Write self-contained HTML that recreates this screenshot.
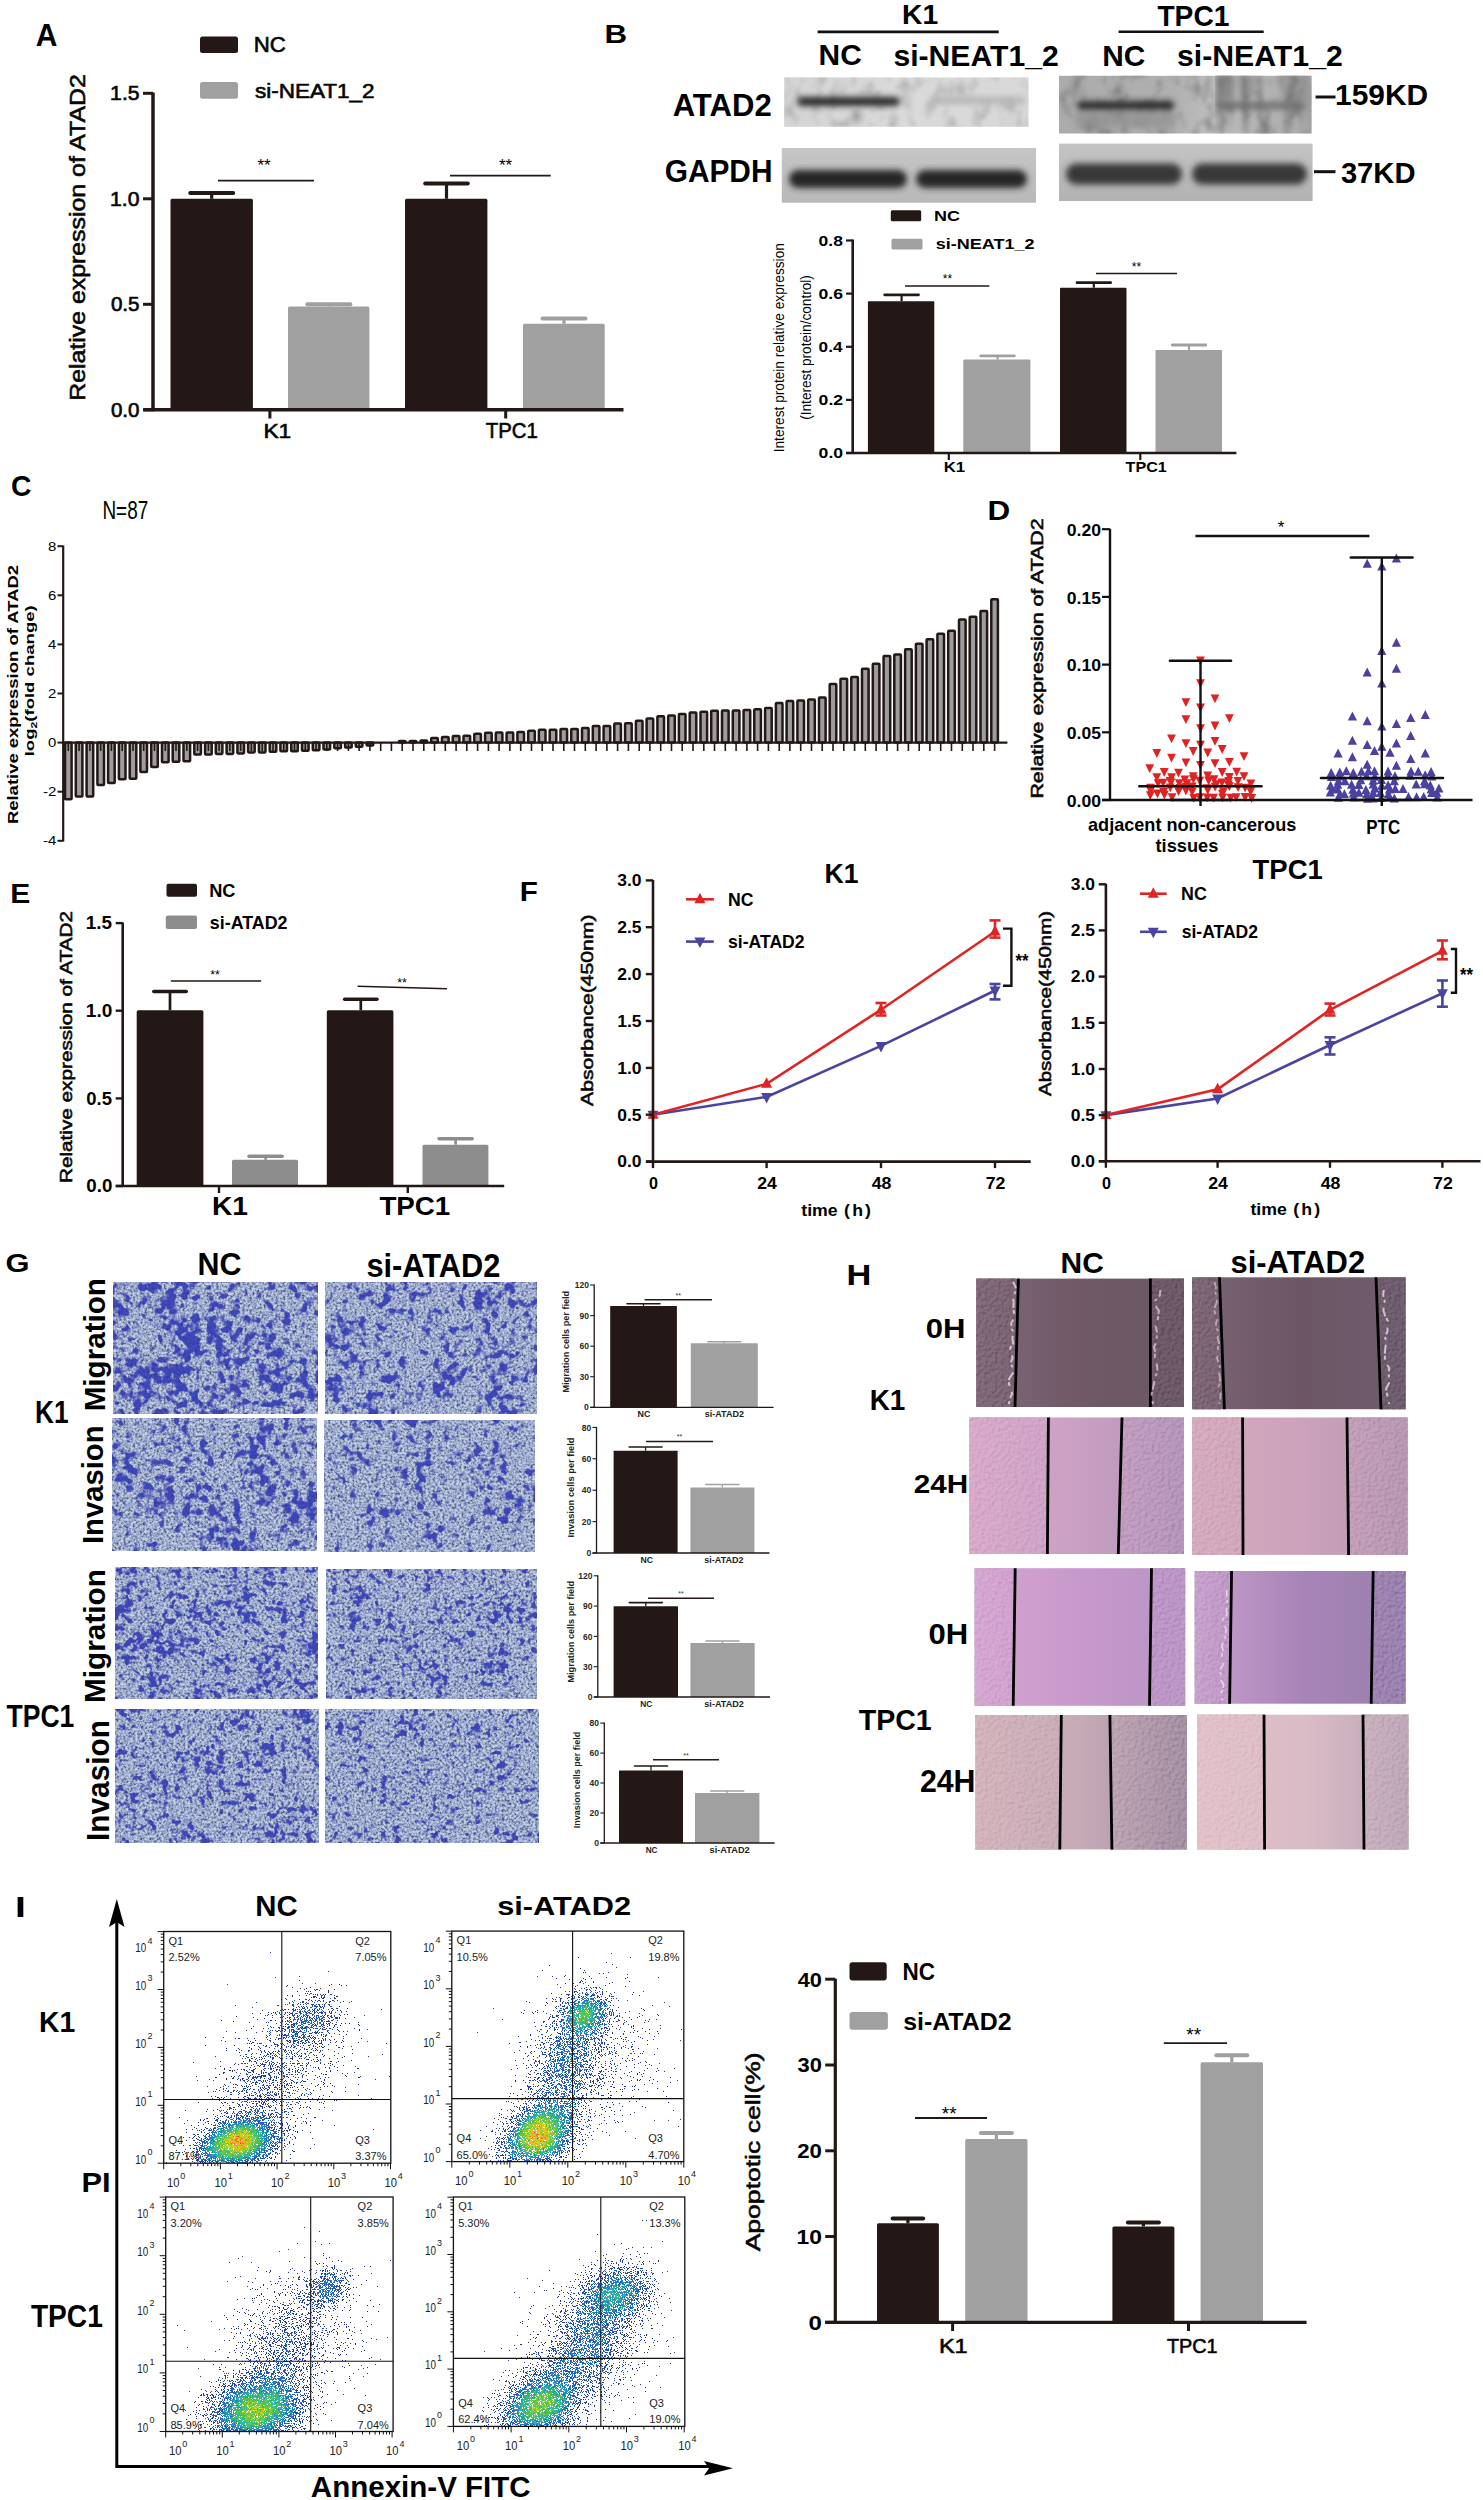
<!DOCTYPE html>
<html><head><meta charset="utf-8"><title>Figure</title>
<style>html,body{margin:0;padding:0;background:#fff;}svg{display:block;font-family:"Liberation Sans",sans-serif;}</style>
</head><body>
<svg width="1483" height="2500" viewBox="0 0 1483 2500">
<defs>
<filter id="blur2" x="-20%" y="-50%" width="140%" height="200%"><feGaussianBlur stdDeviation="2.2"/></filter>
<filter id="blur3" x="-20%" y="-60%" width="140%" height="220%"><feGaussianBlur stdDeviation="3"/></filter>
<filter id="blur6" x="-20%" y="-50%" width="140%" height="200%"><feGaussianBlur stdDeviation="6"/></filter>
<filter id="mott" x="0" y="0" width="1" height="1" color-interpolation-filters="sRGB">
 <feTurbulence type="fractalNoise" baseFrequency="0.07 0.05" numOctaves="3" seed="5" result="n"/>
 <feColorMatrix in="n" type="matrix" values="0 0 0 0 0.1  0 0 0 0 0.1  0 0 0 0 0.1  -1.6 0 0 0 0.85"/>
 <feGaussianBlur stdDeviation="1.8"/>
</filter>
<filter id="vstreak" x="0" y="0" width="1" height="1" color-interpolation-filters="sRGB">
 <feTurbulence type="fractalNoise" baseFrequency="0.06 0.008" numOctaves="2" seed="9" result="n"/>
 <feColorMatrix in="n" type="matrix" values="0 0 0 0 0.2  0 0 0 0 0.2  0 0 0 0 0.2  -2.2 0 0 0 1.2"/>
 <feGaussianBlur stdDeviation="2"/>
</filter>
<linearGradient id="gK1a" x1="0" y1="0" x2="1" y2="0"><stop offset="0" stop-color="#d4d4d4"/><stop offset="0.5" stop-color="#dadada"/><stop offset="1" stop-color="#d8d8d8"/></linearGradient>
<linearGradient id="gK1g" x1="0" y1="0" x2="0" y2="1"><stop offset="0" stop-color="#c6c6c6"/><stop offset="1" stop-color="#b8b8b8"/></linearGradient>
<linearGradient id="gT1a" x1="0" y1="0" x2="1" y2="0"><stop offset="0" stop-color="#ababab"/><stop offset="0.45" stop-color="#b0b0b0"/><stop offset="0.6" stop-color="#bdbdbd"/><stop offset="1" stop-color="#aaaaaa"/></linearGradient>
<linearGradient id="gT1g" x1="0" y1="0" x2="0" y2="1"><stop offset="0" stop-color="#c4c4c4"/><stop offset="1" stop-color="#b2b2b2"/></linearGradient>
<filter id="mg1" x="0" y="0" width="1" height="1" color-interpolation-filters="sRGB">
 <feTurbulence type="fractalNoise" baseFrequency="0.42" numOctaves="2" seed="3" result="n1"/>
 <feColorMatrix in="n1" type="matrix" values="1 0 0 0 0  1 0 0 0 0  1 0 0 0 0  0 0 0 0 1" result="n1g"/>
 <feComponentTransfer in="n1g" result="tex">
  <feFuncR type="table" tableValues="0.22 0.22 0.28 0.4 0.53 0.62 0.71 0.77 0.8 0.8 0.8"/>
  <feFuncG type="table" tableValues="0.27 0.27 0.33 0.45 0.58 0.67 0.76 0.82 0.85 0.85 0.85"/>
  <feFuncB type="table" tableValues="0.37 0.37 0.43 0.6 0.74 0.81 0.86 0.89 0.9 0.9 0.9"/>
  <feFuncA type="linear" slope="0" intercept="1"/>
 </feComponentTransfer>
 <feTurbulence type="fractalNoise" baseFrequency="0.12" numOctaves="2" seed="11" result="nh0"/>
 <feColorMatrix in="nh0" type="matrix" values="1 0 0 0 0  0 0 0 0 0  0 0 0 0 0  0 0 0 0 1" result="nh"/>
 <feTurbulence type="fractalNoise" baseFrequency="0.025" numOctaves="2" seed="61" result="nl0"/>
 <feColorMatrix in="nl0" type="matrix" values="1 0 0 0 0  0 0 0 0 0  0 0 0 0 0  0 0 0 0 1" result="nl"/>
 <feComposite in="nh" in2="nl" operator="arithmetic" k1="0" k2="0.65" k3="0.35" k4="0" result="n2"/>
 <feColorMatrix in="n2" type="matrix" values="0 0 0 0 0  0 0 0 0 0  0 0 0 0 0  10.0 0 0 0 -4.900" result="mask"/>
 <feFlood flood-color="#4a52c8" result="blue"/>
 <feComposite in="blue" in2="tex" operator="arithmetic" k1="0.45" k2="0.55" k3="0" k4="0" result="bt"/>
 <feComposite in="bt" in2="mask" operator="in" result="blobs"/>
 <feMerge><feMergeNode in="tex"/><feMergeNode in="blobs"/></feMerge>
</filter><filter id="mg2" x="0" y="0" width="1" height="1" color-interpolation-filters="sRGB">
 <feTurbulence type="fractalNoise" baseFrequency="0.42" numOctaves="2" seed="4" result="n1"/>
 <feColorMatrix in="n1" type="matrix" values="1 0 0 0 0  1 0 0 0 0  1 0 0 0 0  0 0 0 0 1" result="n1g"/>
 <feComponentTransfer in="n1g" result="tex">
  <feFuncR type="table" tableValues="0.22 0.22 0.28 0.4 0.53 0.62 0.71 0.77 0.8 0.8 0.8"/>
  <feFuncG type="table" tableValues="0.27 0.27 0.33 0.45 0.58 0.67 0.76 0.82 0.85 0.85 0.85"/>
  <feFuncB type="table" tableValues="0.37 0.37 0.43 0.6 0.74 0.81 0.86 0.89 0.9 0.9 0.9"/>
  <feFuncA type="linear" slope="0" intercept="1"/>
 </feComponentTransfer>
 <feTurbulence type="fractalNoise" baseFrequency="0.12" numOctaves="2" seed="12" result="nh0"/>
 <feColorMatrix in="nh0" type="matrix" values="1 0 0 0 0  0 0 0 0 0  0 0 0 0 0  0 0 0 0 1" result="nh"/>
 <feTurbulence type="fractalNoise" baseFrequency="0.025" numOctaves="2" seed="62" result="nl0"/>
 <feColorMatrix in="nl0" type="matrix" values="1 0 0 0 0  0 0 0 0 0  0 0 0 0 0  0 0 0 0 1" result="nl"/>
 <feComposite in="nh" in2="nl" operator="arithmetic" k1="0" k2="0.65" k3="0.35" k4="0" result="n2"/>
 <feColorMatrix in="n2" type="matrix" values="0 0 0 0 0  0 0 0 0 0  0 0 0 0 0  10.0 0 0 0 -5.250" result="mask"/>
 <feFlood flood-color="#4a52c8" result="blue"/>
 <feComposite in="blue" in2="tex" operator="arithmetic" k1="0.45" k2="0.55" k3="0" k4="0" result="bt"/>
 <feComposite in="bt" in2="mask" operator="in" result="blobs"/>
 <feMerge><feMergeNode in="tex"/><feMergeNode in="blobs"/></feMerge>
</filter><filter id="mg3" x="0" y="0" width="1" height="1" color-interpolation-filters="sRGB">
 <feTurbulence type="fractalNoise" baseFrequency="0.42" numOctaves="2" seed="5" result="n1"/>
 <feColorMatrix in="n1" type="matrix" values="1 0 0 0 0  1 0 0 0 0  1 0 0 0 0  0 0 0 0 1" result="n1g"/>
 <feComponentTransfer in="n1g" result="tex">
  <feFuncR type="table" tableValues="0.22 0.22 0.28 0.4 0.53 0.62 0.71 0.77 0.8 0.8 0.8"/>
  <feFuncG type="table" tableValues="0.27 0.27 0.33 0.45 0.58 0.67 0.76 0.82 0.85 0.85 0.85"/>
  <feFuncB type="table" tableValues="0.37 0.37 0.43 0.6 0.74 0.81 0.86 0.89 0.9 0.9 0.9"/>
  <feFuncA type="linear" slope="0" intercept="1"/>
 </feComponentTransfer>
 <feTurbulence type="fractalNoise" baseFrequency="0.12" numOctaves="2" seed="13" result="nh0"/>
 <feColorMatrix in="nh0" type="matrix" values="1 0 0 0 0  0 0 0 0 0  0 0 0 0 0  0 0 0 0 1" result="nh"/>
 <feTurbulence type="fractalNoise" baseFrequency="0.025" numOctaves="2" seed="63" result="nl0"/>
 <feColorMatrix in="nl0" type="matrix" values="1 0 0 0 0  0 0 0 0 0  0 0 0 0 0  0 0 0 0 1" result="nl"/>
 <feComposite in="nh" in2="nl" operator="arithmetic" k1="0" k2="0.65" k3="0.35" k4="0" result="n2"/>
 <feColorMatrix in="n2" type="matrix" values="0 0 0 0 0  0 0 0 0 0  0 0 0 0 0  10.0 0 0 0 -5.200" result="mask"/>
 <feFlood flood-color="#4a52c8" result="blue"/>
 <feComposite in="blue" in2="tex" operator="arithmetic" k1="0.45" k2="0.55" k3="0" k4="0" result="bt"/>
 <feComposite in="bt" in2="mask" operator="in" result="blobs"/>
 <feMerge><feMergeNode in="tex"/><feMergeNode in="blobs"/></feMerge>
</filter><filter id="mg4" x="0" y="0" width="1" height="1" color-interpolation-filters="sRGB">
 <feTurbulence type="fractalNoise" baseFrequency="0.42" numOctaves="2" seed="6" result="n1"/>
 <feColorMatrix in="n1" type="matrix" values="1 0 0 0 0  1 0 0 0 0  1 0 0 0 0  0 0 0 0 1" result="n1g"/>
 <feComponentTransfer in="n1g" result="tex">
  <feFuncR type="table" tableValues="0.22 0.22 0.28 0.4 0.53 0.62 0.71 0.77 0.8 0.8 0.8"/>
  <feFuncG type="table" tableValues="0.27 0.27 0.33 0.45 0.58 0.67 0.76 0.82 0.85 0.85 0.85"/>
  <feFuncB type="table" tableValues="0.37 0.37 0.43 0.6 0.74 0.81 0.86 0.89 0.9 0.9 0.9"/>
  <feFuncA type="linear" slope="0" intercept="1"/>
 </feComponentTransfer>
 <feTurbulence type="fractalNoise" baseFrequency="0.12" numOctaves="2" seed="14" result="nh0"/>
 <feColorMatrix in="nh0" type="matrix" values="1 0 0 0 0  0 0 0 0 0  0 0 0 0 0  0 0 0 0 1" result="nh"/>
 <feTurbulence type="fractalNoise" baseFrequency="0.025" numOctaves="2" seed="64" result="nl0"/>
 <feColorMatrix in="nl0" type="matrix" values="1 0 0 0 0  0 0 0 0 0  0 0 0 0 0  0 0 0 0 1" result="nl"/>
 <feComposite in="nh" in2="nl" operator="arithmetic" k1="0" k2="0.65" k3="0.35" k4="0" result="n2"/>
 <feColorMatrix in="n2" type="matrix" values="0 0 0 0 0  0 0 0 0 0  0 0 0 0 0  10.0 0 0 0 -5.500" result="mask"/>
 <feFlood flood-color="#4a52c8" result="blue"/>
 <feComposite in="blue" in2="tex" operator="arithmetic" k1="0.45" k2="0.55" k3="0" k4="0" result="bt"/>
 <feComposite in="bt" in2="mask" operator="in" result="blobs"/>
 <feMerge><feMergeNode in="tex"/><feMergeNode in="blobs"/></feMerge>
</filter><filter id="mg5" x="0" y="0" width="1" height="1" color-interpolation-filters="sRGB">
 <feTurbulence type="fractalNoise" baseFrequency="0.42" numOctaves="2" seed="7" result="n1"/>
 <feColorMatrix in="n1" type="matrix" values="1 0 0 0 0  1 0 0 0 0  1 0 0 0 0  0 0 0 0 1" result="n1g"/>
 <feComponentTransfer in="n1g" result="tex">
  <feFuncR type="table" tableValues="0.22 0.22 0.28 0.4 0.53 0.62 0.71 0.77 0.8 0.8 0.8"/>
  <feFuncG type="table" tableValues="0.27 0.27 0.33 0.45 0.58 0.67 0.76 0.82 0.85 0.85 0.85"/>
  <feFuncB type="table" tableValues="0.37 0.37 0.43 0.6 0.74 0.81 0.86 0.89 0.9 0.9 0.9"/>
  <feFuncA type="linear" slope="0" intercept="1"/>
 </feComponentTransfer>
 <feTurbulence type="fractalNoise" baseFrequency="0.16" numOctaves="2" seed="15" result="nh0"/>
 <feColorMatrix in="nh0" type="matrix" values="1 0 0 0 0  0 0 0 0 0  0 0 0 0 0  0 0 0 0 1" result="nh"/>
 <feTurbulence type="fractalNoise" baseFrequency="0.035" numOctaves="2" seed="65" result="nl0"/>
 <feColorMatrix in="nl0" type="matrix" values="1 0 0 0 0  0 0 0 0 0  0 0 0 0 0  0 0 0 0 1" result="nl"/>
 <feComposite in="nh" in2="nl" operator="arithmetic" k1="0" k2="0.65" k3="0.35" k4="0" result="n2"/>
 <feColorMatrix in="n2" type="matrix" values="0 0 0 0 0  0 0 0 0 0  0 0 0 0 0  10.0 0 0 0 -5.150" result="mask"/>
 <feFlood flood-color="#4a52c8" result="blue"/>
 <feComposite in="blue" in2="tex" operator="arithmetic" k1="0.45" k2="0.55" k3="0" k4="0" result="bt"/>
 <feComposite in="bt" in2="mask" operator="in" result="blobs"/>
 <feMerge><feMergeNode in="tex"/><feMergeNode in="blobs"/></feMerge>
</filter><filter id="mg6" x="0" y="0" width="1" height="1" color-interpolation-filters="sRGB">
 <feTurbulence type="fractalNoise" baseFrequency="0.42" numOctaves="2" seed="8" result="n1"/>
 <feColorMatrix in="n1" type="matrix" values="1 0 0 0 0  1 0 0 0 0  1 0 0 0 0  0 0 0 0 1" result="n1g"/>
 <feComponentTransfer in="n1g" result="tex">
  <feFuncR type="table" tableValues="0.22 0.22 0.28 0.4 0.53 0.62 0.71 0.77 0.8 0.8 0.8"/>
  <feFuncG type="table" tableValues="0.27 0.27 0.33 0.45 0.58 0.67 0.76 0.82 0.85 0.85 0.85"/>
  <feFuncB type="table" tableValues="0.37 0.37 0.43 0.6 0.74 0.81 0.86 0.89 0.9 0.9 0.9"/>
  <feFuncA type="linear" slope="0" intercept="1"/>
 </feComponentTransfer>
 <feTurbulence type="fractalNoise" baseFrequency="0.16" numOctaves="2" seed="16" result="nh0"/>
 <feColorMatrix in="nh0" type="matrix" values="1 0 0 0 0  0 0 0 0 0  0 0 0 0 0  0 0 0 0 1" result="nh"/>
 <feTurbulence type="fractalNoise" baseFrequency="0.035" numOctaves="2" seed="66" result="nl0"/>
 <feColorMatrix in="nl0" type="matrix" values="1 0 0 0 0  0 0 0 0 0  0 0 0 0 0  0 0 0 0 1" result="nl"/>
 <feComposite in="nh" in2="nl" operator="arithmetic" k1="0" k2="0.65" k3="0.35" k4="0" result="n2"/>
 <feColorMatrix in="n2" type="matrix" values="0 0 0 0 0  0 0 0 0 0  0 0 0 0 0  10.0 0 0 0 -5.400" result="mask"/>
 <feFlood flood-color="#4a52c8" result="blue"/>
 <feComposite in="blue" in2="tex" operator="arithmetic" k1="0.45" k2="0.55" k3="0" k4="0" result="bt"/>
 <feComposite in="bt" in2="mask" operator="in" result="blobs"/>
 <feMerge><feMergeNode in="tex"/><feMergeNode in="blobs"/></feMerge>
</filter><filter id="mg7" x="0" y="0" width="1" height="1" color-interpolation-filters="sRGB">
 <feTurbulence type="fractalNoise" baseFrequency="0.42" numOctaves="2" seed="9" result="n1"/>
 <feColorMatrix in="n1" type="matrix" values="1 0 0 0 0  1 0 0 0 0  1 0 0 0 0  0 0 0 0 1" result="n1g"/>
 <feComponentTransfer in="n1g" result="tex">
  <feFuncR type="table" tableValues="0.22 0.22 0.28 0.4 0.53 0.62 0.71 0.77 0.8 0.8 0.8"/>
  <feFuncG type="table" tableValues="0.27 0.27 0.33 0.45 0.58 0.67 0.76 0.82 0.85 0.85 0.85"/>
  <feFuncB type="table" tableValues="0.37 0.37 0.43 0.6 0.74 0.81 0.86 0.89 0.9 0.9 0.9"/>
  <feFuncA type="linear" slope="0" intercept="1"/>
 </feComponentTransfer>
 <feTurbulence type="fractalNoise" baseFrequency="0.16" numOctaves="2" seed="17" result="nh0"/>
 <feColorMatrix in="nh0" type="matrix" values="1 0 0 0 0  0 0 0 0 0  0 0 0 0 0  0 0 0 0 1" result="nh"/>
 <feTurbulence type="fractalNoise" baseFrequency="0.035" numOctaves="2" seed="67" result="nl0"/>
 <feColorMatrix in="nl0" type="matrix" values="1 0 0 0 0  0 0 0 0 0  0 0 0 0 0  0 0 0 0 1" result="nl"/>
 <feComposite in="nh" in2="nl" operator="arithmetic" k1="0" k2="0.65" k3="0.35" k4="0" result="n2"/>
 <feColorMatrix in="n2" type="matrix" values="0 0 0 0 0  0 0 0 0 0  0 0 0 0 0  10.0 0 0 0 -5.350" result="mask"/>
 <feFlood flood-color="#4a52c8" result="blue"/>
 <feComposite in="blue" in2="tex" operator="arithmetic" k1="0.45" k2="0.55" k3="0" k4="0" result="bt"/>
 <feComposite in="bt" in2="mask" operator="in" result="blobs"/>
 <feMerge><feMergeNode in="tex"/><feMergeNode in="blobs"/></feMerge>
</filter><filter id="mg8" x="0" y="0" width="1" height="1" color-interpolation-filters="sRGB">
 <feTurbulence type="fractalNoise" baseFrequency="0.42" numOctaves="2" seed="10" result="n1"/>
 <feColorMatrix in="n1" type="matrix" values="1 0 0 0 0  1 0 0 0 0  1 0 0 0 0  0 0 0 0 1" result="n1g"/>
 <feComponentTransfer in="n1g" result="tex">
  <feFuncR type="table" tableValues="0.22 0.22 0.28 0.4 0.53 0.62 0.71 0.77 0.8 0.8 0.8"/>
  <feFuncG type="table" tableValues="0.27 0.27 0.33 0.45 0.58 0.67 0.76 0.82 0.85 0.85 0.85"/>
  <feFuncB type="table" tableValues="0.37 0.37 0.43 0.6 0.74 0.81 0.86 0.89 0.9 0.9 0.9"/>
  <feFuncA type="linear" slope="0" intercept="1"/>
 </feComponentTransfer>
 <feTurbulence type="fractalNoise" baseFrequency="0.16" numOctaves="2" seed="18" result="nh0"/>
 <feColorMatrix in="nh0" type="matrix" values="1 0 0 0 0  0 0 0 0 0  0 0 0 0 0  0 0 0 0 1" result="nh"/>
 <feTurbulence type="fractalNoise" baseFrequency="0.035" numOctaves="2" seed="68" result="nl0"/>
 <feColorMatrix in="nl0" type="matrix" values="1 0 0 0 0  0 0 0 0 0  0 0 0 0 0  0 0 0 0 1" result="nl"/>
 <feComposite in="nh" in2="nl" operator="arithmetic" k1="0" k2="0.65" k3="0.35" k4="0" result="n2"/>
 <feColorMatrix in="n2" type="matrix" values="0 0 0 0 0  0 0 0 0 0  0 0 0 0 0  10.0 0 0 0 -5.550" result="mask"/>
 <feFlood flood-color="#4a52c8" result="blue"/>
 <feComposite in="blue" in2="tex" operator="arithmetic" k1="0.45" k2="0.55" k3="0" k4="0" result="bt"/>
 <feComposite in="bt" in2="mask" operator="in" result="blobs"/>
 <feMerge><feMergeNode in="tex"/><feMergeNode in="blobs"/></feMerge>
</filter><filter id="htex" x="0" y="0" width="1" height="1" color-interpolation-filters="sRGB">
 <feTurbulence type="fractalNoise" baseFrequency="0.3" numOctaves="2" seed="21" result="n"/>
 <feDiffuseLighting in="n" surfaceScale="2" lighting-color="#fff" diffuseConstant="1" result="lt"><feDistantLight azimuth="225" elevation="60"/></feDiffuseLighting>
 <feColorMatrix in="lt" type="matrix" values="1 0 0 0 -0.3  1 0 0 0 -0.3  1 0 0 0 -0.3  0 0 0 0 1" result="lg"/>
 <feBlend in="lg" in2="SourceGraphic" mode="overlay" result="b"/>
 <feComposite in="b" in2="SourceGraphic" operator="arithmetic" k1="0" k2="0.22" k3="0.78" k4="0"/>
</filter><linearGradient id="h1g" gradientUnits="userSpaceOnUse" x1="976.3" y1="0" x2="1184" y2="0"><stop offset="0" stop-color="#7e6878"/><stop offset="0.5" stop-color="#705866"/><stop offset="1" stop-color="#6c5866"/></linearGradient><linearGradient id="h2g" gradientUnits="userSpaceOnUse" x1="1192" y1="0" x2="1405.6" y2="0"><stop offset="0" stop-color="#7c6676"/><stop offset="0.5" stop-color="#6c5664"/><stop offset="1" stop-color="#6e5c6e"/></linearGradient><linearGradient id="h3g" gradientUnits="userSpaceOnUse" x1="969.5" y1="0" x2="1183.8" y2="0"><stop offset="0" stop-color="#d8a8c8"/><stop offset="0.5" stop-color="#caa0c4"/><stop offset="1" stop-color="#b294b8"/></linearGradient><linearGradient id="h4g" gradientUnits="userSpaceOnUse" x1="1192" y1="0" x2="1407.6" y2="0"><stop offset="0" stop-color="#d4aabc"/><stop offset="0.5" stop-color="#cca2bc"/><stop offset="1" stop-color="#b696b0"/></linearGradient><linearGradient id="h5g" gradientUnits="userSpaceOnUse" x1="974.7" y1="0" x2="1185.1" y2="0"><stop offset="0" stop-color="#d4a6d0"/><stop offset="0.5" stop-color="#c898cc"/><stop offset="1" stop-color="#b894c4"/></linearGradient><linearGradient id="h6g" gradientUnits="userSpaceOnUse" x1="1194.8" y1="0" x2="1405.6" y2="0"><stop offset="0" stop-color="#c8a0cc"/><stop offset="0.5" stop-color="#a884b8"/><stop offset="1" stop-color="#9880ac"/></linearGradient><linearGradient id="h7g" gradientUnits="userSpaceOnUse" x1="975.5" y1="0" x2="1186.7" y2="0"><stop offset="0" stop-color="#d2b2ba"/><stop offset="0.5" stop-color="#c6aab6"/><stop offset="1" stop-color="#a28ea2"/></linearGradient><linearGradient id="h8g" gradientUnits="userSpaceOnUse" x1="1197.2" y1="0" x2="1408.4" y2="0"><stop offset="0" stop-color="#e2c0c8"/><stop offset="0.5" stop-color="#dabcc6"/><stop offset="1" stop-color="#bca6b6"/></linearGradient></defs>
<rect width="1483" height="2500" fill="#fff"/>
<text x="35.7" y="46.1" font-size="31.1" font-weight="bold" textLength="21.7" lengthAdjust="spacingAndGlyphs">A</text>
<rect x="200" y="36.4" width="38" height="16.6" fill="#231815" rx="2.5"/>
<text x="253.8" y="52.3" font-size="21.2" textLength="32.1" lengthAdjust="spacingAndGlyphs" stroke="#111" stroke-width="0.65">NC</text>
<rect x="200" y="82" width="38" height="16.7" fill="#a0a0a0" rx="2.5"/>
<text x="254.9" y="98.2" font-size="20.2" textLength="119.7" lengthAdjust="spacingAndGlyphs" stroke="#111" stroke-width="0.65">si-NEAT1_2</text>
<rect x="170.5" y="198.8" width="82.4" height="211" fill="#231815" rx="1.5"/>
<rect x="288" y="306.4" width="81.4" height="103.4" fill="#a0a0a0" rx="1.5"/>
<rect x="405" y="198.8" width="82.4" height="211" fill="#231815" rx="1.5"/>
<rect x="523" y="323.8" width="81.7" height="86" fill="#a0a0a0" rx="1.5"/>
<line x1="211.7" y1="193" x2="211.7" y2="198.8" stroke="#231815" stroke-width="3.2"/>
<line x1="190.2" y1="193" x2="233.2" y2="193" stroke="#231815" stroke-width="4" stroke-linecap="round"/>
<line x1="328.9" y1="304.2" x2="328.9" y2="306.4" stroke="#a0a0a0" stroke-width="3.2"/>
<line x1="307.4" y1="304.2" x2="350.4" y2="304.2" stroke="#a0a0a0" stroke-width="4" stroke-linecap="round"/>
<line x1="446.5" y1="183.4" x2="446.5" y2="198.8" stroke="#231815" stroke-width="3.2"/>
<line x1="425.2" y1="183.4" x2="467.8" y2="183.4" stroke="#231815" stroke-width="4" stroke-linecap="round"/>
<line x1="564" y1="318.6" x2="564" y2="323.8" stroke="#a0a0a0" stroke-width="3.2"/>
<line x1="542.5" y1="318.6" x2="585.5" y2="318.6" stroke="#a0a0a0" stroke-width="4" stroke-linecap="round"/>
<line x1="153" y1="92.5" x2="153" y2="411.3" stroke="#231815" stroke-width="3.5"/>
<line x1="143.5" y1="409.8" x2="623.5" y2="409.8" stroke="#231815" stroke-width="3.5"/>
<line x1="143" y1="93.3" x2="153" y2="93.3" stroke="#231815" stroke-width="3"/>
<text x="110.1" y="100.3" font-size="19.3" textLength="29.5" lengthAdjust="spacingAndGlyphs" stroke="#111" stroke-width="0.65">1.5</text>
<line x1="143" y1="198.8" x2="153" y2="198.8" stroke="#231815" stroke-width="3"/>
<text x="110.1" y="205.8" font-size="19.3" textLength="29.4" lengthAdjust="spacingAndGlyphs" stroke="#111" stroke-width="0.65">1.0</text>
<line x1="143" y1="304.3" x2="153" y2="304.3" stroke="#231815" stroke-width="3"/>
<text x="110.9" y="311.3" font-size="19.3" textLength="28.7" lengthAdjust="spacingAndGlyphs" stroke="#111" stroke-width="0.65">0.5</text>
<line x1="143" y1="409.8" x2="153" y2="409.8" stroke="#231815" stroke-width="3"/>
<text x="110.9" y="416.8" font-size="19.3" textLength="28.6" lengthAdjust="spacingAndGlyphs" stroke="#111" stroke-width="0.65">0.0</text>
<line x1="269.9" y1="409.8" x2="269.9" y2="418.5" stroke="#231815" stroke-width="3"/>
<line x1="505.7" y1="409.8" x2="505.7" y2="418.5" stroke="#231815" stroke-width="3"/>
<text x="263.4" y="438.4" font-size="20.9" textLength="27.9" lengthAdjust="spacingAndGlyphs" stroke="#111" stroke-width="0.65">K1</text>
<text x="485.8" y="438.2" font-size="22.4" textLength="52.1" lengthAdjust="spacingAndGlyphs" stroke="#111" stroke-width="0.65">TPC1</text>
<line x1="218" y1="180.7" x2="314" y2="180.7" stroke="#231815" stroke-width="1.8"/>
<text x="264" y="170.7" font-size="17" text-anchor="middle">**</text>
<line x1="450" y1="175.7" x2="550.7" y2="175.7" stroke="#231815" stroke-width="1.8"/>
<text x="505.6" y="171.2" font-size="17" text-anchor="middle">**</text>
<text x="84.7" y="400.8" font-size="21.2" textLength="326.6" lengthAdjust="spacingAndGlyphs" transform="rotate(-90 84.7 400.8)" stroke="#111" stroke-width="0.6">Relative expression of ATAD2</text>
<text x="604.6" y="42.5" font-size="26.5" font-weight="bold" textLength="22.6" lengthAdjust="spacingAndGlyphs">B</text>
<text x="902.1" y="23.7" font-size="27.8" font-weight="bold" textLength="36.1" lengthAdjust="spacingAndGlyphs">K1</text>
<line x1="817.6" y1="31.9" x2="998.7" y2="31.9" stroke="#111" stroke-width="2.6"/>
<text x="1157.4" y="26" font-size="29.8" font-weight="bold" textLength="72" lengthAdjust="spacingAndGlyphs">TPC1</text>
<line x1="1118.6" y1="31.8" x2="1263.7" y2="31.8" stroke="#111" stroke-width="2.6"/>
<text x="818.6" y="65.2" font-size="28.6" font-weight="bold" textLength="43.2" lengthAdjust="spacingAndGlyphs">NC</text>
<text x="893.4" y="65.5" font-size="29.1" font-weight="bold" textLength="165.3" lengthAdjust="spacingAndGlyphs">si-NEAT1_2</text>
<text x="1102.2" y="65.7" font-size="29.4" font-weight="bold" textLength="43.1" lengthAdjust="spacingAndGlyphs">NC</text>
<text x="1177" y="65.7" font-size="29.4" font-weight="bold" textLength="165.8" lengthAdjust="spacingAndGlyphs">si-NEAT1_2</text>
<text x="672.7" y="116.2" font-size="31.3" font-weight="bold" textLength="99" lengthAdjust="spacingAndGlyphs">ATAD2</text>
<text x="664.7" y="182" font-size="30.8" font-weight="bold" textLength="107.8" lengthAdjust="spacingAndGlyphs">GAPDH</text>
<line x1="1315.6" y1="97" x2="1335.5" y2="97" stroke="#111" stroke-width="3"/>
<text x="1335.1" y="105.4" font-size="28.9" font-weight="bold" textLength="93.1" lengthAdjust="spacingAndGlyphs">159KD</text>
<line x1="1314" y1="171.7" x2="1335.5" y2="171.7" stroke="#111" stroke-width="3"/>
<text x="1340.9" y="183.3" font-size="28.9" font-weight="bold" textLength="74.6" lengthAdjust="spacingAndGlyphs">37KD</text>
<rect x="784.2" y="77.4" width="244.3" height="49.4" fill="url(#gK1a)"/>
<rect x="784.2" y="77.4" width="244.3" height="49.4" fill="#fff" filter="url(#mott)" opacity="0.3"/>
<g filter="url(#blur3)"><rect x="797" y="97" width="103" height="9" rx="4.5" fill="#262626"/><rect x="852" y="110" width="9" height="12" fill="#888" opacity="0.7"/><rect x="930" y="97" width="95" height="7" rx="3" fill="#b4b4b4"/></g>
<rect x="781.8" y="148" width="254.2" height="54.7" fill="url(#gK1g)"/>
<g filter="url(#blur3)"><rect x="789" y="170" width="118" height="18" rx="9" fill="#262626"/><rect x="916" y="170" width="111" height="18" rx="9" fill="#262626"/></g>
<rect x="1059" y="75.8" width="252.6" height="57.7" fill="url(#gT1a)"/>
<rect x="1059" y="75.8" width="252.6" height="57.7" fill="#fff" filter="url(#mott)" opacity="0.45"/>
<rect x="1215" y="75.8" width="96.6" height="57.7" fill="#fff" filter="url(#vstreak)" opacity="0.55"/>
<g filter="url(#blur3)"><rect x="1077" y="101" width="97" height="9" rx="4" fill="#2c2c2c"/><rect x="1075" y="112" width="100" height="16" fill="#8a8a8a" opacity="0.6"/><rect x="1216" y="102" width="88" height="7" rx="3" fill="#6e6e6e"/></g>
<rect x="1059" y="143.6" width="253.6" height="57.4" fill="url(#gT1g)"/>
<g filter="url(#blur3)"><rect x="1066" y="163.5" width="116" height="21" rx="10.5" fill="#393939"/><rect x="1192" y="163.5" width="115" height="21" rx="10.5" fill="#393939"/></g>
<rect x="890.8" y="210.2" width="30.4" height="11.1" fill="#231815" rx="1.5"/>
<text x="934.1" y="221.1" font-size="15.4" font-weight="bold" textLength="26" lengthAdjust="spacingAndGlyphs">NC</text>
<rect x="891.5" y="238.8" width="31" height="10.8" fill="#a0a0a0" rx="1.5"/>
<text x="935.7" y="249.4" font-size="15.1" font-weight="bold" textLength="98.8" lengthAdjust="spacingAndGlyphs">si-NEAT1_2</text>
<rect x="867.9" y="301.2" width="66.4" height="151.8" fill="#231815" rx="1"/>
<rect x="963.3" y="359.5" width="67.1" height="93.5" fill="#a0a0a0" rx="1"/>
<rect x="1060" y="287.7" width="66.5" height="165.3" fill="#231815" rx="1"/>
<rect x="1155.5" y="350" width="66.5" height="103" fill="#a0a0a0" rx="1"/>
<line x1="901.6" y1="294.8" x2="901.6" y2="301.2" stroke="#231815" stroke-width="2.2"/>
<line x1="884.7" y1="294.8" x2="918.5" y2="294.8" stroke="#231815" stroke-width="2.8" stroke-linecap="round"/>
<line x1="997.6" y1="355.8" x2="997.6" y2="359.5" stroke="#a0a0a0" stroke-width="2.2"/>
<line x1="980.8" y1="355.8" x2="1014.4" y2="355.8" stroke="#a0a0a0" stroke-width="2.8" stroke-linecap="round"/>
<line x1="1093.8" y1="282.7" x2="1093.8" y2="287.7" stroke="#231815" stroke-width="2.2"/>
<line x1="1077" y1="282.7" x2="1110.6" y2="282.7" stroke="#231815" stroke-width="2.8" stroke-linecap="round"/>
<line x1="1189" y1="345" x2="1189" y2="350" stroke="#a0a0a0" stroke-width="2.2"/>
<line x1="1172.3" y1="345" x2="1205.7" y2="345" stroke="#a0a0a0" stroke-width="2.8" stroke-linecap="round"/>
<line x1="852.7" y1="239.5" x2="852.7" y2="454" stroke="#231815" stroke-width="2.6"/>
<line x1="846" y1="453" x2="1236.4" y2="453" stroke="#231815" stroke-width="2.6"/>
<line x1="846" y1="240.5" x2="852.7" y2="240.5" stroke="#231815" stroke-width="2.2"/>
<text x="818.6" y="245.5" font-size="14.5" font-weight="bold" textLength="24.3" lengthAdjust="spacingAndGlyphs">0.8</text>
<line x1="846" y1="293.6" x2="852.7" y2="293.6" stroke="#231815" stroke-width="2.2"/>
<text x="818.6" y="298.6" font-size="14.5" font-weight="bold" textLength="24.4" lengthAdjust="spacingAndGlyphs">0.6</text>
<line x1="846" y1="346.8" x2="852.7" y2="346.8" stroke="#231815" stroke-width="2.2"/>
<text x="818.6" y="351.8" font-size="14.5" font-weight="bold" textLength="23.9" lengthAdjust="spacingAndGlyphs">0.4</text>
<line x1="846" y1="399.9" x2="852.7" y2="399.9" stroke="#231815" stroke-width="2.2"/>
<text x="818.6" y="404.9" font-size="14.5" font-weight="bold" textLength="24.5" lengthAdjust="spacingAndGlyphs">0.2</text>
<line x1="846" y1="453" x2="852.7" y2="453" stroke="#231815" stroke-width="2.2"/>
<text x="818.6" y="458" font-size="14.5" font-weight="bold" textLength="24.5" lengthAdjust="spacingAndGlyphs">0.0</text>
<line x1="948.8" y1="453" x2="948.8" y2="460" stroke="#231815" stroke-width="2.2"/>
<line x1="1140.3" y1="453" x2="1140.3" y2="460" stroke="#231815" stroke-width="2.2"/>
<text x="943.7" y="472" font-size="15.3" font-weight="bold" textLength="21.5" lengthAdjust="spacingAndGlyphs">K1</text>
<text x="1125.6" y="472" font-size="15.3" font-weight="bold" textLength="41.1" lengthAdjust="spacingAndGlyphs">TPC1</text>
<line x1="905" y1="286" x2="989.3" y2="286" stroke="#231815" stroke-width="1.5"/>
<text x="947.5" y="283.4" font-size="12" text-anchor="middle">**</text>
<line x1="1096" y1="273.6" x2="1177" y2="273.6" stroke="#231815" stroke-width="1.5"/>
<text x="1136.5" y="271.4" font-size="12" text-anchor="middle">**</text>
<text x="783.9" y="452.3" font-size="15" textLength="209.2" lengthAdjust="spacingAndGlyphs" transform="rotate(-90 783.9 452.3)">Interest protein relative expression</text>
<text x="810.9" y="419.8" font-size="15" textLength="144.7" lengthAdjust="spacingAndGlyphs" transform="rotate(-90 810.9 419.8)">(Interest protein/control)</text>
<text x="11.1" y="496.3" font-size="29.1" font-weight="bold" textLength="20.5" lengthAdjust="spacingAndGlyphs">C</text>
<text x="102.4" y="519" font-size="25.3" textLength="45.8" lengthAdjust="spacingAndGlyphs">N=87</text>
<rect x="65" y="742.6" width="6.6" height="56.7" fill="#9d9d9d" stroke="#231815" stroke-width="2.5" rx="0.8"/>
<rect x="75.8" y="742.6" width="6.6" height="54" fill="#9d9d9d" stroke="#231815" stroke-width="2.5" rx="0.8"/>
<rect x="86.6" y="742.6" width="6.6" height="54" fill="#9d9d9d" stroke="#231815" stroke-width="2.5" rx="0.8"/>
<rect x="97.4" y="742.6" width="6.6" height="42.5" fill="#9d9d9d" stroke="#231815" stroke-width="2.5" rx="0.8"/>
<rect x="108.1" y="742.6" width="6.6" height="40.5" fill="#9d9d9d" stroke="#231815" stroke-width="2.5" rx="0.8"/>
<rect x="118.9" y="742.6" width="6.6" height="36.6" fill="#9d9d9d" stroke="#231815" stroke-width="2.5" rx="0.8"/>
<rect x="129.7" y="742.6" width="6.6" height="36.1" fill="#9d9d9d" stroke="#231815" stroke-width="2.5" rx="0.8"/>
<rect x="140.4" y="742.6" width="6.6" height="29.5" fill="#9d9d9d" stroke="#231815" stroke-width="2.5" rx="0.8"/>
<rect x="151.2" y="742.6" width="6.6" height="24.5" fill="#9d9d9d" stroke="#231815" stroke-width="2.5" rx="0.8"/>
<rect x="162" y="742.6" width="6.6" height="19.6" fill="#9d9d9d" stroke="#231815" stroke-width="2.5" rx="0.8"/>
<rect x="172.7" y="742.6" width="6.6" height="19.1" fill="#9d9d9d" stroke="#231815" stroke-width="2.5" rx="0.8"/>
<rect x="183.5" y="742.6" width="6.6" height="18.7" fill="#9d9d9d" stroke="#231815" stroke-width="2.5" rx="0.8"/>
<rect x="194.3" y="742.6" width="6.6" height="12" fill="#9d9d9d" stroke="#231815" stroke-width="2.5" rx="0.8"/>
<rect x="205.1" y="742.6" width="6.6" height="12" fill="#9d9d9d" stroke="#231815" stroke-width="2.5" rx="0.8"/>
<rect x="215.8" y="742.6" width="6.6" height="11.3" fill="#9d9d9d" stroke="#231815" stroke-width="2.5" rx="0.8"/>
<rect x="226.6" y="742.6" width="6.6" height="11.3" fill="#9d9d9d" stroke="#231815" stroke-width="2.5" rx="0.8"/>
<rect x="237.4" y="742.6" width="6.6" height="10.8" fill="#9d9d9d" stroke="#231815" stroke-width="2.5" rx="0.8"/>
<rect x="248.1" y="742.6" width="6.6" height="9.8" fill="#9d9d9d" stroke="#231815" stroke-width="2.5" rx="0.8"/>
<rect x="258.9" y="742.6" width="6.6" height="9.8" fill="#9d9d9d" stroke="#231815" stroke-width="2.5" rx="0.8"/>
<rect x="269.7" y="742.6" width="6.6" height="9.1" fill="#9d9d9d" stroke="#231815" stroke-width="2.5" rx="0.8"/>
<rect x="280.4" y="742.6" width="6.6" height="8.6" fill="#9d9d9d" stroke="#231815" stroke-width="2.5" rx="0.8"/>
<rect x="291.2" y="742.6" width="6.6" height="8.6" fill="#9d9d9d" stroke="#231815" stroke-width="2.5" rx="0.8"/>
<rect x="302" y="742.6" width="6.6" height="8.1" fill="#9d9d9d" stroke="#231815" stroke-width="2.5" rx="0.8"/>
<rect x="312.8" y="742.6" width="6.6" height="7.6" fill="#9d9d9d" stroke="#231815" stroke-width="2.5" rx="0.8"/>
<rect x="323.5" y="742.6" width="6.6" height="6.9" fill="#9d9d9d" stroke="#231815" stroke-width="2.5" rx="0.8"/>
<rect x="334.3" y="742.6" width="6.6" height="5.6" fill="#9d9d9d" stroke="#231815" stroke-width="2.5" rx="0.8"/>
<rect x="345.1" y="742.6" width="6.6" height="4.9" fill="#9d9d9d" stroke="#231815" stroke-width="2.5" rx="0.8"/>
<rect x="355.8" y="742.6" width="6.6" height="4.2" fill="#9d9d9d" stroke="#231815" stroke-width="2.5" rx="0.8"/>
<rect x="366.6" y="742.6" width="6.6" height="2.9" fill="#9d9d9d" stroke="#231815" stroke-width="2.5" rx="0.8"/>
<rect x="398.9" y="741.1" width="6.6" height="1.5" fill="#9d9d9d" stroke="#231815" stroke-width="2.5" rx="0.8"/>
<rect x="409.7" y="740.9" width="6.6" height="1.7" fill="#9d9d9d" stroke="#231815" stroke-width="2.5" rx="0.8"/>
<rect x="420.5" y="740.4" width="6.6" height="2.2" fill="#9d9d9d" stroke="#231815" stroke-width="2.5" rx="0.8"/>
<rect x="431.2" y="737.9" width="6.6" height="4.7" fill="#9d9d9d" stroke="#231815" stroke-width="2.5" rx="0.8"/>
<rect x="442" y="737" width="6.6" height="5.6" fill="#9d9d9d" stroke="#231815" stroke-width="2.5" rx="0.8"/>
<rect x="452.8" y="736" width="6.6" height="6.6" fill="#9d9d9d" stroke="#231815" stroke-width="2.5" rx="0.8"/>
<rect x="463.5" y="735.7" width="6.6" height="6.9" fill="#9d9d9d" stroke="#231815" stroke-width="2.5" rx="0.8"/>
<rect x="474.3" y="733.8" width="6.6" height="8.8" fill="#9d9d9d" stroke="#231815" stroke-width="2.5" rx="0.8"/>
<rect x="485.1" y="732.8" width="6.6" height="9.8" fill="#9d9d9d" stroke="#231815" stroke-width="2.5" rx="0.8"/>
<rect x="495.8" y="732.5" width="6.6" height="10.1" fill="#9d9d9d" stroke="#231815" stroke-width="2.5" rx="0.8"/>
<rect x="506.6" y="732.5" width="6.6" height="10.1" fill="#9d9d9d" stroke="#231815" stroke-width="2.5" rx="0.8"/>
<rect x="517.4" y="732" width="6.6" height="10.6" fill="#9d9d9d" stroke="#231815" stroke-width="2.5" rx="0.8"/>
<rect x="528.2" y="730.8" width="6.6" height="11.8" fill="#9d9d9d" stroke="#231815" stroke-width="2.5" rx="0.8"/>
<rect x="538.9" y="729.8" width="6.6" height="12.8" fill="#9d9d9d" stroke="#231815" stroke-width="2.5" rx="0.8"/>
<rect x="549.7" y="729.8" width="6.6" height="12.8" fill="#9d9d9d" stroke="#231815" stroke-width="2.5" rx="0.8"/>
<rect x="560.5" y="728.9" width="6.6" height="13.7" fill="#9d9d9d" stroke="#231815" stroke-width="2.5" rx="0.8"/>
<rect x="571.2" y="728.9" width="6.6" height="13.7" fill="#9d9d9d" stroke="#231815" stroke-width="2.5" rx="0.8"/>
<rect x="582" y="728.1" width="6.6" height="14.5" fill="#9d9d9d" stroke="#231815" stroke-width="2.5" rx="0.8"/>
<rect x="592.8" y="725.9" width="6.6" height="16.7" fill="#9d9d9d" stroke="#231815" stroke-width="2.5" rx="0.8"/>
<rect x="603.6" y="725.9" width="6.6" height="16.7" fill="#9d9d9d" stroke="#231815" stroke-width="2.5" rx="0.8"/>
<rect x="614.3" y="723.5" width="6.6" height="19.1" fill="#9d9d9d" stroke="#231815" stroke-width="2.5" rx="0.8"/>
<rect x="625.1" y="723.2" width="6.6" height="19.4" fill="#9d9d9d" stroke="#231815" stroke-width="2.5" rx="0.8"/>
<rect x="635.9" y="720.8" width="6.6" height="21.8" fill="#9d9d9d" stroke="#231815" stroke-width="2.5" rx="0.8"/>
<rect x="646.6" y="718.5" width="6.6" height="24.1" fill="#9d9d9d" stroke="#231815" stroke-width="2.5" rx="0.8"/>
<rect x="657.4" y="716.3" width="6.6" height="26.3" fill="#9d9d9d" stroke="#231815" stroke-width="2.5" rx="0.8"/>
<rect x="668.2" y="715.6" width="6.6" height="27" fill="#9d9d9d" stroke="#231815" stroke-width="2.5" rx="0.8"/>
<rect x="678.9" y="713.9" width="6.6" height="28.7" fill="#9d9d9d" stroke="#231815" stroke-width="2.5" rx="0.8"/>
<rect x="689.7" y="712.4" width="6.6" height="30.2" fill="#9d9d9d" stroke="#231815" stroke-width="2.5" rx="0.8"/>
<rect x="700.5" y="711.7" width="6.6" height="30.9" fill="#9d9d9d" stroke="#231815" stroke-width="2.5" rx="0.8"/>
<rect x="711.2" y="710.7" width="6.6" height="31.9" fill="#9d9d9d" stroke="#231815" stroke-width="2.5" rx="0.8"/>
<rect x="722" y="710.4" width="6.6" height="32.2" fill="#9d9d9d" stroke="#231815" stroke-width="2.5" rx="0.8"/>
<rect x="732.8" y="710.4" width="6.6" height="32.2" fill="#9d9d9d" stroke="#231815" stroke-width="2.5" rx="0.8"/>
<rect x="743.6" y="709.9" width="6.6" height="32.7" fill="#9d9d9d" stroke="#231815" stroke-width="2.5" rx="0.8"/>
<rect x="754.3" y="709.2" width="6.6" height="33.4" fill="#9d9d9d" stroke="#231815" stroke-width="2.5" rx="0.8"/>
<rect x="765.1" y="708" width="6.6" height="34.6" fill="#9d9d9d" stroke="#231815" stroke-width="2.5" rx="0.8"/>
<rect x="775.9" y="703.1" width="6.6" height="39.5" fill="#9d9d9d" stroke="#231815" stroke-width="2.5" rx="0.8"/>
<rect x="786.6" y="701.1" width="6.6" height="41.5" fill="#9d9d9d" stroke="#231815" stroke-width="2.5" rx="0.8"/>
<rect x="797.4" y="700.6" width="6.6" height="42" fill="#9d9d9d" stroke="#231815" stroke-width="2.5" rx="0.8"/>
<rect x="808.2" y="699.4" width="6.6" height="43.2" fill="#9d9d9d" stroke="#231815" stroke-width="2.5" rx="0.8"/>
<rect x="819" y="697.4" width="6.6" height="45.2" fill="#9d9d9d" stroke="#231815" stroke-width="2.5" rx="0.8"/>
<rect x="829.7" y="683.9" width="6.6" height="58.7" fill="#9d9d9d" stroke="#231815" stroke-width="2.5" rx="0.8"/>
<rect x="840.5" y="678.8" width="6.6" height="63.8" fill="#9d9d9d" stroke="#231815" stroke-width="2.5" rx="0.8"/>
<rect x="851.3" y="677.1" width="6.6" height="65.5" fill="#9d9d9d" stroke="#231815" stroke-width="2.5" rx="0.8"/>
<rect x="862" y="668.7" width="6.6" height="73.9" fill="#9d9d9d" stroke="#231815" stroke-width="2.5" rx="0.8"/>
<rect x="872.8" y="663.8" width="6.6" height="78.8" fill="#9d9d9d" stroke="#231815" stroke-width="2.5" rx="0.8"/>
<rect x="883.6" y="655.9" width="6.6" height="86.7" fill="#9d9d9d" stroke="#231815" stroke-width="2.5" rx="0.8"/>
<rect x="894.3" y="654.5" width="6.6" height="88.1" fill="#9d9d9d" stroke="#231815" stroke-width="2.5" rx="0.8"/>
<rect x="905.1" y="649.3" width="6.6" height="93.3" fill="#9d9d9d" stroke="#231815" stroke-width="2.5" rx="0.8"/>
<rect x="915.9" y="643.7" width="6.6" height="98.9" fill="#9d9d9d" stroke="#231815" stroke-width="2.5" rx="0.8"/>
<rect x="926.6" y="639.2" width="6.6" height="103.4" fill="#9d9d9d" stroke="#231815" stroke-width="2.5" rx="0.8"/>
<rect x="937.4" y="633.8" width="6.6" height="108.8" fill="#9d9d9d" stroke="#231815" stroke-width="2.5" rx="0.8"/>
<rect x="948.2" y="630.7" width="6.6" height="111.9" fill="#9d9d9d" stroke="#231815" stroke-width="2.5" rx="0.8"/>
<rect x="959" y="619.6" width="6.6" height="123" fill="#9d9d9d" stroke="#231815" stroke-width="2.5" rx="0.8"/>
<rect x="969.7" y="616.7" width="6.6" height="125.9" fill="#9d9d9d" stroke="#231815" stroke-width="2.5" rx="0.8"/>
<rect x="980.5" y="611" width="6.6" height="131.6" fill="#9d9d9d" stroke="#231815" stroke-width="2.5" rx="0.8"/>
<rect x="991.3" y="599.2" width="6.6" height="143.4" fill="#9d9d9d" stroke="#231815" stroke-width="2.5" rx="0.8"/>
<path d="M68.3 742.6v8.5M79.1 742.6v8.5M89.9 742.6v8.5M100.7 742.6v8.5M111.4 742.6v8.5M122.2 742.6v8.5M133 742.6v8.5M143.7 742.6v8.5M154.5 742.6v8.5M165.3 742.6v8.5M176 742.6v8.5M186.8 742.6v8.5M197.6 742.6v8.5M208.4 742.6v8.5M219.1 742.6v8.5M229.9 742.6v8.5M240.7 742.6v8.5M251.4 742.6v8.5M262.2 742.6v8.5M273 742.6v8.5M283.8 742.6v8.5M294.5 742.6v8.5M305.3 742.6v8.5M316.1 742.6v8.5M326.8 742.6v8.5M337.6 742.6v8.5M348.4 742.6v8.5M359.1 742.6v8.5M369.9 742.6v8.5M380.7 742.6v8.5M391.4 742.6v8.5M402.2 742.6v8.5M413 742.6v8.5M423.8 742.6v8.5M434.5 742.6v8.5M445.3 742.6v8.5M456.1 742.6v8.5M466.8 742.6v8.5M477.6 742.6v8.5M488.4 742.6v8.5M499.1 742.6v8.5M509.9 742.6v8.5M520.7 742.6v8.5M531.5 742.6v8.5M542.2 742.6v8.5M553 742.6v8.5M563.8 742.6v8.5M574.5 742.6v8.5M585.3 742.6v8.5M596.1 742.6v8.5M606.9 742.6v8.5M617.6 742.6v8.5M628.4 742.6v8.5M639.2 742.6v8.5M649.9 742.6v8.5M660.7 742.6v8.5M671.5 742.6v8.5M682.2 742.6v8.5M693 742.6v8.5M703.8 742.6v8.5M714.5 742.6v8.5M725.3 742.6v8.5M736.1 742.6v8.5M746.9 742.6v8.5M757.6 742.6v8.5M768.4 742.6v8.5M779.2 742.6v8.5M789.9 742.6v8.5M800.7 742.6v8.5M811.5 742.6v8.5M822.2 742.6v8.5M833 742.6v8.5M843.8 742.6v8.5M854.6 742.6v8.5M865.3 742.6v8.5M876.1 742.6v8.5M886.9 742.6v8.5M897.6 742.6v8.5M908.4 742.6v8.5M919.2 742.6v8.5M929.9 742.6v8.5M940.7 742.6v8.5M951.5 742.6v8.5M962.3 742.6v8.5M973 742.6v8.5M983.8 742.6v8.5M994.6 742.6v8.5" stroke="#231815" stroke-width="1.6"/>
<line x1="63.2" y1="545.5" x2="63.2" y2="841.5" stroke="#231815" stroke-width="2.2"/>
<line x1="62" y1="742.6" x2="1007.4" y2="742.6" stroke="#231815" stroke-width="2.4"/>
<line x1="57.5" y1="546.2" x2="63.2" y2="546.2" stroke="#231815" stroke-width="2"/>
<text x="56.3" y="550.7" font-size="12.5" text-anchor="end" textLength="8.3" lengthAdjust="spacingAndGlyphs">8</text>
<line x1="57.5" y1="595.3" x2="63.2" y2="595.3" stroke="#231815" stroke-width="2"/>
<text x="56.3" y="599.8" font-size="12.5" text-anchor="end" textLength="8.3" lengthAdjust="spacingAndGlyphs">6</text>
<line x1="57.5" y1="644.4" x2="63.2" y2="644.4" stroke="#231815" stroke-width="2"/>
<text x="56.3" y="648.9" font-size="12.5" text-anchor="end" textLength="8.3" lengthAdjust="spacingAndGlyphs">4</text>
<line x1="57.5" y1="693.5" x2="63.2" y2="693.5" stroke="#231815" stroke-width="2"/>
<text x="56.3" y="698" font-size="12.5" text-anchor="end" textLength="8.3" lengthAdjust="spacingAndGlyphs">2</text>
<line x1="57.5" y1="742.6" x2="63.2" y2="742.6" stroke="#231815" stroke-width="2"/>
<text x="56.3" y="747.1" font-size="12.5" text-anchor="end" textLength="8.3" lengthAdjust="spacingAndGlyphs">0</text>
<line x1="57.5" y1="791.7" x2="63.2" y2="791.7" stroke="#231815" stroke-width="2"/>
<text x="56.3" y="796.2" font-size="12.5" text-anchor="end" textLength="13.4" lengthAdjust="spacingAndGlyphs">-2</text>
<line x1="57.5" y1="840.8" x2="63.2" y2="840.8" stroke="#231815" stroke-width="2"/>
<text x="56.3" y="845.3" font-size="12.5" text-anchor="end" textLength="13.4" lengthAdjust="spacingAndGlyphs">-4</text>
<text x="17.9" y="824.1" font-size="14.5" font-weight="bold" textLength="259.2" lengthAdjust="spacingAndGlyphs" transform="rotate(-90 17.9 824.1)">Relative expression of ATAD2</text>
<text x="34.5" y="680.8" font-size="13" font-weight="bold" text-anchor="middle" transform="rotate(-90 34.5 680.8)" textLength="151" lengthAdjust="spacingAndGlyphs">log<tspan font-size="8.5" dy="3">2</tspan><tspan dy="-3">(fold change)</tspan></text>
<text x="987.4" y="520" font-size="28.5" font-weight="bold" textLength="22.7" lengthAdjust="spacingAndGlyphs">D</text>
<path d="M1196.1 656.6h8.8l-4.4 8.8zM1196.1 679.3h8.8l-4.4 8.8zM1210.6 694.5h8.8l-4.4 8.8zM1181.5 698.3h8.8l-4.4 8.8zM1196.1 703.6h8.8l-4.4 8.8zM1181.5 715.2h8.8l-4.4 8.8zM1225 714.2h8.8l-4.4 8.8zM1210.6 721.6h8.8l-4.4 8.8zM1196.1 724.3h8.8l-4.4 8.8zM1167.1 734.5h8.8l-4.4 8.8zM1181.5 739.2h8.8l-4.4 8.8zM1210.6 737h8.8l-4.4 8.8zM1196.1 740.7h8.8l-4.4 8.8zM1188.8 747.1h8.8l-4.4 8.8zM1217.8 745.1h8.8l-4.4 8.8zM1152.4 749.1h8.8l-4.4 8.8zM1203.3 748.6h8.8l-4.4 8.8zM1167.1 753.7h8.8l-4.4 8.8zM1239.6 752.2h8.8l-4.4 8.8zM1181.5 758.4h8.8l-4.4 8.8zM1210.6 759.2h8.8l-4.4 8.8zM1225 758h8.8l-4.4 8.8zM1196.1 761h8.8l-4.4 8.8zM1145.3 764.3h8.8l-4.4 8.8zM1159.8 768.1h8.8l-4.4 8.8zM1174.1 768.8h8.8l-4.4 8.8zM1217.8 768.1h8.8l-4.4 8.8zM1232.3 767.8h8.8l-4.4 8.8zM1188.8 772.2h8.8l-4.4 8.8zM1203.3 771.4h8.8l-4.4 8.8zM1152.4 773.2h8.8l-4.4 8.8zM1167.1 773.2h8.8l-4.4 8.8zM1225 772.9h8.8l-4.4 8.8zM1239.6 772.2h8.8l-4.4 8.8zM1165.7 776.9h8.8l-4.4 8.8zM1180.4 775.5h8.8l-4.4 8.8zM1189 775h8.8l-4.4 8.8zM1195.3 776.8h8.8l-4.4 8.8zM1204.2 776.6h8.8l-4.4 8.8zM1209.6 775.3h8.8l-4.4 8.8zM1224.3 777h8.8l-4.4 8.8zM1233.5 776.9h8.8l-4.4 8.8zM1153.7 779.3h8.8l-4.4 8.8zM1158.8 778.7h8.8l-4.4 8.8zM1166.5 778.6h8.8l-4.4 8.8zM1174.9 779.2h8.8l-4.4 8.8zM1182.6 779.2h8.8l-4.4 8.8zM1211.7 780.2h8.8l-4.4 8.8zM1217.5 778.6h8.8l-4.4 8.8zM1223.8 780.5h8.8l-4.4 8.8zM1246.5 779.6h8.8l-4.4 8.8zM1146.1 783.7h8.8l-4.4 8.8zM1165.9 783.4h8.8l-4.4 8.8zM1175.6 784h8.8l-4.4 8.8zM1181.7 782.8h8.8l-4.4 8.8zM1187.9 782.5h8.8l-4.4 8.8zM1202.4 784.2h8.8l-4.4 8.8zM1210.7 782.7h8.8l-4.4 8.8zM1225 782.3h8.8l-4.4 8.8zM1233.7 783.2h8.8l-4.4 8.8zM1240.7 783.7h8.8l-4.4 8.8zM1146.2 786.7h8.8l-4.4 8.8zM1159.2 787.8h8.8l-4.4 8.8zM1174.2 787.3h8.8l-4.4 8.8zM1181.5 786.6h8.8l-4.4 8.8zM1187.8 787.8h8.8l-4.4 8.8zM1203.4 786h8.8l-4.4 8.8zM1219 787.4h8.8l-4.4 8.8zM1246.3 787.3h8.8l-4.4 8.8zM1145.9 791.3h8.8l-4.4 8.8zM1153 789.4h8.8l-4.4 8.8zM1160 790.7h8.8l-4.4 8.8zM1218 789.7h8.8l-4.4 8.8zM1167.7 793.3h8.8l-4.4 8.8zM1189.3 793.9h8.8l-4.4 8.8zM1195.3 793.3h8.8l-4.4 8.8zM1202.8 793.4h8.8l-4.4 8.8zM1209.2 793.8h8.8l-4.4 8.8zM1218.2 793.5h8.8l-4.4 8.8zM1226.4 793.8h8.8l-4.4 8.8zM1231.8 793.2h8.8l-4.4 8.8zM1240.7 793.1h8.8l-4.4 8.8zM1247.3 794.1h8.8l-4.4 8.8z" fill="#e02222"/>
<path d="M1391.8 562.5h9.2l-4.6 -9zM1362.6 567.8h9.2l-4.6 -9zM1377.2 570.4h9.2l-4.6 -9zM1391.8 646.8h9.2l-4.6 -9zM1377.2 655h9.2l-4.6 -9zM1362.6 676.5h9.2l-4.6 -9zM1391.8 672.7h9.2l-4.6 -9zM1377.2 687.6h9.2l-4.6 -9zM1420.7 718.9h9.2l-4.6 -9zM1347.8 720.5h9.2l-4.6 -9zM1406.1 722h9.2l-4.6 -9zM1362.6 725.2h9.2l-4.6 -9zM1391.8 727.9h9.2l-4.6 -9zM1377.2 730.5h9.2l-4.6 -9zM1406.1 740h9.2l-4.6 -9zM1347.8 744.8h9.2l-4.6 -9zM1391.8 747.5h9.2l-4.6 -9zM1362.6 749.1h9.2l-4.6 -9zM1377.2 750.7h9.2l-4.6 -9zM1369.9 754.9h9.2l-4.6 -9zM1385.4 756.8h9.2l-4.6 -9zM1333.5 757.5h9.2l-4.6 -9zM1420.7 757.5h9.2l-4.6 -9zM1347.8 761.3h9.2l-4.6 -9zM1406.1 762.9h9.2l-4.6 -9zM1362.6 768.7h9.2l-4.6 -9zM1391.8 769.7h9.2l-4.6 -9zM1326.6 776.9h9.2l-4.6 -9zM1335.2 776.6h9.2l-4.6 -9zM1341.7 775.3h9.2l-4.6 -9zM1348.7 776.9h9.2l-4.6 -9zM1356.9 775.7h9.2l-4.6 -9zM1363.8 775.2h9.2l-4.6 -9zM1369.9 775.3h9.2l-4.6 -9zM1383.5 775.5h9.2l-4.6 -9zM1406.4 775.5h9.2l-4.6 -9zM1413.7 775.8h9.2l-4.6 -9zM1426.5 776h9.2l-4.6 -9zM1326.9 780.9h9.2l-4.6 -9zM1335.2 780.4h9.2l-4.6 -9zM1349.2 779.8h9.2l-4.6 -9zM1362 780.2h9.2l-4.6 -9zM1370.1 780.8h9.2l-4.6 -9zM1383.3 780h9.2l-4.6 -9zM1390.4 780.2h9.2l-4.6 -9zM1405.5 779.8h9.2l-4.6 -9zM1420.6 779.3h9.2l-4.6 -9zM1427.3 780.5h9.2l-4.6 -9zM1333.9 785.3h9.2l-4.6 -9zM1340.4 785.3h9.2l-4.6 -9zM1356.1 784.2h9.2l-4.6 -9zM1368.6 784.7h9.2l-4.6 -9zM1376.8 783.9h9.2l-4.6 -9zM1389.7 785.2h9.2l-4.6 -9zM1420 785.3h9.2l-4.6 -9zM1326 789.7h9.2l-4.6 -9zM1333.1 788.7h9.2l-4.6 -9zM1347 788.7h9.2l-4.6 -9zM1354.2 789.1h9.2l-4.6 -9zM1368.6 788.5h9.2l-4.6 -9zM1377.1 789.8h9.2l-4.6 -9zM1383.5 789.3h9.2l-4.6 -9zM1411.6 788.4h9.2l-4.6 -9zM1420.2 788.2h9.2l-4.6 -9zM1425.7 789.4h9.2l-4.6 -9zM1327.6 793.5h9.2l-4.6 -9zM1333 793.4h9.2l-4.6 -9zM1348.3 793.8h9.2l-4.6 -9zM1361.3 794.1h9.2l-4.6 -9zM1370.2 792.4h9.2l-4.6 -9zM1384.9 793.4h9.2l-4.6 -9zM1390.6 792.9h9.2l-4.6 -9zM1398.4 793h9.2l-4.6 -9zM1426.6 793.3h9.2l-4.6 -9zM1434.3 792.4h9.2l-4.6 -9zM1325.7 796.6h9.2l-4.6 -9zM1335.4 798h9.2l-4.6 -9zM1339.8 798.3h9.2l-4.6 -9zM1348.8 797.4h9.2l-4.6 -9zM1354.3 796.8h9.2l-4.6 -9zM1362.2 798.3h9.2l-4.6 -9zM1368.7 797.1h9.2l-4.6 -9zM1375.8 797h9.2l-4.6 -9zM1383.8 798.3h9.2l-4.6 -9zM1427.2 796.9h9.2l-4.6 -9zM1432.2 796.7h9.2l-4.6 -9zM1333.8 801.7h9.2l-4.6 -9zM1349.1 801.3h9.2l-4.6 -9zM1363 802.8h9.2l-4.6 -9zM1368.2 802.4h9.2l-4.6 -9zM1376.5 801.9h9.2l-4.6 -9zM1385.4 801.5h9.2l-4.6 -9zM1389.8 802.6h9.2l-4.6 -9zM1403.9 800.9h9.2l-4.6 -9zM1412 801.3h9.2l-4.6 -9zM1419.1 800.9h9.2l-4.6 -9zM1432.6 801.6h9.2l-4.6 -9z" fill="#4a41a0"/>
<line x1="1200.5" y1="660.8" x2="1200.5" y2="806" stroke="#111" stroke-width="2.4"/>
<line x1="1170" y1="660.8" x2="1231" y2="660.8" stroke="#111" stroke-width="2.6" stroke-linecap="round"/>
<line x1="1139.4" y1="786.3" x2="1261.5" y2="786.3" stroke="#111" stroke-width="2.6" stroke-linecap="round"/>
<line x1="1170" y1="800" x2="1231" y2="800" stroke="#111" stroke-width="2.6"/>
<line x1="1381.8" y1="557.5" x2="1381.8" y2="806" stroke="#111" stroke-width="2.4"/>
<line x1="1350.8" y1="557.5" x2="1412.5" y2="557.5" stroke="#111" stroke-width="2.6" stroke-linecap="round"/>
<line x1="1321" y1="778" x2="1443" y2="778" stroke="#111" stroke-width="2.6" stroke-linecap="round"/>
<line x1="1350.8" y1="800" x2="1412.5" y2="800" stroke="#111" stroke-width="2.6"/>
<line x1="1110" y1="528.8" x2="1110" y2="801" stroke="#111" stroke-width="2.4"/>
<line x1="1102" y1="800" x2="1472.5" y2="800" stroke="#111" stroke-width="2.4"/>
<line x1="1102" y1="529.2" x2="1110" y2="529.2" stroke="#111" stroke-width="2.2"/>
<text x="1066.8" y="535.8" font-size="17.2" font-weight="bold" textLength="34.3" lengthAdjust="spacingAndGlyphs">0.20</text>
<line x1="1102" y1="596.9" x2="1110" y2="596.9" stroke="#111" stroke-width="2.2"/>
<text x="1066.8" y="603.5" font-size="17.2" font-weight="bold" textLength="34.1" lengthAdjust="spacingAndGlyphs">0.15</text>
<line x1="1102" y1="664.6" x2="1110" y2="664.6" stroke="#111" stroke-width="2.2"/>
<text x="1066.8" y="671.2" font-size="17.2" font-weight="bold" textLength="34.3" lengthAdjust="spacingAndGlyphs">0.10</text>
<line x1="1102" y1="732.3" x2="1110" y2="732.3" stroke="#111" stroke-width="2.2"/>
<text x="1066.8" y="738.9" font-size="17.2" font-weight="bold" textLength="34.1" lengthAdjust="spacingAndGlyphs">0.05</text>
<line x1="1102" y1="800" x2="1110" y2="800" stroke="#111" stroke-width="2.2"/>
<text x="1066.8" y="806.6" font-size="17.2" font-weight="bold" textLength="34.3" lengthAdjust="spacingAndGlyphs">0.00</text>
<line x1="1195.4" y1="536" x2="1369.4" y2="536" stroke="#111" stroke-width="2.4"/>
<text x="1281" y="532.7" font-size="17" text-anchor="middle">*</text>
<text x="1088" y="831" font-size="18.6" font-weight="bold" textLength="208.3" lengthAdjust="spacingAndGlyphs">adjacent non-cancerous</text>
<text x="1155.5" y="851.5" font-size="18.6" font-weight="bold" textLength="62.8" lengthAdjust="spacingAndGlyphs">tissues</text>
<text x="1366.3" y="834.3" font-size="19.3" font-weight="bold" textLength="33.8" lengthAdjust="spacingAndGlyphs">PTC</text>
<text x="1043.3" y="798.6" font-size="16" textLength="280.2" lengthAdjust="spacingAndGlyphs" transform="rotate(-90 1043.3 798.6)" stroke="#111" stroke-width="0.6">Relative expression of ATAD2</text>
<text x="10.3" y="902.8" font-size="27.6" font-weight="bold" textLength="20" lengthAdjust="spacingAndGlyphs">E</text>
<rect x="166.5" y="883.8" width="30.5" height="13" fill="#231815" rx="2"/>
<text x="209.2" y="896.8" font-size="17.9" font-weight="bold" textLength="26.3" lengthAdjust="spacingAndGlyphs">NC</text>
<rect x="165.8" y="915.4" width="31.2" height="13.6" fill="#8d8d8d" rx="2"/>
<text x="209.8" y="928.8" font-size="18.3" font-weight="bold" textLength="77.7" lengthAdjust="spacingAndGlyphs">si-ATAD2</text>
<rect x="136.7" y="1010.3" width="66.7" height="175.7" fill="#231815" rx="1.5"/>
<rect x="232" y="1159.8" width="66" height="26.2" fill="#8d8d8d" rx="1.5"/>
<rect x="326.8" y="1010.3" width="66.6" height="175.7" fill="#231815" rx="1.5"/>
<rect x="422.5" y="1144.7" width="65.9" height="41.3" fill="#8d8d8d" rx="1.5"/>
<line x1="170" y1="991.5" x2="170" y2="1010.3" stroke="#231815" stroke-width="2.7"/>
<line x1="153.7" y1="991.5" x2="186.3" y2="991.5" stroke="#231815" stroke-width="3.4" stroke-linecap="round"/>
<line x1="265.6" y1="1156.3" x2="265.6" y2="1159.8" stroke="#8d8d8d" stroke-width="2.7"/>
<line x1="249" y1="1156.3" x2="282.2" y2="1156.3" stroke="#8d8d8d" stroke-width="3.4" stroke-linecap="round"/>
<line x1="360.8" y1="999.2" x2="360.8" y2="1010.3" stroke="#231815" stroke-width="2.7"/>
<line x1="344.6" y1="999.2" x2="377" y2="999.2" stroke="#231815" stroke-width="3.4" stroke-linecap="round"/>
<line x1="455.6" y1="1138.8" x2="455.6" y2="1144.7" stroke="#8d8d8d" stroke-width="2.7"/>
<line x1="439" y1="1138.8" x2="472.2" y2="1138.8" stroke="#8d8d8d" stroke-width="3.4" stroke-linecap="round"/>
<line x1="122.7" y1="922.5" x2="122.7" y2="1187" stroke="#231815" stroke-width="2.6"/>
<line x1="115.7" y1="1186" x2="504.2" y2="1186" stroke="#231815" stroke-width="2.6"/>
<line x1="115.7" y1="923.1" x2="122.7" y2="923.1" stroke="#231815" stroke-width="2.4"/>
<text x="85.8" y="929.4" font-size="18" font-weight="bold" textLength="26.2" lengthAdjust="spacingAndGlyphs">1.5</text>
<line x1="115.7" y1="1010.7" x2="122.7" y2="1010.7" stroke="#231815" stroke-width="2.4"/>
<text x="85.8" y="1017" font-size="18" font-weight="bold" textLength="26.5" lengthAdjust="spacingAndGlyphs">1.0</text>
<line x1="115.7" y1="1098.4" x2="122.7" y2="1098.4" stroke="#231815" stroke-width="2.4"/>
<text x="86.3" y="1104.7" font-size="18" font-weight="bold" textLength="25.7" lengthAdjust="spacingAndGlyphs">0.5</text>
<line x1="115.7" y1="1186" x2="122.7" y2="1186" stroke="#231815" stroke-width="2.4"/>
<text x="86.3" y="1192.3" font-size="18" font-weight="bold" textLength="26" lengthAdjust="spacingAndGlyphs">0.0</text>
<line x1="219" y1="1186" x2="219" y2="1193" stroke="#231815" stroke-width="2.4"/>
<line x1="407.8" y1="1186" x2="407.8" y2="1193" stroke="#231815" stroke-width="2.4"/>
<text x="212" y="1214.8" font-size="26.5" font-weight="bold" textLength="36" lengthAdjust="spacingAndGlyphs">K1</text>
<text x="379.4" y="1214.8" font-size="26.5" font-weight="bold" textLength="70.9" lengthAdjust="spacingAndGlyphs">TPC1</text>
<line x1="170.8" y1="981" x2="261.2" y2="981" stroke="#231815" stroke-width="1.6"/>
<text x="215" y="978.8" font-size="12.5" text-anchor="middle">**</text>
<line x1="357.6" y1="986.2" x2="447" y2="988.7" stroke="#231815" stroke-width="1.6"/>
<text x="402" y="986.8" font-size="12.5" text-anchor="middle">**</text>
<text x="71.5" y="1183" font-size="17.4" textLength="272.1" lengthAdjust="spacingAndGlyphs" transform="rotate(-90 71.5 1183)" stroke="#111" stroke-width="0.6">Relative expression of ATAD2</text>
<text x="519.8" y="900.7" font-size="27.9" font-weight="bold" textLength="18.1" lengthAdjust="spacingAndGlyphs">F</text>
<polyline points="653,1114.7 766.6,1096.9 881,1045.9 995,990.5" fill="none" stroke="#4a44a0" stroke-width="2.6"/>
<polyline points="653,1114.7 766.6,1083.8 881,1009.7 995,931.5" fill="none" stroke="#e02424" stroke-width="2.6"/>
<line x1="881" y1="1003" x2="881" y2="1015.5" stroke="#e02424" stroke-width="2.6"/>
<line x1="875.5" y1="1003" x2="886.5" y2="1003" stroke="#e02424" stroke-width="2.6"/>
<line x1="875.5" y1="1015.5" x2="886.5" y2="1015.5" stroke="#e02424" stroke-width="2.6"/>
<line x1="995" y1="920.4" x2="995" y2="937.6" stroke="#e02424" stroke-width="2.6"/>
<line x1="989.5" y1="920.4" x2="1000.5" y2="920.4" stroke="#e02424" stroke-width="2.6"/>
<line x1="989.5" y1="937.6" x2="1000.5" y2="937.6" stroke="#e02424" stroke-width="2.6"/>
<line x1="995" y1="984" x2="995" y2="999.4" stroke="#4a44a0" stroke-width="2.6"/>
<line x1="989.5" y1="984" x2="1000.5" y2="984" stroke="#4a44a0" stroke-width="2.6"/>
<line x1="989.5" y1="999.4" x2="1000.5" y2="999.4" stroke="#4a44a0" stroke-width="2.6"/>
<path d="M653 1121.2L658.5 1110.8H647.5zM766.6 1103.4L772.1 1092.9H761.1zM881 1052.4L886.5 1042H875.5zM995 997L1000.5 986.6H989.5z" fill="#4a44a0"/>
<path d="M653 1108.3L658.5 1118.7H647.5zM766.6 1077.3L772.1 1087.8H761.1zM881 1003.3L886.5 1013.7H875.5zM995 925L1000.5 935.4H989.5z" fill="#e02424"/>
<line x1="653" y1="879.9" x2="653" y2="1162.6" stroke="#231815" stroke-width="2.6"/>
<line x1="646" y1="1161.6" x2="1030.7" y2="1161.6" stroke="#231815" stroke-width="2.6"/>
<line x1="645.8" y1="1161.6" x2="653" y2="1161.6" stroke="#231815" stroke-width="2.4"/>
<text x="641.5" y="1167.4" font-size="16.5" font-weight="bold" text-anchor="end" textLength="24.3" lengthAdjust="spacingAndGlyphs">0.0</text>
<line x1="645.8" y1="1114.7" x2="653" y2="1114.7" stroke="#231815" stroke-width="2.4"/>
<text x="641.5" y="1120.5" font-size="16.5" font-weight="bold" text-anchor="end" textLength="24.3" lengthAdjust="spacingAndGlyphs">0.5</text>
<line x1="645.8" y1="1067.9" x2="653" y2="1067.9" stroke="#231815" stroke-width="2.4"/>
<text x="641.5" y="1073.7" font-size="16.5" font-weight="bold" text-anchor="end" textLength="24.3" lengthAdjust="spacingAndGlyphs">1.0</text>
<line x1="645.8" y1="1021" x2="653" y2="1021" stroke="#231815" stroke-width="2.4"/>
<text x="641.5" y="1026.8" font-size="16.5" font-weight="bold" text-anchor="end" textLength="24.3" lengthAdjust="spacingAndGlyphs">1.5</text>
<line x1="645.8" y1="974.1" x2="653" y2="974.1" stroke="#231815" stroke-width="2.4"/>
<text x="641.5" y="979.9" font-size="16.5" font-weight="bold" text-anchor="end" textLength="24.3" lengthAdjust="spacingAndGlyphs">2.0</text>
<line x1="645.8" y1="927.2" x2="653" y2="927.2" stroke="#231815" stroke-width="2.4"/>
<text x="641.5" y="933" font-size="16.5" font-weight="bold" text-anchor="end" textLength="24.3" lengthAdjust="spacingAndGlyphs">2.5</text>
<line x1="645.8" y1="880.4" x2="653" y2="880.4" stroke="#231815" stroke-width="2.4"/>
<text x="641.5" y="886.2" font-size="16.5" font-weight="bold" text-anchor="end" textLength="24.3" lengthAdjust="spacingAndGlyphs">3.0</text>
<line x1="653" y1="1161.6" x2="653" y2="1168.1" stroke="#231815" stroke-width="2.4"/>
<text x="653.5" y="1189.1" font-size="17" font-weight="bold" text-anchor="middle" textLength="9" lengthAdjust="spacingAndGlyphs">0</text>
<line x1="766.6" y1="1161.6" x2="766.6" y2="1168.1" stroke="#231815" stroke-width="2.4"/>
<text x="767.1" y="1189.1" font-size="17" font-weight="bold" text-anchor="middle" textLength="19.7" lengthAdjust="spacingAndGlyphs">24</text>
<line x1="881" y1="1161.6" x2="881" y2="1168.1" stroke="#231815" stroke-width="2.4"/>
<text x="881.5" y="1189.1" font-size="17" font-weight="bold" text-anchor="middle" textLength="19.7" lengthAdjust="spacingAndGlyphs">48</text>
<line x1="995" y1="1161.6" x2="995" y2="1168.1" stroke="#231815" stroke-width="2.4"/>
<text x="995.5" y="1189.1" font-size="17" font-weight="bold" text-anchor="middle" textLength="19.7" lengthAdjust="spacingAndGlyphs">72</text>
<path d="M1003 928.6H1011.4V985.8H1003" fill="none" stroke="#111" stroke-width="2.4"/>
<text x="1021.9" y="966.8" font-size="17.5" font-weight="bold" text-anchor="middle" textLength="13" lengthAdjust="spacingAndGlyphs">**</text>
<line x1="686" y1="899.3" x2="713.8" y2="899.3" stroke="#e02424" stroke-width="2.6"/>
<path d="M699.9 892.8L705.4 903.3H694.4z" fill="#e02424"/>
<text x="727.9" y="906.2" font-size="18.9" font-weight="bold" textLength="25.5" lengthAdjust="spacingAndGlyphs">NC</text>
<line x1="686" y1="941.6" x2="713.8" y2="941.6" stroke="#4a44a0" stroke-width="2.6"/>
<path d="M699.9 948.1L705.4 937.6H694.4z" fill="#4a44a0"/>
<text x="728" y="948.3" font-size="18.6" font-weight="bold" textLength="76.6" lengthAdjust="spacingAndGlyphs">si-ATAD2</text>
<text x="841.5" y="882.9" font-size="27.5" font-weight="bold" text-anchor="middle" textLength="34" lengthAdjust="spacingAndGlyphs">K1</text>
<text x="801.3" y="1216" font-size="16.5" font-weight="bold" textLength="69.7" lengthAdjust="spacingAndGlyphs">time<tspan dx="6">(</tspan><tspan dx="2">h</tspan><tspan dx="2">)</tspan></text>
<text x="592.8" y="1105.9" font-size="16.4" textLength="191.4" lengthAdjust="spacingAndGlyphs" transform="rotate(-90 592.8 1105.9)" stroke="#111" stroke-width="0.6">Absorbance(450nm)</text>
<polyline points="1105.9,1115.1 1217.6,1098.5 1330,1045 1442.4,993.2" fill="none" stroke="#4a44a0" stroke-width="2.6"/>
<polyline points="1105.9,1115.1 1217.6,1089.3 1330,1009.9 1442.4,950.8" fill="none" stroke="#e02424" stroke-width="2.6"/>
<line x1="1330" y1="1003.6" x2="1330" y2="1015.5" stroke="#e02424" stroke-width="2.6"/>
<line x1="1324.5" y1="1003.6" x2="1335.5" y2="1003.6" stroke="#e02424" stroke-width="2.6"/>
<line x1="1324.5" y1="1015.5" x2="1335.5" y2="1015.5" stroke="#e02424" stroke-width="2.6"/>
<line x1="1442.4" y1="940.5" x2="1442.4" y2="959.3" stroke="#e02424" stroke-width="2.6"/>
<line x1="1436.9" y1="940.5" x2="1447.9" y2="940.5" stroke="#e02424" stroke-width="2.6"/>
<line x1="1436.9" y1="959.3" x2="1447.9" y2="959.3" stroke="#e02424" stroke-width="2.6"/>
<line x1="1330" y1="1037.3" x2="1330" y2="1054.5" stroke="#4a44a0" stroke-width="2.6"/>
<line x1="1324.5" y1="1037.3" x2="1335.5" y2="1037.3" stroke="#4a44a0" stroke-width="2.6"/>
<line x1="1324.5" y1="1054.5" x2="1335.5" y2="1054.5" stroke="#4a44a0" stroke-width="2.6"/>
<line x1="1442.4" y1="980.5" x2="1442.4" y2="1006.7" stroke="#4a44a0" stroke-width="2.6"/>
<line x1="1436.9" y1="980.5" x2="1447.9" y2="980.5" stroke="#4a44a0" stroke-width="2.6"/>
<line x1="1436.9" y1="1006.7" x2="1447.9" y2="1006.7" stroke="#4a44a0" stroke-width="2.6"/>
<path d="M1105.9 1121.6L1111.4 1111.2H1100.4zM1217.6 1105L1223.1 1094.5H1212.1zM1330 1051.4L1335.5 1041H1324.5zM1442.4 999.7L1447.9 989.3H1436.9z" fill="#4a44a0"/>
<path d="M1105.9 1108.7L1111.4 1119.1H1100.4zM1217.6 1082.8L1223.1 1093.2H1212.1zM1330 1003.4L1335.5 1013.8H1324.5zM1442.4 944.3L1447.9 954.7H1436.9z" fill="#e02424"/>
<line x1="1105.9" y1="883.8" x2="1105.9" y2="1162.3" stroke="#231815" stroke-width="2.6"/>
<line x1="1098.9" y1="1161.3" x2="1480.5" y2="1161.3" stroke="#231815" stroke-width="2.6"/>
<line x1="1098.7" y1="1161.3" x2="1105.9" y2="1161.3" stroke="#231815" stroke-width="2.4"/>
<text x="1095" y="1167.1" font-size="16.5" font-weight="bold" text-anchor="end" textLength="24.3" lengthAdjust="spacingAndGlyphs">0.0</text>
<line x1="1098.7" y1="1115.1" x2="1105.9" y2="1115.1" stroke="#231815" stroke-width="2.4"/>
<text x="1095" y="1120.9" font-size="16.5" font-weight="bold" text-anchor="end" textLength="24.3" lengthAdjust="spacingAndGlyphs">0.5</text>
<line x1="1098.7" y1="1069" x2="1105.9" y2="1069" stroke="#231815" stroke-width="2.4"/>
<text x="1095" y="1074.8" font-size="16.5" font-weight="bold" text-anchor="end" textLength="24.3" lengthAdjust="spacingAndGlyphs">1.0</text>
<line x1="1098.7" y1="1022.8" x2="1105.9" y2="1022.8" stroke="#231815" stroke-width="2.4"/>
<text x="1095" y="1028.6" font-size="16.5" font-weight="bold" text-anchor="end" textLength="24.3" lengthAdjust="spacingAndGlyphs">1.5</text>
<line x1="1098.7" y1="976.6" x2="1105.9" y2="976.6" stroke="#231815" stroke-width="2.4"/>
<text x="1095" y="982.4" font-size="16.5" font-weight="bold" text-anchor="end" textLength="24.3" lengthAdjust="spacingAndGlyphs">2.0</text>
<line x1="1098.7" y1="930.4" x2="1105.9" y2="930.4" stroke="#231815" stroke-width="2.4"/>
<text x="1095" y="936.2" font-size="16.5" font-weight="bold" text-anchor="end" textLength="24.3" lengthAdjust="spacingAndGlyphs">2.5</text>
<line x1="1098.7" y1="884.3" x2="1105.9" y2="884.3" stroke="#231815" stroke-width="2.4"/>
<text x="1095" y="890.1" font-size="16.5" font-weight="bold" text-anchor="end" textLength="24.3" lengthAdjust="spacingAndGlyphs">3.0</text>
<line x1="1105.9" y1="1161.3" x2="1105.9" y2="1167.8" stroke="#231815" stroke-width="2.4"/>
<text x="1106.4" y="1188.8" font-size="17" font-weight="bold" text-anchor="middle" textLength="9" lengthAdjust="spacingAndGlyphs">0</text>
<line x1="1217.6" y1="1161.3" x2="1217.6" y2="1167.8" stroke="#231815" stroke-width="2.4"/>
<text x="1218.1" y="1188.8" font-size="17" font-weight="bold" text-anchor="middle" textLength="19.7" lengthAdjust="spacingAndGlyphs">24</text>
<line x1="1330" y1="1161.3" x2="1330" y2="1167.8" stroke="#231815" stroke-width="2.4"/>
<text x="1330.5" y="1188.8" font-size="17" font-weight="bold" text-anchor="middle" textLength="19.7" lengthAdjust="spacingAndGlyphs">48</text>
<line x1="1442.4" y1="1161.3" x2="1442.4" y2="1167.8" stroke="#231815" stroke-width="2.4"/>
<text x="1442.9" y="1188.8" font-size="17" font-weight="bold" text-anchor="middle" textLength="19.7" lengthAdjust="spacingAndGlyphs">72</text>
<path d="M1450.8 949H1456V992.7H1450.8" fill="none" stroke="#111" stroke-width="2.4"/>
<text x="1466.5" y="980.5" font-size="17.5" font-weight="bold" text-anchor="middle" textLength="13" lengthAdjust="spacingAndGlyphs">**</text>
<line x1="1140" y1="893.7" x2="1166.7" y2="893.7" stroke="#e02424" stroke-width="2.6"/>
<path d="M1153.3 887.2L1158.8 897.7H1147.8z" fill="#e02424"/>
<text x="1181.1" y="899.5" font-size="18.2" font-weight="bold" textLength="25.8" lengthAdjust="spacingAndGlyphs">NC</text>
<line x1="1140" y1="931.8" x2="1166.7" y2="931.8" stroke="#4a44a0" stroke-width="2.6"/>
<path d="M1153.3 938.3L1158.8 927.8H1147.8z" fill="#4a44a0"/>
<text x="1181.7" y="938.3" font-size="18.2" font-weight="bold" textLength="76.3" lengthAdjust="spacingAndGlyphs">si-ATAD2</text>
<text x="1287.7" y="878.7" font-size="27.5" font-weight="bold" text-anchor="middle" textLength="70.2" lengthAdjust="spacingAndGlyphs">TPC1</text>
<text x="1250.4" y="1215" font-size="16.5" font-weight="bold" textLength="69.7" lengthAdjust="spacingAndGlyphs">time<tspan dx="6">(</tspan><tspan dx="2">h</tspan><tspan dx="2">)</tspan></text>
<text x="1051.2" y="1095.9" font-size="17" textLength="184.9" lengthAdjust="spacingAndGlyphs" transform="rotate(-90 1051.2 1095.9)" stroke="#111" stroke-width="0.6">Absorbance(450nm)</text>
<text x="5.5" y="1271.5" font-size="26.3" font-weight="bold" textLength="24" lengthAdjust="spacingAndGlyphs">G</text>
<text x="197.4" y="1275.3" font-size="31.5" font-weight="bold" textLength="44" lengthAdjust="spacingAndGlyphs">NC</text>
<text x="366.4" y="1277.2" font-size="32.3" font-weight="bold" textLength="134" lengthAdjust="spacingAndGlyphs">si-ATAD2</text>
<text x="35.1" y="1423.4" font-size="30.7" font-weight="bold" textLength="33.5" lengthAdjust="spacingAndGlyphs">K1</text>
<text x="6.5" y="1726.7" font-size="30.7" font-weight="bold" textLength="67.8" lengthAdjust="spacingAndGlyphs">TPC1</text>
<text x="105" y="1411.3" font-size="30.4" font-weight="bold" textLength="133.2" lengthAdjust="spacingAndGlyphs" transform="rotate(-90 105 1411.3)">Migration</text>
<text x="103.3" y="1544.1" font-size="30.4" font-weight="bold" textLength="118.7" lengthAdjust="spacingAndGlyphs" transform="rotate(-90 103.3 1544.1)">Invasion</text>
<text x="105.2" y="1703" font-size="30.4" font-weight="bold" textLength="134" lengthAdjust="spacingAndGlyphs" transform="rotate(-90 105.2 1703)">Migration</text>
<text x="108.5" y="1841" font-size="30.5" font-weight="bold" textLength="121" lengthAdjust="spacingAndGlyphs" transform="rotate(-90 108.5 1841)">Invasion</text>
<rect x="113.3" y="1282" width="203.9" height="131.2" fill="#fff" filter="url(#mg1)"/>
<rect x="325.5" y="1282" width="210.8" height="131.2" fill="#fff" filter="url(#mg2)"/>
<rect x="112.3" y="1418.5" width="204.2" height="132.5" fill="#fff" filter="url(#mg3)"/>
<rect x="324" y="1420" width="210.4" height="132" fill="#fff" filter="url(#mg4)"/>
<rect x="115.2" y="1567" width="202.8" height="131.4" fill="#fff" filter="url(#mg5)"/>
<rect x="326.7" y="1569" width="209.6" height="129.4" fill="#fff" filter="url(#mg6)"/>
<rect x="115.2" y="1709.7" width="203.8" height="133" fill="#fff" filter="url(#mg7)"/>
<rect x="325.5" y="1709.7" width="212.6" height="133" fill="#fff" filter="url(#mg8)"/>
<rect x="610.2" y="1306.1" width="66.7" height="101.2" fill="#231815" rx="0.5"/>
<rect x="690.8" y="1343.2" width="67" height="64.1" fill="#a0a0a0" rx="0.5"/>
<line x1="643.5" y1="1303.7" x2="643.5" y2="1306.1" stroke="#231815" stroke-width="1.3"/>
<line x1="627" y1="1303.7" x2="660" y2="1303.7" stroke="#231815" stroke-width="1.6" stroke-linecap="round"/>
<line x1="724.3" y1="1341.8" x2="724.3" y2="1343.2" stroke="#a0a0a0" stroke-width="1.3"/>
<line x1="707.8" y1="1341.8" x2="740.8" y2="1341.8" stroke="#a0a0a0" stroke-width="1.6" stroke-linecap="round"/>
<line x1="594.2" y1="1284.5" x2="594.2" y2="1407.8" stroke="#231815" stroke-width="1.3"/>
<line x1="590.2" y1="1407.3" x2="773.6" y2="1407.3" stroke="#231815" stroke-width="1.3"/>
<line x1="590.2" y1="1407.3" x2="594.2" y2="1407.3" stroke="#231815" stroke-width="1.1"/>
<text x="588.9" y="1410.4" font-size="8.6" font-weight="bold" text-anchor="end" textLength="4.8" lengthAdjust="spacingAndGlyphs" fill="#2a2a2a">0</text>
<line x1="590.2" y1="1376.7" x2="594.2" y2="1376.7" stroke="#231815" stroke-width="1.1"/>
<text x="588.9" y="1379.8" font-size="8.6" font-weight="bold" text-anchor="end" textLength="9.5" lengthAdjust="spacingAndGlyphs" fill="#2a2a2a">30</text>
<line x1="590.2" y1="1346.2" x2="594.2" y2="1346.2" stroke="#231815" stroke-width="1.1"/>
<text x="588.9" y="1349.2" font-size="8.6" font-weight="bold" text-anchor="end" textLength="9.5" lengthAdjust="spacingAndGlyphs" fill="#2a2a2a">60</text>
<line x1="590.2" y1="1315.6" x2="594.2" y2="1315.6" stroke="#231815" stroke-width="1.1"/>
<text x="588.9" y="1318.7" font-size="8.6" font-weight="bold" text-anchor="end" textLength="9.5" lengthAdjust="spacingAndGlyphs" fill="#2a2a2a">90</text>
<line x1="590.2" y1="1285" x2="594.2" y2="1285" stroke="#231815" stroke-width="1.1"/>
<text x="588.9" y="1288.1" font-size="8.6" font-weight="bold" text-anchor="end" textLength="14.2" lengthAdjust="spacingAndGlyphs" fill="#2a2a2a">120</text>
<text x="637.6" y="1417.4" font-size="8.6" font-weight="bold" textLength="12.9" lengthAdjust="spacingAndGlyphs" fill="#222">NC</text>
<text x="704.8" y="1417.4" font-size="8.6" font-weight="bold" textLength="39.1" lengthAdjust="spacingAndGlyphs" fill="#222">si-ATAD2</text>
<line x1="644.6" y1="1299.8" x2="712" y2="1299.8" stroke="#231815" stroke-width="1.5"/>
<text x="678.3" y="1297.6" font-size="7" text-anchor="middle" fill="#333">**</text>
<text x="568.6" y="1341.7" font-size="8.2" font-weight="bold" text-anchor="middle" textLength="101.6" lengthAdjust="spacingAndGlyphs" transform="rotate(-90 568.6 1341.7)" fill="#222">Migration cells per field</text>
<rect x="613.6" y="1450.7" width="64" height="102.3" fill="#231815" rx="0.5"/>
<rect x="690.4" y="1487.4" width="64" height="65.6" fill="#a0a0a0" rx="0.5"/>
<line x1="645.6" y1="1447" x2="645.6" y2="1450.7" stroke="#231815" stroke-width="1.3"/>
<line x1="629.1" y1="1447" x2="662.1" y2="1447" stroke="#231815" stroke-width="1.6" stroke-linecap="round"/>
<line x1="722.4" y1="1484.5" x2="722.4" y2="1487.4" stroke="#a0a0a0" stroke-width="1.3"/>
<line x1="705.9" y1="1484.5" x2="738.9" y2="1484.5" stroke="#a0a0a0" stroke-width="1.6" stroke-linecap="round"/>
<line x1="596.5" y1="1426.9" x2="596.5" y2="1553.5" stroke="#231815" stroke-width="1.3"/>
<line x1="592.5" y1="1553" x2="769.5" y2="1553" stroke="#231815" stroke-width="1.3"/>
<line x1="592.5" y1="1553" x2="596.5" y2="1553" stroke="#231815" stroke-width="1.1"/>
<text x="591.2" y="1556.1" font-size="8.6" font-weight="bold" text-anchor="end" textLength="4.8" lengthAdjust="spacingAndGlyphs" fill="#2a2a2a">0</text>
<line x1="592.5" y1="1521.6" x2="596.5" y2="1521.6" stroke="#231815" stroke-width="1.1"/>
<text x="591.2" y="1524.7" font-size="8.6" font-weight="bold" text-anchor="end" textLength="9.5" lengthAdjust="spacingAndGlyphs" fill="#2a2a2a">20</text>
<line x1="592.5" y1="1490.2" x2="596.5" y2="1490.2" stroke="#231815" stroke-width="1.1"/>
<text x="591.2" y="1493.3" font-size="8.6" font-weight="bold" text-anchor="end" textLength="9.5" lengthAdjust="spacingAndGlyphs" fill="#2a2a2a">40</text>
<line x1="592.5" y1="1458.8" x2="596.5" y2="1458.8" stroke="#231815" stroke-width="1.1"/>
<text x="591.2" y="1461.9" font-size="8.6" font-weight="bold" text-anchor="end" textLength="9.5" lengthAdjust="spacingAndGlyphs" fill="#2a2a2a">60</text>
<line x1="592.5" y1="1427.4" x2="596.5" y2="1427.4" stroke="#231815" stroke-width="1.1"/>
<text x="591.2" y="1430.5" font-size="8.6" font-weight="bold" text-anchor="end" textLength="9.5" lengthAdjust="spacingAndGlyphs" fill="#2a2a2a">80</text>
<text x="640.5" y="1563.3" font-size="8.6" font-weight="bold" textLength="12.5" lengthAdjust="spacingAndGlyphs" fill="#222">NC</text>
<text x="704.3" y="1563.3" font-size="8.6" font-weight="bold" textLength="39.3" lengthAdjust="spacingAndGlyphs" fill="#222">si-ATAD2</text>
<line x1="646" y1="1441.4" x2="713" y2="1441.4" stroke="#231815" stroke-width="1.5"/>
<text x="679.5" y="1439.2" font-size="7" text-anchor="middle" fill="#333">**</text>
<text x="574" y="1487.5" font-size="8.2" font-weight="bold" text-anchor="middle" textLength="100" lengthAdjust="spacingAndGlyphs" transform="rotate(-90 574 1487.5)" fill="#222">Invasion cells per field</text>
<rect x="613.6" y="1606.2" width="64.4" height="90.8" fill="#231815" rx="0.5"/>
<rect x="690.4" y="1643" width="64.3" height="54" fill="#a0a0a0" rx="0.5"/>
<line x1="645.8" y1="1602.6" x2="645.8" y2="1606.2" stroke="#231815" stroke-width="1.3"/>
<line x1="629.3" y1="1602.6" x2="662.3" y2="1602.6" stroke="#231815" stroke-width="1.6" stroke-linecap="round"/>
<line x1="722.5" y1="1641" x2="722.5" y2="1643" stroke="#a0a0a0" stroke-width="1.3"/>
<line x1="706" y1="1641" x2="739" y2="1641" stroke="#a0a0a0" stroke-width="1.6" stroke-linecap="round"/>
<line x1="597.8" y1="1575.3" x2="597.8" y2="1697.5" stroke="#231815" stroke-width="1.3"/>
<line x1="593.8" y1="1697" x2="770" y2="1697" stroke="#231815" stroke-width="1.3"/>
<line x1="593.8" y1="1697" x2="597.8" y2="1697" stroke="#231815" stroke-width="1.1"/>
<text x="592.5" y="1700.1" font-size="8.6" font-weight="bold" text-anchor="end" textLength="4.8" lengthAdjust="spacingAndGlyphs" fill="#2a2a2a">0</text>
<line x1="593.8" y1="1666.7" x2="597.8" y2="1666.7" stroke="#231815" stroke-width="1.1"/>
<text x="592.5" y="1669.8" font-size="8.6" font-weight="bold" text-anchor="end" textLength="9.5" lengthAdjust="spacingAndGlyphs" fill="#2a2a2a">30</text>
<line x1="593.8" y1="1636.4" x2="597.8" y2="1636.4" stroke="#231815" stroke-width="1.1"/>
<text x="592.5" y="1639.5" font-size="8.6" font-weight="bold" text-anchor="end" textLength="9.5" lengthAdjust="spacingAndGlyphs" fill="#2a2a2a">60</text>
<line x1="593.8" y1="1606.1" x2="597.8" y2="1606.1" stroke="#231815" stroke-width="1.1"/>
<text x="592.5" y="1609.2" font-size="8.6" font-weight="bold" text-anchor="end" textLength="9.5" lengthAdjust="spacingAndGlyphs" fill="#2a2a2a">90</text>
<line x1="593.8" y1="1575.8" x2="597.8" y2="1575.8" stroke="#231815" stroke-width="1.1"/>
<text x="592.5" y="1578.9" font-size="8.6" font-weight="bold" text-anchor="end" textLength="14.2" lengthAdjust="spacingAndGlyphs" fill="#2a2a2a">120</text>
<text x="640.3" y="1706.6" font-size="8.6" font-weight="bold" textLength="12.1" lengthAdjust="spacingAndGlyphs" fill="#222">NC</text>
<text x="704.3" y="1706.6" font-size="8.6" font-weight="bold" textLength="39.6" lengthAdjust="spacingAndGlyphs" fill="#222">si-ATAD2</text>
<line x1="648" y1="1598.3" x2="714" y2="1598.3" stroke="#231815" stroke-width="1.5"/>
<text x="681" y="1596.1" font-size="7" text-anchor="middle" fill="#333">**</text>
<text x="574" y="1631.7" font-size="8.2" font-weight="bold" text-anchor="middle" textLength="101.6" lengthAdjust="spacingAndGlyphs" transform="rotate(-90 574 1631.7)" fill="#222">Migration cells per field</text>
<rect x="619" y="1770.5" width="64" height="72.5" fill="#231815" rx="0.5"/>
<rect x="695" y="1793" width="64.4" height="50" fill="#a0a0a0" rx="0.5"/>
<line x1="651" y1="1766" x2="651" y2="1770.5" stroke="#231815" stroke-width="1.3"/>
<line x1="634.5" y1="1766" x2="667.5" y2="1766" stroke="#231815" stroke-width="1.6" stroke-linecap="round"/>
<line x1="727.2" y1="1791" x2="727.2" y2="1793" stroke="#a0a0a0" stroke-width="1.3"/>
<line x1="710.7" y1="1791" x2="743.7" y2="1791" stroke="#a0a0a0" stroke-width="1.6" stroke-linecap="round"/>
<line x1="604.3" y1="1722.6" x2="604.3" y2="1843.5" stroke="#231815" stroke-width="1.3"/>
<line x1="600.3" y1="1843" x2="774.6" y2="1843" stroke="#231815" stroke-width="1.3"/>
<line x1="600.3" y1="1843" x2="604.3" y2="1843" stroke="#231815" stroke-width="1.1"/>
<text x="599" y="1846.1" font-size="8.6" font-weight="bold" text-anchor="end" textLength="4.8" lengthAdjust="spacingAndGlyphs" fill="#2a2a2a">0</text>
<line x1="600.3" y1="1813" x2="604.3" y2="1813" stroke="#231815" stroke-width="1.1"/>
<text x="599" y="1816.1" font-size="8.6" font-weight="bold" text-anchor="end" textLength="9.5" lengthAdjust="spacingAndGlyphs" fill="#2a2a2a">20</text>
<line x1="600.3" y1="1783" x2="604.3" y2="1783" stroke="#231815" stroke-width="1.1"/>
<text x="599" y="1786.1" font-size="8.6" font-weight="bold" text-anchor="end" textLength="9.5" lengthAdjust="spacingAndGlyphs" fill="#2a2a2a">40</text>
<line x1="600.3" y1="1753.1" x2="604.3" y2="1753.1" stroke="#231815" stroke-width="1.1"/>
<text x="599" y="1756.2" font-size="8.6" font-weight="bold" text-anchor="end" textLength="9.5" lengthAdjust="spacingAndGlyphs" fill="#2a2a2a">60</text>
<line x1="600.3" y1="1723.1" x2="604.3" y2="1723.1" stroke="#231815" stroke-width="1.1"/>
<text x="599" y="1726.2" font-size="8.6" font-weight="bold" text-anchor="end" textLength="9.5" lengthAdjust="spacingAndGlyphs" fill="#2a2a2a">80</text>
<text x="645.7" y="1852.6" font-size="8.6" font-weight="bold" textLength="11.8" lengthAdjust="spacingAndGlyphs" fill="#222">NC</text>
<text x="709.6" y="1852.6" font-size="8.6" font-weight="bold" textLength="40.1" lengthAdjust="spacingAndGlyphs" fill="#222">si-ATAD2</text>
<line x1="653" y1="1759.7" x2="719" y2="1759.7" stroke="#231815" stroke-width="1.5"/>
<text x="686" y="1757.5" font-size="7" text-anchor="middle" fill="#333">**</text>
<text x="580.2" y="1780" font-size="8.2" font-weight="bold" text-anchor="middle" textLength="96.3" lengthAdjust="spacingAndGlyphs" transform="rotate(-90 580.2 1780)" fill="#222">Invasion cells per field</text>
<text x="846.6" y="1285.4" font-size="28.8" font-weight="bold" textLength="24.8" lengthAdjust="spacingAndGlyphs">H</text>
<text x="1060.5" y="1272.5" font-size="29.4" font-weight="bold" textLength="43.3" lengthAdjust="spacingAndGlyphs">NC</text>
<text x="1230.5" y="1272.5" font-size="31.8" font-weight="bold" textLength="134.6" lengthAdjust="spacingAndGlyphs">si-ATAD2</text>
<text x="925.8" y="1338.4" font-size="28.2" font-weight="bold" textLength="39.7" lengthAdjust="spacingAndGlyphs">0H</text>
<text x="869.7" y="1410" font-size="29.4" font-weight="bold" textLength="35.7" lengthAdjust="spacingAndGlyphs">K1</text>
<text x="913.8" y="1493" font-size="26.5" font-weight="bold" textLength="54.4" lengthAdjust="spacingAndGlyphs">24H</text>
<text x="928.6" y="1643.9" font-size="30.1" font-weight="bold" textLength="39.7" lengthAdjust="spacingAndGlyphs">0H</text>
<text x="858.7" y="1730" font-size="30.1" font-weight="bold" textLength="73.1" lengthAdjust="spacingAndGlyphs">TPC1</text>
<text x="919.9" y="1792" font-size="30.5" font-weight="bold" textLength="55.6" lengthAdjust="spacingAndGlyphs">24H</text>
<rect x="976.3" y="1278.6" width="207.7" height="128.4" fill="url(#h1g)"/>
<rect x="976.3" y="1278.6" width="39.7" height="128.4" fill="url(#h1g)" filter="url(#htex)"/>
<rect x="1149.4" y="1278.6" width="34.6" height="128.4" fill="url(#h1g)" filter="url(#htex)"/>
<line x1="1018.4" y1="1278.6" x2="1015" y2="1407" stroke="#000" stroke-width="2.8"/>
<line x1="1150.4" y1="1278.6" x2="1150.4" y2="1407" stroke="#000" stroke-width="2.8"/>
<rect x="1192" y="1277.3" width="213.6" height="131.9" fill="url(#h2g)"/>
<rect x="1192" y="1277.3" width="28.5" height="131.9" fill="url(#h2g)" filter="url(#htex)"/>
<rect x="1380" y="1277.3" width="25.6" height="131.9" fill="url(#h2g)" filter="url(#htex)"/>
<line x1="1219.5" y1="1277.3" x2="1224.4" y2="1409.2" stroke="#000" stroke-width="2.8"/>
<line x1="1376" y1="1277.3" x2="1381" y2="1409.2" stroke="#000" stroke-width="2.8"/>
<polyline points="1013,1282 1015.7,1287.1 1015.2,1292.2 1013,1297.2 1013.7,1302.3 1013.4,1307.4 1014,1312.5 1014.3,1317.6 1011.4,1322.7 1010.9,1327.8 1014,1332.8 1012.2,1337.9 1013.3,1343 1010.1,1348.1 1011.7,1353.2 1012.6,1358.2 1010.4,1363.3 1013.1,1368.4 1012.7,1373.5 1009.1,1378.6 1008.9,1383.7 1010.7,1388.8 1012.1,1393.8 1009.7,1398.9 1008.9,1404" fill="none" stroke="#f4eef4" stroke-width="2" opacity="0.7" stroke-dasharray="7 3 3 5 9 2 4 6"/>
<polyline points="1160.3,1290 1160,1295.2 1155.4,1300.4 1155.3,1305.5 1158.9,1310.7 1158.2,1315.9 1157.6,1321.1 1155.6,1326.3 1156.9,1331.5 1156.7,1336.6 1156.4,1341.8 1154,1347 1155.2,1352.2 1154.8,1357.4 1156.3,1362.5 1157.4,1367.7 1157,1372.9 1154.7,1378.1 1154,1383.3 1153,1388.5 1151.6,1393.6 1151.3,1398.8 1153.3,1404" fill="none" stroke="#f4eef4" stroke-width="2" opacity="0.6" stroke-dasharray="7 3 3 5 9 2 4 6"/>
<polyline points="1214.5,1282 1215.9,1287.1 1215.4,1292.2 1216.5,1297.2 1216.8,1302.3 1214.7,1307.4 1214.7,1312.5 1218.2,1317.6 1216,1322.7 1216.1,1327.8 1219.4,1332.8 1217.4,1337.9 1219.1,1343 1217.8,1348.1 1218.7,1353.2 1216.9,1358.2 1219,1363.3 1220.2,1368.4 1219,1373.5 1220,1378.6 1219.9,1383.7 1217.7,1388.8 1220.7,1393.8 1220.2,1398.9 1219.2,1404" fill="none" stroke="#f4eef4" stroke-width="1.8" opacity="0.5" stroke-dasharray="7 3 3 5 9 2 4 6"/>
<polyline points="1383.7,1290 1383.2,1295.2 1384.8,1300.4 1383.7,1305.5 1383.4,1310.7 1385.2,1315.9 1387.9,1321.1 1387.5,1326.3 1387.4,1331.5 1384.8,1336.6 1386.5,1341.8 1385.4,1347 1385,1352.2 1384.8,1357.4 1385.5,1362.5 1389.2,1367.7 1388.8,1372.9 1388.9,1378.1 1389,1383.3 1386.1,1388.5 1386.8,1393.6 1388.5,1398.8 1389.2,1404" fill="none" stroke="#f4eef4" stroke-width="2" opacity="0.7" stroke-dasharray="7 3 3 5 9 2 4 6"/>
<rect x="969.5" y="1417.5" width="214.3" height="136.5" fill="url(#h3g)"/>
<rect x="969.5" y="1417.5" width="78.9" height="136.5" fill="url(#h3g)" filter="url(#htex)"/>
<rect x="1121" y="1417.5" width="62.8" height="136.5" fill="url(#h3g)" filter="url(#htex)"/>
<line x1="1048.4" y1="1417.5" x2="1047.4" y2="1554" stroke="#000" stroke-width="2.8"/>
<line x1="1122" y1="1417.5" x2="1118.3" y2="1554" stroke="#000" stroke-width="2.8"/>
<rect x="1192" y="1417.5" width="215.6" height="137.4" fill="url(#h4g)"/>
<rect x="1192" y="1417.5" width="51.6" height="137.4" fill="url(#h4g)" filter="url(#htex)"/>
<rect x="1347.6" y="1417.5" width="60" height="137.4" fill="url(#h4g)" filter="url(#htex)"/>
<line x1="1242.6" y1="1417.5" x2="1243" y2="1554.9" stroke="#000" stroke-width="2.8"/>
<line x1="1347" y1="1417.5" x2="1348.6" y2="1554.9" stroke="#000" stroke-width="2.8"/>
<rect x="974.7" y="1568.2" width="210.4" height="137.6" fill="url(#h5g)"/>
<rect x="974.7" y="1568.2" width="39.5" height="137.6" fill="url(#h5g)" filter="url(#htex)"/>
<rect x="1150.5" y="1568.2" width="34.6" height="137.6" fill="url(#h5g)" filter="url(#htex)"/>
<line x1="1015.2" y1="1568.2" x2="1013.2" y2="1705.8" stroke="#000" stroke-width="2.8"/>
<line x1="1151.5" y1="1568.2" x2="1149.5" y2="1705.8" stroke="#000" stroke-width="2.8"/>
<rect x="1194.8" y="1571" width="210.8" height="132.7" fill="url(#h6g)"/>
<rect x="1194.8" y="1571" width="35.8" height="132.7" fill="url(#h6g)" filter="url(#htex)"/>
<rect x="1372.2" y="1571" width="33.4" height="132.7" fill="url(#h6g)" filter="url(#htex)"/>
<line x1="1231.6" y1="1571" x2="1229.6" y2="1703.7" stroke="#000" stroke-width="2.8"/>
<line x1="1373.2" y1="1571" x2="1371.2" y2="1703.7" stroke="#000" stroke-width="2.8"/>
<polyline points="1226.6,1590 1227,1595 1227,1600 1227.5,1605 1226.3,1610 1227,1615 1222.3,1620 1224.2,1625 1226.4,1630 1224.7,1635 1225.7,1640 1221.6,1645 1223.1,1650 1221.8,1655 1223,1660 1223,1665 1219.9,1670 1220.7,1675 1220.8,1680 1223.8,1685 1222.8,1690 1219.5,1695 1222.5,1700" fill="none" stroke="#f4eef4" stroke-width="1.6" opacity="0.7" stroke-dasharray="7 3 3 5 9 2 4 6"/>
<rect x="975.5" y="1715" width="211.2" height="134.4" fill="url(#h7g)"/>
<rect x="975.5" y="1715" width="85.3" height="134.4" fill="url(#h7g)" filter="url(#htex)"/>
<rect x="1110.9" y="1715" width="75.8" height="134.4" fill="url(#h7g)" filter="url(#htex)"/>
<line x1="1061.3" y1="1715" x2="1059.8" y2="1849.4" stroke="#000" stroke-width="2.8"/>
<line x1="1109.9" y1="1715" x2="1111.9" y2="1849.4" stroke="#000" stroke-width="2.8"/>
<rect x="1197.2" y="1714.7" width="211.2" height="134.7" fill="url(#h8g)"/>
<rect x="1197.2" y="1714.7" width="67.8" height="134.7" fill="url(#h8g)" filter="url(#htex)"/>
<rect x="1363" y="1714.7" width="45.4" height="134.7" fill="url(#h8g)" filter="url(#htex)"/>
<line x1="1264" y1="1714.7" x2="1264.6" y2="1849.4" stroke="#000" stroke-width="2.8"/>
<line x1="1363" y1="1714.7" x2="1364" y2="1849.4" stroke="#000" stroke-width="2.8"/>
<text x="15" y="1916.8" font-size="29.7" font-weight="bold" textLength="10.8" lengthAdjust="spacingAndGlyphs">I</text>
<text x="255.2" y="1916.3" font-size="30.1" font-weight="bold" textLength="42.4" lengthAdjust="spacingAndGlyphs">NC</text>
<text x="497.2" y="1915" font-size="25.7" font-weight="bold" textLength="133.8" lengthAdjust="spacingAndGlyphs">si-ATAD2</text>
<text x="39.1" y="2032.4" font-size="30.1" font-weight="bold" textLength="36.2" lengthAdjust="spacingAndGlyphs">K1</text>
<text x="81.4" y="2191.5" font-size="26.9" font-weight="bold" textLength="29.1" lengthAdjust="spacingAndGlyphs">PI</text>
<text x="30.9" y="2327.3" font-size="31" font-weight="bold" textLength="71.9" lengthAdjust="spacingAndGlyphs">TPC1</text>
<text x="310.8" y="2497.2" font-size="28.8" font-weight="bold" textLength="219.9" lengthAdjust="spacingAndGlyphs">Annexin-V FITC</text>
<path d="M116.8 1920V2466.5H712" fill="none" stroke="#000" stroke-width="3"/>
<path d="M116.8 1899L124.5 1927L116.8 1922L109 1927z" fill="#000"/>
<path d="M733 2468.2L704 2475.5L709 2468.2L704 2461z" fill="#000"/>
<path d="M270 1952.5h1m57 19h1m-30 5h1m-25 1h1m23 3h1m2 3h1m12 0h1m-89 1h1m103 0h1m7 0h1m-53 1h1m41 0h1m11 0h1m4 0h1m-61 1h1m5 1h1m17 0h1m-11 1h1m5 0h1m13 0h1m-17 1h1m29 0h1m-7 1h1m-32 1h1m30 0h1m-1 1h1m-42 3h1m4 0h1m6 0h1m34 0h1m-43 1h1m43 0h1m0 0h1m-53 2h1m-5 1h1m4 0h1m50 1h1m5 1h1m7 0h1m-96 1h1m83 0h1m8 0h1m-65 2h1m-51 1h1m41 0h1m0 0h1m2 1h1m57 0h1m-88 1h1m94 1h1m-36 1h1m68 0h1m-120 1h1m83 1h1m-79 1h1m4 0h1m26 0h1m-49 1h1m7 0h1m10 0h1m-4 1h1m75 0h1m2 0h1m-83 1h1m1 0h1m4 0h1m24 0h1m66 0h1m-129 1h1m66 0h1m-51 1h1m18 0h1m81 0h1m-91 1h1m80 0h1m-89 1h1m-37 1h1m48 0h1m0 0h1m3 0h1m-43 1h1m57 0h1m-43 1h1m16 0h1m1 0h1m89 0h1m-55 1h1m36 0h1m3 0h1m3 0h1m-59 1h1m0 0h1m22 0h1m42 0h1m-92 1h1m25 0h1m46 0h1m18 0h1m-107 1h1m-3 2h1m11 0h1m90 0h1m4 1h1m7 0h1m-122 1h1m44 0h1m46 0h1m20 0h1m-134 1h1m35 0h1m76 0h1m3 0h1m3 0h1m-113 1h1m20 0h1m77 1h1m4 1h1m6 0h1m-81 1h1m76 1h1m-139 1h1m17 0h1m42 0h1m-32 1h1m2 0h1m0 0h1m7 0h1m6 0h1m88 0h1m17 0h1m-28 1h1m-114 1h1m26 0h1m6 0h1m38 0h1m2 0h1m32 0h1m11 0h1m-118 1h1m24 0h1m42 0h1m42 0h1m6 0h1m23 0h1m-116 1h1m0 0h1m76 0h1m4 0h1m5 0h1m16 0h1m-112 1h1m1 0h1m136 0h1m-59 1h1m-124 1h1m28 0h1m101 0h1m6 1h1m7 0h1m-103 1h1m88 0h1m0 0h1m-114 1h1m11 0h1m103 0h1m-104 1h1m88 0h1m23 0h1m-127 1h1m9 0h1m4 0h1m92 1h1m-96 1h1m98 1h1m13 0h1m-31 1h1m59 0h1m-143 1h1m83 0h1m9 0h1m-120 1h1m107 0h1m20 0h1m23 0h1m-27 1h1m-14 1h1m7 0h1m13 2h1m-132 1h1m109 0h1m0 0h1m6 0h1m-146 1h1m142 0h1m-102 1h1m5 0h1m78 0h1m7 0h1m1 0h1m-97 1h1m3 0h1m85 0h1m7 0h1m-3 1h1m12 0h1m-124 1h1m113 0h1m20 0h1m-126 1h1m82 0h1m1 0h1m2 0h1m6 0h1m3 0h1m7 0h1m-123 1h1m8 0h1m93 0h1m10 0h1m27 0h1m0 0h1m-135 1h1m12 0h1m81 0h1m-91 1h1m0 0h1m1 0h1m1 0h1m95 0h1m6 0h1m-106 1h1m79 0h1m13 0h1m3 0h1m-108 1h1m0 0h1m11 0h1m117 0h1m-132 1h1m84 0h1m12 0h1m20 0h1m4 0h1m-129 1h1m103 0h1m1 0h1m0 0h1m-12 1h1m29 0h1m-150 1h1m34 0h1m87 0h1m26 0h1m13 0h1m28 0h1m-175 1h1m0 0h1m16 0h1m83 0h1m7 0h1m2 0h1m29 0h1m0 0h1m-134 1h1m5 0h1m0 0h1m86 0h1m-112 1h1m16 0h1m80 0h1m6 0h1m9 0h1m50 0h1m-179 1h1m15 0h1m110 0h1m-4 1h1m-92 1h1m92 0h1m-13 1h1m12 0h1m5 0h1m-107 1h1m93 0h1m4 0h1m34 0h1m-134 1h1m91 0h1m14 0h1m-126 1h1m15 0h1m91 0h1m8 0h1m2 0h1m6 0h1m-115 1h1m99 0h1m24 0h1m-39 1h1m-92 1h1m92 0h1m10 0h1m-102 1h1m93 0h1m-101 1h1m1 0h1m115 0h1m13 0h1m-138 1h1m123 0h1m-22 1h1m11 2h1m34 0h1m-148 1h1m3 0h1m103 0h1m9 0h1m-113 1h1m0 0h1m2 0h1m-10 1h1m6 0h1m88 0h1m3 0h1m5 0h1m3 0h1m48 0h1m-60 1h1m14 0h1m-109 1h1m97 0h1m16 0h1m1 0h1m-38 1h1m10 0h1m13 0h1m-127 1h1m106 0h1m13 0h1m1 0h1m-24 1h1m24 0h1m-24 2h1m6 1h1m-8 1h1m2 0h1m2 0h1m2 0h1m14 0h1m-26 1h1m10 0h1m-104 1h1m9 0h1m101 0h1m-135 1h1m27 0h1m118 0h1m-127 1h1m101 2h1m-96 1h1m89 0h1m-11 1h1m0 0h1m-49 1h1m-68 1h1m121 0h1m12 0h1m0 0h1m-110 1h1m0 0h1m89 0h1m8 0h1m-107 1h1m3 0h1m85 0h1m-104 1h1m12 0h1m2 0h1m118 0h1m-28 1h1m7 0h1m1 0h1m4 0h1m-113 1h1m107 0h1m-123 1h1m116 0h1m4 0h1m-116 2h1m6 0h1m96 0h1m14 0h1m23 0h1m-40 1h1m-102 1h1m1 1h1m-11 1h1m5 0h1m180 0h1m-72 1h1m-27 1h1m18 0h1m1 0h1m-112 1h1m110 0h1m12 0h1m-128 5h1m5 0h1m84 0h1m20 0h1m-1 1h1m16 0h1m-127 2h1m-8 3h1m113 1h1m20 0h1m-132 1h1m126 3h1m-126 1h1m15 0h1m82 0h1m-109 1h1m115 0h1m-109 1h1m108 0h1m0 0h1m-124 1h1m10 0h1m0 2h1m106 0h1m-105 1h1m-1 1h1m-10 1h1m10 1h1m17 0h1m83 0h1m-119 1h1m78 1h1m34 0h1m-121 2h1m85 0h1m19 0h1" stroke="#232d96" stroke-width="1" fill="none"/>
<path d="M314 1989.5h1m1 0h1m0 0h1m-3 1h1m3 0h1m-14 1h1m1 0h1m1 0h1m-6 2h1m1 0h1m2 0h1m0 0h1m-3 1h1m3 0h1m1 0h1m1 0h1m2 0h1m2 0h1m1 0h1m4 0h1m0 0h1m-26 1h1m10 0h1m3 0h1m0 0h1m1 0h1m-12 1h1m0 0h1m0 0h1m5 0h1m2 0h1m-14 1h1m1 0h1m0 0h1m1 0h1m4 0h1m1 0h1m0 0h1m9 0h1m-16 1h1m2 0h1m0 0h1m6 0h1m3 0h1m0 0h1m-37 1h1m5 0h1m0 0h1m2 0h1m-16 1h1m13 0h1m2 0h1m3 0h1m2 0h1m0 0h1m3 0h1m8 0h1m0 0h1m-42 1h1m9 0h1m0 0h1m8 0h1m4 0h1m2 0h1m2 0h1m5 0h1m0 0h1m3 0h1m-46 1h1m3 0h1m6 0h1m1 0h1m0 0h1m2 0h1m7 0h1m11 0h1m2 0h1m-41 1h1m8 0h1m6 0h1m1 0h1m0 0h1m16 0h1m-39 1h1m4 0h1m0 0h1m3 0h1m2 0h1m2 0h1m2 0h1m4 0h1m0 0h1m0 0h1m2 0h1m1 0h1m0 0h1m2 0h1m1 0h1m3 0h1m0 0h1m-38 1h1m0 0h1m18 0h1m6 0h1m4 0h1m4 0h1m-37 1h1m4 0h1m2 0h1m1 0h1m2 0h1m13 0h1m1 0h1m1 0h1m5 0h1m0 0h1m-36 1h1m2 0h1m2 0h1m1 0h1m2 0h1m8 0h1m4 0h1m1 0h1m-31 1h1m8 0h1m0 0h1m0 0h1m18 0h1m7 0h1m0 0h1m3 0h1m0 0h1m-56 1h1m1 0h1m0 0h1m2 0h1m3 0h1m0 0h1m1 0h1m1 0h1m1 0h1m1 0h1m7 0h1m7 0h1m1 0h1m8 0h1m4 0h1m-54 1h1m2 0h1m9 0h1m0 0h1m0 0h1m13 0h1m3 0h1m0 0h1m2 0h1m14 0h1m4 0h1m2 0h1m-64 1h1m15 0h1m8 0h1m4 0h1m4 0h1m10 0h1m5 0h1m1 0h1m9 0h1m-67 1h1m3 0h1m5 0h1m1 0h1m1 0h1m2 0h1m12 0h1m3 0h1m4 0h1m9 0h1m0 0h1m3 0h1m1 0h1m3 0h1m5 0h1m-67 1h1m3 0h1m5 0h1m4 0h1m0 0h1m0 0h1m7 0h1m9 0h1m3 0h1m6 0h1m3 0h1m4 0h1m0 0h1m-56 1h1m3 0h1m3 0h1m4 0h1m2 0h1m19 0h1m12 0h1m13 0h1m-53 1h1m4 0h1m13 0h1m9 0h1m7 0h1m2 0h1m0 0h1m2 0h1m2 0h1m5 0h1m-60 1h1m1 0h1m43 0h1m2 0h1m0 0h1m2 0h1m-55 1h1m1 0h1m4 0h1m1 0h1m0 0h1m19 0h1m5 0h1m1 0h1m9 0h1m2 0h1m0 0h1m2 0h1m0 0h1m0 0h1m1 0h1m-55 1h1m3 0h1m8 0h1m1 0h1m13 0h1m14 0h1m5 0h1m0 0h1m0 0h1m1 0h1m-50 1h1m11 0h1m3 0h1m9 0h1m2 0h1m13 0h1m-52 1h1m4 0h1m1 0h1m11 0h1m3 0h1m1 0h1m13 0h1m6 0h1m2 0h1m0 0h1m4 0h1m-56 1h1m2 0h1m1 0h1m0 0h1m8 0h1m28 0h1m0 0h1m0 0h1m0 0h1m-50 1h1m10 0h1m9 0h1m28 0h1m5 0h1m-61 1h1m4 0h1m4 0h1m6 0h1m26 0h1m2 0h1m2 0h1m1 0h1m0 0h1m2 0h1m-48 1h1m1 0h1m6 0h1m14 0h1m12 0h1m4 0h1m1 0h1m5 0h1m0 0h1m-57 1h1m19 0h1m14 0h1m13 0h1m4 0h1m-65 1h1m12 0h1m1 0h1m2 0h1m0 0h1m2 0h1m29 0h1m4 0h1m6 0h1m-64 1h1m1 0h1m4 0h1m0 0h1m8 0h1m16 0h1m2 0h1m2 0h1m12 0h1m8 0h1m3 0h1m-70 1h1m10 0h1m2 0h1m0 0h1m17 0h1m2 0h1m8 0h1m3 0h1m2 0h1m5 0h1m2 0h1m0 0h1m-47 1h1m0 0h1m7 0h1m16 0h1m11 0h1m0 0h1m0 0h1m0 0h1m6 0h1m4 0h1m-68 1h1m1 0h1m2 0h1m2 0h1m0 0h1m2 0h1m2 0h1m3 0h1m4 0h1m5 0h1m26 0h1m0 0h1m-62 1h1m1 0h1m6 0h1m0 0h1m2 0h1m3 0h1m4 0h1m3 0h1m2 0h1m3 0h1m14 0h1m1 0h1m9 0h1m-58 1h1m21 0h1m0 0h1m8 0h1m9 0h1m1 0h1m0 0h1m0 0h1m0 0h1m1 0h1m1 0h1m0 0h1m5 0h1m-60 1h1m27 0h1m11 0h1m0 0h1m0 0h1m3 0h1m0 0h1m1 0h1m10 0h1m-60 1h1m8 0h1m2 0h1m1 0h1m0 0h1m9 0h1m7 0h1m1 0h1m15 0h1m1 0h1m2 0h1m-58 1h1m7 0h1m1 0h1m1 0h1m1 0h1m0 0h1m0 0h1m0 0h1m0 0h1m4 0h1m11 0h1m4 0h1m1 0h1m5 0h1m3 0h1m3 0h1m0 0h1m-60 1h1m13 0h1m4 0h1m4 0h1m11 0h1m4 0h1m0 0h1m3 0h1m9 0h1m1 0h1m5 0h1m-56 1h1m6 0h1m0 0h1m1 0h1m15 0h1m0 0h1m6 0h1m1 0h1m1 0h1m0 0h1m-46 1h1m7 0h1m0 0h1m0 0h1m2 0h1m1 0h1m10 0h1m4 0h1m1 0h1m4 0h1m2 0h1m1 0h1m1 0h1m2 0h1m3 0h1m2 0h1m-59 1h1m7 0h1m2 0h1m14 0h1m4 0h1m8 0h1m1 0h1m4 0h1m8 0h1m1 0h1m3 0h1m-61 1h1m0 0h1m15 0h1m0 0h1m1 0h1m5 0h1m9 0h1m0 0h1m0 0h1m5 0h1m5 0h1m1 0h1m1 0h1m1 0h1m-56 1h1m16 0h1m0 0h1m1 0h1m4 0h1m2 0h1m1 0h1m4 0h1m2 0h1m3 0h1m1 0h1m3 0h1m2 0h1m-49 1h1m15 0h1m0 0h1m6 0h1m4 0h1m0 0h1m2 0h1m1 0h1m0 0h1m4 0h1m6 0h1m-71 1h1m5 0h1m1 0h1m0 0h1m0 0h1m12 0h1m5 0h1m1 0h1m4 0h1m5 0h1m6 0h1m1 0h1m1 0h1m0 0h1m6 0h1m2 0h1m0 0h1m2 0h1m0 0h1m0 0h1m-48 1h1m0 0h1m0 0h1m0 0h1m3 0h1m1 0h1m8 0h1m3 0h1m13 0h1m6 0h1m4 0h1m-69 1h1m8 0h1m2 0h1m4 0h1m5 0h1m0 0h1m5 0h1m6 0h1m1 0h1m3 0h1m0 0h1m4 0h1m4 0h1m0 0h1m3 0h1m-56 1h1m6 0h1m0 0h1m8 0h1m1 0h1m3 0h1m4 0h1m1 0h1m2 0h1m2 0h1m0 0h1m4 0h1m12 0h1m1 0h1m3 0h1m1 0h1m2 0h1m-66 1h1m9 0h1m11 0h1m4 0h1m3 0h1m2 0h1m0 0h1m7 0h1m6 0h1m7 0h1m4 0h1m0 0h1m-73 1h1m8 0h1m13 0h1m5 0h1m15 0h1m7 0h1m7 0h1m2 0h1m-65 1h1m6 0h1m24 0h1m1 0h1m14 0h1m3 0h1m1 0h1m0 0h1m3 0h1m4 0h1m-69 1h1m0 0h1m10 0h1m3 0h1m13 0h1m5 0h1m0 0h1m2 0h1m1 0h1m2 0h1m5 0h1m13 0h1m1 0h1m1 0h1m2 0h1m1 0h1m-75 1h1m12 0h1m2 0h1m3 0h1m4 0h1m1 0h1m2 0h1m0 0h1m4 0h1m1 0h1m4 0h1m6 0h1m8 0h1m12 0h1m-60 1h1m3 0h1m3 0h1m2 0h1m4 0h1m7 0h1m3 0h1m1 0h1m5 0h1m12 0h1m0 0h1m7 0h1m-68 1h1m3 0h1m10 0h1m2 0h1m0 0h1m1 0h1m4 0h1m8 0h1m3 0h1m2 0h1m1 0h1m4 0h1m2 0h1m0 0h1m3 0h1m-65 1h1m0 0h1m4 0h1m8 0h1m6 0h1m0 0h1m1 0h1m4 0h1m3 0h1m6 0h1m1 0h1m3 0h1m4 0h1m7 0h1m7 0h1m-50 1h1m1 0h1m5 0h1m1 0h1m1 0h1m5 0h1m11 0h1m4 0h1m1 0h1m6 0h1m5 0h1m1 0h1m-74 1h1m2 0h1m4 0h1m11 0h1m1 0h1m2 0h1m1 0h1m4 0h1m1 0h1m8 0h1m2 0h1m2 0h1m2 0h1m2 0h1m1 0h1m0 0h1m4 0h1m-60 1h1m0 0h1m5 0h1m4 0h1m1 0h1m8 0h1m1 0h1m0 0h1m5 0h1m12 0h1m12 0h1m3 0h1m6 0h1m0 0h1m-76 1h1m2 0h1m5 0h1m0 0h1m3 0h1m5 0h1m1 0h1m7 0h1m0 0h1m6 0h1m0 0h1m0 0h1m3 0h1m3 0h1m0 0h1m0 0h1m6 0h1m1 0h1m2 0h1m-56 1h1m5 0h1m3 0h1m1 0h1m10 0h1m8 0h1m10 0h1m13 0h1m0 0h1m0 0h1m4 0h1m3 0h1m2 0h1m-72 1h1m0 0h1m6 0h1m7 0h1m2 0h1m12 0h1m15 0h1m13 0h1m6 0h1m1 0h1m-78 1h1m5 0h1m1 0h1m2 0h1m0 0h1m7 0h1m3 0h1m3 0h1m18 0h1m7 0h1m15 0h1m1 0h1m0 0h1m-62 1h1m8 0h1m0 0h1m2 0h1m2 0h1m0 0h1m3 0h1m6 0h1m23 0h1m11 0h1m-79 1h1m1 0h1m0 0h1m1 0h1m8 0h1m3 0h1m1 0h1m6 0h1m1 0h1m2 0h1m4 0h1m2 0h1m0 0h1m2 0h1m3 0h1m1 0h1m0 0h1m0 0h1m2 0h1m0 0h1m0 0h1m2 0h1m3 0h1m1 0h1m-56 1h1m7 0h1m0 0h1m0 0h1m0 0h1m0 0h1m3 0h1m1 0h1m1 0h1m2 0h1m5 0h1m14 0h1m9 0h1m-57 1h1m5 0h1m0 0h1m1 0h1m3 0h1m3 0h1m1 0h1m1 0h1m2 0h1m4 0h1m4 0h1m0 0h1m4 0h1m8 0h1m0 0h1m0 0h1m3 0h1m3 0h1m-65 1h1m0 0h1m6 0h1m4 0h1m3 0h1m0 0h1m5 0h1m1 0h1m4 0h1m0 0h1m3 0h1m1 0h1m9 0h1m11 0h1m-57 1h1m19 0h1m4 0h1m1 0h1m1 0h1m3 0h1m2 0h1m11 0h1m3 0h1m-48 1h1m8 0h1m0 0h1m2 0h1m1 0h1m0 0h1m1 0h1m6 0h1m3 0h1m4 0h1m5 0h1m7 0h1m2 0h1m-66 1h1m1 0h1m0 0h1m4 0h1m3 0h1m0 0h1m8 0h1m6 0h1m0 0h1m4 0h1m0 0h1m1 0h1m8 0h1m0 0h1m2 0h1m5 0h1m4 0h1m-60 1h1m1 0h1m4 0h1m0 0h1m0 0h1m7 0h1m2 0h1m8 0h1m2 0h1m2 0h1m1 0h1m4 0h1m2 0h1m5 0h1m1 0h1m2 0h1m1 0h1m-56 1h1m4 0h1m0 0h1m7 0h1m10 0h1m1 0h1m5 0h1m1 0h1m9 0h1m2 0h1m1 0h1m7 0h1m0 0h1m-59 1h1m0 0h1m0 0h1m2 0h1m7 0h1m1 0h1m1 0h1m0 0h1m3 0h1m0 0h1m6 0h1m2 0h1m1 0h1m4 0h1m0 0h1m5 0h1m2 0h1m0 0h1m-60 1h1m5 0h1m9 0h1m4 0h1m1 0h1m4 0h1m0 0h1m4 0h1m3 0h1m2 0h1m1 0h1m17 0h1m-56 1h1m0 0h1m4 0h1m5 0h1m0 0h1m8 0h1m0 0h1m9 0h1m1 0h1m4 0h1m0 0h1m1 0h1m1 0h1m0 0h1m2 0h1m1 0h1m5 0h1m-65 1h1m10 0h1m10 0h1m0 0h1m0 0h1m0 0h1m0 0h1m3 0h1m0 0h1m12 0h1m0 0h1m17 0h1m3 0h1m-73 1h1m3 0h1m8 0h1m1 0h1m3 0h1m1 0h1m1 0h1m0 0h1m0 0h1m0 0h1m0 0h1m1 0h1m0 0h1m0 0h1m4 0h1m3 0h1m1 0h1m6 0h1m0 0h1m1 0h1m0 0h1m5 0h1m8 0h1m-55 1h1m3 0h1m0 0h1m0 0h1m0 0h1m0 0h1m0 0h1m2 0h1m0 0h1m8 0h1m0 0h1m2 0h1m1 0h1m1 0h1m5 0h1m3 0h1m6 0h1m2 0h1m3 0h1m-65 1h1m3 0h1m0 0h1m4 0h1m3 0h1m0 0h1m2 0h1m3 0h1m3 0h1m3 0h1m1 0h1m5 0h1m6 0h1m-47 1h1m2 0h1m1 0h1m3 0h1m0 0h1m3 0h1m2 0h1m14 0h1m0 0h1m2 0h1m6 0h1m0 0h1m0 0h1m7 0h1m6 0h1m-58 1h1m2 0h1m0 0h1m3 0h1m5 0h1m3 0h1m0 0h1m0 0h1m2 0h1m1 0h1m1 0h1m4 0h1m0 0h1m1 0h1m0 0h1m8 0h1m5 0h1m0 0h1m9 0h1m-59 1h1m2 0h1m2 0h1m5 0h1m4 0h1m1 0h1m1 0h1m3 0h1m10 0h1m3 0h1m1 0h1m6 0h1m7 0h1m1 0h1m0 0h1m0 0h1m-61 1h1m6 0h1m0 0h1m1 0h1m0 0h1m0 0h1m4 0h1m3 0h1m5 0h1m0 0h1m3 0h1m5 0h1m7 0h1m2 0h1m1 0h1m0 0h1m2 0h1m-55 1h1m4 0h1m3 0h1m3 0h1m9 0h1m1 0h1m8 0h1m3 0h1m2 0h1m1 0h1m1 0h1m4 0h1m-64 1h1m1 0h1m0 0h1m12 0h1m5 0h1m0 0h1m6 0h1m9 0h1m3 0h1m8 0h1m0 0h1m-51 1h1m3 0h1m4 0h1m5 0h1m9 0h1m0 0h1m2 0h1m0 0h1m1 0h1m0 0h1m2 0h1m3 0h1m1 0h1m2 0h1m1 0h1m1 0h1m1 0h1m1 0h1m0 0h1m9 0h1m0 0h1m-75 1h1m13 0h1m1 0h1m1 0h1m1 0h1m1 0h1m7 0h1m5 0h1m3 0h1m6 0h1m5 0h1m2 0h1m9 0h1m-62 1h1m1 0h1m11 0h1m12 0h1m1 0h1m1 0h1m3 0h1m0 0h1m4 0h1m0 0h1m0 0h1m2 0h1m4 0h1m0 0h1m4 0h1m1 0h1m4 0h1m5 0h1m-81 1h1m2 0h1m16 0h1m0 0h1m0 0h1m4 0h1m9 0h1m2 0h1m1 0h1m0 0h1m2 0h1m7 0h1m3 0h1m5 0h1m-65 1h1m19 0h1m3 0h1m1 0h1m3 0h1m0 0h1m3 0h1m2 0h1m2 0h1m2 0h1m0 0h1m5 0h1m2 0h1m1 0h1m0 0h1m0 0h1m4 0h1m1 0h1m9 0h1m6 0h1m-81 1h1m2 0h1m4 0h1m0 0h1m2 0h1m4 0h1m1 0h1m1 0h1m11 0h1m1 0h1m1 0h1m4 0h1m25 0h1m1 0h1m10 0h1m-84 1h1m3 0h1m0 0h1m4 0h1m2 0h1m2 0h1m1 0h1m0 0h1m3 0h1m5 0h1m6 0h1m10 0h1m1 0h1m5 0h1m4 0h1m1 0h1m11 0h1m-68 1h1m0 0h1m6 0h1m7 0h1m0 0h1m6 0h1m0 0h1m3 0h1m7 0h1m0 0h1m1 0h1m1 0h1m2 0h1m11 0h1m0 0h1m0 0h1m20 0h1m-72 1h1m4 0h1m6 0h1m4 0h1m5 0h1m4 0h1m1 0h1m4 0h1m1 0h1m1 0h1m3 0h1m6 0h1m2 0h1m1 0h1m7 0h1m3 0h1m-77 1h1m0 0h1m6 0h1m10 0h1m5 0h1m4 0h1m2 0h1m1 0h1m0 0h1m3 0h1m3 0h1m0 0h1m0 0h1m1 0h1m22 0h1m2 0h1m3 0h1m1 0h1m-64 1h1m1 0h1m1 0h1m0 0h1m0 0h1m3 0h1m1 0h1m0 0h1m3 0h1m2 0h1m0 0h1m0 0h1m1 0h1m0 0h1m2 0h1m0 0h1m5 0h1m1 0h1m0 0h1m4 0h1m10 0h1m2 0h1m-79 1h1m17 0h1m0 0h1m11 0h1m1 0h1m0 0h1m0 0h1m3 0h1m7 0h1m5 0h1m8 0h1m10 0h1m7 0h1m-84 1h1m13 0h1m4 0h1m3 0h1m0 0h1m6 0h1m4 0h1m3 0h1m2 0h1m0 0h1m1 0h1m8 0h1m6 0h1m2 0h1m7 0h1m-75 1h1m6 0h1m13 0h1m3 0h1m0 0h1m0 0h1m3 0h1m0 0h1m0 0h1m2 0h1m1 0h1m4 0h1m1 0h1m0 0h1m1 0h1m0 0h1m1 0h1m7 0h1m12 0h1m2 0h1m1 0h1m-75 1h1m2 0h1m0 0h1m2 0h1m4 0h1m1 0h1m3 0h1m12 0h1m8 0h1m6 0h1m2 0h1m5 0h1m1 0h1m2 0h1m-49 1h1m7 0h1m13 0h1m3 0h1m1 0h1m0 0h1m4 0h1m0 0h1m1 0h1m-35 1h1m1 0h1m0 0h1m0 0h1m4 0h1m1 0h1m1 0h1m0 0h1m1 0h1m0 0h1m2 0h1m1 0h1m1 0h1m5 0h1m2 0h1m4 0h1m2 0h1m8 0h1m-72 1h1m2 0h1m0 0h1m6 0h1m0 0h1m7 0h1m5 0h1m1 0h1m9 0h1m1 0h1m1 0h1m0 0h1m8 0h1m2 0h1m4 0h1m4 0h1m1 0h1m7 0h1m0 0h1m-76 1h1m4 0h1m9 0h1m14 0h1m0 0h1m2 0h1m0 0h1m3 0h1m1 0h1m1 0h1m2 0h1m10 0h1m-42 1h1m0 0h1m2 0h1m3 0h1m9 0h1m5 0h1m0 0h1m1 0h1m1 0h1m8 0h1m10 0h1m2 0h1m0 0h1m3 0h1m-73 1h1m5 0h1m9 0h1m2 0h1m4 0h1m8 0h1m2 0h1m0 0h1m7 0h1m1 0h1m2 0h1m6 0h1m0 0h1m0 0h1m3 0h1m-49 1h1m1 0h1m9 0h1m2 0h1m1 0h1m1 0h1m2 0h1m0 0h1m0 0h1m3 0h1m1 0h1m0 0h1m1 0h1m16 0h1m-69 1h1m8 0h1m0 0h1m2 0h1m0 0h1m10 0h1m2 0h1m2 0h1m0 0h1m9 0h1m1 0h1m4 0h1m0 0h1m4 0h1m16 0h1m-64 1h1m0 0h1m0 0h1m13 0h1m7 0h1m2 0h1m2 0h1m2 0h1m12 0h1m11 0h1m1 0h1m0 0h1m-64 1h1m1 0h1m3 0h1m1 0h1m5 0h1m8 0h1m0 0h1m24 0h1m4 0h1m2 0h1m6 0h1m-73 1h1m1 0h1m1 0h1m19 0h1m0 0h1m18 0h1m1 0h1m3 0h1m1 0h1m0 0h1m1 0h1m7 0h1m-63 1h1m5 0h1m6 0h1m5 0h1m0 0h1m0 0h1m3 0h1m0 0h1m8 0h1m7 0h1m20 0h1m0 0h1m0 0h1m4 0h1m0 0h1m-69 1h1m0 0h1m1 0h1m5 0h1m4 0h1m2 0h1m7 0h1m4 0h1m1 0h1m18 0h1m0 0h1m0 0h1m4 0h1m1 0h1m3 0h1m-68 1h1m4 0h1m0 0h1m4 0h1m1 0h1m2 0h1m1 0h1m22 0h1m5 0h1m2 0h1m0 0h1m5 0h1m-43 1h1m25 0h1m5 0h1m1 0h1m0 0h1m1 0h1m2 0h1m2 0h1m0 0h1m5 0h1m1 0h1m-72 1h1m6 0h1m6 0h1m12 0h1m2 0h1m10 0h1m9 0h1m1 0h1m5 0h1m-62 1h1m4 0h1m1 0h1m3 0h1m1 0h1m2 0h1m2 0h1m1 0h1m4 0h1m21 0h1m7 0h1m1 0h1m1 0h1m1 0h1m2 0h1m-64 1h1m9 0h1m10 0h1m3 0h1m15 0h1m4 0h1m6 0h1m1 0h1m1 0h1m2 0h1m1 0h1m0 0h1m2 0h1m2 0h1m0 0h1m-74 1h1m3 0h1m20 0h1m27 0h1m13 0h1m-66 1h1m0 0h1m8 0h1m9 0h1m19 0h1m5 0h1m0 0h1m9 0h1m7 0h1m-67 1h1m0 0h1m0 0h1m2 0h1m53 0h1m5 0h1m-74 1h1m0 0h1m8 0h1m53 0h1m-67 1h1m8 0h1m4 0h1m54 0h1m1 0h1m1 0h1m2 0h1m4 0h1m-79 1h1m9 0h1m5 0h1m54 0h1m0 0h1m1 0h1m4 0h1m-85 1h1m7 0h1m7 0h1m42 0h1m17 0h1m1 0h1m4 0h1m-66 1h1m44 0h1m14 0h1m6 0h1m-13 1h1m10 0h1m-84 1h1m62 0h1m1 0h1m3 0h1m5 0h1m0 0h1m6 0h1m4 0h1m-88 1h1m0 0h1m5 0h1m65 0h1m0 0h1m1 0h1m2 0h1m2 0h1m-88 1h1m2 0h1m8 0h1m62 0h1m12 0h1m0 0h1m-94 1h1m1 0h1m3 0h1m5 0h1m0 0h1m61 0h1m5 0h1m0 0h1m1 0h1m2 0h1m1 0h1m0 0h1m1 0h1m3 0h1m-93 1h1m80 0h1m0 0h1m3 0h1m-87 1h1m2 0h1m6 0h1m69 0h1m-75 1h1m0 0h1m67 0h1m6 0h1m0 0h1m3 0h1m-96 1h1m0 0h1m2 0h1m0 0h1m7 0h1m64 0h1m12 0h1m7 0h1m-98 1h1m77 0h1m7 0h1m2 0h1m3 0h1m-95 1h1m3 0h1m74 0h1m13 0h1m6 0h1m-102 1h1m5 0h1m80 0h1m9 0h1m-99 1h1m3 0h1m8 0h1m74 0h1m1 0h1m3 0h1m-90 1h1m0 0h1m4 0h1m70 0h1m3 0h1m5 0h1m7 0h1m-100 1h1m0 0h1m4 0h1m81 0h1m0 0h1m1 0h1m-8 1h1m1 0h1m9 0h1m-95 1h1m3 0h1m79 0h1m0 0h1m8 0h1m-94 1h1m87 0h1m4 0h1m-97 1h1m5 0h1m87 0h1m-99 1h1m0 0h1m3 0h1m0 0h1m6 0h1m70 0h1m1 0h1m8 0h1m-87 1h1m74 0h1m0 0h1m2 0h1m1 0h1m5 0h1m-87 1h1m0 0h1m69 0h1m7 0h1m4 0h1m-94 1h1m2 0h1m0 0h1m8 0h1m68 0h1m3 0h1m0 0h1m-9 1h1m1 0h1m3 0h1m1 0h1m-79 1h1m72 0h1m7 0h1m-89 1h1m0 0h1m79 0h1m-86 1h1m5 0h1m2 0h1m77 0h1m0 0h1m-2 1h1m1 0h1m1 0h1m-85 1h1m76 0h1m4 0h1m-85 1h1m-5 1h1m5 0h1m6 0h1m53 0h1m6 0h1m2 0h1m8 0h1m-80 1h1m3 0h1m5 0h1m58 0h1m3 0h1m1 0h1m3 0h1m-85 1h1m3 0h1m66 0h1m0 0h1m3 0h1m2 0h1m0 0h1m-80 1h1m4 0h1m0 0h1m5 0h1m4 0h1m64 0h1m-79 1h1m0 0h1m0 0h1m5 0h1m0 0h1m3 0h1m35 0h1m1 0h1m18 0h1m-75 1h1m4 0h1m1 0h1m0 0h1m0 0h1m0 0h1m2 0h1m3 0h1m55 0h1m-72 1h1m5 0h1m1 0h1m1 0h1m0 0h1m3 0h1m3 0h1m30 0h1m4 0h1m7 0h1m2 0h1m6 0h1" stroke="#2341a8" stroke-width="1" fill="none"/>
<path d="M314 2005.5h1m0 0h1m-4 1h1m1 0h1m0 0h1m0 0h1m0 0h1m1 0h1m-10 1h1m0 0h1m8 0h1m-14 1h1m7 0h1m-11 1h1m8 0h1m6 0h1m-22 1h1m7 0h1m9 0h1m3 0h1m-26 1h1m1 0h1m0 0h1m4 0h1m4 0h1m3 0h1m1 0h1m4 0h1m-23 1h1m6 0h1m1 0h1m6 0h1m1 0h1m1 0h1m0 0h1m0 0h1m0 0h1m-28 1h1m0 0h1m0 0h1m3 0h1m4 0h1m11 0h1m3 0h1m-29 1h1m11 0h1m-14 1h1m0 0h1m8 0h1m0 0h1m2 0h1m4 0h1m4 0h1m0 0h1m3 0h1m-30 1h1m7 0h1m5 0h1m1 0h1m4 0h1m1 0h1m1 0h1m1 0h1m0 0h1m1 0h1m-30 1h1m2 0h1m2 0h1m1 0h1m4 0h1m1 0h1m12 0h1m0 0h1m0 0h1m-31 1h1m9 0h1m4 0h1m1 0h1m0 0h1m3 0h1m0 0h1m1 0h1m1 0h1m-29 1h1m1 0h1m1 0h1m0 0h1m1 0h1m11 0h1m2 0h1m4 0h1m2 0h1m0 0h1m-32 1h1m15 0h1m6 0h1m5 0h1m-33 1h1m11 0h1m0 0h1m0 0h1m1 0h1m1 0h1m2 0h1m3 0h1m1 0h1m4 0h1m1 0h1m-36 1h1m6 0h1m2 0h1m7 0h1m0 0h1m2 0h1m-18 1h1m1 0h1m6 0h1m1 0h1m5 0h1m2 0h1m2 0h1m-30 1h1m7 0h1m4 0h1m0 0h1m18 0h1m1 0h1m-33 1h1m2 0h1m3 0h1m0 0h1m3 0h1m7 0h1m0 0h1m3 0h1m4 0h1m1 0h1m0 0h1m-34 1h1m2 0h1m2 0h1m4 0h1m3 0h1m4 0h1m1 0h1m2 0h1m2 0h1m0 0h1m-34 1h1m1 0h1m2 0h1m0 0h1m3 0h1m3 0h1m0 0h1m1 0h1m1 0h1m16 0h1m-37 1h1m0 0h1m9 0h1m0 0h1m2 0h1m0 0h1m1 0h1m0 0h1m8 0h1m0 0h1m5 0h1m-34 1h1m1 0h1m0 0h1m4 0h1m0 0h1m3 0h1m16 0h1m-14 1h1m3 0h1m7 0h1m-22 1h1m1 0h1m1 0h1m6 0h1m-20 1h1m4 0h1m3 0h1m-11 1h1m6 0h1m-8 1h1m7 0h1m0 0h1m4 0h1m-15 1h1m4 0h1m1 0h1m1 0h1m3 0h1m-13 1h1m3 0h1m1 0h1m0 0h1m0 0h1m1 0h1m4 0h1m2 0h1m-20 1h1m9 0h1m0 0h1m0 0h1m3 0h1m0 0h1m-14 1h1m0 0h1m0 0h1m11 0h1m-8 1h1m4 0h1m-15 1h1m2 0h1m2 0h1m4 0h1m0 0h1m-9 1h1m6 0h1m-9 1h1m4 0h1m-5 1h1m3 0h1m-44 66h1m1 0h1m1 0h1m-9 1h1m2 0h1m0 0h1m1 0h1m0 0h1m-10 1h1m0 0h1m1 0h1m4 0h1m0 0h1m-14 1h1m1 0h1m12 0h1m0 0h1m0 0h1m1 0h1m-25 1h1m1 0h1m3 0h1m1 0h1m6 0h1m1 0h1m7 0h1m-29 1h1m10 0h1m1 0h1m3 0h1m0 0h1m-22 1h1m1 0h1m3 0h1m0 0h1m4 0h1m9 0h1m5 0h1m0 0h1m1 0h1m-24 1h1m4 0h1m11 0h1m0 0h1m3 0h1m4 0h1m-42 1h1m1 0h1m0 0h1m4 0h1m3 0h1m2 0h1m7 0h1m1 0h1m1 0h1m1 0h1m8 0h1m2 0h1m-41 1h1m8 0h1m3 0h1m4 0h1m0 0h1m4 0h1m6 0h1m0 0h1m2 0h1m0 0h1m0 0h1m2 0h1m-27 1h1m3 0h1m9 0h1m6 0h1m-22 1h1m4 0h1m1 0h1m4 0h1m0 0h1m3 0h1m11 0h1m-50 1h1m1 0h1m2 0h1m20 0h1m8 0h1m0 0h1m-40 1h1m2 0h1m7 0h1m2 0h1m0 0h1m7 0h1m14 0h1m1 0h1m1 0h1m0 0h1m2 0h1m4 0h1m1 0h1m-53 1h1m3 0h1m1 0h1m32 0h1m0 0h1m1 0h1m4 0h1m0 0h1m4 0h1m-60 1h1m10 0h1m41 0h1m2 0h1m1 0h1m1 0h1m-63 1h1m0 0h1m2 0h1m46 0h1m7 0h1m1 0h1m-57 1h1m0 0h1m0 0h1m2 0h1m42 0h1m2 0h1m5 0h1m-62 1h1m56 0h1m0 0h1m-59 1h1m0 0h1m5 0h1m0 0h1m48 0h1m2 0h1m-66 1h1m1 0h1m50 0h1m2 0h1m1 0h1m0 0h1m4 0h1m0 0h1m-67 1h1m61 0h1m2 0h1m-55 1h1m54 1h1m0 0h1m2 0h1m-67 1h1m57 0h1m4 0h1m-10 1h1m11 0h1m-76 1h1m1 0h1m3 0h1m62 0h1m-68 1h1m2 0h1m65 0h1m2 0h1m0 0h1m-73 1h1m-6 1h1m5 0h1m63 0h1m4 0h1m0 0h1m1 0h1m-79 1h1m5 0h1m58 0h1m3 0h1m6 0h1m1 0h1m-80 1h1m0 0h1m69 0h1m7 0h1m-78 1h1m1 0h1m68 0h1m-77 1h1m4 0h1m1 0h1m65 0h1m0 0h1m3 0h1m2 0h1m-79 1h1m1 0h1m1 0h1m67 0h1m1 0h1m2 0h1m-76 1h1m72 0h1m0 0h1m-81 1h1m0 0h1m2 0h1m0 0h1m67 0h1m1 0h1m0 0h1m4 0h1m-9 1h1m2 0h1m-77 1h1m7 0h1m59 0h1m-69 1h1m2 0h1m0 0h1m4 0h1m68 0h1m0 0h1m-80 1h1m0 0h1m1 0h1m3 0h1m-7 1h1m5 0h1m62 0h1m0 0h1m-72 1h1m0 0h1m0 0h1m1 0h1m4 0h1m53 0h1m4 0h1m1 0h1m5 0h1m-77 1h1m8 0h1m53 0h1m1 0h1m2 0h1m5 0h1m-73 1h1m4 0h1m64 0h1m0 0h1m0 0h1m-75 1h1m0 0h1m0 0h1m3 0h1m6 0h1m53 0h1m4 0h1m0 0h1m-74 1h1m1 0h1m5 0h1m62 0h1m-68 1h1m61 0h1m4 0h1m-71 1h1m1 0h1m55 0h1m4 0h1m2 0h1m-66 1h1m53 0h1m1 0h1m0 0h1m1 0h1m2 0h1m0 0h1m2 0h1m-64 1h1m3 0h1m40 0h1m6 0h1m4 0h1m-58 1h1m0 0h1m3 0h1m3 0h1m4 0h1m32 0h1m5 0h1m0 0h1m2 0h1m2 0h1m-59 1h1m3 0h1m3 0h1m0 0h1m2 0h1m0 0h1m0 0h1m18 0h1m8 0h1m1 0h1m2 0h1m5 0h1m0 0h1m-48 1h1m5 0h1m0 0h1m15 0h1m7 0h1m0 0h1m0 0h1m1 0h1m1 0h1m2 0h1" stroke="#2355ba" stroke-width="1" fill="none"/>
<path d="M319 2008.5h1m-16 2h1m-1 1h1m-2 1h1m3 1h1m1 0h1m1 0h1m-12 1h1m2 0h1m1 0h1m7 0h1m-15 1h1m8 0h1m-12 1h1m0 0h1m6 0h1m0 1h1m6 0h1m-8 1h1m15 0h1m-29 1h1m9 0h1m5 0h1m10 0h1m-25 1h1m2 0h1m5 0h1m3 0h1m0 0h1m1 0h1m1 0h1m3 0h1m-19 1h1m3 0h1m8 0h1m6 0h1m-20 1h1m2 0h1m3 0h1m3 0h1m3 0h1m1 0h1m0 0h1m2 0h1m-29 1h1m1 0h1m3 0h1m-9 1h1m14 0h1m3 0h1m0 0h1m3 0h1m-4 1h1m-24 2h1m8 0h1m6 0h1m2 0h1m1 0h1m-4 1h1m-11 1h1m6 0h1m-14 1h1m10 0h1m-14 1h1m2 0h1m0 0h1m10 0h1m-11 1h1m6 0h1m0 0h1m0 0h1m-10 1h1m6 0h1m-13 1h1m11 1h1m-12 1h1m-1 1h1m-45 75h1m1 0h1m6 0h1m-7 1h1m7 0h1m-15 1h1m-9 1h1m0 0h1m18 0h1m6 0h1m-22 1h1m5 0h1m5 0h1m-11 1h1m10 0h1m3 0h1m0 0h1m0 0h1m-27 1h1m0 0h1m7 0h1m0 0h1m2 0h1m1 0h1m2 0h1m0 0h1m1 0h1m10 0h1m-39 1h1m0 0h1m0 0h1m5 0h1m0 0h1m0 0h1m5 0h1m2 0h1m1 0h1m1 0h1m-29 1h1m0 0h1m1 0h1m6 0h1m9 0h1m0 0h1m2 0h1m3 0h1m0 0h1m2 0h1m0 0h1m0 0h1m2 0h1m0 0h1m4 0h1m1 0h1m-49 1h1m8 0h1m2 0h1m0 0h1m0 0h1m1 0h1m0 0h1m3 0h1m0 0h1m2 0h1m4 0h1m2 0h1m-34 1h1m1 0h1m0 0h1m2 0h1m4 0h1m2 0h1m3 0h1m3 0h1m1 0h1m2 0h1m9 0h1m1 0h1m2 0h1m0 0h1m3 0h1m-50 1h1m2 0h1m5 0h1m11 0h1m6 0h1m2 0h1m2 0h1m2 0h1m0 0h1m0 0h1m6 0h1m-45 1h1m1 0h1m3 0h1m0 0h1m18 0h1m7 0h1m0 0h1m6 0h1m0 0h1m0 0h1m-52 1h1m7 0h1m1 0h1m2 0h1m0 0h1m0 0h1m0 0h1m21 0h1m2 0h1m0 0h1m8 0h1m1 0h1m2 0h1m-50 1h1m6 0h1m26 0h1m6 0h1m1 0h1m2 0h1m-54 1h1m1 0h1m8 0h1m5 0h1m25 0h1m3 0h1m1 0h1m1 0h1m2 0h1m-60 1h1m49 0h1m0 0h1m0 0h1m4 0h1m1 0h1m-53 1h1m51 0h1m-59 1h1m2 0h1m1 0h1m45 0h1m4 0h1m3 0h1m-60 1h1m0 0h1m1 0h1m2 0h1m2 0h1m40 0h1m0 0h1m3 0h1m0 0h1m4 0h1m0 0h1m0 0h1m-67 1h1m2 0h1m0 0h1m0 0h1m0 0h1m50 0h1m3 0h1m-8 1h1m2 0h1m5 0h1m0 0h1m0 0h1m-66 1h1m3 0h1m0 0h1m58 0h1m-63 1h1m2 0h1m51 0h1m-63 1h1m60 0h1m2 0h1m0 0h1m2 0h1m2 0h1m0 0h1m-72 1h1m7 0h1m52 0h1m4 0h1m1 0h1m4 0h1m-69 1h1m0 0h1m50 0h1m11 0h1m-69 1h1m1 0h1m0 0h1m2 0h1m56 0h1m-66 1h1m0 0h1m2 0h1m2 0h1m54 0h1m1 0h1m-68 1h1m1 0h1m2 0h1m0 0h1m5 0h1m58 0h1m-70 1h1m1 0h1m0 0h1m57 0h1m0 0h1m7 0h1m2 0h1m-72 1h1m1 0h1m54 0h1m5 0h1m1 0h1m4 0h1m-69 1h1m55 0h1m2 0h1m2 0h1m-66 1h1m1 0h1m-6 1h1m0 0h1m1 0h1m63 0h1m-68 1h1m5 0h1m1 0h1m61 0h1m-70 1h1m6 0h1m60 0h1m-65 1h1m54 0h1m0 0h1m1 0h1m3 0h1m-67 1h1m1 0h1m53 0h1m0 0h1m1 0h1m1 0h1m0 0h1m5 0h1m-63 1h1m-7 1h1m3 0h1m49 0h1m6 0h1m1 0h1m-62 1h1m0 0h1m0 0h1m50 0h1m1 0h1m5 0h1m-67 1h1m1 0h1m5 0h1m0 0h1m1 0h1m40 0h1m7 0h1m4 0h1m1 0h1m-67 1h1m5 0h1m0 0h1m0 0h1m41 0h1m3 0h1m3 0h1m0 0h1m2 0h1m0 0h1m1 0h1m0 0h1m-60 1h1m0 0h1m5 0h1m0 0h1m37 0h1m0 0h1m0 0h1m1 0h1m1 0h1m-53 1h1m2 0h1m0 0h1m0 0h1m3 0h1m28 0h1m3 0h1m4 0h1m1 0h1m-57 1h1m2 0h1m5 0h1m1 0h1m1 0h1m1 0h1m16 0h1m14 0h1m1 0h1m3 0h1m4 0h1m-57 1h1m0 0h1m3 0h1m0 0h1m2 0h1m10 0h1m9 0h1m1 0h1m3 0h1m8 0h1m3 0h1m2 0h1m2 0h1m-50 1h1m3 0h1m0 0h1m5 0h1m1 0h1m0 0h1m0 0h1m3 0h1m0 0h1m0 0h1m0 0h1m0 0h1m6 0h1m1 0h1m0 0h1m0 0h1m1 0h1m7 0h1m6 0h1m-42 1h1m2 0h1m4 0h1m1 0h1m1 0h1m0 0h1m0 0h1m2 0h1m1 0h1m8 0h1m5 0h1m-27 1h1m1 0h1m0 0h1m1 0h1m0 0h1m1 0h1m2 0h1m0 0h1m0 0h1m6 0h1" stroke="#236dc4" stroke-width="1" fill="none"/>
<path d="M314 2008.5h1m-1 7h1m-19 2h1m22 0h1m-16 3h1m-2 2h1m6 1h1m8 0h1m-19 3h1m3 0h1m1 0h1m-12 2h1m-3 6h1m-43 83h1m-20 1h1m24 0h1m-7 1h1m-20 1h1m6 0h1m0 0h1m2 0h1m0 1h1m2 0h1m1 0h1m3 0h1m2 0h1m-20 1h1m3 0h1m2 0h1m1 0h1m2 0h1m0 0h1m1 0h1m-19 1h1m0 0h1m2 0h1m0 0h1m11 0h1m0 0h1m2 0h1m5 0h1m-33 1h1m2 0h1m0 0h1m0 0h1m0 0h1m1 0h1m2 0h1m3 0h1m0 0h1m0 0h1m1 0h1m4 0h1m0 0h1m4 0h1m0 0h1m1 0h1m-32 1h1m0 0h1m2 0h1m0 0h1m0 0h1m4 0h1m15 0h1m1 0h1m-36 1h1m1 0h1m7 0h1m3 0h1m9 0h1m2 0h1m5 0h1m1 0h1m2 0h1m-42 1h1m0 0h1m4 0h1m7 0h1m21 0h1m0 0h1m6 0h1m-50 1h1m0 0h1m3 0h1m2 0h1m2 0h1m29 0h1m4 0h1m1 0h1m-49 1h1m1 0h1m2 0h1m0 0h1m31 0h1m0 0h1m1 0h1m0 0h1m2 0h1m0 0h1m-52 1h1m7 0h1m0 0h1m0 0h1m1 0h1m33 0h1m1 0h1m1 0h1m2 0h1m1 0h1m-42 1h1m0 0h1m37 0h1m-51 1h1m3 0h1m0 0h1m0 0h1m1 0h1m38 0h1m1 0h1m1 0h1m-54 1h1m1 0h1m1 0h1m39 0h1m3 0h1m2 0h1m-54 1h1m7 0h1m41 0h1m1 0h1m3 0h1m1 0h1m-61 1h1m4 0h1m1 0h1m43 0h1m2 0h1m0 0h1m1 0h1m3 0h1m-63 1h1m1 0h1m0 0h1m1 0h1m0 0h1m0 0h1m45 0h1m0 0h1m0 0h1m1 0h1m4 0h1m-63 1h1m0 0h1m0 0h1m0 0h1m1 0h1m49 0h1m2 0h1m0 0h1m1 0h1m-67 1h1m7 0h1m48 0h1m2 0h1m0 0h1m0 0h1m1 0h1m1 0h1m-7 1h1m0 0h1m2 0h1m-57 1h1m0 0h1m3 0h1m45 0h1m1 0h1m1 0h1m1 0h1m-60 1h1m3 0h1m45 0h1m3 0h1m0 0h1m1 0h1m0 0h1m1 0h1m-64 1h1m1 0h1m0 0h1m0 0h1m0 0h1m48 0h1m1 0h1m2 0h1m1 0h1m-61 1h1m1 0h1m0 0h1m1 0h1m50 0h1m1 0h1m-55 1h1m49 0h1m1 0h1m6 0h1m-58 1h1m43 0h1m1 0h1m1 0h1m1 0h1m0 0h1m1 0h1m-65 1h1m4 0h1m0 0h1m53 0h1m0 0h1m1 0h1m-61 1h1m3 0h1m1 0h1m-12 1h1m2 0h1m2 0h1m0 0h1m48 0h1m0 0h1m0 0h1m0 0h1m0 0h1m1 0h1m0 0h1m0 0h1m1 0h1m-63 1h1m2 0h1m48 0h1m1 0h1m10 0h1m-66 1h1m1 0h1m3 0h1m44 0h1m8 0h1m-59 1h1m4 0h1m41 0h1m12 0h1m-56 1h1m1 0h1m1 0h1m37 0h1m0 0h1m4 0h1m1 0h1m-62 1h1m5 0h1m1 0h1m43 0h1m0 0h1m1 0h1m1 0h1m-54 1h1m5 0h1m2 0h1m0 0h1m31 0h1m1 0h1m6 0h1m0 0h1m0 0h1m1 0h1m-56 1h1m3 0h1m0 0h1m0 0h1m1 0h1m1 0h1m39 0h1m0 0h1m-47 1h1m0 0h1m0 0h1m0 0h1m2 0h1m5 0h1m23 0h1m3 0h1m1 0h1m-40 1h1m1 0h1m3 0h1m0 0h1m0 0h1m16 0h1m4 0h1m0 0h1m1 0h1m1 0h1m-41 1h1m1 0h1m3 0h1m2 0h1m3 0h1m1 0h1m0 0h1m0 0h1m1 0h1m1 0h1m0 0h1m0 0h1m1 0h1m5 0h1m3 0h1m1 0h1m2 0h1m1 0h1m-36 1h1m1 0h1m1 0h1m7 0h1m0 0h1m1 0h1m5 0h1m2 0h1m1 0h1m8 0h1m1 0h1m-39 1h1m2 0h1m0 0h1m1 0h1m12 0h1m0 0h1m1 0h1m2 0h1m-17 1h1m0 0h1m0 0h1m7 0h1m5 0h1m2 0h1m-23 1h1m6 0h1m12 0h1" stroke="#2591b6" stroke-width="1" fill="none"/>
<path d="M240 2121.5h1m0 0h1m-3 1h1m-6 1h1m3 0h1m3 0h1m0 0h1m3 0h1m-16 1h1m4 0h1m2 0h1m9 0h1m1 0h1m-11 1h1m1 0h1m0 0h1m0 0h1m0 0h1m2 0h1m0 0h1m0 0h1m9 0h1m-32 1h1m0 0h1m6 0h1m2 0h1m1 0h1m3 0h1m0 0h1m2 0h1m1 0h1m7 0h1m-38 1h1m2 0h1m1 0h1m12 0h1m6 0h1m1 0h1m1 0h1m0 0h1m1 0h1m3 0h1m-42 1h1m4 0h1m4 0h1m1 0h1m5 0h1m6 0h1m1 0h1m6 0h1m2 0h1m5 0h1m-37 1h1m2 0h1m0 0h1m0 0h1m11 0h1m8 0h1m-34 1h1m5 0h1m0 0h1m0 0h1m0 0h1m0 0h1m4 0h1m11 0h1m7 0h1m1 0h1m0 0h1m1 0h1m-44 1h1m2 0h1m1 0h1m0 0h1m1 0h1m4 0h1m19 0h1m2 0h1m0 0h1m2 0h1m0 0h1m-41 1h1m4 0h1m1 0h1m3 0h1m5 0h1m20 0h1m3 0h1m0 0h1m0 0h1m1 0h1m-46 1h1m1 0h1m1 0h1m0 0h1m0 0h1m29 0h1m-39 1h1m0 0h1m2 0h1m0 0h1m31 0h1m5 0h1m0 0h1m7 0h1m-57 1h1m6 0h1m0 0h1m3 0h1m29 0h1m0 0h1m2 0h1m0 0h1m-44 1h1m0 0h1m35 0h1m4 0h1m-45 1h1m42 0h1m2 0h1m-53 1h1m3 0h1m0 0h1m4 0h1m0 0h1m0 0h1m36 0h1m0 0h1m0 0h1m2 0h1m3 0h1m-58 1h1m0 0h1m1 0h1m1 0h1m0 0h1m40 0h1m4 0h1m-53 1h1m3 0h1m4 0h1m40 0h1m0 0h1m2 0h1m-43 1h1m35 0h1m2 0h1m0 0h1m-50 1h1m41 0h1m1 0h1m-46 1h1m3 0h1m0 0h1m0 0h1m8 0h1m26 0h1m3 0h1m0 0h1m0 0h1m0 0h1m1 0h1m-54 1h1m3 0h1m44 0h1m0 0h1m0 0h1m3 0h1m-61 1h1m4 0h1m8 0h1m39 0h1m1 0h1m-55 1h1m2 0h1m1 0h1m5 0h1m0 0h1m38 0h1m0 0h1m1 0h1m0 0h1m-52 1h1m1 0h1m2 0h1m1 0h1m36 0h1m3 0h1m1 0h1m3 0h1m-60 1h1m3 0h1m0 0h1m0 0h1m1 0h1m41 0h1m5 0h1m-56 1h1m1 0h1m0 0h1m0 0h1m0 0h1m1 0h1m0 0h1m4 0h1m32 0h1m0 0h1m0 0h1m7 0h1m-56 1h1m0 0h1m0 0h1m2 0h1m0 0h1m2 0h1m2 0h1m29 0h1m0 0h1m5 0h1m4 0h1m-50 1h1m0 0h1m2 0h1m0 0h1m1 0h1m31 0h1m0 0h1m1 0h1m0 0h1m3 0h1m0 0h1m-53 1h1m3 0h1m1 0h1m2 0h1m9 0h1m19 0h1m2 0h1m5 0h1m-40 1h1m28 0h1m4 0h1m-41 1h1m0 0h1m2 0h1m1 0h1m0 0h1m1 0h1m22 0h1m7 0h1m1 0h1m-43 1h1m1 0h1m1 0h1m1 0h1m0 0h1m0 0h1m11 0h1m0 0h1m9 0h1m1 0h1m3 0h1m-41 1h1m13 0h1m2 0h1m1 0h1m7 0h1m0 0h1m2 0h1m0 0h1m0 0h1m1 0h1m2 0h1m0 0h1m9 0h1m-45 1h1m3 0h1m3 0h1m0 0h1m3 0h1m2 0h1m1 0h1m4 0h1m9 0h1m-29 1h1m2 0h1m3 0h1m7 0h1m0 0h1m4 0h1m0 0h1m0 0h1m1 0h1m-25 1h1m0 0h1m1 0h1m0 0h1m1 0h1m4 0h1m5 0h1m2 0h1m4 0h1m2 0h1m-25 1h1m7 0h1m2 0h1m-14 1h1" stroke="#29b4a6" stroke-width="1" fill="none"/>
<path d="M249 2123.5h1m-11 1h1m2 0h1m0 0h1m-5 1h1m0 0h1m7 0h1m5 0h1m-22 1h1m1 0h1m1 0h1m3 0h1m1 0h1m1 0h1m0 0h1m0 0h1m3 0h1m-21 1h1m1 0h1m2 0h1m2 0h1m0 0h1m0 0h1m0 0h1m1 0h1m1 0h1m0 0h1m0 0h1m0 0h1m3 0h1m-27 1h1m6 0h1m1 0h1m3 0h1m1 0h1m0 0h1m4 0h1m0 0h1m1 0h1m0 0h1m0 0h1m-33 1h1m6 0h1m0 0h1m5 0h1m0 0h1m1 0h1m3 0h1m2 0h1m3 0h1m0 0h1m1 0h1m2 0h1m-32 1h1m6 0h1m1 0h1m0 0h1m1 0h1m0 0h1m10 0h1m0 0h1m1 0h1m0 0h1m0 0h1m0 0h1m1 0h1m-33 1h1m7 0h1m2 0h1m0 0h1m0 0h1m13 0h1m4 0h1m-31 1h1m3 0h1m0 0h1m10 0h1m0 0h1m6 0h1m0 0h1m0 0h1m0 0h1m3 0h1m0 0h1m0 0h1m-32 1h1m5 0h1m0 0h1m1 0h1m0 0h1m10 0h1m1 0h1m4 0h1m3 0h1m-42 1h1m4 0h1m2 0h1m28 0h1m1 0h1m-41 1h1m4 0h1m2 0h1m1 0h1m1 0h1m23 0h1m2 0h1m0 0h1m3 0h1m-44 1h1m0 0h1m0 0h1m0 0h1m1 0h1m3 0h1m27 0h1m0 0h1m0 0h1m1 0h1m-45 1h1m7 0h1m0 0h1m22 0h1m8 0h1m2 0h1m2 0h1m-48 1h1m1 0h1m7 0h1m4 0h1m24 0h1m0 0h1m-41 1h1m2 0h1m1 0h1m0 0h1m32 0h1m2 0h1m1 0h1m-44 1h1m3 0h1m2 0h1m26 0h1m2 0h1m1 0h1m0 0h1m0 0h1m2 0h1m-52 1h1m0 0h1m2 0h1m0 0h1m0 0h1m0 0h1m0 0h1m4 0h1m30 0h1m1 0h1m1 0h1m6 0h1m-53 1h1m0 0h1m0 0h1m0 0h1m2 0h1m31 0h1m3 0h1m2 0h1m0 0h1m-47 1h1m5 0h1m28 0h1m6 0h1m-44 1h1m1 0h1m1 0h1m1 0h1m3 0h1m7 0h1m20 0h1m1 0h1m0 0h1m-43 1h1m1 0h1m0 0h1m1 0h1m2 0h1m0 0h1m29 0h1m1 0h1m0 0h1m0 0h1m0 0h1m-45 1h1m1 0h1m0 0h1m36 0h1m0 0h1m0 0h1m0 0h1m0 0h1m-44 1h1m0 0h1m1 0h1m1 0h1m1 0h1m0 0h1m26 0h1m3 0h1m0 0h1m1 0h1m0 0h1m0 0h1m-46 1h1m1 0h1m0 0h1m1 0h1m31 0h1m3 0h1m-42 1h1m2 0h1m0 0h1m0 0h1m5 0h1m22 0h1m1 0h1m2 0h1m3 0h1m1 0h1m-47 1h1m6 0h1m1 0h1m2 0h1m0 0h1m0 0h1m3 0h1m1 0h1m6 0h1m5 0h1m0 0h1m2 0h1m3 0h1m0 0h1m0 0h1m-41 1h1m3 0h1m1 0h1m0 0h1m3 0h1m0 0h1m0 0h1m0 0h1m15 0h1m4 0h1m-40 1h1m7 0h1m0 0h1m1 0h1m2 0h1m1 0h1m1 0h1m4 0h1m0 0h1m0 0h1m1 0h1m4 0h1m0 0h1m2 0h1m1 0h1m0 0h1m-36 1h1m4 0h1m2 0h1m0 0h1m0 0h1m1 0h1m1 0h1m0 0h1m3 0h1m4 0h1m3 0h1m0 0h1m3 0h1m0 0h1m0 0h1m0 0h1m-35 1h1m2 0h1m1 0h1m1 0h1m0 0h1m0 0h1m0 0h1m5 0h1m1 0h1m1 0h1m3 0h1m0 0h1m2 0h1m0 0h1m1 0h1m-32 1h1m4 0h1m3 0h1m0 0h1m3 0h1m5 0h1m0 0h1m0 0h1m0 0h1m0 0h1m2 0h1m1 0h1m0 0h1m0 0h1m-32 1h1m0 0h1m0 0h1m0 0h1m4 0h1m3 0h1m0 0h1m1 0h1m1 0h1m0 0h1m2 0h1m0 0h1m5 0h1m-21 1h1m2 0h1m0 0h1m3 0h1m0 0h1m0 0h1m0 0h1m2 0h1m0 0h1m0 0h1m0 0h1m-15 1h1m7 0h1m1 0h1m-6 1h1" stroke="#47c064" stroke-width="1" fill="none"/>
<path d="M241 2125.5h1m-4 1h1m-1 1h1m-8 1h1m3 0h1m1 0h1m6 0h1m1 0h1m-14 1h1m5 0h1m0 0h1m0 0h1m1 0h1m2 0h1m0 0h1m0 0h1m2 0h1m2 0h1m-17 1h1m2 0h1m0 0h1m0 0h1m1 0h1m4 0h1m-22 1h1m1 0h1m1 0h1m5 0h1m0 0h1m0 0h1m0 0h1m2 0h1m2 0h1m3 0h1m2 0h1m-24 1h1m3 0h1m1 0h1m8 0h1m1 0h1m4 0h1m0 0h1m-30 1h1m0 0h1m1 0h1m1 0h1m0 0h1m0 0h1m2 0h1m2 0h1m1 0h1m4 0h1m1 0h1m1 0h1m2 0h1m0 0h1m-32 1h1m4 0h1m2 0h1m4 0h1m11 0h1m1 0h1m0 0h1m0 0h1m2 0h1m3 0h1m-38 1h1m6 0h1m14 0h1m8 0h1m-31 1h1m1 0h1m0 0h1m19 0h1m2 0h1m0 0h1m0 0h1m0 0h1m2 0h1m5 0h1m-45 1h1m0 0h1m0 0h1m2 0h1m3 0h1m0 0h1m1 0h1m0 0h1m2 0h1m6 0h1m8 0h1m1 0h1m1 0h1m1 0h1m0 0h1m-40 1h1m4 0h1m0 0h1m0 0h1m4 0h1m17 0h1m1 0h1m2 0h1m0 0h1m0 0h1m-30 1h1m22 0h1m2 0h1m0 0h1m1 0h1m0 0h1m2 0h1m-39 1h1m0 0h1m5 0h1m3 0h1m15 0h1m0 0h1m0 0h1m1 0h1m1 0h1m2 0h1m-34 1h1m4 0h1m15 0h1m9 0h1m1 0h1m-39 1h1m2 0h1m0 0h1m0 0h1m0 0h1m26 0h1m1 0h1m4 0h1m-44 1h1m3 0h1m1 0h1m1 0h1m1 0h1m0 0h1m1 0h1m22 0h1m0 0h1m2 0h1m1 0h1m-42 1h1m1 0h1m1 0h1m0 0h1m0 0h1m1 0h1m3 0h1m0 0h1m13 0h1m4 0h1m1 0h1m0 0h1m6 0h1m-34 1h1m4 0h1m8 0h1m2 0h1m7 0h1m2 0h1m-34 1h1m0 0h1m1 0h1m0 0h1m18 0h1m4 0h1m1 0h1m0 0h1m0 0h1m-28 1h1m1 0h1m14 0h1m1 0h1m5 0h1m0 0h1m0 0h1m-36 1h1m1 0h1m0 0h1m1 0h1m1 0h1m0 0h1m0 0h1m0 0h1m1 0h1m0 0h1m4 0h1m5 0h1m1 0h1m0 0h1m0 0h1m1 0h1m3 0h1m0 0h1m2 0h1m-33 1h1m10 0h1m1 0h1m6 0h1m0 0h1m5 0h1m0 0h1m-37 1h1m0 0h1m6 0h1m3 0h1m0 0h1m2 0h1m10 0h1m5 0h1m-26 1h1m0 0h1m0 0h1m5 0h1m1 0h1m1 0h1m1 0h1m0 0h1m3 0h1m0 0h1m0 0h1m1 0h1m1 0h1m0 0h1m-33 1h1m3 0h1m1 0h1m0 0h1m1 0h1m5 0h1m4 0h1m1 0h1m0 0h1m4 0h1m0 0h1m-30 1h1m1 0h1m1 0h1m0 0h1m5 0h1m2 0h1m0 0h1m0 0h1m2 0h1m3 0h1m0 0h1m0 0h1m2 0h1m-23 1h1m4 0h1m1 0h1m0 0h1m0 0h1m5 0h1m0 0h1m0 0h1m-20 1h1m1 0h1m1 0h1m2 0h1m0 0h1m0 0h1m3 0h1m0 0h1m0 0h1m-16 1h1m2 0h1m6 0h1m1 0h1" stroke="#79cc37" stroke-width="1" fill="none"/>
<path d="M239 2128.5h1m1 0h1m-5 1h1m1 1h1m0 0h1m3 0h1m-11 1h1m3 0h1m4 0h1m0 0h1m1 0h1m0 0h1m-21 1h1m5 0h1m3 0h1m6 0h1m0 0h1m0 0h1m1 0h1m-9 1h1m1 0h1m0 0h1m1 0h1m6 0h1m-23 1h1m1 0h1m0 0h1m1 0h1m2 0h1m1 0h1m0 0h1m0 0h1m0 0h1m0 0h1m2 0h1m1 0h1m3 0h1m-30 1h1m2 0h1m3 0h1m1 0h1m0 0h1m0 0h1m0 0h1m3 0h1m4 0h1m0 0h1m0 0h1m0 0h1m0 0h1m0 0h1m0 0h1m-23 1h1m0 0h1m0 0h1m0 0h1m1 0h1m5 0h1m1 0h1m1 0h1m0 0h1m1 0h1m5 0h1m-31 1h1m7 0h1m4 0h1m0 0h1m0 0h1m3 0h1m2 0h1m0 0h1m0 0h1m2 0h1m3 0h1m-30 1h1m1 0h1m4 0h1m0 0h1m0 0h1m4 0h1m4 0h1m0 0h1m0 0h1m1 0h1m1 0h1m0 0h1m-34 1h1m5 0h1m1 0h1m1 0h1m0 0h1m0 0h1m3 0h1m2 0h1m0 0h1m3 0h1m1 0h1m2 0h1m2 0h1m2 0h1m-31 1h1m0 0h1m3 0h1m0 0h1m0 0h1m2 0h1m5 0h1m4 0h1m5 0h1m-31 1h1m0 0h1m3 0h1m0 0h1m2 0h1m1 0h1m0 0h1m1 0h1m4 0h1m1 0h1m3 0h1m1 0h1m4 0h1m0 0h1m-35 1h1m5 0h1m0 0h1m0 0h1m0 0h1m0 0h1m13 0h1m2 0h1m3 0h1m3 0h1m-33 1h1m6 0h1m9 0h1m10 0h1m2 0h1m-29 1h1m0 0h1m3 0h1m1 0h1m6 0h1m2 0h1m3 0h1m2 0h1m-30 1h1m3 0h1m1 0h1m0 0h1m0 0h1m0 0h1m1 0h1m0 0h1m1 0h1m8 0h1m0 0h1m0 0h1m0 0h1m0 0h1m0 0h1m2 0h1m-30 1h1m2 0h1m0 0h1m0 0h1m0 0h1m0 0h1m0 0h1m1 0h1m0 0h1m1 0h1m2 0h1m0 0h1m1 0h1m7 0h1m-30 1h1m5 0h1m1 0h1m0 0h1m0 0h1m2 0h1m1 0h1m0 0h1m1 0h1m0 0h1m3 0h1m2 0h1m0 0h1m0 0h1m-26 1h1m7 0h1m0 0h1m1 0h1m1 0h1m1 0h1m0 0h1m6 0h1m1 0h1m0 0h1m-29 1h1m3 0h1m0 0h1m0 0h1m1 0h1m0 0h1m0 0h1m3 0h1m2 0h1m7 0h1m1 0h1m-16 1h1m1 0h1m1 0h1m0 0h1m1 0h1m0 0h1m2 0h1m2 0h1m-18 1h1m1 0h1m3 0h1m2 0h1m0 0h1m-11 1h1m2 0h1m7 0h1m-7 1h1m1 0h1m-4 1h1m8 0h1" stroke="#c8d82b" stroke-width="1" fill="none"/>
<path d="M239 2132.5h1m0 0h1m0 0h1m2 1h1m2 0h1m-14 1h1m2 0h1m1 0h1m6 0h1m-15 1h1m4 0h1m0 0h1m0 0h1m1 0h1m0 0h1m-8 1h1m3 0h1m1 0h1m1 0h1m4 0h1m-21 1h1m3 0h1m2 0h1m5 0h1m1 0h1m8 0h1m-25 1h1m1 0h1m4 0h1m2 0h1m1 0h1m2 0h1m-23 1h1m5 0h1m3 0h1m1 0h1m5 0h1m1 0h1m1 0h1m5 0h1m-24 1h1m5 0h1m3 0h1m0 0h1m0 0h1m2 0h1m0 0h1m0 0h1m-17 1h1m2 0h1m2 0h1m1 0h1m4 0h1m1 0h1m0 0h1m2 0h1m1 0h1m0 0h1m0 0h1m0 0h1m-22 1h1m0 0h1m1 0h1m0 0h1m0 0h1m0 0h1m0 0h1m0 0h1m0 0h1m1 0h1m2 0h1m2 0h1m0 0h1m0 0h1m-26 1h1m7 0h1m0 0h1m1 0h1m0 0h1m0 0h1m0 0h1m2 0h1m2 0h1m0 0h1m0 0h1m0 0h1m0 0h1m-14 1h1m1 0h1m0 0h1m1 0h1m0 0h1m2 0h1m0 0h1m1 0h1m-15 1h1m1 0h1m1 0h1m0 0h1m1 0h1m8 0h1m-19 1h1m2 0h1m1 0h1m0 0h1m2 0h1m1 0h1m1 0h1m0 0h1m0 0h1m-23 1h1m6 0h1m0 0h1m1 0h1m5 0h1m0 0h1m3 0h1m-9 1h1m2 0h1m1 0h1m-11 1h1m4 0h1m1 0h1m0 0h1m0 0h1m0 0h1m2 0h1m-24 1h1m6 0h1m4 0h1m1 0h1m6 0h1m-10 1h1m-6 3h1" stroke="#e6b222" stroke-width="1" fill="none"/>
<path d="M245 2134.5h1m-13 2h1m2 0h1m0 0h1m1 1h1m4 0h1m-9 1h1m0 0h1m3 0h1m0 0h1m-11 1h1m2 0h1m0 0h1m3 0h1m4 0h1m0 0h1m-13 1h1m0 0h1m4 0h1m4 0h1m0 0h1m-11 1h1m0 0h1m0 0h1m-7 1h1m7 0h1m1 0h1m2 0h1m-16 1h1m0 0h1m2 0h1m7 0h1m0 0h1m-10 1h1m1 1h1m4 0h1m-5 2h1" stroke="#eb731e" stroke-width="1" fill="none"/>
<path d="M238 2136.5h1m1 7h1" stroke="#dc281e" stroke-width="1" fill="none"/>
<rect x="163.7" y="1931.5" width="227.1" height="231.7" fill="none" stroke="#111" stroke-width="1.3"/>
<line x1="281.8" y1="1931.5" x2="281.8" y2="2163.2" stroke="#111" stroke-width="1.1"/>
<line x1="163.7" y1="2099.5" x2="390.8" y2="2099.5" stroke="#111" stroke-width="1.1"/>
<path d="M157.7 2163.2H163.7M163.7 2163.2V2169.2M160.7 2145.8H163.7M180.8 2163.2V2166.2M160.7 2135.6H163.7M190.8 2163.2V2166.2M160.7 2128.3H163.7M197.8 2163.2V2166.2M160.7 2122.7H163.7M203.3 2163.2V2166.2M160.7 2118.1H163.7M207.8 2163.2V2166.2M160.7 2114.3H163.7M211.6 2163.2V2166.2M160.7 2110.9H163.7M214.9 2163.2V2166.2M160.7 2107.9H163.7M217.8 2163.2V2166.2M157.7 2105.3H163.7M220.4 2163.2V2169.2M160.7 2087.9H163.7M237.5 2163.2V2166.2M160.7 2077.7H163.7M247.5 2163.2V2166.2M160.7 2070.4H163.7M254.5 2163.2V2166.2M160.7 2064.8H163.7M260 2163.2V2166.2M160.7 2060.2H163.7M264.5 2163.2V2166.2M160.7 2056.4H163.7M268.3 2163.2V2166.2M160.7 2053H163.7M271.6 2163.2V2166.2M160.7 2050H163.7M274.5 2163.2V2166.2M157.7 2047.4H163.7M277.1 2163.2V2169.2M160.7 2030H163.7M294.2 2163.2V2166.2M160.7 2019.8H163.7M304.2 2163.2V2166.2M160.7 2012.5H163.7M311.2 2163.2V2166.2M160.7 2006.9H163.7M316.7 2163.2V2166.2M160.7 2002.3H163.7M321.2 2163.2V2166.2M160.7 1998.5H163.7M325 2163.2V2166.2M160.7 1995.1H163.7M328.3 2163.2V2166.2M160.7 1992.1H163.7M331.2 2163.2V2166.2M157.7 1989.5H163.7M333.8 2163.2V2169.2M160.7 1972.1H163.7M350.9 2163.2V2166.2M160.7 1961.9H163.7M360.9 2163.2V2166.2M160.7 1954.6H163.7M367.9 2163.2V2166.2M160.7 1949H163.7M373.4 2163.2V2166.2M160.7 1944.4H163.7M377.9 2163.2V2166.2M160.7 1940.6H163.7M381.7 2163.2V2166.2M160.7 1937.2H163.7M385 2163.2V2166.2M160.7 1934.2H163.7M387.9 2163.2V2166.2M157.7 1931.6H163.7M390.5 2163.2V2169.2" stroke="#111" stroke-width="1"/>
<text x="135.2" y="2163.5" font-size="12" textLength="11" lengthAdjust="spacingAndGlyphs" fill="#222">10</text>
<text x="147.4" y="2155" font-size="9" fill="#222">0</text>
<text x="167" y="2187" font-size="12" textLength="12.5" lengthAdjust="spacingAndGlyphs" fill="#222">10</text>
<text x="180.3" y="2178.7" font-size="9" fill="#222">0</text>
<text x="135.2" y="2105.6" font-size="12" textLength="11" lengthAdjust="spacingAndGlyphs" fill="#222">10</text>
<text x="147.4" y="2097.1" font-size="9" fill="#222">1</text>
<text x="214.4" y="2187" font-size="12" textLength="12.5" lengthAdjust="spacingAndGlyphs" fill="#222">10</text>
<text x="227.7" y="2178.7" font-size="9" fill="#222">1</text>
<text x="135.2" y="2047.7" font-size="12" textLength="11" lengthAdjust="spacingAndGlyphs" fill="#222">10</text>
<text x="147.4" y="2039.2" font-size="9" fill="#222">2</text>
<text x="271.1" y="2187" font-size="12" textLength="12.5" lengthAdjust="spacingAndGlyphs" fill="#222">10</text>
<text x="284.4" y="2178.7" font-size="9" fill="#222">2</text>
<text x="135.2" y="1989.8" font-size="12" textLength="11" lengthAdjust="spacingAndGlyphs" fill="#222">10</text>
<text x="147.4" y="1981.3" font-size="9" fill="#222">3</text>
<text x="327.8" y="2187" font-size="12" textLength="12.5" lengthAdjust="spacingAndGlyphs" fill="#222">10</text>
<text x="341.1" y="2178.7" font-size="9" fill="#222">3</text>
<text x="135.2" y="1952" font-size="12" textLength="11" lengthAdjust="spacingAndGlyphs" fill="#222">10</text>
<text x="147.4" y="1943.5" font-size="9" fill="#222">4</text>
<text x="384.5" y="2187" font-size="12" textLength="12.5" lengthAdjust="spacingAndGlyphs" fill="#222">10</text>
<text x="397.8" y="2178.7" font-size="9" fill="#222">4</text>
<text x="168.5" y="1944.7" font-size="11" fill="#222">Q1</text>
<text x="168.5" y="1961.3" font-size="11" fill="#222">2.52%</text>
<text x="355.3" y="1944.7" font-size="11" fill="#222">Q2</text>
<text x="355.3" y="1961.3" font-size="11" fill="#222">7.05%</text>
<text x="168.5" y="2143.7" font-size="11" fill="#222">Q4</text>
<text x="168.5" y="2160.2" font-size="11" fill="#222">87.1%</text>
<text x="355.3" y="2143.7" font-size="11" fill="#222">Q3</text>
<text x="355.3" y="2160.2" font-size="11" fill="#222">3.37%</text>
<path d="M611 1953.5h1m-34 4h1m51 0h1m-25 5h1m5 2h1m-64 1h1m66 2h1m-37 1h1m-39 2h1m41 0h1m-2 2h1m1 0h1m22 0h1m-10 1h1m3 0h1m-32 1h1m54 0h1m-63 1h1m-29 1h1m14 0h1m11 0h1m24 0h1m16 1h1m20 0h1m30 0h1m-103 1h1m26 0h1m7 0h1m33 0h1m-57 1h1m15 0h1m7 2h1m35 0h1m-37 1h1m18 0h1m-48 1h1m7 0h1m35 0h1m-53 1h1m14 0h1m32 1h1m19 1h1m-66 1h1m82 4h1m-30 1h1m18 0h1m-83 1h1m33 1h1m46 0h1m6 1h1m-94 3h1m5 0h1m63 0h1m1 2h1m8 0h1m-102 1h1m2 1h1m16 0h1m20 0h1m96 0h1m-118 1h1m-3 2h1m106 0h1m-91 1h1m106 0h1m-52 1h1m-126 1h1m147 0h1m1 1h1m-120 1h1m12 0h1m106 0h1m-110 1h1m7 0h1m85 0h1m-109 1h1m10 0h1m4 0h1m87 0h1m-103 1h1m9 0h1m12 0h1m92 0h1m17 1h1m-16 1h1m15 0h1m-20 1h1m-11 1h1m7 0h1m-136 2h1m58 0h1m69 0h1m17 0h1m6 0h1m-12 1h1m-103 1h1m17 0h1m86 0h1m-115 1h1m109 0h1m-104 3h1m91 0h1m26 0h1m-126 1h1m97 0h1m-1 2h1m8 0h1m17 0h1m-42 1h1m29 0h1m31 0h1m-145 1h1m96 0h1m-96 1h1m84 0h1m12 0h1m7 0h1m11 0h1m-181 1h1m152 0h1m2 0h1m-11 1h1m25 0h1m8 0h1m-129 1h1m29 0h1m-31 1h1m-13 1h1m119 0h1m15 0h1m-15 1h1m1 1h1m-112 1h1m121 0h1m-119 1h1m111 0h1m32 0h1m-155 1h1m107 0h1m-116 1h1m0 0h1m-12 1h1m85 0h1m51 1h1m-118 1h1m-11 1h1m6 0h1m-1 1h1m110 1h1m18 0h1m-139 2h1m11 1h1m111 0h1m-130 1h1m15 0h1m23 0h1m-30 1h1m114 0h1m1 0h1m11 1h1m-127 1h1m99 0h1m-102 1h1m110 0h1m-56 1h1m-61 1h1m98 0h1m4 0h1m4 0h1m1 1h1m-120 1h1m12 0h1m20 0h1m75 0h1m3 0h1m2 0h1m-7 1h1m18 0h1m-6 1h1m5 0h1m-124 1h1m27 0h1m68 0h1m17 0h1m20 0h1m-106 1h1m79 0h1m14 0h1m-134 1h1m9 0h1m118 0h1m5 0h1m-72 1h1m45 0h1m7 1h1m-118 1h1m8 0h1m120 0h1m9 0h1m16 0h1m-164 1h1m108 0h1m23 1h1m13 0h1m-28 1h1m24 0h1m7 0h1m-36 1h1m9 0h1m-16 1h1m12 0h1m5 0h1m-7 1h1m3 0h1m-127 1h1m111 0h1m2 1h1m11 0h1m-23 1h1m12 0h1m16 0h1m19 0h1m-50 1h1m15 1h1m2 0h1m12 0h1m-139 1h1m7 0h1m107 0h1m5 0h1m1 0h1m9 0h1m27 0h1m-163 1h1m113 0h1m27 0h1m12 1h1m-19 1h1m-31 1h1m21 0h1m-10 1h1m-125 1h1m112 0h1m0 0h1m6 0h1m1 0h1m32 0h1m-54 1h1m9 1h1m32 0h1m-138 1h1m0 0h1m57 0h1m27 0h1m12 0h1m1 0h1m11 0h1m3 0h1m-7 1h1m-23 1h1m5 0h1m5 0h1m24 0h1m15 0h1m-154 2h1m2 0h1m94 0h1m-92 2h1m84 0h1m0 0h1m6 0h1m0 0h1m9 0h1m-113 1h1m66 0h1m56 0h1m32 0h1m-59 1h1m1 0h1m20 0h1m-130 1h1m10 0h1m114 0h1m4 0h1m-33 1h1m37 0h1m-96 1h1m-39 1h1m1 0h1m120 0h1m6 0h1m-126 1h1m95 0h1m4 0h1m55 0h1m-50 1h1m-20 1h1m12 0h1m-39 2h1m30 0h1m15 0h1m19 0h1m-42 1h1m7 0h1m0 0h1m34 0h1m-123 1h1m-23 1h1m21 0h1m87 1h1m8 0h1m52 0h1m-79 1h1m9 0h1m8 0h1m19 1h1m-136 1h1m1 1h1m99 0h1m12 0h1m15 0h1m-132 1h1m99 0h1m22 0h1m-14 1h1m-6 1h1m-111 1h1m3 1h1m181 0h1m-77 1h1m9 0h1m39 0h1m13 0h1m-52 1h1m4 0h1m-130 1h1m121 0h1m2 0h1m-18 1h1m4 0h1m-8 1h1m-114 2h1m191 0h1m-82 2h1m-118 2h1m11 0h1m-2 1h1m0 0h1m100 0h1m8 0h1m22 0h1m-20 1h1m-16 3h1m17 0h1m-124 1h1m-7 2h1m21 0h1m132 0h1m-44 1h1m65 0h1m-174 1h1m16 2h1m83 3h1m-99 3h1m94 0h1m-2 3h1m-94 3h1m15 0h1m73 0h1m-6 2h1m5 1h1m-4 1h1m-4 1h1m-85 1h1m19 0h1" stroke="#232d96" stroke-width="1" fill="none"/>
<path d="M581 1980.5h1m-2 1h1m1 0h1m-4 1h1m0 0h1m4 0h1m-3 1h1m-7 2h1m10 0h1m-14 1h1m10 1h1m3 0h1m2 0h1m1 0h1m0 0h1m2 0h1m-26 1h1m6 0h1m2 0h1m6 0h1m4 0h1m3 0h1m-26 1h1m10 0h1m0 0h1m1 0h1m12 0h1m-24 1h1m6 0h1m3 0h1m4 0h1m-31 1h1m3 0h1m4 0h1m0 0h1m0 0h1m14 0h1m7 0h1m2 0h1m3 0h1m-33 1h1m2 0h1m17 0h1m1 0h1m4 0h1m-18 1h1m16 0h1m7 0h1m-50 1h1m4 0h1m0 0h1m0 0h1m0 0h1m5 0h1m16 0h1m1 0h1m5 0h1m1 0h1m8 0h1m-44 1h1m4 0h1m23 0h1m11 0h1m-39 1h1m9 0h1m9 0h1m6 0h1m2 0h1m7 0h1m1 0h1m0 0h1m0 0h1m-58 1h1m2 0h1m8 0h1m0 0h1m8 0h1m18 0h1m1 0h1m5 0h1m-46 1h1m0 0h1m5 0h1m39 0h1m3 0h1m1 0h1m-61 1h1m1 0h1m4 0h1m44 0h1m0 0h1m-47 1h1m50 0h1m-60 1h1m2 0h1m0 0h1m3 0h1m2 0h1m40 0h1m3 0h1m0 0h1m-48 1h1m5 0h1m36 0h1m4 0h1m-49 1h1m42 0h1m-46 1h1m-1 1h1m3 0h1m45 0h1m2 0h1m-58 1h1m1 0h1m4 0h1m-9 1h1m0 1h1m44 0h1m5 1h1m4 0h1m-60 1h1m5 0h1m52 0h1m3 0h1m-60 1h1m51 0h1m2 0h1m-55 1h1m4 0h1m45 0h1m3 0h1m-5 1h1m3 0h1m5 0h1m-70 1h1m10 0h1m51 0h1m-62 1h1m3 0h1m0 0h1m0 0h1m54 0h1m3 0h1m1 0h1m-70 1h1m1 0h1m3 0h1m0 0h1m58 0h1m0 0h1m1 0h1m-71 1h1m2 0h1m0 0h1m0 0h1m3 0h1m56 0h1m6 0h1m-74 1h1m55 0h1m8 0h1m-67 1h1m8 0h1m60 0h1m-65 1h1m63 0h1m0 0h1m4 0h1m-81 1h1m8 0h1m0 0h1m1 0h1m2 0h1m0 0h1m46 0h1m1 0h1m3 0h1m2 0h1m0 0h1m8 0h1m-84 1h1m8 0h1m56 0h1m14 0h1m-73 1h1m1 0h1m1 0h1m45 0h1m20 0h1m-78 1h1m3 0h1m5 0h1m3 0h1m48 0h1m1 0h1m11 0h1m4 0h1m-77 1h1m3 0h1m61 0h1m-74 1h1m0 0h1m2 0h1m2 0h1m15 0h1m39 0h1m3 0h1m18 0h1m-82 1h1m3 0h1m1 0h1m5 0h1m41 0h1m0 0h1m14 0h1m10 0h1m-83 1h1m4 0h1m49 0h1m1 0h1m0 0h1m1 0h1m6 0h1m-77 1h1m0 0h1m12 0h1m0 0h1m1 0h1m43 0h1m7 0h1m-63 1h1m6 0h1m7 0h1m1 0h1m1 0h1m19 0h1m12 0h1m5 0h1m1 0h1m0 0h1m-62 1h1m13 0h1m-16 1h1m10 0h1m35 0h1m4 0h1m1 0h1m4 0h1m1 0h1m4 0h1m-54 1h1m0 0h1m51 0h1m-72 1h1m0 0h1m8 0h1m12 0h1m40 0h1m0 0h1m16 0h1m-74 1h1m27 0h1m28 0h1m-70 1h1m6 0h1m2 0h1m51 0h1m1 0h1m17 0h1m-79 1h1m12 0h1m0 0h1m0 0h1m33 0h1m4 0h1m5 0h1m7 0h1m0 0h1m13 0h1m0 0h1m-85 1h1m4 0h1m1 0h1m0 0h1m0 0h1m6 0h1m1 0h1m32 0h1m1 0h1m19 0h1m1 0h1m3 0h1m-58 1h1m23 0h1m1 0h1m14 0h1m7 0h1m9 0h1m1 0h1m-87 1h1m5 0h1m3 0h1m35 0h1m2 0h1m10 0h1m6 0h1m21 0h1m-73 1h1m1 0h1m13 0h1m13 0h1m7 0h1m28 0h1m2 0h1m-86 1h1m0 0h1m3 0h1m1 0h1m40 0h1m5 0h1m2 0h1m3 0h1m1 0h1m6 0h1m19 0h1m-89 1h1m0 0h1m31 0h1m25 0h1m1 0h1m12 0h1m-81 1h1m2 0h1m2 0h1m6 0h1m1 0h1m25 0h1m25 0h1m2 0h1m0 0h1m10 0h1m12 0h1m-98 1h1m4 0h1m16 0h1m20 0h1m35 0h1m10 0h1m-82 1h1m61 0h1m16 0h1m7 0h1m0 0h1m-97 1h1m4 0h1m2 0h1m4 0h1m36 0h1m14 0h1m1 0h1m0 0h1m1 0h1m2 0h1m1 0h1m2 0h1m6 0h1m3 0h1m5 0h1m-94 1h1m1 0h1m2 0h1m7 0h1m36 0h1m18 0h1m6 0h1m6 0h1m6 0h1m-84 1h1m0 0h1m24 0h1m22 0h1m1 0h1m1 0h1m2 0h1m1 0h1m3 0h1m24 0h1m0 0h1m-62 1h1m23 0h1m4 0h1m12 0h1m-81 1h1m6 0h1m35 0h1m16 0h1m3 0h1m0 0h1m1 0h1m7 0h1m1 0h1m4 0h1m16 0h1m-92 1h1m1 0h1m0 0h1m4 0h1m37 0h1m9 0h1m0 0h1m9 0h1m2 0h1m2 0h1m-85 1h1m10 0h1m7 0h1m22 0h1m2 0h1m9 0h1m10 0h1m7 0h1m3 0h1m0 0h1m4 0h1m0 0h1m13 0h1m0 0h1m2 0h1m-93 1h1m0 0h1m0 0h1m0 0h1m15 0h1m24 0h1m1 0h1m3 0h1m6 0h1m1 0h1m2 0h1m3 0h1m3 0h1m-74 1h1m6 0h1m2 0h1m0 0h1m3 0h1m29 0h1m0 0h1m9 0h1m4 0h1m1 0h1m2 0h1m12 0h1m-86 1h1m5 0h1m6 0h1m5 0h1m42 0h1m5 0h1m13 0h1m-79 1h1m7 0h1m45 0h1m1 0h1m4 0h1m-46 1h1m39 0h1m1 0h1m3 0h1m11 0h1m-79 1h1m16 0h1m2 0h1m41 0h1m-61 1h1m3 0h1m6 0h1m30 0h1m34 0h1m-78 1h1m0 0h1m1 0h1m0 0h1m5 0h1m6 0h1m14 0h1m16 0h1m0 0h1m1 0h1m4 0h1m3 0h1m2 0h1m5 0h1m4 0h1m-77 1h1m4 0h1m5 0h1m41 0h1m7 0h1m2 0h1m-65 1h1m4 0h1m1 0h1m0 0h1m11 0h1m36 0h1m13 0h1m4 0h1m3 0h1m-85 1h1m6 0h1m5 0h1m51 0h1m5 0h1m9 0h1m2 0h1m-84 1h1m3 0h1m1 0h1m34 0h1m7 0h1m1 0h1m10 0h1m1 0h1m9 0h1m11 0h1m-82 1h1m7 0h1m2 0h1m3 0h1m39 0h1m9 0h1m7 0h1m5 0h1m-88 1h1m3 0h1m10 0h1m25 0h1m16 0h1m5 0h1m0 0h1m4 0h1m3 0h1m0 0h1m7 0h1m-73 1h1m2 0h1m7 0h1m41 0h1m18 0h1m4 0h1m-76 1h1m45 0h1m5 0h1m11 0h1m0 0h1m8 0h1m-85 1h1m3 0h1m0 0h1m7 0h1m0 0h1m2 0h1m37 0h1m14 0h1m9 0h1m-82 1h1m55 0h1m5 0h1m6 0h1m0 0h1m0 0h1m1 0h1m4 0h1m4 0h1m1 0h1m0 0h1m-83 1h1m12 0h1m4 0h1m12 0h1m9 0h1m8 0h1m15 0h1m-73 1h1m8 0h1m0 0h1m1 0h1m50 0h1m6 0h1m0 0h1m5 0h1m-77 1h1m0 0h1m5 0h1m3 0h1m3 0h1m2 0h1m17 0h1m23 0h1m0 0h1m0 0h1m9 0h1m0 0h1m8 0h1m3 0h1m-67 1h1m29 0h1m10 0h1m1 0h1m1 0h1m0 0h1m2 0h1m4 0h1m1 0h1m-80 1h1m66 0h1m5 0h1m9 0h1m-82 1h1m1 0h1m3 0h1m0 0h1m2 0h1m0 0h1m3 0h1m18 0h1m19 0h1m3 0h1m0 0h1m1 0h1m0 0h1m8 0h1m3 0h1m2 0h1m5 0h1m-76 1h1m0 0h1m3 0h1m3 0h1m8 0h1m25 0h1m5 0h1m9 0h1m1 0h1m0 0h1m1 0h1m0 0h1m9 0h1m-80 1h1m2 0h1m26 0h1m31 0h1m0 0h1m2 0h1m0 0h1m-73 1h1m0 0h1m1 0h1m0 0h1m1 0h1m3 0h1m7 0h1m4 0h1m4 0h1m32 0h1m2 0h1m3 0h1m0 0h1m-62 1h1m2 0h1m8 0h1m26 0h1m1 0h1m3 0h1m7 0h1m1 0h1m0 0h1m3 0h1m4 0h1m5 0h1m1 0h1m2 0h1m-89 1h1m3 0h1m8 0h1m8 0h1m14 0h1m1 0h1m9 0h1m10 0h1m4 0h1m2 0h1m5 0h1m4 0h1m8 0h1m-56 1h1m4 0h1m12 0h1m1 0h1m14 0h1m1 0h1m8 0h1m-72 1h1m23 0h1m26 0h1m2 0h1m8 0h1m3 0h1m11 0h1m-86 1h1m10 0h1m4 0h1m20 0h1m8 0h1m15 0h1m1 0h1m0 0h1m1 0h1m3 0h1m0 0h1m3 0h1m-77 1h1m0 0h1m0 0h1m0 0h1m2 0h1m1 0h1m1 0h1m35 0h1m15 0h1m0 0h1m0 0h1m6 0h1m2 0h1m8 0h1m0 0h1m-84 1h1m0 0h1m16 0h1m4 0h1m3 0h1m25 0h1m3 0h1m9 0h1m1 0h1m15 0h1m-86 1h1m1 0h1m0 0h1m8 0h1m30 0h1m5 0h1m2 0h1m2 0h1m0 0h1m1 0h1m14 0h1m-74 1h1m1 0h1m1 0h1m6 0h1m47 0h1m3 0h1m2 0h1m-59 1h1m1 0h1m7 0h1m4 0h1m26 0h1m12 0h1m3 0h1m-71 1h1m5 0h1m5 0h1m4 0h1m27 0h1m19 0h1m2 0h1m-66 1h1m2 0h1m4 0h1m11 0h1m41 0h1m0 0h1m6 0h1m-65 1h1m0 0h1m17 0h1m27 0h1m4 0h1m9 0h1m1 0h1m-77 1h1m7 0h1m2 0h1m0 0h1m23 0h1m9 0h1m17 0h1m4 0h1m6 0h1m-67 1h1m7 0h1m28 0h1m2 0h1m0 0h1m8 0h1m0 0h1m2 0h1m14 0h1m-74 1h1m4 0h1m48 0h1m-58 1h1m4 0h1m6 0h1m1 0h1m18 0h1m4 0h1m6 0h1m10 0h1m0 0h1m0 0h1m2 0h1m6 0h1m-70 1h1m14 0h1m37 0h1m5 0h1m-67 1h1m3 0h1m0 0h1m4 0h1m5 0h1m8 0h1m38 0h1m-53 1h1m2 0h1m36 0h1m4 0h1m1 0h1m4 0h1m2 0h1m4 0h1m-72 1h1m6 0h1m2 0h1m35 0h1m0 0h1m18 0h1m5 0h1m0 0h1m-62 1h1m50 0h1m3 0h1m-73 1h1m9 0h1m1 0h1m0 0h1m17 0h1m30 0h1m1 0h1m8 0h1m-61 1h1m-7 1h1m28 0h1m15 0h1m17 0h1m4 0h1m-75 1h1m1 0h1m64 0h1m3 0h1m-69 1h1m1 0h1m2 0h1m79 0h1m-84 1h1m6 0h1m56 0h1m1 0h1m18 0h1m-95 1h1m8 0h1m4 0h1m64 0h1m1 0h1m10 0h1m-96 1h1m3 0h1m1 0h1m20 0h1m31 0h1m6 0h1m15 0h1m-78 1h1m1 0h1m9 0h1m53 0h1m3 0h1m3 0h1m-6 1h1m7 0h1m-79 1h1m67 0h1m10 0h1m3 0h1m-76 1h1m59 0h1m0 0h1m0 0h1m4 0h1m-74 1h1m2 0h1m78 0h1m-89 1h1m3 0h1m10 0h1m58 0h1m0 0h1m5 0h1m1 0h1m3 0h1m-94 1h1m1 0h1m7 0h1m0 0h1m62 0h1m3 0h1m10 0h1m-86 1h1m0 0h1m62 0h1m0 0h1m-62 1h1m0 0h1m0 0h1m5 0h1m54 0h1m5 0h1m2 0h1m2 0h1m3 0h1m-79 1h1m4 0h1m2 0h1m69 0h1m0 0h1m1 0h1m-92 1h1m5 0h1m67 0h1m4 0h1m0 0h1m6 0h1m-86 1h1m9 0h1m72 0h1m-83 1h1m2 0h1m0 0h1m5 0h1m-17 1h1m5 0h1m85 0h1m-82 1h1m74 0h1m6 0h1m-89 1h1m4 0h1m3 0h1m0 0h1m60 0h1m12 0h1m1 0h1m-80 1h1m1 0h1m60 0h1m5 0h1m0 0h1m7 0h1m-92 1h1m2 0h1m3 0h1m4 0h1m70 0h1m1 0h1m8 0h1m-88 1h1m1 0h1m1 0h1m73 0h1m0 0h1m0 0h1m-86 1h1m5 0h1m-3 1h1m1 0h1m72 0h1m1 0h1m-85 1h1m84 0h1m8 0h1m-90 1h1m78 0h1m-85 1h1m4 0h1m80 0h1m3 0h1m-10 1h1m10 0h1m-6 1h1m-86 1h1m1 0h1m88 0h1m-93 1h1m1 0h1m5 0h1m60 0h1m-67 1h1m79 0h1m2 0h1m2 0h1m-89 1h1m68 0h1m5 0h1m4 0h1m1 0h1m2 0h1m0 0h1m-87 1h1m1 0h1m1 0h1m65 0h1m4 0h1m1 0h1m4 0h1m-87 1h1m2 0h1m1 0h1m5 0h1m64 0h1m-74 1h1m0 0h1m69 0h1m9 0h1m5 0h1m1 0h1m-14 1h1m5 0h1m0 0h1m2 0h1m-88 1h1m2 0h1m0 0h1m-9 1h1m80 0h1m-78 1h1m5 0h1m65 0h1m1 0h1m1 0h1m-75 1h1m0 0h1m4 0h1m1 0h1m2 0h1m59 0h1m4 0h1m-83 1h1m2 0h1m4 0h1m74 0h1m1 0h1m-79 1h1m0 0h1m68 0h1m0 0h1m3 0h1m-7 1h1m1 0h1m-74 1h1m0 0h1m6 0h1m62 0h1m-11 1h1m1 0h1m-64 1h1m5 0h1m65 0h1m-74 1h1m1 0h1m0 0h1m1 0h1m0 0h1m0 0h1m0 0h1m62 0h1m-75 1h1m5 0h1m64 0h1m-68 1h1m2 0h1m3 0h1m1 0h1m4 0h1m49 0h1m0 0h1m3 0h1m0 0h1m-71 1h1m6 0h1m1 0h1m2 0h1m37 0h1m9 0h1m-50 1h1m5 0h1m1 0h1m0 0h1m1 0h1m23 0h1m0 0h1m5 0h1m0 0h1m8 0h1m3 0h1m-66 1h1m1 0h1m2 0h1m3 0h1m0 0h1m8 0h1m32 0h1m7 0h1m4 0h1" stroke="#2341a8" stroke-width="1" fill="none"/>
<path d="M582 1992.5h1m3 0h1m3 0h1m-12 1h1m2 0h1m13 0h1m-19 1h1m8 0h1m0 0h1m-10 1h1m11 0h1m0 0h1m0 0h1m0 0h1m-21 1h1m15 0h1m6 0h1m-26 1h1m1 0h1m4 0h1m14 0h1m-24 1h1m1 0h1m0 0h1m16 0h1m1 0h1m-23 1h1m28 0h1m0 0h1m-34 1h1m17 0h1m19 0h1m-33 1h1m20 0h1m1 0h1m1 0h1m1 0h1m-37 1h1m4 0h1m0 0h1m1 0h1m22 0h1m3 0h1m0 0h1m-34 1h1m5 0h1m0 0h1m24 0h1m0 0h1m1 0h1m-4 1h1m-1 1h1m1 0h1m2 0h1m-42 1h1m26 0h1m14 0h1m-41 1h1m42 0h1m-50 1h1m0 0h1m4 0h1m0 0h1m39 0h1m-45 1h1m0 0h1m39 0h1m5 0h1m-51 1h1m0 0h1m2 0h1m35 0h1m2 0h1m-45 1h1m4 0h1m45 0h1m-51 1h1m1 0h1m48 0h1m-49 1h1m35 0h1m11 0h1m-50 1h1m0 0h1m32 0h1m5 0h1m0 0h1m0 0h1m4 0h1m1 0h1m-11 1h1m2 0h1m1 0h1m3 0h1m0 0h1m-50 1h1m1 0h1m39 0h1m-3 1h1m3 0h1m3 1h1m-49 1h1m0 0h1m3 0h1m41 0h1m-49 1h1m1 0h1m36 0h1m8 0h1m-10 1h1m2 0h1m-41 1h1m0 0h1m3 0h1m31 0h1m-35 1h1m37 0h1m3 0h1m-12 1h1m2 0h1m3 0h1m0 0h1m-49 1h1m3 0h1m37 0h1m4 0h1m-44 1h1m-4 1h1m7 0h1m39 0h1m-45 1h1m32 0h1m6 0h1m-41 1h1m2 0h1m4 1h1m25 0h1m-5 1h1m4 0h1m6 0h1m-43 1h1m40 0h1m-46 1h1m3 0h1m10 0h1m18 0h1m1 0h1m1 0h1m3 0h1m0 0h1m1 0h1m-42 1h1m4 0h1m18 0h1m4 0h1m6 1h1m2 0h1m0 0h1m-47 1h1m1 0h1m1 0h1m4 0h1m35 0h1m-43 1h1m0 0h1m2 0h1m9 0h1m20 0h1m-39 1h1m6 0h1m1 0h1m4 0h1m1 0h1m10 0h1m3 0h1m3 0h1m2 0h1m2 0h1m0 0h1m-46 1h1m7 0h1m4 0h1m1 0h1m1 0h1m5 0h1m3 0h1m2 0h1m2 0h1m5 0h1m1 0h1m3 0h1m0 0h1m1 0h1m-46 1h1m0 0h1m0 0h1m10 0h1m31 0h1m-47 1h1m3 0h1m6 0h1m0 0h1m3 0h1m3 0h1m1 0h1m0 0h1m5 0h1m2 0h1m13 0h1m-51 1h1m2 0h1m8 0h1m2 0h1m12 0h1m4 0h1m16 0h1m-43 1h1m4 0h1m5 0h1m3 0h1m9 0h1m1 0h1m11 0h1m0 0h1m1 0h1m-51 1h1m5 0h1m2 0h1m7 0h1m0 0h1m4 0h1m0 0h1m1 0h1m7 0h1m1 0h1m5 0h1m0 0h1m5 0h1m-51 1h1m2 0h1m5 0h1m22 0h1m11 0h1m0 0h1m3 0h1m0 0h1m-42 1h1m10 0h1m8 0h1m0 0h1m0 0h1m0 0h1m5 0h1m11 0h1m0 0h1m-52 1h1m4 0h1m15 0h1m6 0h1m5 0h1m7 0h1m2 0h1m2 0h1m-49 1h1m5 0h1m7 0h1m11 0h1m8 0h1m0 0h1m8 0h1m2 0h1m-49 1h1m2 0h1m0 0h1m6 0h1m0 0h1m9 0h1m11 0h1m1 0h1m5 0h1m-43 1h1m13 0h1m8 0h1m3 0h1m1 0h1m3 0h1m6 0h1m-43 1h1m8 0h1m3 0h1m9 0h1m8 0h1m4 0h1m2 0h1m2 0h1m-40 1h1m4 0h1m1 0h1m7 0h1m18 0h1m4 0h1m-43 1h1m6 0h1m0 0h1m3 0h1m9 0h1m2 0h1m2 0h1m5 0h1m0 0h1m6 0h1m-44 1h1m5 0h1m3 0h1m0 0h1m2 0h1m7 0h1m6 0h1m3 0h1m-31 1h1m4 0h1m0 0h1m5 0h1m0 0h1m17 0h1m5 0h1m2 0h1m-41 1h1m10 0h1m13 0h1m2 0h1m0 0h1m6 0h1m-31 1h1m5 0h1m0 0h1m12 0h1m-28 1h1m9 0h1m7 0h1m5 0h1m1 0h1m1 0h1m5 0h1m5 0h1m-36 1h1m1 0h1m12 0h1m0 0h1m2 0h1m7 0h1m6 0h1m-35 1h1m3 0h1m1 0h1m0 0h1m0 0h1m0 0h1m18 0h1m2 0h1m2 0h1m0 0h1m-43 1h1m5 0h1m0 0h1m1 0h1m12 0h1m0 0h1m0 0h1m1 0h1m2 0h1m8 0h1m-37 1h1m2 0h1m8 0h1m1 0h1m10 0h1m4 0h1m-34 1h1m9 0h1m0 0h1m2 0h1m5 0h1m3 0h1m2 0h1m2 0h1m7 0h1m-36 1h1m9 0h1m0 0h1m2 0h1m11 0h1m6 0h1m0 0h1m2 0h1m2 0h1m-45 1h1m1 0h1m2 0h1m4 0h1m5 0h1m5 0h1m6 0h1m14 0h1m-43 1h1m4 0h1m7 0h1m2 0h1m3 0h1m12 0h1m0 0h1m6 0h1m-43 1h1m1 0h1m6 0h1m4 0h1m3 0h1m7 0h1m1 0h1m2 0h1m4 0h1m4 0h1m0 0h1m-46 1h1m0 0h1m1 0h1m4 0h1m3 0h1m5 0h1m12 0h1m14 0h1m-37 1h1m10 0h1m0 0h1m1 0h1m15 0h1m1 0h1m2 0h1m-43 1h1m2 0h1m3 0h1m3 0h1m0 0h1m2 0h1m0 0h1m4 0h1m7 0h1m2 0h1m0 0h1m0 0h1m2 0h1m5 0h1m-48 1h1m2 0h1m2 0h1m2 0h1m2 0h1m9 0h1m2 0h1m5 0h1m4 0h1m0 0h1m7 0h1m-45 1h1m0 0h1m0 0h1m7 0h1m19 0h1m-32 1h1m3 0h1m0 0h1m1 0h1m7 0h1m2 0h1m4 0h1m10 0h1m1 0h1m5 0h1m1 0h1m1 0h1m-41 1h1m1 0h1m3 0h1m3 0h1m0 0h1m1 0h1m4 0h1m5 0h1m5 0h1m2 0h1m0 0h1m1 0h1m0 0h1m-46 1h1m1 0h1m4 0h1m6 0h1m0 0h1m5 0h1m2 0h1m0 0h1m4 0h1m1 0h1m2 0h1m0 0h1m3 0h1m1 0h1m2 0h1m-42 1h1m10 0h1m2 0h1m4 0h1m0 0h1m0 0h1m8 0h1m10 0h1m-37 1h1m0 0h1m4 0h1m6 0h1m1 0h1m0 0h1m-18 1h1m1 0h1m9 0h1m0 0h1m-17 1h1m2 0h1m2 0h1m9 0h1m3 0h1m0 0h1m6 0h1m9 0h1m-42 1h1m0 0h1m16 0h1m4 0h1m4 0h1m7 0h1m1 0h1m-41 1h1m2 0h1m1 0h1m15 0h1m1 0h1m15 0h1m-36 1h1m8 0h1m10 0h1m1 0h1m0 0h1m3 0h1m10 0h1m-36 1h1m1 0h1m0 0h1m7 0h1m4 0h1m9 0h1m0 0h1m3 0h1m1 0h1m2 0h1m-41 1h1m7 0h1m6 0h1m6 0h1m3 0h1m6 0h1m4 0h1m-41 1h1m5 0h1m2 0h1m9 0h1m6 0h1m0 0h1m7 0h1m2 0h1m-38 1h1m4 0h1m0 0h1m5 0h1m5 0h1m2 0h1m1 0h1m5 0h1m2 0h1m1 0h1m1 0h1m3 0h1m-18 1h1m2 0h1m5 0h1m1 0h1m4 0h1m-41 1h1m4 0h1m2 0h1m2 0h1m7 0h1m2 0h1m0 0h1m0 0h1m5 0h1m3 0h1m-36 1h1m2 0h1m12 0h1m7 0h1m0 0h1m2 0h1m-30 1h1m18 0h1m10 0h1m3 0h1m2 0h1m-39 1h1m3 0h1m11 0h1m5 0h1m1 0h1m5 0h1m2 0h1m4 0h1m-36 1h1m2 0h1m0 0h1m0 0h1m1 0h1m0 0h1m1 0h1m2 0h1m0 0h1m0 0h1m1 0h1m5 0h1m3 0h1m0 0h1m0 0h1m2 0h1m-38 1h1m0 0h1m2 0h1m4 0h1m4 0h1m4 0h1m5 0h1m1 0h1m1 0h1m7 0h1m-33 1h1m2 0h1m0 0h1m3 0h1m4 0h1m5 0h1m2 0h1m7 0h1m1 0h1m3 0h1m-42 1h1m5 0h1m0 0h1m0 0h1m7 0h1m2 0h1m7 0h1m3 0h1m-32 1h1m10 0h1m14 0h1m-16 1h1m5 0h1m0 0h1m6 0h1m9 0h1m1 0h1m2 0h1m0 0h1m0 0h1m-44 1h1m5 0h1m4 0h1m2 0h1m4 0h1m1 0h1m6 0h1m6 0h1m-22 1h1m6 0h1m3 0h1m9 0h1m1 0h1m0 0h1m4 0h1m0 0h1m-35 1h1m2 0h1m0 0h1m10 0h1m-27 1h1m5 0h1m5 0h1m12 0h1m0 0h1m0 0h1m3 0h1m1 0h1m2 0h1m6 0h1m-23 1h1m13 0h1m2 0h1m4 0h1m-48 1h1m7 0h1m1 0h1m18 0h1m2 0h1m4 0h1m2 0h1m7 0h1m-46 1h1m3 0h1m2 0h1m14 0h1m13 0h1m4 0h1m2 0h1m-51 1h1m4 0h1m4 0h1m3 0h1m20 0h1m5 0h1m0 0h1m1 0h1m-49 1h1m1 0h1m22 0h1m5 0h1m2 0h1m1 0h1m5 0h1m4 0h1m6 0h1m-56 1h1m0 0h1m3 0h1m3 0h1m29 0h1m7 0h1m2 0h1m-39 1h1m36 0h1m1 0h1m-49 1h1m0 0h1m1 0h1m37 0h1m2 0h1m1 0h1m2 0h1m0 0h1m0 0h1m-58 1h1m1 0h1m5 0h1m46 0h1m1 0h1m-51 1h1m3 0h1m44 0h1m-56 1h1m2 0h1m46 0h1m-55 1h1m4 0h1m7 0h1m1 0h1m37 0h1m3 0h1m1 0h1m-57 1h1m1 0h1m48 0h1m4 0h1m-59 1h1m49 0h1m2 0h1m4 0h1m-64 1h1m4 0h1m2 0h1m49 0h1m5 0h1m-62 1h1m53 0h1m0 0h1m-60 1h1m1 0h1m0 0h1m0 0h1m6 0h1m47 0h1m5 0h1m-59 1h1m40 0h1m8 0h1m-59 2h1m4 0h1m3 0h1m56 0h1m-67 1h1m62 0h1m2 0h1m-68 1h1m57 0h1m5 0h1m-4 1h1m0 0h1m2 0h1m0 0h1m0 0h1m-10 1h1m0 1h1m1 0h1m4 0h1m0 0h1m-9 1h1m-55 1h1m57 1h1m2 0h1m-72 1h1m4 0h1m-6 1h1m5 0h1m58 0h1m5 0h1m-10 1h1m-59 1h1m61 0h1m0 0h1m1 0h1m-68 1h1m0 0h1m6 0h1m51 0h1m0 0h1m6 0h1m-72 1h1m0 0h1m3 0h1m62 0h1m-3 1h1m-68 1h1m3 0h1m2 0h1m64 0h1m-75 1h1m72 0h1m0 0h1m-73 1h1m54 0h1m12 0h1m1 0h1m-11 1h1m-61 1h1m2 0h1m1 0h1m55 0h1m1 0h1m1 0h1m4 0h1m-73 1h1m60 0h1m4 0h1m2 0h1m1 0h1m-72 1h1m2 0h1m60 0h1m-65 1h1m0 0h1m58 0h1m5 0h1m0 0h1m-65 1h1m0 0h1m55 0h1m-62 1h1m3 0h1m57 0h1m1 0h1m-65 1h1m4 0h1m3 0h1m50 0h1m-3 1h1m0 0h1m3 0h1m0 0h1m-1 1h1m-59 1h1m53 0h1m-60 1h1m0 0h1m0 0h1m1 0h1m1 0h1m4 0h1m2 0h1m47 0h1m-56 1h1m0 0h1m46 0h1m4 0h1m0 0h1m2 0h1m-57 1h1m51 0h1m-57 2h1m3 0h1m2 0h1m2 0h1m40 0h1m2 0h1m-50 1h1m7 0h1m28 0h1m7 0h1m4 0h1m0 0h1m-51 1h1m35 0h1m3 0h1m7 0h1m-50 1h1m1 0h1m2 0h1m0 0h1m4 0h1m26 0h1m-30 1h1m4 0h1m12 0h1m8 0h1m6 0h1m-45 1h1m1 0h1m14 0h1m2 0h1m9 0h1m0 0h1m1 0h1m0 0h1m3 0h1m0 0h1m2 0h1m-28 1h1m20 0h1" stroke="#2355ba" stroke-width="1" fill="none"/>
<path d="M587 1993.5h1m5 0h1m-8 1h1m6 0h1m-8 1h1m0 0h1m-10 1h1m4 0h1m-2 1h1m0 0h1m2 0h1m-3 1h1m0 0h1m1 0h1m4 0h1m-16 1h1m1 0h1m2 0h1m0 0h1m4 0h1m1 0h1m1 0h1m0 0h1m-19 1h1m0 0h1m4 0h1m2 0h1m0 0h1m1 0h1m5 0h1m0 0h1m2 0h1m0 0h1m0 0h1m3 0h1m-29 1h1m11 0h1m5 0h1m4 0h1m-25 1h1m3 0h1m0 0h1m3 0h1m0 0h1m17 0h1m1 0h1m-40 1h1m11 0h1m7 0h1m5 0h1m2 0h1m4 0h1m4 0h1m-37 1h1m2 0h1m0 0h1m1 0h1m0 0h1m19 0h1m0 0h1m4 0h1m1 0h1m0 0h1m1 0h1m-38 1h1m2 0h1m4 0h1m19 0h1m1 0h1m4 0h1m2 0h1m-41 1h1m2 0h1m6 0h1m22 0h1m3 0h1m0 0h1m-39 1h1m3 0h1m4 0h1m16 0h1m6 0h1m-38 1h1m1 0h1m5 0h1m1 0h1m23 0h1m2 0h1m4 0h1m2 0h1m-10 1h1m0 0h1m0 0h1m-33 1h1m1 0h1m17 0h1m8 0h1m6 0h1m-38 1h1m0 0h1m33 0h1m-36 1h1m30 0h1m3 0h1m-37 1h1m28 0h1m0 0h1m4 0h1m2 0h1m0 0h1m0 1h1m-42 1h1m36 0h1m-9 1h1m1 0h1m0 0h1m1 0h1m1 0h1m4 0h1m-44 1h1m30 0h1m4 0h1m-33 1h1m28 0h1m3 0h1m1 0h1m-5 1h1m2 0h1m0 0h1m-42 1h1m3 0h1m0 0h1m2 0h1m28 0h1m3 0h1m0 0h1m-39 1h1m1 0h1m25 0h1m3 0h1m3 0h1m-43 1h1m13 0h1m19 0h1m3 0h1m-36 1h1m0 0h1m27 0h1m2 0h1m0 0h1m1 0h1m-35 1h1m2 0h1m2 0h1m18 0h1m9 0h1m1 0h1m0 0h1m3 0h1m-44 1h1m2 0h1m1 0h1m19 0h1m9 0h1m-39 1h1m5 0h1m4 0h1m19 0h1m2 0h1m-31 1h1m2 0h1m5 0h1m14 0h1m-26 1h1m4 0h1m0 0h1m0 0h1m19 0h1m3 0h1m6 0h1m-29 1h1m0 0h1m4 0h1m8 0h1m2 0h1m5 0h1m0 0h1m-30 1h1m2 0h1m2 0h1m5 0h1m3 0h1m1 0h1m5 0h1m0 0h1m-31 1h1m3 0h1m2 0h1m0 0h1m0 0h1m0 0h1m1 0h1m0 0h1m4 0h1m5 0h1m5 0h1m-28 1h1m0 0h1m1 0h1m13 0h1m7 0h1m1 0h1m-31 1h1m1 0h1m10 0h1m2 0h1m3 0h1m6 0h1m3 0h1m-30 1h1m2 0h1m2 0h1m3 0h1m0 0h1m2 0h1m4 0h1m1 0h1m2 0h1m4 0h1m0 0h1m-33 1h1m9 0h1m5 0h1m2 0h1m6 0h1m-22 1h1m0 0h1m6 0h1m1 0h1m3 0h1m2 0h1m1 0h1m-20 1h1m1 0h1m0 0h1m5 0h1m2 0h1m0 0h1m0 0h1m-23 1h1m6 0h1m0 0h1m1 0h1m2 0h1m3 0h1m1 0h1m0 0h1m2 0h1m0 0h1m-27 1h1m0 0h1m6 0h1m3 0h1m6 0h1m6 0h1m1 0h1m3 0h1m-33 1h1m2 0h1m9 0h1m7 0h1m13 0h1m-33 1h1m1 0h1m5 0h1m3 0h1m4 0h1m3 0h1m-24 1h1m6 0h1m1 0h1m0 0h1m1 0h1m0 0h1m3 0h1m8 0h1m0 0h1m-35 1h1m1 0h1m1 0h1m4 0h1m4 0h1m5 0h1m3 0h1m2 0h1m1 0h1m-25 1h1m0 0h1m4 0h1m0 0h1m4 0h1m2 0h1m5 0h1m2 0h1m6 0h1m7 0h1m-40 1h1m2 0h1m0 0h1m1 0h1m11 0h1m0 0h1m9 0h1m-32 1h1m1 0h1m1 0h1m2 0h1m1 0h1m0 0h1m1 0h1m0 0h1m4 0h1m2 0h1m-21 1h1m0 0h1m4 0h1m1 0h1m3 0h1m0 0h1m4 0h1m3 0h1m3 0h1m-30 1h1m3 0h1m0 0h1m3 0h1m6 0h1m0 0h1m1 0h1m0 0h1m0 0h1m8 0h1m-25 1h1m5 0h1m6 0h1m0 0h1m6 0h1m0 0h1m-29 1h1m13 0h1m2 0h1m6 0h1m5 0h1m-33 1h1m9 0h1m1 0h1m0 0h1m0 0h1m0 0h1m1 0h1m8 0h1m5 0h1m-25 1h1m0 0h1m0 0h1m0 0h1m15 0h1m1 0h1m-20 1h1m1 0h1m0 0h1m3 0h1m0 0h1m4 0h1m4 0h1m4 0h1m-37 1h1m7 0h1m8 0h1m2 0h1m1 0h1m0 0h1m0 0h1m0 0h1m4 0h1m4 0h1m-14 1h1m0 0h1m7 0h1m0 0h1m4 0h1m-38 1h1m9 0h1m4 0h1m0 0h1m1 0h1m2 0h1m3 0h1m0 0h1m8 0h1m-35 1h1m4 0h1m2 0h1m3 0h1m4 0h1m0 0h1m2 0h1m4 0h1m1 0h1m-21 1h1m4 0h1m2 0h1m4 0h1m0 0h1m2 0h1m1 0h1m2 0h1m4 0h1m-34 1h1m8 0h1m0 0h1m0 0h1m0 0h1m2 0h1m9 0h1m-28 1h1m6 0h1m0 0h1m1 0h1m10 0h1m0 0h1m8 0h1m-29 1h1m11 0h1m2 0h1m14 0h1m-19 1h1m1 0h1m1 0h1m8 0h1m0 0h1m-24 1h1m2 0h1m0 0h1m3 0h1m5 0h1m1 0h1m3 0h1m3 0h1m-33 1h1m7 0h1m6 0h1m2 0h1m2 0h1m5 0h1m2 0h1m0 0h1m0 0h1m5 0h1m-33 1h1m4 0h1m0 0h1m2 0h1m3 0h1m1 0h1m1 0h1m1 0h1m2 0h1m12 0h1m-36 1h1m1 0h1m3 0h1m2 0h1m5 0h1m4 0h1m0 0h1m7 0h1m-29 1h1m6 0h1m0 0h1m2 0h1m3 0h1m0 0h1m4 0h1m4 0h1m-28 1h1m5 0h1m2 0h1m13 0h1m1 0h1m-30 1h1m6 0h1m1 0h1m1 0h1m0 0h1m0 0h1m5 0h1m5 0h1m1 0h1m1 0h1m2 0h1m2 0h1m-30 1h1m0 0h1m6 0h1m4 0h1m0 0h1m6 0h1m-30 1h1m5 0h1m1 0h1m0 0h1m0 0h1m3 0h1m3 0h1m2 0h1m7 0h1m-25 1h1m14 0h1m0 0h1m9 0h1m-24 1h1m11 0h1m4 0h1m1 0h1m-18 1h1m12 0h1m2 0h1m3 0h1m-35 1h1m6 0h1m0 0h1m5 0h1m0 0h1m1 0h1m1 0h1m4 0h1m1 0h1m3 0h1m-25 1h1m1 0h1m0 0h1m3 0h1m2 0h1m6 0h1m2 0h1m2 0h1m7 0h1m-34 1h1m0 0h1m8 0h1m1 0h1m6 0h1m1 0h1m4 0h1m5 0h1m-31 1h1m19 0h1m0 0h1m1 0h1m-31 1h1m3 0h1m0 0h1m10 0h1m9 0h1m0 0h1m-29 1h1m3 0h1m4 0h1m15 0h1m0 0h1m4 0h1m1 0h1m0 0h1m-32 1h1m13 0h1m1 0h1m6 0h1m2 0h1m2 0h1m2 0h1m-27 1h1m1 0h1m16 0h1m8 0h1m-33 1h1m32 0h1m-28 1h1m6 0h1m0 0h1m7 0h1m5 0h1m2 0h1m1 0h1m-29 1h1m3 0h1m3 0h1m2 0h1m1 0h1m5 0h1m-28 1h1m9 0h1m1 0h1m8 0h1m-13 1h1m2 0h1m3 0h1m4 0h1m13 0h1m-32 1h1m3 0h1m2 0h1m1 0h1m4 0h1m4 1h1m-21 1h1m0 0h1m6 0h1m0 0h1m0 0h1m8 0h1m5 0h1m-24 1h1m6 0h1m7 0h1m9 0h1m1 0h1m-33 2h1m3 0h1m12 0h1m-10 1h1m0 0h1m3 0h1m5 0h1m-18 1h1m3 0h1m6 0h1m8 0h1m-29 1h1m3 0h1m1 0h1m0 0h1m14 0h1m0 0h1m2 0h1m0 0h1m1 0h1m5 0h1m-33 1h1m0 0h1m0 0h1m3 0h1m19 0h1m5 0h1m-29 1h1m3 0h1m3 0h1m2 0h1m11 0h1m1 0h1m1 0h1m2 0h1m-39 1h1m6 0h1m1 0h1m21 0h1m0 0h1m8 0h1m-43 1h1m1 0h1m15 0h1m0 0h1m1 0h1m-9 1h1m0 0h1m2 0h1m1 0h1m-17 1h1m3 0h1m1 0h1m2 0h1m0 0h1m7 0h1m-9 1h1m1 0h1m0 0h1m4 0h1m6 0h1m0 0h1m0 0h1m0 0h1m1 0h1m-24 1h1m8 0h1m10 0h1m0 0h1m-34 1h1m1 0h1m0 0h1m1 0h1m0 0h1m14 0h1m4 0h1m1 0h1m-29 1h1m2 0h1m0 0h1m0 0h1m5 0h1m0 0h1m4 0h1m9 0h1m5 0h1m4 0h1m1 0h1m-49 1h1m2 0h1m4 0h1m0 0h1m7 0h1m0 0h1m0 0h1m1 0h1m2 0h1m7 0h1m2 0h1m2 0h1m4 0h1m2 0h1m-40 1h1m4 0h1m6 0h1m1 0h1m5 0h1m4 0h1m2 0h1m3 0h1m-36 1h1m7 0h1m7 0h1m2 0h1m7 0h1m4 0h1m-37 1h1m0 0h1m2 0h1m1 0h1m28 0h1m5 0h1m0 0h1m2 0h1m-47 1h1m4 0h1m33 0h1m-37 1h1m6 0h1m1 0h1m25 0h1m4 0h1m0 0h1m0 0h1m-47 1h1m2 0h1m0 0h1m34 0h1m5 0h1m1 0h1m-49 1h1m38 0h1m2 0h1m1 0h1m0 0h1m4 0h1m-54 1h1m1 0h1m39 0h1m1 0h1m5 0h1m-55 1h1m0 0h1m7 0h1m0 0h1m31 0h1m7 0h1m2 0h1m-48 1h1m32 0h1m8 0h1m0 0h1m1 0h1m5 0h1m-53 1h1m45 0h1m0 0h1m-5 1h1m5 0h1m0 0h1m-55 1h1m1 0h1m2 0h1m43 0h1m0 0h1m0 0h1m1 0h1m-58 1h1m7 0h1m3 0h1m45 0h1m0 0h1m-56 1h1m0 0h1m45 0h1m2 0h1m0 0h1m0 0h1m-54 1h1m1 0h1m44 0h1m5 0h1m-55 1h1m1 0h1m0 0h1m0 0h1m1 0h1m-6 1h1m50 0h1m2 0h1m-1 1h1m4 0h1m-62 1h1m1 0h1m0 0h1m44 0h1m0 0h1m6 0h1m0 0h1m-59 1h1m0 0h1m48 0h1m3 0h1m2 0h1m-58 1h1m0 0h1m3 0h1m-7 1h1m55 0h1m1 0h1m-63 1h1m1 0h1m1 0h1m0 0h1m52 0h1m1 0h1m2 0h1m-8 1h1m-59 1h1m4 0h1m5 0h1m47 0h1m1 0h1m2 0h1m-61 1h1m1 0h1m0 0h1m58 0h1m-60 1h1m1 0h1m49 0h1m0 0h1m0 0h1m0 0h1m0 0h1m-63 1h1m2 0h1m51 0h1m0 0h1m0 0h1m8 0h1m-69 1h1m2 0h1m50 0h1m0 0h1m1 0h1m6 0h1m-62 1h1m0 0h1m0 0h1m6 0h1m48 0h1m-59 1h1m0 0h1m1 0h1m44 0h1m13 0h1m-63 1h1m0 0h1m51 0h1m0 0h1m1 0h1m2 0h1m0 0h1m-7 1h1m0 0h1m-57 1h1m1 0h1m2 0h1m-7 1h1m55 0h1m-49 1h1m47 0h1m1 0h1m-55 1h1m1 1h1m6 0h1m43 0h1m-58 1h1m6 0h1m2 0h1m-11 1h1m4 0h1m0 0h1m3 0h1m3 0h1m39 0h1m-2 2h1m2 0h1m2 0h1m-60 1h1m7 0h1m40 0h1m3 0h1m1 0h1m-51 1h1m0 0h1m9 0h1m31 0h1m0 0h1m1 0h1m1 0h1m-41 1h1m32 0h1m1 0h1m-41 1h1m0 0h1m1 0h1m0 0h1m28 0h1m8 0h1m0 0h1m1 0h1m-52 1h1m10 0h1m26 0h1m4 0h1m1 0h1m-40 1h1m6 0h1m3 0h1m5 0h1m6 0h1m5 0h1m1 0h1m-35 1h1m3 0h1m2 0h1m1 0h1m10 0h1m3 0h1m0 0h1m0 0h1m4 0h1m5 0h1m-41 1h1m3 0h1m0 0h1m11 0h1m2 0h1m0 0h1m9 0h1m4 0h1m1 0h1m-36 1h1m10 0h1m6 0h1m3 0h1m1 0h1m2 0h1m0 0h1m3 0h1m2 0h1m-24 1h1m0 0h1m1 0h1m0 0h1m2 0h1m2 0h1m1 0h1m0 0h1m7 0h1" stroke="#236dc4" stroke-width="1" fill="none"/>
<path d="M585 1996.5h1m-5 2h1m0 0h1m5 0h1m1 0h1m4 0h1m-10 1h1m4 0h1m-4 1h1m-11 1h1m0 0h1m4 0h1m4 0h1m0 0h1m-9 1h1m4 0h1m0 0h1m0 0h1m5 0h1m2 0h1m-33 1h1m9 0h1m1 0h1m4 0h1m0 0h1m1 0h1m0 0h1m0 0h1m1 0h1m2 0h1m1 0h1m1 0h1m-20 1h1m3 0h1m4 0h1m3 0h1m1 0h1m-21 1h1m2 0h1m1 0h1m0 0h1m0 0h1m2 0h1m0 0h1m0 0h1m1 0h1m0 0h1m1 0h1m1 0h1m1 0h1m-23 1h1m0 0h1m0 0h1m5 0h1m3 0h1m7 0h1m1 0h1m0 0h1m0 0h1m4 0h1m-32 1h1m1 0h1m0 0h1m6 0h1m1 0h1m6 0h1m5 0h1m1 0h1m1 0h1m-28 1h1m1 0h1m4 0h1m8 0h1m0 0h1m1 0h1m3 0h1m6 0h1m-33 1h1m5 0h1m3 0h1m2 0h1m11 0h1m0 0h1m0 0h1m-28 1h1m28 0h1m-35 1h1m4 0h1m1 0h1m1 0h1m2 0h1m17 0h1m6 0h1m-36 1h1m6 0h1m0 0h1m17 0h1m4 0h1m3 0h1m2 0h1m-41 1h1m3 0h1m0 0h1m0 0h1m28 0h1m-29 1h1m0 0h1m18 0h1m0 0h1m1 0h1m3 0h1m0 0h1m-34 1h1m0 0h1m0 0h1m26 0h1m-32 1h1m2 0h1m0 0h1m0 0h1m21 0h1m12 0h1m-39 1h1m26 0h1m1 0h1m0 0h1m0 0h1m0 0h1m1 0h1m-35 1h1m1 0h1m0 0h1m0 0h1m0 0h1m2 0h1m0 0h1m15 0h1m5 0h1m0 0h1m-31 1h1m0 0h1m0 0h1m0 0h1m0 0h1m20 0h1m3 0h1m-31 1h1m6 0h1m15 0h1m1 0h1m-3 1h1m0 0h1m3 0h1m-28 1h1m15 0h1m11 0h1m1 0h1m-33 1h1m1 0h1m0 0h1m5 0h1m9 0h1m6 0h1m3 0h1m1 0h1m-27 1h1m1 0h1m11 0h1m0 0h1m2 0h1m1 0h1m-24 1h1m1 0h1m20 0h1m1 0h1m-29 1h1m1 0h1m2 0h1m13 0h1m2 0h1m0 0h1m5 0h1m1 0h1m1 0h1m-38 1h1m5 0h1m4 0h1m2 0h1m2 0h1m1 0h1m1 0h1m0 0h1m3 0h1m0 0h1m0 0h1m3 0h1m3 0h1m-36 1h1m8 0h1m5 0h1m0 0h1m3 0h1m6 0h1m5 0h1m-28 1h1m9 0h1m3 0h1m7 0h1m2 0h1m-25 1h1m1 0h1m3 0h1m2 0h1m9 0h1m-12 1h1m0 0h1m3 0h1m0 0h1m-11 1h1m0 0h1m1 0h1m2 0h1m4 0h1m0 0h1m-16 1h1m2 0h1m5 0h1m3 0h1m0 0h1m-19 1h1m19 0h1m-20 1h1m2 0h1m0 0h1m2 0h1m0 0h1m3 0h1m0 0h1m3 0h1m5 0h1m-20 1h1m19 0h1m-14 1h1m9 0h1m-25 1h1m6 0h1m3 0h1m-2 2h1m1 0h1m-22 1h1m10 0h1m-12 1h1m24 0h1m-23 1h1m24 0h1m-19 1h1m3 0h1m-16 1h1m10 0h1m16 0h1m-23 2h1m19 0h1m-23 1h1m3 1h1m2 0h1m-5 1h1m4 1h1m3 0h1m1 0h1m-17 1h1m13 0h1m4 0h1m-12 1h1m16 1h1m-19 1h1m8 0h1m-7 1h1m-8 1h1m18 0h1m-19 1h1m-5 1h1m1 0h1m14 0h1m7 0h1m-30 1h1m12 0h1m0 0h1m-18 1h1m7 0h1m6 0h1m6 0h1m1 0h1m-18 1h1m22 0h1m-20 1h1m10 0h1m7 1h1m-21 1h1m19 0h1m-5 1h1m7 1h1m-10 2h1m3 0h1m-30 1h1m15 0h1m7 1h1m-14 1h1m1 0h1m12 0h1m-25 1h1m10 1h1m7 0h1m-16 1h1m14 2h1m-17 3h1m-3 1h1m3 3h1m20 0h1m-10 2h1m5 0h1m-15 1h1m-14 2h1m8 0h1m4 4h1m-2 3h1m-20 2h1m2 0h1m1 1h1m4 0h1m-14 1h1m7 0h1m4 0h1m-9 1h1m11 0h1m-20 1h1m14 0h1m0 0h1m4 0h1m4 0h1m9 0h1m-27 1h1m-10 1h1m5 0h1m5 0h1m5 0h1m16 0h1m-30 1h1m4 0h1m0 0h1m5 0h1m0 0h1m2 0h1m-22 1h1m1 0h1m7 0h1m3 0h1m1 0h1m5 0h1m0 0h1m1 0h1m2 0h1m1 0h1m-35 1h1m3 0h1m0 0h1m0 0h1m8 0h1m2 0h1m1 0h1m2 0h1m0 0h1m-34 1h1m8 0h1m3 0h1m0 0h1m4 0h1m2 0h1m1 0h1m2 0h1m0 0h1m6 0h1m-21 1h1m2 0h1m4 0h1m1 0h1m3 0h1m1 0h1m1 0h1m0 0h1m1 0h1m-35 1h1m7 0h1m2 0h1m2 0h1m1 0h1m1 0h1m1 0h1m4 0h1m2 0h1m0 0h1m1 0h1m3 0h1m-39 1h1m5 0h1m0 0h1m8 0h1m0 0h1m8 0h1m1 0h1m0 0h1m5 0h1m0 0h1m4 0h1m-32 1h1m1 0h1m1 0h1m0 0h1m7 0h1m3 0h1m0 0h1m2 0h1m1 0h1m0 0h1m0 0h1m5 0h1m-50 1h1m17 0h1m13 0h1m1 0h1m0 0h1m5 0h1m0 0h1m0 0h1m0 0h1m-36 1h1m0 0h1m4 0h1m0 0h1m0 0h1m6 0h1m2 0h1m8 0h1m2 0h1m1 0h1m0 0h1m3 0h1m-40 1h1m2 0h1m4 0h1m3 0h1m12 0h1m1 0h1m4 0h1m5 0h1m-37 1h1m2 0h1m1 0h1m1 0h1m16 0h1m11 0h1m0 0h1m0 0h1m4 0h1m-44 1h1m0 0h1m3 0h1m20 0h1m12 0h1m2 0h1m-51 1h1m8 0h1m1 0h1m0 0h1m18 0h1m6 0h1m3 0h1m2 0h1m0 0h1m6 0h1m-51 1h1m1 0h1m33 0h1m4 0h1m-44 1h1m4 0h1m0 0h1m36 0h1m0 0h1m-46 1h1m44 0h1m1 0h1m2 0h1m-48 1h1m0 0h1m38 0h1m0 0h1m2 0h1m4 0h1m-53 1h1m0 0h1m3 0h1m37 0h1m4 0h1m2 0h1m-51 1h1m40 0h1m0 0h1m0 0h1m-46 1h1m0 0h1m42 0h1m1 0h1m0 0h1m-6 1h1m3 0h1m0 0h1m8 0h1m-56 1h1m40 0h1m5 0h1m-49 1h1m43 0h1m1 0h1m0 0h1m0 0h1m-44 1h1m37 0h1m2 0h1m3 0h1m-56 1h1m1 0h1m0 0h1m1 0h1m0 0h1m45 0h1m0 0h1m0 0h1m1 0h1m-61 1h1m5 0h1m4 0h1m44 0h1m-52 1h1m47 0h1m2 0h1m2 0h1m-56 1h1m1 0h1m3 0h1m41 0h1m1 0h1m2 0h1m-6 1h1m1 0h1m7 0h1m-56 1h1m46 0h1m-53 1h1m1 0h1m1 0h1m43 0h1m0 0h1m4 0h1m5 0h1m-60 1h1m4 0h1m39 0h1m6 0h1m-9 1h1m2 0h1m-54 1h1m8 0h1m46 0h1m4 0h1m-58 1h1m0 0h1m1 0h1m3 0h1m41 0h1m-56 1h1m7 0h1m3 0h1m40 0h1m0 0h1m0 0h1m0 0h1m-53 1h1m1 0h1m0 0h1m2 0h1m1 0h1m39 0h1m1 0h1m1 0h1m2 0h1m-54 1h1m1 0h1m5 0h1m38 0h1m0 0h1m-50 1h1m2 0h1m0 0h1m42 0h1m6 0h1m-56 1h1m0 0h1m3 0h1m1 0h1m3 0h1m36 0h1m0 0h1m1 0h1m2 0h1m-55 1h1m2 0h1m3 0h1m41 0h1m0 0h1m0 0h1m-43 1h1m1 0h1m35 0h1m0 0h1m0 0h1m0 0h1m0 0h1m-53 1h1m1 0h1m3 0h1m29 0h1m13 0h1m-52 1h1m10 0h1m25 0h1m3 0h1m1 0h1m1 0h1m2 0h1m0 0h1m1 0h1m0 0h1m1 0h1m-49 1h1m4 0h1m3 0h1m0 0h1m27 0h1m1 0h1m5 0h1m-46 1h1m3 0h1m5 0h1m21 0h1m0 0h1m6 0h1m0 0h1m2 0h1m0 0h1m-45 1h1m0 0h1m0 0h1m18 0h1m1 0h1m1 0h1m2 0h1m5 0h1m1 0h1m1 0h1m0 0h1m-38 1h1m1 0h1m2 0h1m0 0h1m0 0h1m5 0h1m10 0h1m4 0h1m0 0h1m-37 1h1m0 0h1m0 0h1m7 0h1m2 0h1m2 0h1m0 0h1m6 0h1m5 0h1m2 0h1m5 0h1m0 0h1m1 0h1m0 0h1m-37 1h1m3 0h1m0 0h1m0 0h1m0 0h1m0 0h1m8 0h1m0 0h1m0 0h1m7 0h1m4 0h1m5 0h1m-44 1h1m2 0h1m4 0h1m2 0h1m2 0h1m1 0h1m0 0h1m5 0h1m5 0h1m6 0h1m-18 1h1m1 0h1m0 0h1m0 0h1m5 0h1m-7 1h1m1 0h1m0 0h1m0 0h1m9 0h1m-28 1h1m3 0h1m0 0h1m0 0h1m2 0h1m0 0h1m5 0h1" stroke="#2591b6" stroke-width="1" fill="none"/>
<path d="M583 2001.5h1m1 0h1m0 0h1m4 0h1m-6 1h1m4 0h1m-11 1h1m10 0h1m-8 1h1m0 0h1m3 0h1m1 0h1m5 0h1m-24 1h1m5 0h1m0 0h1m8 0h1m3 0h1m-18 1h1m0 0h1m2 0h1m0 0h1m3 0h1m0 0h1m4 0h1m5 0h1m-26 1h1m0 0h1m1 0h1m9 0h1m2 0h1m0 0h1m4 0h1m-27 1h1m5 0h1m1 0h1m1 0h1m1 0h1m7 0h1m1 0h1m0 0h1m2 0h1m-23 1h1m0 0h1m2 0h1m0 0h1m2 0h1m2 0h1m3 0h1m1 0h1m1 0h1m4 0h1m-27 1h1m0 0h1m0 0h1m0 0h1m1 0h1m1 0h1m1 0h1m0 0h1m8 0h1m0 0h1m1 0h1m0 0h1m-25 1h1m7 0h1m5 0h1m1 0h1m10 0h1m0 0h1m-30 1h1m0 0h1m1 0h1m18 0h1m4 0h1m-20 1h1m8 0h1m5 0h1m1 0h1m-22 1h1m3 0h1m8 0h1m2 0h1m10 0h1m-29 1h1m1 0h1m1 0h1m0 0h1m3 0h1m9 0h1m-22 1h1m0 0h1m1 0h1m1 0h1m0 0h1m0 0h1m17 0h1m4 0h1m-34 1h1m1 0h1m1 0h1m0 0h1m1 0h1m5 0h1m0 0h1m2 0h1m3 0h1m1 0h1m-9 1h1m2 0h1m3 0h1m0 0h1m1 0h1m-20 1h1m4 0h1m4 0h1m7 0h1m0 0h1m-15 1h1m10 0h1m1 0h1m2 0h1m-27 1h1m0 0h1m1 0h1m0 0h1m0 0h1m5 0h1m1 0h1m3 0h1m-16 1h1m3 0h1m0 0h1m0 0h1m3 0h1m0 0h1m0 0h1m7 0h1m-21 1h1m0 0h1m1 0h1m3 0h1m3 0h1m0 0h1m1 0h1m1 0h1m1 0h1m0 0h1m0 0h1m-13 1h1m0 0h1m0 0h1m0 0h1m2 0h1m0 0h1m5 0h1m2 0h1m-25 1h1m1 0h1m0 0h1m2 0h1m5 0h1m3 0h1m1 0h1m2 0h1m-17 1h1m0 0h1m1 0h1m2 0h1m2 0h1m1 0h1m0 0h1m-14 1h1m7 0h1m12 0h1m-25 1h1m2 0h1m0 0h1m1 0h1m2 0h1m0 0h1m4 0h1m-11 1h1m0 0h1m2 0h1m1 0h1m3 0h1m1 0h1m-14 1h1m5 0h1m12 0h1m-18 1h1m7 0h1m-7 1h1m9 0h1m-15 1h1m-2 5h1m-13 11h1m5 3h1m-1 5h1m1 16h1m-11 3h1m5 26h1m-23 1h1m4 0h1m3 2h1m-3 1h1m-5 3h1m2 0h1m1 0h1m0 0h1m-20 1h1m0 0h1m2 0h1m1 0h1m6 0h1m3 0h1m3 0h1m-23 1h1m0 0h1m1 0h1m0 0h1m0 0h1m1 0h1m2 0h1m0 0h1m0 0h1m1 0h1m4 0h1m2 0h1m-23 1h1m4 0h1m2 0h1m1 0h1m3 0h1m1 0h1m-22 1h1m4 0h1m4 0h1m2 0h1m1 0h1m1 0h1m0 0h1m0 0h1m0 0h1m1 0h1m4 0h1m-21 1h1m3 0h1m7 0h1m1 0h1m0 0h1m0 0h1m3 0h1m4 0h1m-33 1h1m5 0h1m0 0h1m2 0h1m2 0h1m1 0h1m1 0h1m0 0h1m0 0h1m4 0h1m0 0h1m1 0h1m1 0h1m0 0h1m-29 1h1m1 0h1m1 0h1m5 0h1m3 0h1m7 0h1m0 0h1m0 0h1m0 0h1m2 0h1m0 0h1m1 0h1m-33 1h1m3 0h1m4 0h1m2 0h1m0 0h1m6 0h1m0 0h1m2 0h1m1 0h1m0 0h1m0 0h1m0 0h1m1 0h1m-38 1h1m0 0h1m1 0h1m6 0h1m17 0h1m2 0h1m2 0h1m0 0h1m-35 1h1m0 0h1m2 0h1m2 0h1m28 0h1m-39 1h1m3 0h1m0 0h1m4 0h1m15 0h1m2 0h1m4 0h1m3 0h1m0 0h1m-37 1h1m1 0h1m3 0h1m21 0h1m2 0h1m1 0h1m0 0h1m0 0h1m-38 1h1m5 0h1m25 0h1m0 0h1m2 0h1m0 0h1m-39 1h1m1 0h1m34 0h1m5 0h1m-45 1h1m31 0h1m0 0h1m2 0h1m-39 1h1m1 0h1m30 0h1m4 0h1m2 0h1m-40 1h1m0 0h1m34 0h1m2 0h1m0 0h1m0 0h1m-46 1h1m2 0h1m0 0h1m34 0h1m-37 1h1m35 0h1m0 0h1m0 0h1m-43 1h1m2 0h1m0 0h1m38 0h1m-5 1h1m1 0h1m4 0h1m-50 1h1m1 0h1m0 0h1m3 0h1m39 0h1m0 0h1m1 0h1m2 0h1m-53 1h1m4 0h1m0 0h1m41 0h1m-46 1h1m2 0h1m36 0h1m-43 1h1m0 0h1m1 0h1m39 0h1m0 0h1m1 0h1m1 0h1m-48 1h1m0 0h1m42 0h1m-48 1h1m2 0h1m0 0h1m35 0h1m1 0h1m1 0h1m2 0h1m-47 1h1m2 0h1m36 0h1m2 0h1m-41 1h1m0 0h1m0 0h1m40 0h1m-52 1h1m5 0h1m1 0h1m38 0h1m3 0h1m-50 1h1m3 0h1m41 0h1m-44 1h1m1 0h1m2 0h1m0 0h1m34 0h1m-40 1h1m1 0h1m34 0h1m-42 1h1m0 0h1m1 0h1m2 0h1m36 0h1m-46 1h1m4 0h1m32 0h1m5 0h1m1 0h1m1 0h1m0 0h1m-49 1h1m4 0h1m3 0h1m0 0h1m31 0h1m0 0h1m2 0h1m1 0h1m-51 1h1m7 0h1m1 0h1m0 0h1m1 0h1m27 0h1m0 0h1m1 0h1m-44 1h1m0 0h1m2 0h1m8 0h1m1 0h1m5 0h1m17 0h1m1 0h1m1 0h1m-40 1h1m3 0h1m1 0h1m13 0h1m13 0h1m0 0h1m2 0h1m0 0h1m-40 1h1m0 0h1m2 0h1m1 0h1m2 0h1m2 0h1m10 0h1m2 0h1m6 0h1m1 0h1m1 0h1m-40 1h1m10 0h1m4 0h1m13 0h1m1 0h1m0 0h1m0 0h1m7 0h1m5 0h1m-43 1h1m0 0h1m9 0h1m12 0h1m3 0h1m2 0h1m-38 1h1m4 0h1m2 0h1m3 0h1m0 0h1m0 0h1m3 0h1m11 0h1m0 0h1m2 0h1m-36 1h1m0 0h1m0 0h1m5 0h1m5 0h1m0 0h1m0 0h1m2 0h1m1 0h1m0 0h1m6 0h1m0 0h1m1 0h1m-15 1h1m10 0h1m0 0h1m-16 1h1m2 0h1m2 0h1m3 0h1m0 0h1m0 0h1m2 0h1m-13 1h1m1 0h1m1 0h1m-13 1h1m3 0h1m3 0h1m10 2h1" stroke="#29b4a6" stroke-width="1" fill="none"/>
<path d="M582 2003.5h1m5 1h1m-8 2h1m3 0h1m0 0h1m-9 1h1m0 0h1m3 0h1m0 0h1m0 0h1m0 0h1m7 0h1m-14 1h1m1 0h1m1 0h1m0 0h1m-10 1h1m8 0h1m0 0h1m0 0h1m1 0h1m-11 1h1m3 0h1m2 0h1m2 0h1m2 0h1m-16 1h1m1 0h1m0 0h1m0 0h1m0 0h1m0 0h1m4 0h1m0 0h1m0 0h1m2 0h1m-23 1h1m6 0h1m2 0h1m0 0h1m0 0h1m3 0h1m0 0h1m0 0h1m0 0h1m-19 1h1m2 0h1m2 0h1m1 0h1m1 0h1m0 0h1m0 0h1m0 0h1m2 0h1m1 0h1m0 0h1m1 0h1m-19 1h1m0 0h1m2 0h1m1 0h1m1 0h1m4 0h1m1 0h1m2 0h1m-21 1h1m1 0h1m4 0h1m4 0h1m1 0h1m1 0h1m0 0h1m1 0h1m-14 1h1m2 0h1m1 0h1m0 0h1m1 0h1m1 0h1m-17 1h1m3 0h1m4 0h1m4 0h1m3 0h1m-20 1h1m5 0h1m1 0h1m0 0h1m4 0h1m1 0h1m4 0h1m-20 1h1m0 0h1m1 0h1m1 0h1m0 0h1m1 0h1m1 0h1m0 0h1m0 0h1m0 0h1m0 0h1m0 0h1m0 0h1m-23 1h1m1 0h1m0 0h1m1 0h1m1 0h1m0 0h1m3 0h1m0 0h1m2 0h1m0 0h1m0 0h1m0 0h1m0 0h1m4 0h1m-24 1h1m3 0h1m7 0h1m0 0h1m0 0h1m1 0h1m1 0h1m0 0h1m-13 1h1m0 0h1m0 0h1m3 0h1m2 0h1m2 0h1m2 0h1m-21 1h1m1 0h1m4 0h1m0 0h1m2 0h1m3 0h1m-17 1h1m1 0h1m1 0h1m-2 1h1m3 0h1m2 0h1m3 0h1m-4 1h1m0 0h1m7 0h1m-22 1h1m7 0h1m1 0h1m-45 82h1m12 1h1m0 0h1m6 1h1m-16 1h1m3 0h1m-5 1h1m-7 1h1m5 0h1m0 0h1m2 0h1m1 0h1m3 0h1m-20 1h1m3 0h1m6 0h1m5 0h1m9 0h1m-34 1h1m0 0h1m6 0h1m1 0h1m0 0h1m2 0h1m0 0h1m0 0h1m4 0h1m2 0h1m4 0h1m-29 1h1m1 0h1m1 0h1m1 0h1m5 0h1m3 0h1m2 0h1m11 0h1m-26 1h1m5 0h1m2 0h1m4 0h1m1 0h1m2 0h1m1 0h1m-30 1h1m0 0h1m1 0h1m7 0h1m7 0h1m0 0h1m5 0h1m2 0h1m-27 1h1m4 0h1m1 0h1m4 0h1m0 0h1m9 0h1m0 0h1m0 0h1m0 0h1m1 0h1m-35 1h1m4 0h1m0 0h1m2 0h1m2 0h1m6 0h1m3 0h1m2 0h1m1 0h1m2 0h1m0 0h1m1 0h1m-27 1h1m0 0h1m1 0h1m12 0h1m0 0h1m1 0h1m2 0h1m0 0h1m-26 1h1m0 0h1m3 0h1m17 0h1m0 0h1m1 0h1m0 0h1m0 0h1m-36 1h1m0 0h1m1 0h1m25 0h1m3 0h1m-34 1h1m1 0h1m1 0h1m6 0h1m14 0h1m1 0h1m3 0h1m1 0h1m-34 1h1m14 0h1m9 0h1m2 0h1m4 0h1m1 0h1m-35 1h1m23 0h1m0 0h1m3 0h1m1 0h1m-37 1h1m2 0h1m0 0h1m2 0h1m0 0h1m5 0h1m17 0h1m2 0h1m4 0h1m-39 1h1m2 0h1m0 0h1m20 0h1m10 0h1m0 0h1m-43 1h1m3 0h1m25 0h1m2 0h1m9 0h1m-39 1h1m1 0h1m29 0h1m0 0h1m0 0h1m0 0h1m0 0h1m1 0h1m-43 1h1m0 0h1m2 0h1m31 0h1m0 0h1m0 0h1m2 0h1m0 0h1m0 0h1m-46 1h1m5 0h1m0 0h1m30 0h1m1 0h1m3 0h1m-43 1h1m2 0h1m1 0h1m29 0h1m3 0h1m0 0h1m-39 1h1m0 0h1m1 0h1m2 0h1m25 0h1m3 0h1m0 0h1m2 0h1m-42 1h1m2 0h1m27 0h1m6 0h1m-39 1h1m4 0h1m27 0h1m-39 1h1m6 0h1m2 0h1m25 0h1m1 0h1m0 0h1m0 0h1m0 0h1m1 0h1m-41 1h1m4 0h1m2 0h1m24 0h1m3 0h1m-36 1h1m4 0h1m3 0h1m20 0h1m3 0h1m-36 1h1m0 0h1m34 0h1m-37 1h1m3 0h1m25 0h1m2 0h1m-32 1h1m0 0h1m3 0h1m20 0h1m2 0h1m2 0h1m0 0h1m1 0h1m-41 1h1m2 0h1m0 0h1m0 0h1m3 0h1m25 0h1m1 0h1m0 0h1m-40 1h1m3 0h1m1 0h1m3 0h1m21 0h1m5 0h1m-37 1h1m7 0h1m4 0h1m2 0h1m4 0h1m9 0h1m0 0h1m1 0h1m2 0h1m1 0h1m0 0h1m-36 1h1m0 0h1m6 0h1m8 0h1m3 0h1m0 0h1m0 0h1m0 0h1m2 0h1m2 0h1m1 0h1m-29 1h1m0 0h1m3 0h1m5 0h1m2 0h1m6 0h1m1 0h1m2 0h1m0 0h1m-33 1h1m1 0h1m0 0h1m1 0h1m5 0h1m0 0h1m2 0h1m1 0h1m2 0h1m1 0h1m-23 1h1m4 0h1m4 0h1m4 0h1m1 0h1m2 0h1m8 0h1m1 0h1m-28 1h1m0 0h1m3 0h1m1 0h1m1 0h1m3 0h1m0 0h1m0 0h1m0 0h1m0 0h1m2 0h1m4 0h1m-22 1h1m5 0h1m1 0h1m3 0h1m0 0h1m4 0h1m-23 1h1m5 0h1m6 0h1m0 0h1m0 0h1m-9 1h1m3 0h1m0 0h1m-11 1h1m1 0h1m12 0h1" stroke="#47c064" stroke-width="1" fill="none"/>
<path d="M584 2009.5h1m-2 1h1m4 1h1m3 0h1m-13 1h1m0 0h1m4 0h1m-7 1h1m1 0h1m7 0h1m-10 1h1m1 0h1m1 0h1m0 0h1m1 0h1m-6 1h1m0 0h1m0 0h1m1 0h1m-15 1h1m7 0h1m0 0h1m4 0h1m1 0h1m1 0h1m-8 1h1m1 0h1m-9 1h1m1 0h1m3 0h1m0 0h1m-4 1h1m-10 1h1m6 0h1m3 0h1m-8 1h1m0 0h1m0 0h1m1 0h1m-9 1h1m12 0h1m-8 1h1m-41 91h1m1 0h1m-2 1h1m0 0h1m1 0h1m5 0h1m-10 1h1m9 0h1m-14 1h1m2 0h1m3 0h1m1 0h1m5 0h1m-20 1h1m2 0h1m0 0h1m0 0h1m1 0h1m1 0h1m2 0h1m0 0h1m0 0h1m0 0h1m-15 1h1m0 0h1m0 0h1m2 0h1m0 0h1m1 0h1m1 0h1m0 0h1m2 0h1m1 0h1m0 0h1m2 0h1m2 0h1m-29 1h1m1 0h1m0 0h1m1 0h1m3 0h1m1 0h1m3 0h1m1 0h1m1 0h1m2 0h1m-18 1h1m5 0h1m0 0h1m2 0h1m0 0h1m0 0h1m1 0h1m0 0h1m3 0h1m-27 1h1m0 0h1m0 0h1m4 0h1m1 0h1m3 0h1m1 0h1m1 0h1m0 0h1m0 0h1m3 0h1m1 0h1m0 0h1m-28 1h1m1 0h1m0 0h1m2 0h1m0 0h1m2 0h1m0 0h1m0 0h1m0 0h1m2 0h1m2 0h1m1 0h1m0 0h1m0 0h1m1 0h1m3 0h1m-29 1h1m0 0h1m2 0h1m1 0h1m0 0h1m6 0h1m4 0h1m4 0h1m1 0h1m3 0h1m-34 1h1m1 0h1m1 0h1m1 0h1m0 0h1m0 0h1m4 0h1m1 0h1m1 0h1m4 0h1m5 0h1m3 0h1m3 0h1m-36 1h1m0 0h1m1 0h1m0 0h1m0 0h1m0 0h1m0 0h1m0 0h1m1 0h1m9 0h1m0 0h1m3 0h1m2 0h1m2 0h1m-33 1h1m6 0h1m8 0h1m7 0h1m3 0h1m0 0h1m1 0h1m-31 1h1m0 0h1m2 0h1m0 0h1m9 0h1m6 0h1m0 0h1m1 0h1m2 0h1m0 0h1m1 0h1m-30 1h1m21 0h1m0 0h1m0 0h1m0 0h1m0 0h1m1 0h1m0 0h1m0 0h1m-38 1h1m1 0h1m0 0h1m0 0h1m1 0h1m0 0h1m14 0h1m8 0h1m1 0h1m0 0h1m0 0h1m1 0h1m-33 1h1m4 0h1m11 0h1m6 0h1m2 0h1m6 0h1m-36 1h1m3 0h1m11 0h1m0 0h1m5 0h1m4 0h1m0 0h1m3 0h1m-38 1h1m3 0h1m0 0h1m1 0h1m0 0h1m21 0h1m0 0h1m1 0h1m3 0h1m-38 1h1m1 0h1m1 0h1m2 0h1m0 0h1m12 0h1m0 0h1m5 0h1m1 0h1m0 0h1m0 0h1m2 0h1m0 0h1m-35 1h1m1 0h1m0 0h1m19 0h1m0 0h1m0 0h1m1 0h1m1 0h1m3 0h1m3 0h1m-36 1h1m0 0h1m21 0h1m3 0h1m3 0h1m-36 1h1m1 0h1m0 0h1m3 0h1m16 0h1m4 0h1m0 0h1m-28 1h1m2 0h1m-6 1h1m5 0h1m0 0h1m0 0h1m21 0h1m-30 1h1m0 0h1m1 0h1m15 0h1m8 0h1m0 0h1m0 0h1m-31 1h1m0 0h1m4 0h1m16 0h1m2 0h1m0 0h1m0 0h1m0 0h1m0 0h1m0 0h1m-30 1h1m21 0h1m2 0h1m0 0h1m1 0h1m0 0h1m-31 1h1m3 0h1m7 0h1m5 0h1m5 0h1m0 0h1m1 0h1m-29 1h1m0 0h1m1 0h1m0 0h1m0 0h1m3 0h1m5 0h1m3 0h1m0 0h1m2 0h1m0 0h1m-24 1h1m1 0h1m0 0h1m0 0h1m0 0h1m10 0h1m0 0h1m0 0h1m0 0h1m1 0h1m0 0h1m4 0h1m0 0h1m-27 1h1m1 0h1m7 0h1m0 0h1m8 0h1m0 0h1m2 0h1m-30 1h1m2 0h1m1 0h1m1 0h1m0 0h1m2 0h1m2 0h1m0 0h1m3 0h1m0 0h1m5 0h1m-29 1h1m8 0h1m0 0h1m4 0h1m3 0h1m3 0h1m0 0h1m1 0h1m-9 1h1m2 0h1m5 0h1m-20 1h1m0 0h1m3 0h1m6 0h1m9 0h1m-28 1h1m4 0h1m9 0h1m5 0h1m-11 1h1m5 0h1m-14 1h1m10 0h1m-4 1h1" stroke="#79cc37" stroke-width="1" fill="none"/>
<path d="M589 2006.5h1m-4 4h1m-2 2h1m1 5h1m-50 100h1m0 1h1m3 0h1m-7 1h1m5 0h1m5 0h1m-14 1h1m4 0h1m5 0h1m-11 1h1m0 0h1m0 0h1m11 0h1m-15 1h1m1 0h1m1 0h1m1 0h1m3 0h1m-14 1h1m5 0h1m0 0h1m4 0h1m-22 1h1m3 0h1m0 0h1m1 0h1m2 0h1m0 0h1m0 0h1m0 0h1m0 0h1m2 0h1m0 0h1m1 0h1m1 0h1m0 0h1m0 0h1m-21 1h1m10 0h1m1 0h1m0 0h1m1 0h1m2 0h1m1 0h1m-17 1h1m2 0h1m2 0h1m1 0h1m1 0h1m2 0h1m0 0h1m2 0h1m3 0h1m-29 1h1m0 0h1m7 0h1m0 0h1m0 0h1m0 0h1m2 0h1m3 0h1m0 0h1m3 0h1m-21 1h1m0 0h1m3 0h1m2 0h1m1 0h1m2 0h1m4 0h1m1 0h1m-28 1h1m3 0h1m1 0h1m2 0h1m1 0h1m2 0h1m0 0h1m2 0h1m0 0h1m0 0h1m0 0h1m2 0h1m5 0h1m-30 1h1m2 0h1m2 0h1m2 0h1m6 0h1m1 0h1m2 0h1m1 0h1m0 0h1m-27 1h1m8 0h1m4 0h1m0 0h1m0 0h1m0 0h1m3 0h1m0 0h1m0 0h1m3 0h1m-25 1h1m0 0h1m4 0h1m0 0h1m5 0h1m4 0h1m0 0h1m2 0h1m0 0h1m1 0h1m-26 1h1m2 0h1m8 0h1m0 0h1m6 0h1m0 0h1m0 0h1m0 0h1m-25 1h1m0 0h1m7 0h1m4 0h1m4 0h1m4 0h1m4 0h1m-28 1h1m0 0h1m1 0h1m0 0h1m6 0h1m0 0h1m0 0h1m0 0h1m2 0h1m3 0h1m5 0h1m-32 1h1m2 0h1m1 0h1m2 0h1m0 0h1m6 0h1m0 0h1m0 0h1m-16 1h1m1 0h1m0 0h1m0 0h1m8 0h1m11 0h1m-27 1h1m2 0h1m0 0h1m6 0h1m6 0h1m2 0h1m1 0h1m0 0h1m1 0h1m-28 1h1m5 0h1m1 0h1m0 0h1m0 0h1m0 0h1m4 0h1m0 0h1m1 0h1m0 0h1m2 0h1m0 0h1m0 0h1m2 0h1m0 0h1m-34 1h1m9 0h1m2 0h1m1 0h1m0 0h1m11 0h1m-25 1h1m5 0h1m0 0h1m0 0h1m2 0h1m1 0h1m0 0h1m8 0h1m-25 1h1m1 0h1m0 0h1m2 0h1m5 0h1m0 0h1m1 0h1m0 0h1m0 0h1m0 0h1m0 0h1m0 0h1m0 0h1m-21 1h1m1 0h1m4 0h1m1 0h1m0 0h1m2 0h1m0 0h1m0 0h1m2 0h1m0 0h1m1 0h1m-17 1h1m2 0h1m2 0h1m0 0h1m1 0h1m0 0h1m4 0h1m3 0h1m-20 1h1m0 0h1m0 0h1m0 0h1m0 0h1m0 0h1m2 0h1m0 0h1m4 0h1m3 0h1m-22 1h1m1 0h1m1 0h1m2 0h1m0 0h1m4 0h1m0 0h1m1 0h1m0 0h1m-14 1h1m2 0h1m2 0h1m0 0h1m-7 1h1m0 0h1m5 0h1m-10 1h1m0 0h1m2 0h1m0 0h1m1 1h1m-9 1h1m5 0h1" stroke="#c8d82b" stroke-width="1" fill="none"/>
<path d="M538 2122.5h1m11 1h1m-11 1h1m3 0h1m-10 1h1m11 0h1m-12 1h1m1 0h1m2 0h1m1 0h1m-15 1h1m0 0h1m2 0h1m0 0h1m0 0h1m5 0h1m3 0h1m-13 1h1m4 0h1m3 0h1m0 0h1m1 0h1m0 0h1m-16 1h1m0 0h1m1 0h1m1 0h1m0 0h1m2 0h1m0 0h1m4 0h1m-18 1h1m0 0h1m1 0h1m2 0h1m1 0h1m0 0h1m0 0h1m0 0h1m3 0h1m0 0h1m-19 1h1m1 0h1m1 0h1m1 0h1m0 0h1m0 0h1m0 0h1m4 0h1m1 0h1m3 0h1m-19 1h1m0 0h1m0 0h1m3 0h1m1 0h1m0 0h1m3 0h1m3 0h1m3 0h1m-21 1h1m0 0h1m1 0h1m0 0h1m0 0h1m0 0h1m0 0h1m2 0h1m0 0h1m0 0h1m0 0h1m0 0h1m0 0h1m6 0h1m-24 1h1m0 0h1m0 0h1m0 0h1m0 0h1m1 0h1m4 0h1m4 0h1m0 0h1m0 0h1m-19 1h1m2 0h1m0 0h1m0 0h1m0 0h1m1 0h1m5 0h1m-17 1h1m5 0h1m1 0h1m0 0h1m5 0h1m0 0h1m0 0h1m0 0h1m0 0h1m1 0h1m0 0h1m-17 1h1m1 0h1m0 0h1m0 0h1m2 0h1m1 0h1m0 0h1m2 0h1m0 0h1m0 0h1m-22 1h1m2 0h1m1 0h1m0 0h1m0 0h1m0 0h1m2 0h1m1 0h1m3 0h1m0 0h1m1 0h1m-12 1h1m0 0h1m0 0h1m0 0h1m2 0h1m3 0h1m-21 1h1m4 0h1m2 0h1m2 0h1m0 0h1m0 0h1m0 0h1m1 0h1m0 0h1m2 0h1m0 0h1m-22 1h1m0 0h1m1 0h1m4 0h1m1 0h1m2 0h1m1 0h1m0 0h1m3 0h1m-20 1h1m2 0h1m0 0h1m0 0h1m0 0h1m0 0h1m2 0h1m7 0h1m1 0h1m-19 1h1m0 0h1m1 0h1m3 0h1m3 0h1m3 0h1m-17 1h1m4 0h1m0 0h1m8 0h1m-9 1h1m-5 1h1m6 0h1m5 0h1" stroke="#e6b222" stroke-width="1" fill="none"/>
<path d="M537 2128.5h1m-12 3h1m5 2h1m3 1h1m0 0h1m0 0h1m4 0h1m-8 1h1m5 0h1m-14 1h1m0 0h1m3 0h1m2 0h1m-6 1h1m5 0h1m2 0h1m3 0h1m-15 1h1m9 0h1m0 0h1m2 1h1m-17 1h1m3 1h1m6 0h1m2 0h1m0 0h1" stroke="#eb731e" stroke-width="1" fill="none"/>
<path d="M534 2132.5h1m2 6h1" stroke="#dc281e" stroke-width="1" fill="none"/>
<rect x="451.8" y="1931.1" width="232" height="230.5" fill="none" stroke="#111" stroke-width="1.3"/>
<line x1="572.6" y1="1931.1" x2="572.6" y2="2161.6" stroke="#111" stroke-width="1.1"/>
<line x1="451.8" y1="2098.6" x2="683.8" y2="2098.6" stroke="#111" stroke-width="1.1"/>
<path d="M445.8 2161.6H451.8M451.8 2161.6V2167.6M448.8 2144.3H451.8M469.3 2161.6V2164.6M448.8 2134.1H451.8M479.5 2161.6V2164.6M448.8 2126.9H451.8M486.7 2161.6V2164.6M448.8 2121.3H451.8M492.3 2161.6V2164.6M448.8 2116.8H451.8M496.9 2161.6V2164.6M448.8 2112.9H451.8M500.8 2161.6V2164.6M448.8 2109.6H451.8M504.2 2161.6V2164.6M448.8 2106.6H451.8M507.1 2161.6V2164.6M445.8 2104H451.8M509.8 2161.6V2167.6M448.8 2086.7H451.8M527.3 2161.6V2164.6M448.8 2076.5H451.8M537.5 2161.6V2164.6M448.8 2069.3H451.8M544.7 2161.6V2164.6M448.8 2063.7H451.8M550.3 2161.6V2164.6M448.8 2059.2H451.8M554.9 2161.6V2164.6M448.8 2055.3H451.8M558.8 2161.6V2164.6M448.8 2052H451.8M562.2 2161.6V2164.6M448.8 2049H451.8M565.1 2161.6V2164.6M445.8 2046.4H451.8M567.8 2161.6V2167.6M448.8 2029.1H451.8M585.3 2161.6V2164.6M448.8 2018.9H451.8M595.5 2161.6V2164.6M448.8 2011.7H451.8M602.7 2161.6V2164.6M448.8 2006.1H451.8M608.3 2161.6V2164.6M448.8 2001.6H451.8M612.9 2161.6V2164.6M448.8 1997.7H451.8M616.8 2161.6V2164.6M448.8 1994.4H451.8M620.2 2161.6V2164.6M448.8 1991.4H451.8M623.1 2161.6V2164.6M445.8 1988.8H451.8M625.8 2161.6V2167.6M448.8 1971.5H451.8M643.3 2161.6V2164.6M448.8 1961.3H451.8M653.5 2161.6V2164.6M448.8 1954.1H451.8M660.7 2161.6V2164.6M448.8 1948.5H451.8M666.3 2161.6V2164.6M448.8 1944H451.8M670.9 2161.6V2164.6M448.8 1940.1H451.8M674.8 2161.6V2164.6M448.8 1936.8H451.8M678.2 2161.6V2164.6M448.8 1933.8H451.8M681.1 2161.6V2164.6M445.8 1931.2H451.8M683.8 2161.6V2167.6" stroke="#111" stroke-width="1"/>
<text x="423.3" y="2161.9" font-size="12" textLength="11" lengthAdjust="spacingAndGlyphs" fill="#222">10</text>
<text x="435.5" y="2153.4" font-size="9" fill="#222">0</text>
<text x="455.1" y="2185.4" font-size="12" textLength="12.5" lengthAdjust="spacingAndGlyphs" fill="#222">10</text>
<text x="468.4" y="2177.1" font-size="9" fill="#222">0</text>
<text x="423.3" y="2104.3" font-size="12" textLength="11" lengthAdjust="spacingAndGlyphs" fill="#222">10</text>
<text x="435.5" y="2095.8" font-size="9" fill="#222">1</text>
<text x="503.8" y="2185.4" font-size="12" textLength="12.5" lengthAdjust="spacingAndGlyphs" fill="#222">10</text>
<text x="517.1" y="2177.1" font-size="9" fill="#222">1</text>
<text x="423.3" y="2046.7" font-size="12" textLength="11" lengthAdjust="spacingAndGlyphs" fill="#222">10</text>
<text x="435.5" y="2038.2" font-size="9" fill="#222">2</text>
<text x="561.8" y="2185.4" font-size="12" textLength="12.5" lengthAdjust="spacingAndGlyphs" fill="#222">10</text>
<text x="575.1" y="2177.1" font-size="9" fill="#222">2</text>
<text x="423.3" y="1989.1" font-size="12" textLength="11" lengthAdjust="spacingAndGlyphs" fill="#222">10</text>
<text x="435.5" y="1980.6" font-size="9" fill="#222">3</text>
<text x="619.8" y="2185.4" font-size="12" textLength="12.5" lengthAdjust="spacingAndGlyphs" fill="#222">10</text>
<text x="633.1" y="2177.1" font-size="9" fill="#222">3</text>
<text x="423.3" y="1951.6" font-size="12" textLength="11" lengthAdjust="spacingAndGlyphs" fill="#222">10</text>
<text x="435.5" y="1943.1" font-size="9" fill="#222">4</text>
<text x="677.8" y="2185.4" font-size="12" textLength="12.5" lengthAdjust="spacingAndGlyphs" fill="#222">10</text>
<text x="691.1" y="2177.1" font-size="9" fill="#222">4</text>
<text x="456.6" y="1944.3" font-size="11" fill="#222">Q1</text>
<text x="456.6" y="1960.9" font-size="11" fill="#222">10.5%</text>
<text x="648.3" y="1944.3" font-size="11" fill="#222">Q2</text>
<text x="648.3" y="1960.9" font-size="11" fill="#222">19.8%</text>
<text x="456.6" y="2142.1" font-size="11" fill="#222">Q4</text>
<text x="456.6" y="2158.6" font-size="11" fill="#222">65.0%</text>
<text x="648.3" y="2142.1" font-size="11" fill="#222">Q3</text>
<text x="648.3" y="2158.6" font-size="11" fill="#222">4.70%</text>
<path d="M304 2227.5h1m14 4h1m-5 10h1m-19 2h1m31 0h1m-9 1h1m-34 5h1m-10 2h1m43 2h1m-1 2h1m-82 1h1m61 1h1m24 0h1m-92 1h1m71 0h1m15 0h1m11 2h1m51 0h1m-102 1h1m25 0h1m16 0h1m8 0h1m-113 1h1m21 0h1m64 1h1m2 0h1m3 0h1m-7 1h1m46 2h1m5 0h1m-113 1h1m33 1h1m59 0h1m-63 1h1m20 0h1m38 0h1m-94 1h1m12 0h1m23 0h1m14 0h1m-44 1h1m3 0h1m31 0h1m47 0h1m-82 1h1m18 0h1m15 0h1m-8 1h1m12 0h1m60 0h1m-20 2h1m5 0h1m-119 1h1m38 0h1m-45 1h1m57 0h1m-39 1h1m23 0h1m0 0h1m7 0h1m37 1h1m26 0h1m12 1h1m-140 1h1m20 0h1m21 0h1m7 0h1m2 0h1m4 0h1m5 0h1m-41 1h1m22 1h1m1 0h1m36 0h1m-52 1h1m7 0h1m20 0h1m3 0h1m64 0h1m-99 1h1m16 0h1m4 0h1m11 0h1m-51 1h1m68 0h1m60 0h1m-118 1h1m92 0h1m2 0h1m-105 1h1m14 0h1m-18 1h1m4 0h1m1 0h1m25 0h1m55 0h1m-66 2h1m-1 1h1m7 0h1m-22 1h1m16 0h1m1 0h1m-20 1h1m17 0h1m5 0h1m67 0h1m-97 1h1m1 0h1m19 0h1m5 0h1m73 0h1m-97 1h1m11 0h1m-20 1h1m-13 1h1m7 0h1m1 0h1m21 0h1m76 0h1m-117 1h1m26 0h1m2 0h1m50 0h1m-67 1h1m8 0h1m7 0h1m7 0h1m42 0h1m28 0h1m20 0h1m-98 1h1m44 0h1m37 0h1m-104 1h1m7 0h1m12 0h1m71 0h1m-81 1h1m-8 1h1m119 0h1m-111 1h1m80 0h1m16 0h1m5 1h1m-106 1h1m75 0h1m5 0h1m-109 1h1m-9 1h1m11 0h1m10 0h1m92 0h1m-103 1h1m93 0h1m6 0h1m-113 1h1m25 0h1m103 0h1m10 0h1m-140 1h1m4 0h1m17 0h1m-18 1h1m8 0h1m7 0h1m-15 1h1m4 0h1m-30 1h1m8 0h1m16 0h1m1 0h1m72 0h1m5 0h1m-76 1h1m80 0h1m-112 1h1m98 0h1m6 0h1m17 0h1m11 0h1m-136 2h1m9 0h1m11 0h1m81 0h1m4 0h1m-87 1h1m-40 1h1m38 0h1m0 0h1m114 0h1m-32 1h1m5 0h1m2 0h1m5 0h1m-107 1h1m10 0h1m78 0h1m-90 1h1m1 0h1m90 0h1m5 0h1m1 0h1m24 0h1m-195 1h1m66 0h1m89 0h1m-102 1h1m4 0h1m12 0h1m78 0h1m8 0h1m6 0h1m1 0h1m18 0h1m-114 1h1m91 0h1m7 0h1m-131 1h1m6 0h1m4 0h1m1 0h1m8 0h1m89 0h1m-119 1h1m14 0h1m6 0h1m107 0h1m-166 1h1m164 0h1m10 0h1m-18 1h1m8 0h1m-122 1h1m8 0h1m96 0h1m16 0h1m-119 1h1m3 0h1m96 0h1m8 0h1m14 0h1m-25 1h1m13 1h1m-118 1h1m8 1h1m90 0h1m52 0h1m-155 1h1m113 0h1m0 0h1m22 0h1m-36 1h1m15 0h1m23 0h1m-153 1h1m4 0h1m132 0h1m0 1h1m-126 1h1m1 0h1m1 0h1m82 0h1m9 0h1m5 0h1m3 0h1m20 0h1m-24 1h1m6 0h1m4 0h1m-19 1h1m17 0h1m-120 1h1m47 0h1m43 0h1m18 0h1m14 1h1m-176 1h1m53 0h1m42 0h1m63 0h1m-113 1h1m96 0h1m2 0h1m8 0h1m7 0h1m-135 1h1m14 1h1m90 0h1m18 0h1m19 0h1m-150 1h1m109 0h1m16 0h1m18 0h1m-133 1h1m5 0h1m4 0h1m89 0h1m-89 1h1m90 0h1m4 1h1m1 0h1m5 0h1m-106 1h1m97 0h1m-113 2h1m0 0h1m98 0h1m43 0h1m-37 1h1m33 0h1m-166 1h1m31 0h1m143 0h1m-56 1h1m16 0h1m2 0h1m-63 1h1m40 1h1m5 0h1m-91 1h1m107 0h1m-136 1h1m7 0h1m17 0h1m135 0h1m-27 1h1m11 0h1m-20 1h1m-124 1h1m5 0h1m118 0h1m22 0h1m-170 1h1m164 0h1m-145 1h1m0 0h1m137 0h1m-126 1h1m92 0h1m-104 1h1m103 0h1m3 0h1m0 0h1m-12 1h1m0 0h1m-51 1h1m51 0h1m28 0h1m13 0h1m-168 3h1m148 0h1m13 0h1m-15 2h1m-29 2h1m28 0h1m-142 1h1m29 0h1m94 0h1m-124 1h1m112 0h1m20 0h1m-25 1h1m3 0h1m7 0h1m-16 2h1m-109 1h1m108 0h1m1 1h1m32 1h1m-154 1h1m117 0h1m-23 1h1m39 0h1m-149 1h1m34 0h1m95 0h1m1 0h1m-100 1h1m98 0h1m4 2h1m15 0h1m-26 1h1m46 0h1m-145 1h1m100 0h1m-125 1h1m122 0h1m-102 1h1m-26 3h1m-2 1h1m129 0h1m1 0h1m8 0h1m-13 1h1m-22 1h1m14 0h1m13 0h1m-134 1h1m116 0h1m4 1h1m-125 1h1m100 0h1m19 0h1m5 0h1m-10 1h1m5 1h1m-136 1h1m10 0h1m-4 1h1m2 1h1m118 1h1m7 0h1m-134 1h1m4 0h1m120 0h1m8 0h1m-138 1h1m7 1h1m116 0h1m-118 2h1m15 0h1m-27 1h1m129 0h1m0 1h1m13 0h1m-134 2h1m-9 1h1m122 0h1m4 1h1m-126 1h1m2 1h1m-21 1h1m21 2h1m20 0h1m-21 1h1m5 0h1m24 0h1m78 0h1" stroke="#232d96" stroke-width="1" fill="none"/>
<path d="M326 2265.5h1m7 0h1m-12 1h1m3 0h1m6 0h1m-4 1h1m0 0h1m1 0h1m-9 1h1m5 0h1m1 0h1m-10 1h1m7 0h1m2 0h1m-21 1h1m3 0h1m1 0h1m0 0h1m1 0h1m1 0h1m1 0h1m7 0h1m2 0h1m0 0h1m4 0h1m-25 1h1m2 0h1m1 0h1m9 0h1m-22 1h1m16 0h1m11 0h1m1 0h1m-33 1h1m5 0h1m0 0h1m2 0h1m10 0h1m5 0h1m1 0h1m2 0h1m-38 1h1m10 0h1m18 0h1m3 0h1m4 1h1m0 0h1m-52 1h1m21 0h1m0 0h1m1 0h1m0 0h1m6 0h1m3 0h1m7 0h1m5 0h1m-53 1h1m0 0h1m4 0h1m15 0h1m20 0h1m3 0h1m-48 1h1m8 0h1m8 0h1m4 0h1m2 0h1m8 0h1m4 0h1m3 0h1m0 0h1m1 0h1m-48 1h1m0 0h1m3 0h1m7 0h1m2 0h1m0 0h1m8 0h1m21 0h1m-43 1h1m1 0h1m2 0h1m3 0h1m29 0h1m3 0h1m-43 1h1m0 0h1m0 0h1m2 0h1m1 0h1m3 0h1m5 0h1m18 0h1m6 0h1m-39 1h1m29 0h1m5 0h1m-38 1h1m0 0h1m34 0h1m0 0h1m-41 1h1m2 0h1m38 0h1m0 0h1m-60 1h1m15 0h1m2 0h1m29 0h1m1 0h1m2 0h1m-57 1h1m17 0h1m0 0h1m5 0h1m21 0h1m7 0h1m-56 1h1m1 0h1m16 0h1m4 0h1m6 0h1m16 0h1m2 0h1m5 0h1m2 0h1m-52 1h1m16 0h1m4 0h1m12 0h1m14 0h1m2 0h1m-66 1h1m6 0h1m1 0h1m11 0h1m0 0h1m5 0h1m4 0h1m16 0h1m10 0h1m1 0h1m0 0h1m-53 1h1m4 0h1m37 0h1m4 0h1m-55 1h1m8 0h1m42 0h1m3 0h1m-61 1h1m4 0h1m7 0h1m3 0h1m4 0h1m32 0h1m-53 1h1m3 0h1m2 0h1m1 0h1m2 0h1m2 0h1m0 0h1m1 0h1m1 0h1m1 0h1m0 0h1m17 0h1m9 0h1m4 0h1m-49 1h1m0 0h1m8 0h1m0 0h1m18 0h1m9 0h1m2 0h1m4 0h1m2 0h1m-59 1h1m3 0h1m7 0h1m0 0h1m11 0h1m32 0h1m-52 1h1m0 0h1m0 0h1m3 0h1m2 0h1m0 0h1m30 0h1m3 0h1m2 0h1m-51 1h1m9 0h1m0 0h1m1 0h1m3 0h1m6 0h1m15 0h1m5 0h1m4 0h1m-55 1h1m2 0h1m1 0h1m0 0h1m1 0h1m26 0h1m-35 1h1m8 0h1m0 0h1m2 0h1m2 0h1m10 0h1m16 0h1m3 0h1m0 0h1m-55 1h1m10 0h1m1 0h1m0 0h1m3 0h1m0 0h1m0 0h1m1 0h1m6 0h1m3 0h1m5 0h1m0 0h1m0 0h1m5 0h1m0 0h1m4 0h1m-50 1h1m5 0h1m2 0h1m7 0h1m4 0h1m5 0h1m2 0h1m5 0h1m3 0h1m3 0h1m-56 1h1m15 0h1m1 0h1m0 0h1m1 0h1m7 0h1m4 0h1m6 0h1m8 0h1m0 0h1m-55 1h1m8 0h1m1 0h1m2 0h1m9 0h1m4 0h1m3 0h1m4 0h1m12 0h1m1 0h1m2 0h1m-55 1h1m0 0h1m6 0h1m15 0h1m0 0h1m0 0h1m3 0h1m-29 1h1m0 0h1m1 0h1m0 0h1m12 0h1m5 0h1m6 0h1m8 0h1m10 0h1m2 0h1m-66 1h1m1 0h1m0 0h1m1 0h1m25 0h1m6 0h1m1 0h1m3 0h1m0 0h1m3 0h1m1 0h1m0 0h1m3 0h1m3 0h1m2 0h1m-58 1h1m0 0h1m3 0h1m4 0h1m9 0h1m0 0h1m3 0h1m0 0h1m5 0h1m7 0h1m0 0h1m0 0h1m3 0h1m4 0h1m7 0h1m-59 1h1m3 0h1m3 0h1m3 0h1m5 0h1m8 0h1m5 0h1m0 0h1m2 0h1m0 0h1m2 0h1m1 0h1m7 0h1m2 0h1m0 0h1m-63 1h1m2 0h1m8 0h1m0 0h1m0 0h1m6 0h1m7 0h1m4 0h1m3 0h1m3 0h1m20 0h1m-66 1h1m8 0h1m2 0h1m7 0h1m0 0h1m0 0h1m20 0h1m11 0h1m2 0h1m4 0h1m-62 1h1m8 0h1m4 0h1m3 0h1m2 0h1m0 0h1m3 0h1m14 0h1m0 0h1m1 0h1m2 0h1m0 0h1m8 0h1m-61 1h1m9 0h1m1 0h1m4 0h1m1 0h1m1 0h1m17 0h1m2 0h1m5 0h1m0 0h1m-52 1h1m6 0h1m2 0h1m6 0h1m2 0h1m1 0h1m2 0h1m0 0h1m2 0h1m5 0h1m5 0h1m0 0h1m0 0h1m-38 1h1m9 0h1m4 0h1m1 0h1m2 0h1m1 0h1m0 0h1m4 0h1m0 0h1m4 0h1m2 0h1m8 0h1m0 0h1m2 0h1m-65 1h1m27 0h1m11 0h1m5 0h1m6 0h1m4 0h1m-55 1h1m1 0h1m13 0h1m1 0h1m0 0h1m1 0h1m9 0h1m6 0h1m18 0h1m-61 1h1m9 0h1m9 0h1m6 0h1m0 0h1m0 0h1m2 0h1m6 0h1m0 0h1m4 0h1m0 0h1m6 0h1m0 0h1m1 0h1m2 0h1m-56 1h1m8 0h1m0 0h1m1 0h1m2 0h1m0 0h1m4 0h1m0 0h1m0 0h1m5 0h1m0 0h1m0 0h1m11 0h1m0 0h1m0 0h1m3 0h1m0 0h1m2 0h1m1 0h1m-60 1h1m9 0h1m6 0h1m4 0h1m1 0h1m6 0h1m0 0h1m3 0h1m3 0h1m2 0h1m2 0h1m9 0h1m-55 1h1m6 0h1m0 0h1m4 0h1m3 0h1m0 0h1m2 0h1m15 0h1m2 0h1m2 0h1m3 0h1m6 0h1m-56 1h1m10 0h1m0 0h1m6 0h1m3 0h1m0 0h1m2 0h1m3 0h1m7 0h1m2 0h1m0 0h1m4 0h1m2 0h1m0 0h1m6 0h1m-59 1h1m17 0h1m1 0h1m2 0h1m0 0h1m9 0h1m0 0h1m7 0h1m3 0h1m1 0h1m4 0h1m-54 1h1m11 0h1m0 0h1m1 0h1m7 0h1m2 0h1m2 0h1m0 0h1m7 0h1m5 0h1m0 0h1m3 0h1m1 0h1m0 0h1m2 0h1m-61 1h1m10 0h1m9 0h1m1 0h1m3 0h1m5 0h1m11 0h1m2 0h1m1 0h1m9 0h1m0 0h1m3 0h1m-63 1h1m1 0h1m15 0h1m3 0h1m0 0h1m11 0h1m0 0h1m1 0h1m1 0h1m1 0h1m13 0h1m-54 1h1m0 0h1m9 0h1m0 0h1m1 0h1m2 0h1m3 0h1m0 0h1m1 0h1m0 0h1m2 0h1m2 0h1m4 0h1m0 0h1m3 0h1m3 0h1m1 0h1m0 0h1m0 0h1m6 0h1m3 0h1m-64 1h1m11 0h1m1 0h1m6 0h1m0 0h1m0 0h1m6 0h1m1 0h1m3 0h1m0 0h1m2 0h1m7 0h1m2 0h1m-60 1h1m5 0h1m0 0h1m4 0h1m1 0h1m6 0h1m3 0h1m6 0h1m1 0h1m5 0h1m0 0h1m3 0h1m9 0h1m1 0h1m11 0h1m0 0h1m2 0h1m-66 1h1m1 0h1m16 0h1m3 0h1m0 0h1m0 0h1m7 0h1m5 0h1m6 0h1m25 0h1m0 0h1m-86 1h1m16 0h1m4 0h1m3 0h1m6 0h1m1 0h1m0 0h1m12 0h1m3 0h1m11 0h1m7 0h1m2 0h1m0 0h1m5 0h1m-70 1h1m11 0h1m6 0h1m1 0h1m9 0h1m0 0h1m5 0h1m13 0h1m2 0h1m10 0h1m1 0h1m4 0h1m-84 1h1m12 0h1m0 0h1m2 0h1m20 0h1m0 0h1m1 0h1m1 0h1m2 0h1m1 0h1m1 0h1m8 0h1m1 0h1m6 0h1m0 0h1m4 0h1m1 0h1m3 0h1m-82 1h1m10 0h1m4 0h1m1 0h1m1 0h1m0 0h1m3 0h1m2 0h1m10 0h1m2 0h1m0 0h1m8 0h1m9 0h1m2 0h1m6 0h1m-75 1h1m5 0h1m2 0h1m7 0h1m0 0h1m1 0h1m1 0h1m23 0h1m4 0h1m7 0h1m2 0h1m2 0h1m11 0h1m0 0h1m-82 1h1m1 0h1m0 0h1m3 0h1m5 0h1m12 0h1m3 0h1m0 0h1m0 0h1m15 0h1m2 0h1m0 0h1m6 0h1m10 0h1m2 0h1m2 0h1m-74 1h1m4 0h1m1 0h1m4 0h1m3 0h1m5 0h1m21 0h1m8 0h1m2 0h1m1 0h1m6 0h1m0 0h1m10 0h1m-71 1h1m3 0h1m0 0h1m2 0h1m1 0h1m2 0h1m2 0h1m4 0h1m21 0h1m1 0h1m1 0h1m4 0h1m0 0h1m6 0h1m-67 1h1m6 0h1m0 0h1m1 0h1m0 0h1m0 0h1m0 0h1m0 0h1m1 0h1m3 0h1m2 0h1m0 0h1m1 0h1m17 0h1m1 0h1m0 0h1m4 0h1m1 0h1m2 0h1m5 0h1m4 0h1m1 0h1m-73 1h1m9 0h1m0 0h1m2 0h1m9 0h1m2 0h1m21 0h1m2 0h1m3 0h1m3 0h1m2 0h1m3 0h1m4 0h1m2 0h1m-76 1h1m11 0h1m2 0h1m5 0h1m3 0h1m3 0h1m22 0h1m1 0h1m0 0h1m9 0h1m7 0h1m-79 1h1m7 0h1m5 0h1m6 0h1m0 0h1m2 0h1m3 0h1m0 0h1m2 0h1m17 0h1m0 0h1m2 0h1m7 0h1m1 0h1m-65 1h1m9 0h1m5 0h1m4 0h1m2 0h1m2 0h1m2 0h1m0 0h1m15 0h1m1 0h1m2 0h1m1 0h1m0 0h1m3 0h1m6 0h1m1 0h1m4 0h1m-72 1h1m2 0h1m4 0h1m3 0h1m1 0h1m6 0h1m3 0h1m0 0h1m18 0h1m1 0h1m5 0h1m1 0h1m1 0h1m0 0h1m1 0h1m0 0h1m1 0h1m0 0h1m1 0h1m9 0h1m-59 1h1m3 0h1m0 0h1m4 0h1m17 0h1m1 0h1m4 0h1m0 0h1m3 0h1m0 0h1m0 0h1m2 0h1m0 0h1m0 0h1m0 0h1m3 0h1m-76 1h1m6 0h1m0 0h1m5 0h1m6 0h1m5 0h1m0 0h1m6 0h1m0 0h1m0 0h1m16 0h1m2 0h1m5 0h1m5 0h1m5 0h1m5 0h1m16 0h1m-99 1h1m11 0h1m0 0h1m5 0h1m4 0h1m3 0h1m0 0h1m1 0h1m22 0h1m4 0h1m1 0h1m0 0h1m0 0h1m10 0h1m0 0h1m-69 1h1m4 0h1m7 0h1m0 0h1m12 0h1m6 0h1m10 0h1m2 0h1m0 0h1m0 0h1m1 0h1m3 0h1m15 0h1m1 0h1m13 0h1m0 0h1m0 0h1m-92 1h1m4 0h1m5 0h1m1 0h1m0 0h1m4 0h1m2 0h1m8 0h1m4 0h1m0 0h1m10 0h1m5 0h1m0 0h1m0 0h1m4 0h1m1 0h1m2 0h1m2 0h1m1 0h1m2 0h1m16 0h1m-97 1h1m3 0h1m2 0h1m0 0h1m1 0h1m9 0h1m1 0h1m0 0h1m3 0h1m21 0h1m0 0h1m3 0h1m2 0h1m1 0h1m3 0h1m2 0h1m3 0h1m3 0h1m19 0h1m-87 1h1m1 0h1m14 0h1m2 0h1m2 0h1m1 0h1m0 0h1m0 0h1m3 0h1m10 0h1m2 0h1m0 0h1m5 0h1m0 0h1m6 0h1m2 0h1m-60 1h1m3 0h1m1 0h1m1 0h1m5 0h1m0 0h1m3 0h1m17 0h1m0 0h1m4 0h1m5 0h1m-59 1h1m7 0h1m1 0h1m9 0h1m3 0h1m2 0h1m0 0h1m2 0h1m4 0h1m12 0h1m0 0h1m3 0h1m7 0h1m5 0h1m3 0h1m-71 1h1m5 0h1m1 0h1m9 0h1m1 0h1m2 0h1m1 0h1m2 0h1m8 0h1m0 0h1m7 0h1m4 0h1m0 0h1m1 0h1m0 0h1m3 0h1m11 0h1m-69 1h1m9 0h1m3 0h1m3 0h1m3 0h1m0 0h1m11 0h1m5 0h1m0 0h1m0 0h1m7 0h1m3 0h1m0 0h1m2 0h1m12 0h1m-78 1h1m10 0h1m10 0h1m1 0h1m4 0h1m6 0h1m9 0h1m5 0h1m3 0h1m0 0h1m1 0h1m4 0h1m1 0h1m9 0h1m0 0h1m-75 1h1m5 0h1m0 0h1m9 0h1m5 0h1m2 0h1m3 0h1m13 0h1m3 0h1m14 0h1m1 0h1m0 0h1m5 0h1m-64 1h1m1 0h1m2 0h1m2 0h1m5 0h1m0 0h1m9 0h1m8 0h1m2 0h1m0 0h1m14 0h1m1 0h1m-68 1h1m0 0h1m6 0h1m3 0h1m8 0h1m1 0h1m3 0h1m15 0h1m0 0h1m3 0h1m0 0h1m0 0h1m2 0h1m2 0h1m0 0h1m10 0h1m4 0h1m-72 1h1m1 0h1m8 0h1m7 0h1m3 0h1m7 0h1m14 0h1m1 0h1m2 0h1m0 0h1m1 0h1m19 0h1m-74 1h1m0 0h1m5 0h1m2 0h1m6 0h1m2 0h1m3 0h1m0 0h1m9 0h1m5 0h1m0 0h1m6 0h1m3 0h1m1 0h1m0 0h1m-64 1h1m2 0h1m2 0h1m6 0h1m1 0h1m5 0h1m3 0h1m0 0h1m1 0h1m2 0h1m23 0h1m1 0h1m1 0h1m2 0h1m-55 1h1m3 0h1m2 0h1m2 0h1m0 0h1m7 0h1m20 0h1m8 0h1m12 0h1m4 0h1m-74 1h1m8 0h1m4 0h1m1 0h1m1 0h1m1 0h1m0 0h1m3 0h1m11 0h1m8 0h1m0 0h1m4 0h1m1 0h1m4 0h1m1 0h1m2 0h1m6 0h1m1 0h1m-77 1h1m11 0h1m7 0h1m2 0h1m5 0h1m2 0h1m19 0h1m9 0h1m8 0h1m6 0h1m-70 1h1m6 0h1m2 0h1m3 0h1m1 0h1m1 0h1m0 0h1m0 0h1m7 0h1m0 0h1m13 0h1m0 0h1m13 0h1m3 0h1m3 0h1m1 0h1m-67 1h1m2 0h1m0 0h1m9 0h1m7 0h1m8 0h1m2 0h1m7 0h1m1 0h1m0 0h1m1 0h1m2 0h1m4 0h1m1 0h1m2 0h1m2 0h1m-71 1h1m9 0h1m1 0h1m10 0h1m4 0h1m22 0h1m1 0h1m0 0h1m3 0h1m2 0h1m4 0h1m7 0h1m-67 1h1m0 0h1m0 0h1m7 0h1m14 0h1m8 0h1m5 0h1m1 0h1m7 0h1m2 0h1m3 0h1m4 0h1m-74 1h1m0 0h1m1 0h1m3 0h1m4 0h1m22 0h1m17 0h1m0 0h1m2 0h1m1 0h1m4 0h1m0 0h1m2 0h1m2 0h1m-75 1h1m6 0h1m13 0h1m0 0h1m1 0h1m14 0h1m5 0h1m0 0h1m12 0h1m1 0h1m0 0h1m8 0h1m-72 1h1m8 0h1m2 0h1m0 0h1m2 0h1m4 0h1m12 0h1m10 0h1m10 0h1m0 0h1m3 0h1m6 0h1m-69 1h1m6 0h1m0 0h1m0 0h1m15 0h1m1 0h1m11 0h1m2 0h1m2 0h1m0 0h1m2 0h1m6 0h1m7 0h1m-80 1h1m1 0h1m1 0h1m4 0h1m2 0h1m4 0h1m0 0h1m3 0h1m2 0h1m25 0h1m26 0h1m14 0h1m-83 1h1m2 0h1m15 0h1m4 0h1m3 0h1m28 0h1m6 0h1m1 0h1m2 0h1m6 0h1m1 0h1m1 0h1m-92 1h1m0 0h1m1 0h1m5 0h1m6 0h1m2 0h1m0 0h1m6 0h1m14 0h1m19 0h1m12 0h1m1 0h1m13 0h1m1 0h1m-93 1h1m7 0h1m3 0h1m53 0h1m3 0h1m7 0h1m3 0h1m4 0h1m-94 1h1m5 0h1m1 0h1m5 0h1m8 0h1m2 0h1m0 0h1m4 0h1m0 0h1m43 0h1m8 0h1m3 0h1m3 0h1m-92 1h1m2 0h1m23 0h1m39 0h1m0 0h1m1 0h1m4 0h1m4 0h1m6 0h1m4 0h1m-97 1h1m19 0h1m1 0h1m14 0h1m17 0h1m15 0h1m5 0h1m4 0h1m0 0h1m1 0h1m0 0h1m5 0h1m-93 1h1m1 0h1m3 0h1m2 0h1m1 0h1m1 0h1m0 0h1m7 0h1m2 0h1m47 0h1m5 0h1m0 0h1m4 0h1m3 0h1m-92 1h1m6 0h1m5 0h1m0 0h1m11 0h1m7 0h1m38 0h1m1 0h1m7 0h1m2 0h1m4 0h1m7 0h1m-96 1h1m25 0h1m4 0h1m38 0h1m7 0h1m4 0h1m9 0h1m2 0h1m-94 1h1m1 0h1m7 0h1m62 0h1m2 0h1m-81 1h1m3 0h1m0 0h1m7 0h1m1 0h1m3 0h1m0 0h1m59 0h1m9 0h1m6 0h1m-98 1h1m2 0h1m2 0h1m62 0h1m9 0h1m5 0h1m1 0h1m-94 1h1m7 0h1m1 0h1m0 0h1m0 0h1m4 0h1m10 0h1m33 0h1m27 0h1m3 0h1m2 0h1m-96 1h1m2 0h1m5 0h1m77 0h1m0 0h1m1 0h1m0 0h1m0 0h1m0 0h1m4 0h1m-90 1h1m78 0h1m6 0h1m-96 1h1m5 0h1m1 0h1m69 0h1m2 0h1m7 0h1m3 0h1m-104 1h1m10 0h1m4 0h1m8 0h1m64 0h1m0 0h1m3 0h1m3 0h1m1 0h1m-101 1h1m4 0h1m3 0h1m1 0h1m9 0h1m6 0h1m6 0h1m48 0h1m9 0h1m8 0h1m1 0h1m-102 1h1m7 0h1m77 0h1m0 0h1m14 0h1m-110 1h1m100 0h1m1 0h1m1 0h1m-108 1h1m1 0h1m2 0h1m0 0h1m3 0h1m0 0h1m3 0h1m2 0h1m77 0h1m6 0h1m-105 1h1m0 0h1m1 0h1m0 0h1m2 0h1m2 0h1m1 0h1m0 0h1m4 0h1m82 0h1m0 0h1m0 0h1m1 0h1m1 0h1m-101 1h1m5 0h1m1 0h1m91 0h1m1 0h1m0 0h1m-105 1h1m1 0h1m2 0h1m1 0h1m0 0h1m0 0h1m87 0h1m3 0h1m0 0h1m4 0h1m-107 1h1m0 0h1m2 0h1m0 0h1m83 0h1m0 0h1m6 0h1m1 0h1m-101 1h1m2 0h1m5 0h1m88 0h1m0 0h1m3 0h1m1 0h1m1 0h1m-107 1h1m1 0h1m1 0h1m87 0h1m11 0h1m2 0h1m-114 1h1m0 0h1m2 0h1m4 0h1m1 0h1m1 0h1m6 0h1m77 0h1m5 0h1m-101 1h1m0 0h1m0 0h1m1 0h1m3 0h1m3 0h1m88 0h1m-105 1h1m5 0h1m3 0h1m93 0h1m1 0h1m0 0h1m-111 1h1m12 0h1m6 0h1m88 0h1m-101 1h1m12 0h1m83 0h1m0 0h1m-104 1h1m7 0h1m6 0h1m81 0h1m3 0h1m2 0h1m-102 1h1m3 0h1m0 0h1m90 0h1m-100 1h1m3 0h1m2 0h1m7 0h1m89 0h1m-106 1h1m0 0h1m2 0h1m1 0h1m4 0h1m7 0h1m82 0h1m3 0h1m-111 1h1m7 0h1m1 0h1m89 0h1m5 0h1m-101 1h1m6 0h1m6 0h1m85 0h1m5 0h1m-100 1h1m82 0h1m7 0h1m-106 1h1m7 0h1m89 0h1m1 0h1m-99 1h1m3 0h1m2 0h1m2 0h1m2 0h1m5 0h1m79 0h1m0 0h1m-99 1h1m0 0h1m1 0h1m0 0h1m88 0h1m-93 1h1m6 0h1m4 0h1m79 0h1m2 0h1m3 0h1m1 0h1m2 0h1m1 0h1m-103 1h1m4 0h1m93 0h1m1 0h1m-104 1h1m2 0h1m6 0h1m74 0h1m2 0h1m1 0h1m5 0h1m-94 1h1m1 0h1m88 0h1m3 0h1m2 0h1m-98 1h1m0 0h1m88 0h1m2 0h1m4 0h1m3 0h1m-112 1h1m1 0h1m3 0h1m2 0h1m1 0h1m83 0h1m3 0h1m0 0h1m1 0h1m6 0h1m-96 1h1m4 0h1m80 0h1m1 0h1m-100 1h1m96 0h1m-101 1h1m0 0h1m5 0h1m3 0h1m84 0h1m1 0h1m-99 1h1m14 0h1m2 0h1m80 0h1m5 0h1m-97 1h1m3 0h1m66 0h1m0 0h1m4 0h1m4 0h1m3 0h1m5 0h1m0 0h1m-102 1h1m2 0h1m0 0h1m6 0h1m2 0h1m71 0h1m4 0h1m0 0h1m0 0h1m1 0h1m3 0h1m-91 1h1m0 0h1m1 0h1m78 0h1m4 0h1m5 0h1m0 0h1m0 0h1m-96 1h1m2 0h1m0 0h1m1 0h1m3 0h1m0 0h1m66 0h1m0 0h1m2 0h1m8 0h1m2 0h1m-93 1h1m6 0h1m9 0h1m45 0h1m9 0h1m1 0h1m5 0h1m4 0h1" stroke="#2341a8" stroke-width="1" fill="none"/>
<path d="M329 2272.5h1m-6 1h1m2 0h1m0 0h1m2 0h1m2 0h1m-11 1h1m0 0h1m4 0h1m1 0h1m1 0h1m-10 1h1m4 0h1m2 0h1m-14 1h1m6 0h1m6 0h1m0 0h1m-15 1h1m7 0h1m4 0h1m0 0h1m-11 1h1m3 0h1m5 0h1m4 0h1m-23 1h1m8 0h1m9 0h1m-15 1h1m4 0h1m1 0h1m3 0h1m0 0h1m0 0h1m1 0h1m1 0h1m0 0h1m0 0h1m-30 1h1m0 0h1m3 0h1m1 0h1m0 0h1m8 0h1m3 0h1m2 0h1m1 0h1m-27 1h1m2 0h1m0 0h1m1 0h1m5 0h1m-13 1h1m6 0h1m0 0h1m7 0h1m10 0h1m-30 1h1m3 0h1m8 0h1m1 0h1m3 0h1m0 0h1m1 0h1m-23 1h1m1 0h1m4 0h1m4 0h1m4 0h1m1 0h1m3 0h1m1 0h1m0 0h1m4 0h1m-32 1h1m7 0h1m0 0h1m1 0h1m6 0h1m2 0h1m3 0h1m0 0h1m1 0h1m-29 1h1m4 0h1m11 0h1m1 0h1m2 0h1m0 0h1m-15 1h1m6 0h1m2 0h1m3 0h1m0 0h1m4 0h1m-29 1h1m13 0h1m5 0h1m4 0h1m0 0h1m-11 1h1m5 0h1m3 0h1m-28 1h1m7 0h1m0 0h1m2 0h1m7 0h1m2 0h1m3 0h1m-26 1h1m0 0h1m3 0h1m19 0h1m2 0h1m-27 1h1m2 0h1m2 0h1m6 0h1m3 0h1m7 0h1m-28 1h1m1 0h1m5 0h1m0 0h1m2 0h1m4 0h1m0 0h1m4 0h1m-26 1h1m13 0h1m2 0h1m7 0h1m0 0h1m-27 1h1m0 0h1m16 0h1m2 0h1m1 0h1m2 0h1m0 0h1m-25 1h1m11 0h1m-5 1h1m0 0h1m2 0h1m0 0h1m4 0h1m-22 1h1m0 0h1m0 0h1m14 0h1m5 0h1m0 0h1m-22 1h1m2 0h1m1 0h1m3 0h1m7 0h1m-18 1h1m2 0h1m2 0h1m2 0h1m4 0h1m3 0h1m-20 1h1m9 0h1m2 0h1m1 0h1m-10 1h1m1 0h1m-7 1h1m0 0h1m0 0h1m0 0h1m2 0h1m0 0h1m-6 1h1m2 0h1m0 0h1m-38 27h1m0 0h1m0 0h1m0 0h1m-5 1h1m3 0h1m0 0h1m1 0h1m-7 1h1m2 0h1m1 0h1m1 0h1m-10 1h1m4 0h1m0 0h1m0 0h1m1 0h1m0 0h1m-13 1h1m1 0h1m5 0h1m-7 1h1m2 0h1m0 0h1m2 0h1m3 0h1m-14 1h1m2 0h1m10 0h1m-16 1h1m2 0h1m2 0h1m1 0h1m0 0h1m0 0h1m1 0h1m2 0h1m-16 1h1m6 0h1m4 0h1m-12 1h1m0 0h1m2 0h1m1 0h1m0 0h1m1 0h1m0 0h1m0 0h1m0 0h1m-11 1h1m3 0h1m2 0h1m0 0h1m-6 1h1m-5 1h1m3 0h1m0 0h1m1 0h1m0 0h1m-9 1h1m0 0h1m2 0h1m0 0h1m-7 1h1m0 0h1m1 0h1m1 0h1m3 0h1m-9 1h1m1 2h1m1 0h1m0 0h1m-1 1h1m2 0h1m-4 1h1m1 0h1m0 0h1m0 0h1m-13 1h1m2 0h1m3 0h1m2 0h1m-9 1h1m9 0h1m-11 1h1m7 0h1m0 0h1m-12 1h1m0 0h1m3 0h1m3 0h1m-11 1h1m7 0h1m1 0h1m-10 1h1m-3 1h1m0 0h1m0 0h1m3 0h1m1 0h1m1 0h1m-11 1h1m0 0h1m3 0h1m0 0h1m2 0h1m-10 1h1m9 0h1m-3 1h1m0 0h1m0 0h1m0 0h1m1 0h1m-14 1h1m1 0h1m1 0h1m1 0h1m6 0h1m-13 1h1m0 0h1m1 0h1m-5 1h1m0 0h1m4 0h1m2 0h1m0 0h1m0 0h1m0 0h1m1 0h1m-14 1h1m3 0h1m0 0h1m1 0h1m1 0h1m2 0h1m-29 1h1m1 0h1m12 0h1m1 0h1m2 0h1m6 0h1m-30 1h1m1 0h1m1 0h1m12 0h1m3 0h1m7 0h1m-32 1h1m1 0h1m5 0h1m1 0h1m6 0h1m1 0h1m3 0h1m8 0h1m1 0h1m-33 1h1m5 0h1m0 0h1m3 0h1m0 0h1m8 0h1m3 0h1m0 0h1m4 0h1m0 0h1m-38 1h1m0 0h1m1 0h1m16 0h1m2 0h1m9 0h1m4 0h1m1 0h1m-39 1h1m1 0h1m2 0h1m4 0h1m0 0h1m6 0h1m4 0h1m3 0h1m9 0h1m-42 1h1m4 0h1m0 0h1m1 0h1m6 0h1m0 0h1m0 0h1m3 0h1m0 0h1m4 0h1m11 0h1m-42 1h1m0 0h1m2 0h1m1 0h1m2 0h1m0 0h1m0 0h1m2 0h1m3 0h1m2 0h1m1 0h1m6 0h1m5 0h1m1 0h1m4 0h1m0 0h1m-46 1h1m6 0h1m4 0h1m9 0h1m0 0h1m13 0h1m0 0h1m6 0h1m-50 1h1m4 0h1m11 0h1m8 0h1m3 0h1m1 0h1m12 0h1m3 0h1m-49 1h1m2 0h1m2 0h1m1 0h1m1 0h1m0 0h1m3 0h1m3 0h1m5 0h1m2 0h1m0 0h1m5 0h1m11 0h1m-56 1h1m1 0h1m0 0h1m11 0h1m2 0h1m0 0h1m0 0h1m0 0h1m8 0h1m14 0h1m4 0h1m3 0h1m0 0h1m-52 1h1m2 0h1m1 0h1m4 0h1m0 0h1m0 0h1m8 0h1m5 0h1m4 0h1m0 0h1m2 0h1m0 0h1m-44 1h1m0 0h1m5 0h1m7 0h1m2 0h1m9 0h1m0 0h1m1 0h1m2 0h1m0 0h1m4 0h1m3 0h1m4 0h1m2 0h1m3 0h1m-52 1h1m2 0h1m5 0h1m1 0h1m1 0h1m4 0h1m20 0h1m1 0h1m1 0h1m0 0h1m-53 1h1m1 0h1m4 0h1m4 0h1m6 0h1m30 0h1m1 0h1m2 0h1m5 0h1m-63 1h1m4 0h1m0 0h1m3 0h1m6 0h1m5 0h1m3 0h1m0 0h1m25 0h1m5 0h1m-63 1h1m1 0h1m1 0h1m6 0h1m3 0h1m4 0h1m2 0h1m2 0h1m10 0h1m7 0h1m3 0h1m4 0h1m8 0h1m1 0h1m-61 1h1m5 0h1m4 0h1m0 0h1m2 0h1m12 0h1m13 0h1m0 0h1m7 0h1m8 0h1m-68 1h1m0 0h1m2 0h1m1 0h1m1 0h1m5 0h1m1 0h1m21 0h1m23 0h1m3 0h1m1 0h1m-70 1h1m3 0h1m2 0h1m14 0h1m35 0h1m6 0h1m1 0h1m2 0h1m-14 1h1m3 0h1m6 0h1m2 0h1m-69 1h1m1 0h1m0 0h1m11 0h1m40 0h1m1 0h1m8 0h1m-71 1h1m0 0h1m2 0h1m1 0h1m3 0h1m54 0h1m-69 1h1m3 0h1m57 0h1m3 0h1m-68 1h1m7 0h1m0 0h1m3 0h1m59 0h1m-75 1h1m1 0h1m1 0h1m3 0h1m0 0h1m1 0h1m65 0h1m-78 1h1m4 0h1m6 0h1m-15 1h1m6 0h1m66 0h1m5 0h1m-78 1h1m3 0h1m67 0h1m1 0h1m-76 1h1m0 0h1m2 0h1m60 0h1m1 0h1m2 0h1m7 0h1m-83 1h1m4 0h1m1 0h1m0 0h1m1 0h1m1 0h1m57 0h1m8 0h1m-80 1h1m5 0h1m1 0h1m-5 1h1m1 0h1m2 0h1m2 0h1m62 0h1m0 0h1m0 0h1m0 0h1m1 0h1m4 0h1m-82 1h1m1 0h1m67 0h1m0 0h1m2 0h1m5 0h1m0 0h1m-88 1h1m79 0h1m5 0h1m0 0h1m0 0h1m-85 1h1m2 0h1m72 0h1m3 0h1m2 0h1m-84 1h1m71 0h1m5 0h1m2 0h1m-89 1h1m0 0h1m7 0h1m0 0h1m70 0h1m-77 1h1m0 0h1m72 0h1m0 0h1m1 0h1m6 0h1m0 0h1m-89 1h1m8 0h1m5 0h1m64 0h1m-84 1h1m7 0h1m71 0h1m3 0h1m1 0h1m-85 1h1m1 0h1m3 0h1m76 0h1m3 0h1m0 0h1m-92 1h1m7 0h1m4 0h1m67 0h1m3 0h1m6 0h1m-89 1h1m3 0h1m1 0h1m65 0h1m2 0h1m7 0h1m-86 1h1m3 0h1m4 0h1m5 0h1m66 0h1m4 0h1m2 0h1m-90 1h1m0 0h1m1 0h1m0 0h1m74 0h1m0 0h1m1 0h1m0 0h1m2 0h1m1 0h1m-92 1h1m81 0h1m1 0h1m6 0h1m-92 1h1m5 0h1m0 0h1m77 0h1m-84 1h1m1 0h1m5 0h1m61 0h1m4 0h1m-76 1h1m2 0h1m5 0h1m67 0h1m1 0h1m6 0h1m-87 1h1m77 0h1m1 0h1m1 0h1m-85 1h1m6 0h1m1 0h1m78 0h1m-83 1h1m76 0h1m-81 1h1m0 0h1m0 0h1m68 0h1m4 0h1m0 0h1m5 0h1m-85 1h1m3 0h1m5 0h1m60 0h1m3 0h1m0 0h1m1 0h1m4 0h1m-84 1h1m3 0h1m66 0h1m-72 1h1m3 0h1m3 0h1m2 0h1m59 0h1m0 0h1m2 0h1m2 0h1m2 0h1m-74 1h1m54 0h1m17 0h1m-73 1h1m56 0h1m0 0h1m7 0h1m0 0h1m0 0h1m-73 1h1m3 0h1m2 0h1m0 0h1m46 0h1m13 0h1m2 0h1m-74 1h1m4 0h1m49 0h1m3 0h1m1 0h1m10 0h1m-68 1h1m0 0h1m1 0h1m1 0h1m1 0h1m2 0h1m19 0h1m18 0h1m1 0h1m-51 1h1m3 0h1m1 0h1m1 0h1m4 0h1m3 0h1m30 0h1m4 0h1m0 0h1m0 0h1m1 0h1m-60 1h1m0 0h1m0 0h1m2 0h1m0 0h1m7 0h1m1 0h1m6 0h1m6 0h1m13 0h1m2 0h1m4 0h1m0 0h1m1 0h1m1 0h1m0 0h1m1 0h1m0 0h1m0 0h1" stroke="#2355ba" stroke-width="1" fill="none"/>
<path d="M329 2273.5h1m-3 1h1m3 0h1m1 0h1m-10 3h1m7 0h1m-10 1h1m3 0h1m-5 1h1m4 0h1m4 0h1m1 0h1m-17 1h1m2 0h1m2 0h1m1 0h1m1 0h1m9 0h1m-16 1h1m0 0h1m1 0h1m3 0h1m4 0h1m-22 1h1m8 0h1m1 0h1m0 0h1m3 0h1m1 0h1m0 0h1m4 0h1m-23 1h1m4 0h1m0 0h1m0 0h1m1 0h1m1 0h1m3 0h1m4 0h1m-22 1h1m2 0h1m2 0h1m5 0h1m0 0h1m2 0h1m-14 1h1m0 0h1m10 0h1m0 0h1m-16 1h1m7 0h1m2 0h1m2 0h1m1 0h1m0 0h1m3 0h1m-24 1h1m4 0h1m0 0h1m0 0h1m3 0h1m13 0h1m-16 1h1m2 0h1m0 0h1m1 0h1m1 0h1m-20 1h1m0 0h1m5 0h1m0 0h1m0 0h1m0 0h1m11 0h1m4 0h1m-22 1h1m4 0h1m1 0h1m1 0h1m2 0h1m2 0h1m1 0h1m-25 1h1m0 0h1m21 0h1m2 0h1m-20 1h1m1 0h1m2 0h1m1 0h1m0 0h1m1 0h1m1 0h1m0 0h1m-17 1h1m5 0h1m9 0h1m3 0h1m-21 1h1m5 0h1m2 0h1m6 0h1m0 0h1m-20 1h1m2 0h1m1 0h1m3 0h1m6 0h1m1 0h1m-15 1h1m0 0h1m1 0h1m0 0h1m0 0h1m1 0h1m3 0h1m4 0h1m-9 1h1m3 1h1m-2 1h1m1 0h1m-1 1h1m-8 1h1m-40 45h1m-1 2h1m-5 1h1m4 1h1m-5 1h1m3 0h1m-7 2h1m-1 3h1m0 0h1m1 8h1m-18 5h1m-3 1h1m17 0h1m6 0h1m-14 2h1m-12 1h1m0 0h1m10 0h1m3 0h1m2 0h1m-28 1h1m1 0h1m12 0h1m-22 1h1m5 0h1m4 0h1m0 0h1m18 0h1m3 0h1m4 0h1m-31 1h1m1 0h1m3 0h1m1 0h1m7 0h1m0 0h1m2 0h1m7 0h1m-31 1h1m6 0h1m3 0h1m0 0h1m7 0h1m0 0h1m0 0h1m1 0h1m-44 1h1m9 0h1m5 0h1m2 0h1m1 0h1m1 0h1m0 0h1m7 0h1m3 0h1m2 0h1m0 0h1m0 0h1m0 0h1m0 0h1m1 0h1m-18 1h1m5 0h1m3 0h1m6 0h1m-32 1h1m4 0h1m0 0h1m3 0h1m1 0h1m1 0h1m9 0h1m3 0h1m-33 1h1m6 0h1m0 0h1m2 0h1m3 0h1m0 0h1m1 0h1m4 0h1m0 0h1m2 0h1m2 0h1m0 0h1m4 0h1m-49 1h1m8 0h1m1 0h1m2 0h1m2 0h1m0 0h1m4 0h1m2 0h1m4 0h1m1 0h1m0 0h1m0 0h1m1 0h1m0 0h1m0 0h1m0 0h1m2 0h1m-41 1h1m0 0h1m0 0h1m20 0h1m7 0h1m0 0h1m3 0h1m3 0h1m2 0h1m4 0h1m-48 1h1m7 0h1m1 0h1m10 0h1m0 0h1m1 0h1m3 0h1m0 0h1m1 0h1m4 0h1m1 0h1m1 0h1m-53 1h1m3 0h1m2 0h1m1 0h1m5 0h1m5 0h1m6 0h1m0 0h1m2 0h1m0 0h1m4 0h1m6 0h1m2 0h1m1 0h1m1 0h1m7 0h1m-56 1h1m6 0h1m1 0h1m0 0h1m8 0h1m0 0h1m14 0h1m6 0h1m1 0h1m1 0h1m3 0h1m-56 1h1m0 0h1m2 0h1m5 0h1m3 0h1m3 0h1m0 0h1m2 0h1m0 0h1m4 0h1m4 0h1m1 0h1m0 0h1m1 0h1m5 0h1m6 0h1m9 0h1m-62 1h1m11 0h1m0 0h1m2 0h1m2 0h1m0 0h1m2 0h1m2 0h1m8 0h1m12 0h1m0 0h1m9 0h1m2 0h1m-62 1h1m6 0h1m4 0h1m3 0h1m4 0h1m0 0h1m4 0h1m19 0h1m2 0h1m7 0h1m3 0h1m-64 1h1m0 0h1m4 0h1m1 0h1m0 0h1m3 0h1m0 0h1m2 0h1m1 0h1m1 0h1m6 0h1m3 0h1m6 0h1m4 0h1m5 0h1m0 0h1m0 0h1m1 0h1m1 0h1m0 0h1m0 0h1m-48 1h1m7 0h1m1 0h1m1 0h1m6 0h1m16 0h1m1 0h1m0 0h1m4 0h1m0 0h1m0 0h1m0 0h1m1 0h1m-63 1h1m2 0h1m1 0h1m0 0h1m4 0h1m1 0h1m2 0h1m13 0h1m26 0h1m7 0h1m0 0h1m2 0h1m-70 1h1m3 0h1m1 0h1m3 0h1m24 0h1m18 0h1m-63 1h1m6 0h1m7 0h1m1 0h1m47 0h1m2 0h1m0 0h1m1 0h1m0 0h1m-73 1h1m15 0h1m42 0h1m1 0h1m5 0h1m-61 1h1m1 0h1m1 0h1m4 0h1m47 0h1m4 0h1m0 0h1m-63 1h1m56 0h1m3 0h1m0 0h1m-67 1h1m2 0h1m1 0h1m0 0h1m51 0h1m2 0h1m0 0h1m4 0h1m1 0h1m0 0h1m-67 1h1m69 0h1m-70 1h1m5 0h1m47 0h1m-66 1h1m0 0h1m2 0h1m8 0h1m50 0h1m8 0h1m-69 1h1m1 0h1m0 0h1m8 0h1m49 0h1m8 0h1m2 0h1m2 0h1m-83 1h1m3 0h1m0 0h1m1 0h1m6 0h1m54 0h1m1 0h1m0 0h1m1 0h1m1 0h1m4 0h1m-76 1h1m3 0h1m1 0h1m54 0h1m0 0h1m0 0h1m0 0h1m1 0h1m1 0h1m1 0h1m5 0h1m-88 1h1m9 0h1m0 0h1m2 0h1m56 0h1m10 0h1m2 0h1m-75 1h1m2 0h1m58 0h1m2 0h1m2 0h1m0 0h1m-82 1h1m74 0h1m-70 1h1m1 0h1m3 0h1m0 0h1m59 0h1m2 0h1m2 0h1m3 0h1m2 0h1m0 0h1m-85 1h1m3 0h1m5 0h1m61 0h1m5 0h1m5 0h1m-81 1h1m1 0h1m63 0h1m6 0h1m1 0h1m-82 1h1m3 0h1m2 0h1m8 0h1m59 0h1m0 0h1m2 0h1m-79 1h1m3 0h1m1 0h1m63 0h1m12 0h1m-83 1h1m1 0h1m2 0h1m0 0h1m0 0h1m0 0h1m4 0h1m54 0h1m1 0h1m2 0h1m6 0h1m-71 1h1m61 0h1m2 0h1m0 0h1m-82 1h1m1 0h1m1 0h1m70 0h1m1 0h1m1 0h1m1 0h1m0 0h1m-65 1h1m0 0h1m52 0h1m3 0h1m2 0h1m1 0h1m-76 1h1m7 0h1m3 0h1m46 0h1m3 0h1m3 0h1m0 0h1m0 0h1m-67 1h1m0 0h1m61 0h1m4 0h1m2 0h1m1 0h1m-75 1h1m1 0h1m3 0h1m54 0h1m3 0h1m2 0h1m0 0h1m6 0h1m-78 1h1m2 0h1m10 0h1m45 0h1m0 0h1m7 0h1m5 0h1m-80 1h1m3 0h1m1 0h1m3 0h1m1 0h1m8 0h1m50 0h1m-68 1h1m3 0h1m0 0h1m5 0h1m47 0h1m0 0h1m1 0h1m-65 1h1m17 0h1m1 0h1m32 0h1m2 0h1m5 0h1m1 0h1m3 0h1m0 0h1m1 0h1m3 0h1m-67 1h1m6 0h1m35 0h1m0 0h1m8 0h1m0 0h1m-65 1h1m1 0h1m4 0h1m0 0h1m7 0h1m29 0h1m10 0h1m1 0h1m0 0h1m4 0h1m0 0h1m1 0h1m6 0h1m-76 1h1m2 0h1m3 0h1m2 0h1m4 0h1m0 0h1m1 0h1m2 0h1m25 0h1m6 0h1m3 0h1m8 0h1m0 0h1m2 0h1m-70 1h1m5 0h1m0 0h1m1 0h1m11 0h1m38 0h1m-52 1h1m2 0h1m4 0h1m1 0h1m0 0h1m7 0h1m14 0h1m3 0h1m0 0h1m4 0h1m4 0h1m1 0h1m6 0h1m-63 1h1m1 0h1m5 0h1m0 0h1m1 0h1m1 0h1m1 0h1m1 0h1m5 0h1m2 0h1m3 0h1m4 0h1m1 0h1m0 0h1m2 0h1m3 0h1m0 0h1m2 0h1m1 0h1m-43 1h1m0 0h1m1 0h1m2 0h1m1 0h1m0 0h1m0 0h1m1 0h1m2 0h1m4 0h1m0 0h1m2 0h1m0 0h1m1 0h1m2 0h1m0 0h1m2 0h1" stroke="#236dc4" stroke-width="1" fill="none"/>
<path d="M326 2274.5h1m4 6h1m-2 2h1m-13 1h1m6 0h1m-1 1h1m1 0h1m-4 1h1m0 0h1m0 0h1m-1 3h1m12 0h1m-23 1h1m12 0h1m-12 1h1m2 0h1m0 0h1m-2 1h1m2 0h1m0 0h1m1 0h1m0 0h1m-13 1h1m1 0h1m6 0h1m-2 1h1m0 0h1m-5 2h1m4 0h1m-3 1h1m-3 1h1m9 1h1m-68 72h1m14 4h1m9 0h1m-32 2h1m-6 1h1m8 0h1m9 0h1m-14 1h1m4 0h1m1 0h1m2 0h1m0 1h1m5 0h1m2 0h1m-45 1h1m25 0h1m8 0h1m8 0h1m-17 1h1m2 0h1m4 0h1m2 0h1m-16 1h1m2 0h1m1 0h1m2 0h1m5 0h1m-18 1h1m2 0h1m0 0h1m1 0h1m3 0h1m2 0h1m5 0h1m-36 1h1m5 0h1m17 0h1m1 0h1m1 0h1m2 0h1m-25 1h1m1 0h1m1 0h1m2 0h1m4 0h1m5 0h1m4 0h1m2 0h1m2 0h1m3 0h1m-43 1h1m7 0h1m3 0h1m1 0h1m2 0h1m1 0h1m0 0h1m0 0h1m1 0h1m0 0h1m0 0h1m4 0h1m3 0h1m4 0h1m3 0h1m-46 1h1m3 0h1m1 0h1m10 0h1m0 0h1m1 0h1m3 0h1m5 0h1m2 0h1m4 0h1m1 0h1m1 0h1m2 0h1m-45 1h1m2 0h1m12 0h1m4 0h1m1 0h1m5 0h1m1 0h1m1 0h1m3 0h1m0 0h1m3 0h1m2 0h1m6 0h1m-58 1h1m5 0h1m2 0h1m1 0h1m0 0h1m2 0h1m1 0h1m0 0h1m2 0h1m0 0h1m1 0h1m1 0h1m0 0h1m4 0h1m0 0h1m0 0h1m4 0h1m6 0h1m2 0h1m1 0h1m1 0h1m-37 1h1m3 0h1m6 0h1m1 0h1m3 0h1m2 0h1m19 0h1m-55 1h1m0 0h1m1 0h1m3 0h1m2 0h1m3 0h1m1 0h1m1 0h1m6 0h1m2 0h1m5 0h1m7 0h1m3 0h1m-48 1h1m0 0h1m0 0h1m0 0h1m1 0h1m2 0h1m2 0h1m2 0h1m2 0h1m6 0h1m5 0h1m0 0h1m2 0h1m0 0h1m4 0h1m0 0h1m3 0h1m5 0h1m-50 1h1m1 0h1m0 0h1m1 0h1m2 0h1m0 0h1m3 0h1m2 0h1m3 0h1m0 0h1m5 0h1m0 0h1m1 0h1m7 0h1m0 0h1m0 0h1m2 0h1m0 0h1m3 0h1m2 0h1m-64 1h1m3 0h1m4 0h1m1 0h1m4 0h1m1 0h1m3 0h1m6 0h1m6 0h1m22 0h1m-56 1h1m0 0h1m0 0h1m1 0h1m6 0h1m10 0h1m22 0h1m3 0h1m1 0h1m1 0h1m0 0h1m0 0h1m4 0h1m0 0h1m-58 1h1m0 0h1m0 0h1m6 0h1m13 0h1m20 0h1m1 0h1m5 0h1m1 0h1m-56 1h1m2 0h1m1 0h1m6 0h1m0 0h1m0 0h1m2 0h1m30 0h1m1 0h1m3 0h1m-61 1h1m5 0h1m0 0h1m1 0h1m23 0h1m3 0h1m17 0h1m1 0h1m3 0h1m2 0h1m-60 1h1m0 0h1m0 0h1m40 0h1m6 0h1m2 0h1m2 0h1m0 0h1m-59 1h1m0 0h1m0 0h1m1 0h1m1 0h1m1 0h1m30 0h1m11 0h1m0 0h1m5 0h1m1 0h1m-63 1h1m3 0h1m1 0h1m0 0h1m0 0h1m0 0h1m1 0h1m0 0h1m42 0h1m4 0h1m0 0h1m2 0h1m-72 1h1m5 0h1m3 0h1m1 0h1m0 0h1m40 0h1m0 0h1m5 0h1m3 0h1m-63 1h1m1 0h1m0 0h1m1 0h1m49 0h1m3 0h1m1 0h1m-63 1h1m3 0h1m3 0h1m48 0h1m1 0h1m0 0h1m0 0h1m6 0h1m-67 1h1m2 0h1m2 0h1m0 0h1m3 0h1m44 0h1m4 0h1m-65 1h1m3 0h1m3 0h1m6 0h1m42 0h1m3 0h1m2 0h1m-67 1h1m3 0h1m0 0h1m0 0h1m1 0h1m0 0h1m6 0h1m0 0h1m0 0h1m41 0h1m2 0h1m0 0h1m2 0h1m-66 1h1m3 0h1m0 0h1m48 0h1m4 0h1m1 0h1m1 0h1m0 0h1m5 0h1m-80 1h1m5 0h1m1 0h1m4 0h1m0 0h1m0 0h1m1 0h1m45 0h1m1 0h1m0 0h1m3 0h1m1 0h1m5 0h1m-70 1h1m1 0h1m1 0h1m0 0h1m1 0h1m47 0h1m2 0h1m0 0h1m0 0h1m0 0h1m2 0h1m2 0h1m0 0h1m-70 1h1m0 0h1m0 0h1m3 0h1m1 0h1m49 0h1m4 0h1m2 0h1m2 0h1m-70 1h1m0 0h1m0 0h1m0 0h1m0 0h1m1 0h1m3 0h1m45 0h1m0 0h1m0 0h1m1 0h1m1 0h1m2 0h1m0 0h1m1 0h1m0 0h1m-72 1h1m5 0h1m1 0h1m1 0h1m46 0h1m2 0h1m1 0h1m2 0h1m4 0h1m7 0h1m-80 1h1m3 0h1m1 0h1m1 0h1m2 0h1m0 0h1m0 0h1m1 0h1m38 0h1m6 0h1m0 0h1m0 0h1m1 0h1m0 0h1m0 0h1m2 0h1m0 0h1m-69 1h1m0 0h1m0 0h1m1 0h1m2 0h1m2 0h1m41 0h1m1 0h1m1 0h1m10 0h1m8 0h1m-76 1h1m0 0h1m0 0h1m1 0h1m3 0h1m41 0h1m1 0h1m3 0h1m1 0h1m6 0h1m-70 1h1m7 0h1m5 0h1m53 0h1m3 0h1m-69 1h1m3 0h1m1 0h1m2 0h1m33 0h1m1 0h1m2 0h1m1 0h1m3 0h1m0 0h1m2 0h1m13 0h1m-76 1h1m1 0h1m0 0h1m3 0h1m2 0h1m42 0h1m0 0h1m0 0h1m5 0h1m0 0h1m-63 1h1m1 0h1m0 0h1m0 0h1m0 0h1m0 0h1m0 0h1m3 0h1m6 0h1m29 0h1m7 0h1m4 0h1m0 0h1m0 0h1m-63 1h1m3 0h1m2 0h1m1 0h1m0 0h1m1 0h1m35 0h1m4 0h1m0 0h1m1 0h1m0 0h1m1 0h1m0 0h1m0 0h1m-63 1h1m7 0h1m32 0h1m8 0h1m0 0h1m0 0h1m0 0h1m2 0h1m-52 1h1m5 0h1m0 0h1m0 0h1m4 0h1m28 0h1m0 0h1m0 0h1m2 0h1m1 0h1m3 0h1m-57 1h1m1 0h1m3 0h1m0 0h1m0 0h1m0 0h1m2 0h1m31 0h1m0 0h1m0 0h1m4 0h1m7 0h1m-62 1h1m6 0h1m2 0h1m7 0h1m4 0h1m14 0h1m7 0h1m2 0h1m0 0h1m-43 1h1m1 0h1m2 0h1m5 0h1m0 0h1m5 0h1m4 0h1m9 0h1m0 0h1m1 0h1m0 0h1m0 0h1m1 0h1m2 0h1m-52 1h1m7 0h1m2 0h1m0 0h1m2 0h1m1 0h1m2 0h1m0 0h1m1 0h1m6 0h1m4 0h1m1 0h1m2 0h1m3 0h1m2 0h1m0 0h1m1 0h1m1 0h1m1 0h1m-52 1h1m1 0h1m7 0h1m2 0h1m2 0h1m0 0h1m7 0h1m7 0h1m0 0h1m4 0h1m0 0h1m0 0h1m2 0h1m0 0h1m0 0h1m14 0h1m-58 1h1m13 0h1m0 0h1m0 0h1m0 0h1m0 0h1m2 0h1m1 0h1m3 0h1m0 0h1m1 0h1m7 0h1m1 0h1m5 0h1m-47 1h1m11 0h1m5 0h1m2 0h1m2 0h1m3 0h1m2 0h1m1 0h1m0 0h1m3 0h1m3 0h1" stroke="#2591b6" stroke-width="1" fill="none"/>
<path d="M324 2291.5h1m-62 91h1m-2 3h1m17 0h1m-12 1h1m2 0h1m0 0h1m14 0h1m-29 1h1m0 0h1m3 0h1m8 0h1m-17 1h1m0 0h1m1 0h1m2 0h1m4 0h1m1 0h1m3 0h1m-26 1h1m6 0h1m5 0h1m1 0h1m3 0h1m0 0h1m0 0h1m3 0h1m5 0h1m-29 1h1m0 0h1m5 0h1m0 0h1m7 0h1m3 0h1m0 0h1m1 0h1m1 0h1m0 0h1m-24 1h1m3 0h1m3 0h1m1 0h1m3 0h1m1 0h1m0 0h1m2 0h1m-34 1h1m2 0h1m1 0h1m2 0h1m3 0h1m0 0h1m0 0h1m3 0h1m0 0h1m2 0h1m3 0h1m2 0h1m0 0h1m0 0h1m3 0h1m0 0h1m-36 1h1m0 0h1m2 0h1m0 0h1m10 0h1m0 0h1m0 0h1m0 0h1m3 0h1m1 0h1m1 0h1m0 0h1m0 0h1m0 0h1m0 0h1m3 0h1m0 0h1m-42 1h1m3 0h1m2 0h1m0 0h1m2 0h1m1 0h1m0 0h1m7 0h1m2 0h1m0 0h1m1 0h1m0 0h1m0 0h1m0 0h1m0 0h1m1 0h1m1 0h1m2 0h1m-43 1h1m2 0h1m2 0h1m2 0h1m1 0h1m0 0h1m0 0h1m0 0h1m5 0h1m1 0h1m0 0h1m1 0h1m0 0h1m0 0h1m1 0h1m2 0h1m2 0h1m2 0h1m2 0h1m0 0h1m-40 1h1m0 0h1m0 0h1m0 0h1m2 0h1m0 0h1m0 0h1m0 0h1m0 0h1m1 0h1m1 0h1m0 0h1m0 0h1m0 0h1m2 0h1m1 0h1m0 0h1m3 0h1m0 0h1m3 0h1m0 0h1m0 0h1m1 0h1m3 0h1m2 0h1m0 0h1m-57 1h1m6 0h1m2 0h1m1 0h1m0 0h1m15 0h1m0 0h1m5 0h1m1 0h1m11 0h1m1 0h1m5 0h1m-49 1h1m0 0h1m1 0h1m0 0h1m1 0h1m1 0h1m3 0h1m2 0h1m15 0h1m4 0h1m2 0h1m1 0h1m6 0h1m-49 1h1m0 0h1m4 0h1m2 0h1m6 0h1m8 0h1m0 0h1m12 0h1m0 0h1m0 0h1m2 0h1m1 0h1m2 0h1m-60 1h1m6 0h1m3 0h1m1 0h1m1 0h1m9 0h1m0 0h1m1 0h1m1 0h1m0 0h1m2 0h1m9 0h1m2 0h1m0 0h1m2 0h1m0 0h1m5 0h1m1 0h1m-45 1h1m0 0h1m15 0h1m2 0h1m6 0h1m8 0h1m5 0h1m1 0h1m0 0h1m-52 1h1m2 0h1m17 0h1m1 0h1m2 0h1m2 0h1m4 0h1m0 0h1m1 0h1m6 0h1m0 0h1m10 0h1m-63 1h1m0 0h1m2 0h1m1 0h1m0 0h1m0 0h1m1 0h1m27 0h1m6 0h1m2 0h1m5 0h1m-53 1h1m6 0h1m0 0h1m21 0h1m1 0h1m5 0h1m0 0h1m1 0h1m4 0h1m0 0h1m1 0h1m-53 1h1m0 0h1m2 0h1m0 0h1m0 0h1m1 0h1m0 0h1m22 0h1m14 0h1m10 0h1m-60 1h1m6 0h1m4 0h1m1 0h1m23 0h1m6 0h1m1 0h1m6 0h1m-60 1h1m4 0h1m5 0h1m1 0h1m3 0h1m20 0h1m9 0h1m3 0h1m1 0h1m1 0h1m-58 1h1m6 0h1m0 0h1m1 0h1m0 0h1m0 0h1m4 0h1m1 0h1m1 0h1m1 0h1m33 0h1m0 0h1m2 0h1m5 0h1m-60 1h1m2 0h1m0 0h1m0 0h1m3 0h1m0 0h1m2 0h1m23 0h1m7 0h1m0 0h1m1 0h1m2 0h1m3 0h1m-62 1h1m7 0h1m0 0h1m0 0h1m1 0h1m1 0h1m33 0h1m4 0h1m-52 1h1m5 0h1m39 0h1m1 0h1m0 0h1m2 0h1m0 0h1m-53 1h1m2 0h1m3 0h1m3 0h1m31 0h1m3 0h1m1 0h1m4 0h1m1 0h1m5 0h1m-65 1h1m6 0h1m0 0h1m13 0h1m24 0h1m0 0h1m0 0h1m0 0h1m0 0h1m2 0h1m3 0h1m-60 1h1m3 0h1m0 0h1m7 0h1m0 0h1m1 0h1m30 0h1m3 0h1m2 0h1m4 0h1m-56 1h1m1 0h1m0 0h1m1 0h1m2 0h1m2 0h1m0 0h1m0 0h1m0 0h1m22 0h1m7 0h1m3 0h1m1 0h1m0 0h1m0 0h1m-56 1h1m5 0h1m2 0h1m33 0h1m0 0h1m1 0h1m3 0h1m1 0h1m1 0h1m-51 1h1m0 0h1m3 0h1m2 0h1m3 0h1m21 0h1m2 0h1m2 0h1m3 0h1m0 0h1m6 0h1m-58 1h1m0 0h1m1 0h1m1 0h1m3 0h1m0 0h1m3 0h1m1 0h1m1 0h1m25 0h1m0 0h1m1 0h1m1 0h1m0 0h1m0 0h1m2 0h1m2 0h1m-59 1h1m1 0h1m4 0h1m0 0h1m0 0h1m0 0h1m1 0h1m3 0h1m0 0h1m0 0h1m0 0h1m14 0h1m5 0h1m1 0h1m2 0h1m6 0h1m0 0h1m1 0h1m-52 1h1m1 0h1m2 0h1m0 0h1m0 0h1m3 0h1m0 0h1m22 0h1m0 0h1m0 0h1m5 0h1m13 0h1m-52 1h1m1 0h1m0 0h1m1 0h1m0 0h1m1 0h1m0 0h1m1 0h1m2 0h1m14 0h1m3 0h1m0 0h1m1 0h1m2 0h1m2 0h1m-51 1h1m5 0h1m0 0h1m3 0h1m1 0h1m1 0h1m1 0h1m1 0h1m3 0h1m3 0h1m6 0h1m4 0h1m3 0h1m-36 1h1m5 0h1m0 0h1m0 0h1m8 0h1m1 0h1m0 0h1m5 0h1m2 0h1m1 0h1m10 0h1m-52 1h1m6 0h1m3 0h1m0 0h1m0 0h1m1 0h1m0 0h1m0 0h1m0 0h1m8 0h1m3 0h1m3 0h1m11 0h1m5 0h1m-54 1h1m0 0h1m4 0h1m1 0h1m0 0h1m0 0h1m0 0h1m0 0h1m2 0h1m1 0h1m1 0h1m4 0h1m0 0h1m0 0h1m1 0h1m5 0h1m0 0h1m2 0h1m0 0h1m2 0h1m3 0h1m2 0h1m-39 1h1m4 0h1m0 0h1m1 0h1m3 0h1m0 0h1m0 0h1m1 0h1m0 0h1m0 0h1m4 0h1m7 0h1m1 0h1m3 0h1m4 0h1m-50 1h1m3 0h1m0 0h1m1 0h1m5 0h1m1 0h1m0 0h1m2 0h1m0 0h1m2 0h1m1 0h1m4 0h1m1 0h1m1 0h1m1 0h1m0 0h1m-26 1h1m2 0h1m0 0h1m1 0h1m1 0h1m0 0h1m1 0h1m2 0h1m-4 1h1m3 0h1m2 0h1" stroke="#29b4a6" stroke-width="1" fill="none"/>
<path d="M265 2388.5h1m-19 2h1m17 0h1m-7 1h1m3 0h1m5 0h1m-7 1h1m-28 1h1m13 0h1m2 0h1m2 0h1m0 0h1m-1 1h1m0 0h1m1 0h1m5 0h1m5 0h1m3 0h1m0 0h1m-27 1h1m1 0h1m0 0h1m0 0h1m1 0h1m2 0h1m3 0h1m8 0h1m2 0h1m-33 1h1m5 0h1m1 0h1m5 0h1m1 0h1m4 0h1m4 0h1m3 0h1m1 0h1m0 0h1m-37 1h1m0 0h1m0 0h1m0 0h1m4 0h1m1 0h1m0 0h1m0 0h1m0 0h1m0 0h1m2 0h1m0 0h1m0 0h1m0 0h1m0 0h1m1 0h1m1 0h1m1 0h1m0 0h1m0 0h1m0 0h1m3 0h1m0 0h1m1 0h1m-35 1h1m2 0h1m5 0h1m2 0h1m2 0h1m1 0h1m1 0h1m2 0h1m0 0h1m2 0h1m0 0h1m0 0h1m1 0h1m2 0h1m1 0h1m0 0h1m-45 1h1m3 0h1m0 0h1m0 0h1m1 0h1m2 0h1m0 0h1m0 0h1m0 0h1m0 0h1m2 0h1m0 0h1m0 0h1m0 0h1m6 0h1m1 0h1m2 0h1m1 0h1m0 0h1m0 0h1m5 0h1m-39 1h1m2 0h1m0 0h1m0 0h1m0 0h1m1 0h1m10 0h1m2 0h1m0 0h1m2 0h1m1 0h1m2 0h1m0 0h1m2 0h1m3 0h1m0 0h1m4 0h1m-53 1h1m4 0h1m2 0h1m9 0h1m0 0h1m7 0h1m0 0h1m1 0h1m1 0h1m0 0h1m0 0h1m4 0h1m1 0h1m1 0h1m0 0h1m7 0h1m-49 1h1m2 0h1m0 0h1m0 0h1m1 0h1m0 0h1m0 0h1m1 0h1m0 0h1m0 0h1m10 0h1m1 0h1m0 0h1m2 0h1m1 0h1m4 0h1m2 0h1m0 0h1m-44 1h1m5 0h1m0 0h1m0 0h1m1 0h1m2 0h1m1 0h1m7 0h1m0 0h1m0 0h1m0 0h1m1 0h1m6 0h1m1 0h1m1 0h1m1 0h1m0 0h1m2 0h1m-46 1h1m0 0h1m0 0h1m14 0h1m0 0h1m2 0h1m0 0h1m5 0h1m3 0h1m1 0h1m2 0h1m1 0h1m0 0h1m1 0h1m-39 1h1m3 0h1m0 0h1m5 0h1m4 0h1m8 0h1m1 0h1m0 0h1m0 0h1m6 0h1m1 0h1m0 0h1m0 0h1m0 0h1m1 0h1m0 0h1m1 0h1m-55 1h1m4 0h1m1 0h1m4 0h1m1 0h1m15 0h1m0 0h1m1 0h1m0 0h1m3 0h1m0 0h1m0 0h1m0 0h1m1 0h1m1 0h1m6 0h1m-52 1h1m0 0h1m1 0h1m5 0h1m1 0h1m1 0h1m2 0h1m9 0h1m3 0h1m1 0h1m5 0h1m2 0h1m0 0h1m3 0h1m1 0h1m2 0h1m-48 1h1m3 0h1m6 0h1m2 0h1m5 0h1m9 0h1m4 0h1m1 0h1m0 0h1m0 0h1m0 0h1m1 0h1m-43 1h1m1 0h1m2 0h1m3 0h1m1 0h1m0 0h1m0 0h1m0 0h1m1 0h1m0 0h1m5 0h1m0 0h1m0 0h1m6 0h1m3 0h1m0 0h1m-39 1h1m1 0h1m1 0h1m0 0h1m0 0h1m2 0h1m13 0h1m0 0h1m4 0h1m2 0h1m3 0h1m1 0h1m1 0h1m0 0h1m-42 1h1m0 0h1m0 0h1m1 0h1m0 0h1m2 0h1m7 0h1m0 0h1m1 0h1m4 0h1m1 0h1m1 0h1m1 0h1m0 0h1m0 0h1m0 0h1m2 0h1m4 0h1m0 0h1m3 0h1m-47 1h1m1 0h1m1 0h1m8 0h1m2 0h1m2 0h1m10 0h1m1 0h1m4 0h1m0 0h1m3 0h1m-44 1h1m0 0h1m0 0h1m0 0h1m0 0h1m1 0h1m0 0h1m0 0h1m0 0h1m0 0h1m3 0h1m0 0h1m7 0h1m5 0h1m2 0h1m0 0h1m3 0h1m-37 1h1m0 0h1m2 0h1m6 0h1m5 0h1m0 0h1m4 0h1m4 0h1m0 0h1m0 0h1m6 0h1m1 0h1m1 0h1m2 0h1m-46 1h1m2 0h1m0 0h1m4 0h1m0 0h1m0 0h1m4 0h1m4 0h1m7 0h1m0 0h1m1 0h1m1 0h1m2 0h1m0 0h1m2 0h1m-42 1h1m2 0h1m1 0h1m2 0h1m0 0h1m7 0h1m2 0h1m4 0h1m2 0h1m4 0h1m0 0h1m2 0h1m2 0h1m2 0h1m-42 1h1m0 0h1m1 0h1m0 0h1m0 0h1m1 0h1m3 0h1m1 0h1m4 0h1m6 0h1m0 0h1m2 0h1m0 0h1m1 0h1m2 0h1m0 0h1m-42 1h1m1 0h1m2 0h1m5 0h1m2 0h1m2 0h1m0 0h1m3 0h1m5 0h1m0 0h1m0 0h1m1 0h1m1 0h1m1 0h1m-33 1h1m10 0h1m1 0h1m2 0h1m2 0h1m4 0h1m5 0h1m1 0h1m2 0h1m-34 1h1m3 0h1m1 0h1m0 0h1m1 0h1m1 0h1m0 0h1m3 0h1m0 0h1m3 0h1m7 0h1m0 0h1m2 0h1m1 0h1m-41 1h1m5 0h1m5 0h1m2 0h1m2 0h1m13 0h1m7 0h1m-39 1h1m3 0h1m1 0h1m1 0h1m1 0h1m1 0h1m0 0h1m2 0h1m0 0h1m3 0h1m0 0h1m1 0h1m3 0h1m0 0h1m16 0h1m-42 1h1m3 0h1m1 0h1m0 0h1m2 0h1m2 0h1m2 0h1m0 0h1m2 0h1m2 0h1m1 0h1m1 0h1m-22 1h1m1 0h1m1 0h1m0 0h1m0 0h1m2 0h1m0 0h1m2 0h1m2 0h1m1 0h1m0 0h1m-26 1h1m6 0h1m0 0h1m0 0h1m3 0h1m2 0h1m1 0h1m7 0h1m-23 1h1m3 0h1m7 0h1m0 0h1m0 0h1m0 0h1m1 0h1m-15 1h1m0 0h1m10 0h1m-16 1h1m5 2h1" stroke="#47c064" stroke-width="1" fill="none"/>
<path d="M267 2390.5h1m-9 4h1m6 1h1m2 0h1m2 0h1m-5 1h1m0 0h1m2 1h1m0 0h1m-28 1h1m1 0h1m1 0h1m6 0h1m7 0h1m9 0h1m-31 1h1m12 0h1m0 0h1m1 0h1m3 0h1m-18 1h1m1 0h1m0 0h1m2 0h1m1 0h1m2 0h1m5 0h1m0 0h1m1 0h1m-23 1h1m1 0h1m0 0h1m0 0h1m0 0h1m2 0h1m0 0h1m0 0h1m1 0h1m0 0h1m5 0h1m3 0h1m1 0h1m2 0h1m-21 1h1m0 0h1m0 0h1m2 0h1m1 0h1m5 0h1m-23 1h1m1 0h1m0 0h1m1 0h1m2 0h1m0 0h1m0 0h1m0 0h1m0 0h1m0 0h1m4 0h1m1 0h1m0 0h1m0 0h1m0 0h1m3 0h1m1 0h1m-32 1h1m0 0h1m0 0h1m0 0h1m0 0h1m0 0h1m0 0h1m0 0h1m1 0h1m2 0h1m3 0h1m1 0h1m0 0h1m3 0h1m2 0h1m7 0h1m-37 1h1m4 0h1m2 0h1m0 0h1m1 0h1m0 0h1m3 0h1m0 0h1m0 0h1m0 0h1m0 0h1m4 0h1m3 0h1m0 0h1m0 0h1m-31 1h1m2 0h1m3 0h1m0 0h1m0 0h1m2 0h1m0 0h1m2 0h1m1 0h1m0 0h1m2 0h1m3 0h1m0 0h1m-27 1h1m1 0h1m1 0h1m4 0h1m0 0h1m2 0h1m3 0h1m0 0h1m2 0h1m1 0h1m0 0h1m0 0h1m0 0h1m3 0h1m-36 1h1m4 0h1m1 0h1m1 0h1m2 0h1m1 0h1m0 0h1m4 0h1m4 0h1m1 0h1m0 0h1m1 0h1m2 0h1m1 0h1m-36 1h1m4 0h1m1 0h1m1 0h1m7 0h1m0 0h1m0 0h1m0 0h1m0 0h1m3 0h1m3 0h1m3 0h1m0 0h1m-30 1h1m2 0h1m0 0h1m1 0h1m0 0h1m6 0h1m0 0h1m7 0h1m0 0h1m1 0h1m0 0h1m0 0h1m3 0h1m-37 1h1m5 0h1m0 0h1m1 0h1m2 0h1m4 0h1m0 0h1m3 0h1m8 0h1m0 0h1m-35 1h1m3 0h1m1 0h1m0 0h1m0 0h1m5 0h1m1 0h1m0 0h1m1 0h1m0 0h1m5 0h1m0 0h1m0 0h1m1 0h1m1 0h1m0 0h1m1 0h1m3 0h1m-37 1h1m5 0h1m0 0h1m3 0h1m1 0h1m0 0h1m1 0h1m2 0h1m0 0h1m2 0h1m2 0h1m3 0h1m0 0h1m-30 1h1m0 0h1m0 0h1m1 0h1m1 0h1m1 0h1m0 0h1m0 0h1m5 0h1m1 0h1m1 0h1m4 0h1m0 0h1m1 0h1m0 0h1m-24 1h1m0 0h1m0 0h1m1 0h1m1 0h1m0 0h1m2 0h1m0 0h1m1 0h1m1 0h1m4 0h1m-32 1h1m4 0h1m2 0h1m0 0h1m0 0h1m2 0h1m0 0h1m1 0h1m4 0h1m3 0h1m4 0h1m-33 1h1m10 0h1m4 0h1m0 0h1m0 0h1m2 0h1m1 0h1m0 0h1m1 0h1m-24 1h1m2 0h1m3 0h1m1 0h1m0 0h1m2 0h1m3 0h1m0 0h1m0 0h1m1 0h1m5 0h1m-28 1h1m6 0h1m2 0h1m1 0h1m2 0h1m3 0h1m0 0h1m2 0h1m0 0h1m0 0h1m0 0h1m4 0h1m-33 1h1m8 0h1m1 0h1m2 0h1m0 0h1m0 0h1m2 0h1m0 0h1m0 0h1m1 0h1m0 0h1m0 0h1m0 0h1m-17 1h1m4 0h1m1 0h1m3 0h1m0 0h1m2 0h1m3 0h1m-31 1h1m12 0h1m3 0h1m6 0h1m-13 1h1m0 0h1m1 0h1m6 0h1m0 0h1m-13 1h1m1 0h1m8 0h1m-13 1h1" stroke="#79cc37" stroke-width="1" fill="none"/>
<path d="M263 2396.5h1m-12 3h1m-6 2h1m-4 1h1m3 0h1m3 0h1m0 0h1m-2 1h1m-2 1h1m8 0h1m-13 1h1m15 0h1m-17 1h1m3 0h1m3 0h1m0 0h1m-4 1h1m0 0h1m1 0h1m0 0h1m-5 1h1m0 0h1m0 0h1m3 0h1m0 0h1m0 0h1m1 0h1m5 0h1m-19 1h1m12 0h1m0 0h1m3 0h1m-27 1h1m6 0h1m0 0h1m1 0h1m0 0h1m0 0h1m4 0h1m1 0h1m0 0h1m-16 1h1m4 0h1m3 0h1m4 0h1m10 0h1m-33 1h1m4 0h1m0 0h1m9 0h1m1 0h1m0 0h1m0 0h1m-11 1h1m2 0h1m1 0h1m3 0h1m0 0h1m2 0h1m3 0h1m-25 1h1m3 0h1m7 0h1m3 0h1m-15 1h1m5 0h1m3 0h1m2 0h1m1 0h1m-15 1h1m0 0h1m4 0h1m6 0h1m2 0h1m0 0h1m-21 1h1m3 0h1m10 0h1m-9 1h1m5 0h1m4 0h1m-18 1h1m4 0h1m2 0h1m1 0h1m-4 2h1m2 0h1m4 0h1m1 0h1m-9 1h1m-2 2h1" stroke="#c8d82b" stroke-width="1" fill="none"/>
<path d="M254 2405.5h1m-4 2h1m10 3h1m-4 1h1m-4 3h1m-10 3h1" stroke="#e6b222" stroke-width="1" fill="none"/>
<path d="M259 2412.5h1" stroke="#eb731e" stroke-width="1" fill="none"/>
<rect x="165.7" y="2197" width="227.4" height="234.5" fill="none" stroke="#111" stroke-width="1.3"/>
<line x1="310.7" y1="2197" x2="310.7" y2="2431.5" stroke="#111" stroke-width="1.1"/>
<line x1="165.7" y1="2361.3" x2="393.1" y2="2361.3" stroke="#111" stroke-width="1.1"/>
<path d="M159.7 2431.5H165.7M165.7 2431.5V2437.5M162.7 2413.9H165.7M182.7 2431.5V2434.5M162.7 2403.5H165.7M192.7 2431.5V2434.5M162.7 2396.2H165.7M199.8 2431.5V2434.5M162.7 2390.5H165.7M205.3 2431.5V2434.5M162.7 2385.9H165.7M209.7 2431.5V2434.5M162.7 2382H165.7M213.5 2431.5V2434.5M162.7 2378.6H165.7M216.8 2431.5V2434.5M162.7 2375.6H165.7M219.7 2431.5V2434.5M159.7 2372.9H165.7M222.3 2431.5V2437.5M162.7 2355.3H165.7M239.3 2431.5V2434.5M162.7 2344.9H165.7M249.3 2431.5V2434.5M162.7 2337.6H165.7M256.4 2431.5V2434.5M162.7 2331.9H165.7M261.9 2431.5V2434.5M162.7 2327.3H165.7M266.3 2431.5V2434.5M162.7 2323.4H165.7M270.1 2431.5V2434.5M162.7 2320H165.7M273.4 2431.5V2434.5M162.7 2317H165.7M276.3 2431.5V2434.5M159.7 2314.3H165.7M278.9 2431.5V2437.5M162.7 2296.7H165.7M295.9 2431.5V2434.5M162.7 2286.3H165.7M305.9 2431.5V2434.5M162.7 2279H165.7M313 2431.5V2434.5M162.7 2273.3H165.7M318.5 2431.5V2434.5M162.7 2268.7H165.7M322.9 2431.5V2434.5M162.7 2264.8H165.7M326.7 2431.5V2434.5M162.7 2261.4H165.7M330 2431.5V2434.5M162.7 2258.4H165.7M332.9 2431.5V2434.5M159.7 2255.7H165.7M335.5 2431.5V2437.5M162.7 2238.1H165.7M352.5 2431.5V2434.5M162.7 2227.7H165.7M362.5 2431.5V2434.5M162.7 2220.4H165.7M369.6 2431.5V2434.5M162.7 2214.7H165.7M375.1 2431.5V2434.5M162.7 2210.1H165.7M379.5 2431.5V2434.5M162.7 2206.2H165.7M383.3 2431.5V2434.5M162.7 2202.8H165.7M386.6 2431.5V2434.5M162.7 2199.8H165.7M389.5 2431.5V2434.5M159.7 2197.1H165.7M392.1 2431.5V2437.5" stroke="#111" stroke-width="1"/>
<text x="137.2" y="2431.8" font-size="12" textLength="11" lengthAdjust="spacingAndGlyphs" fill="#222">10</text>
<text x="149.4" y="2423.3" font-size="9" fill="#222">0</text>
<text x="169" y="2455.3" font-size="12" textLength="12.5" lengthAdjust="spacingAndGlyphs" fill="#222">10</text>
<text x="182.3" y="2447" font-size="9" fill="#222">0</text>
<text x="137.2" y="2373.2" font-size="12" textLength="11" lengthAdjust="spacingAndGlyphs" fill="#222">10</text>
<text x="149.4" y="2364.7" font-size="9" fill="#222">1</text>
<text x="216.3" y="2455.3" font-size="12" textLength="12.5" lengthAdjust="spacingAndGlyphs" fill="#222">10</text>
<text x="229.6" y="2447" font-size="9" fill="#222">1</text>
<text x="137.2" y="2314.6" font-size="12" textLength="11" lengthAdjust="spacingAndGlyphs" fill="#222">10</text>
<text x="149.4" y="2306.1" font-size="9" fill="#222">2</text>
<text x="272.9" y="2455.3" font-size="12" textLength="12.5" lengthAdjust="spacingAndGlyphs" fill="#222">10</text>
<text x="286.2" y="2447" font-size="9" fill="#222">2</text>
<text x="137.2" y="2256" font-size="12" textLength="11" lengthAdjust="spacingAndGlyphs" fill="#222">10</text>
<text x="149.4" y="2247.5" font-size="9" fill="#222">3</text>
<text x="329.5" y="2455.3" font-size="12" textLength="12.5" lengthAdjust="spacingAndGlyphs" fill="#222">10</text>
<text x="342.8" y="2447" font-size="9" fill="#222">3</text>
<text x="137.2" y="2217.5" font-size="12" textLength="11" lengthAdjust="spacingAndGlyphs" fill="#222">10</text>
<text x="149.4" y="2209" font-size="9" fill="#222">4</text>
<text x="386.1" y="2455.3" font-size="12" textLength="12.5" lengthAdjust="spacingAndGlyphs" fill="#222">10</text>
<text x="399.4" y="2447" font-size="9" fill="#222">4</text>
<text x="170.5" y="2210.2" font-size="11" fill="#222">Q1</text>
<text x="170.5" y="2226.8" font-size="11" fill="#222">3.20%</text>
<text x="357.6" y="2210.2" font-size="11" fill="#222">Q2</text>
<text x="357.6" y="2226.8" font-size="11" fill="#222">3.85%</text>
<text x="170.5" y="2412" font-size="11" fill="#222">Q4</text>
<text x="170.5" y="2428.5" font-size="11" fill="#222">85.9%</text>
<text x="357.6" y="2412" font-size="11" fill="#222">Q3</text>
<text x="357.6" y="2428.5" font-size="11" fill="#222">7.04%</text>
<path d="M642 2220.5h1m3 0h1m-50 14h1m64 7h1m-42 2h1m-8 1h1m17 3h1m10 0h1m7 0h1m-24 1h1m-3 1h1m-32 2h1m41 0h1m-15 2h1m20 0h1m2 0h1m-42 1h1m23 0h1m8 0h1m-37 1h1m18 1h1m13 0h1m3 1h1m-36 1h1m24 0h1m-52 1h1m51 0h1m-35 1h1m60 0h1m-16 1h1m5 0h1m8 0h1m-68 1h1m61 1h1m1 0h1m-65 1h1m2 0h1m-12 1h1m11 0h1m-8 1h1m-4 1h1m65 1h1m-103 2h1m117 1h1m-87 1h1m80 0h1m-88 1h1m1 1h1m26 0h1m26 1h1m-105 3h1m74 0h1m-28 1h1m-34 1h1m53 0h1m-27 1h1m-18 2h1m104 0h1m-120 3h1m21 0h1m4 0h1m31 0h1m-30 1h1m-17 1h1m104 1h1m-115 1h1m1 0h1m14 0h1m-3 1h1m-46 1h1m19 0h1m28 0h1m20 1h1m79 0h1m-106 1h1m99 1h1m-102 1h1m102 0h1m-143 1h1m37 0h1m111 1h1m-110 2h1m-1 1h1m19 0h1m89 1h1m-14 2h1m-125 1h1m18 0h1m-22 1h1m17 0h1m108 1h1m-129 1h1m14 0h1m8 1h1m116 1h1m-143 2h1m0 1h1m121 0h1m8 0h1m-115 1h1m107 0h1m-78 1h1m-33 1h1m-3 1h1m44 0h1m74 0h1m-121 1h1m105 0h1m-123 1h1m119 1h1m-127 1h1m-3 1h1m20 0h1m-20 1h1m134 0h1m-115 1h1m1 0h1m105 1h1m10 0h1m-136 1h1m17 0h1m96 2h1m8 0h1m0 0h1m-105 2h1m-16 1h1m6 0h1m71 1h1m-83 2h1m6 0h1m0 0h1m107 0h1m12 0h1m-143 1h1m30 0h1m95 0h1m1 0h1m-79 1h1m-36 1h1m2 0h1m108 0h1m27 0h1m-139 1h1m116 0h1m-123 1h1m71 0h1m41 1h1m9 0h1m12 0h1m-133 1h1m121 0h1m8 0h1m-139 1h1m12 0h1m3 0h1m99 0h1m7 0h1m-92 1h1m-43 1h1m0 0h1m20 0h1m96 0h1m-126 1h1m18 0h1m5 0h1m114 0h1m-117 1h1m110 0h1m18 0h1m-168 2h1m14 0h1m13 0h1m117 1h1m-140 1h1m100 0h1m-127 1h1m152 0h1m6 1h1m2 0h1m26 0h1m-5 1h1m-145 1h1m0 2h1m-7 1h1m5 0h1m72 0h1m-114 1h1m149 0h1m43 0h1m-166 1h1m-9 1h1m135 1h1m-121 1h1m28 0h1m77 0h1m10 1h1m1 0h1m25 0h1m-33 1h1m-9 1h1m16 0h1m11 1h1m-21 1h1m-8 1h1m3 0h1m-120 1h1m114 0h1m-128 1h1m3 0h1m127 0h1m-98 1h1m86 0h1m-125 1h1m81 0h1m-74 1h1m76 1h1m44 0h1m-127 1h1m147 0h1m-156 1h1m92 0h1m30 1h1m4 0h1m-138 2h1m36 0h1m4 0h1m-37 1h1m91 0h1m39 0h1m17 1h1m-67 1h1m-3 1h1m31 0h1m4 1h1m4 0h1m16 0h1m-30 1h1m20 0h1m1 1h1m10 1h1m14 0h1m-34 2h1m-133 1h1m2 0h1m82 0h1m63 1h1m-28 1h1m-127 1h1m118 0h1m5 1h1m-3 1h1m3 0h1m-6 1h1m-132 1h1m3 0h1m121 0h1m18 0h1m4 0h1m-146 1h1m132 2h1m-17 2h1m3 0h1m23 0h1m-147 1h1m88 0h1m32 1h1m-122 1h1m15 0h1m89 0h1m-1 1h1m-112 1h1m4 0h1m116 2h1m-124 1h1m112 0h1m4 0h1m12 0h1m-131 1h1m116 1h1m-30 1h1m19 0h1m-22 1h1m64 0h1m-153 3h1m2 0h1m16 0h1m101 0h1m-19 1h1m41 0h1m-149 1h1m114 0h1m-94 1h1m63 0h1m19 0h1m15 0h1m-122 1h1m0 0h1m103 0h1m23 0h1m-138 1h1m16 0h1m71 1h1m-76 1h1m97 0h1m-103 1h1m1 0h1" stroke="#232d96" stroke-width="1" fill="none"/>
<path d="M621 2258.5h1m4 0h1m-7 1h1m2 0h1m-19 1h1m2 0h1m11 0h1m1 0h1m-12 1h1m0 0h1m7 0h1m1 0h1m16 0h1m-37 1h1m2 0h1m9 0h1m5 0h1m5 0h1m13 0h1m-36 1h1m3 0h1m1 0h1m2 0h1m11 0h1m3 0h1m10 0h1m-39 1h1m12 0h1m6 0h1m11 0h1m3 0h1m1 0h1m-39 1h1m4 0h1m7 0h1m-11 1h1m3 0h1m11 0h1m9 0h1m1 0h1m-36 1h1m3 0h1m7 0h1m0 0h1m3 0h1m1 0h1m0 0h1m1 0h1m2 0h1m2 0h1m2 0h1m0 0h1m2 0h1m-46 1h1m0 0h1m6 0h1m1 0h1m8 0h1m0 0h1m12 0h1m2 0h1m0 0h1m8 0h1m0 0h1m1 0h1m0 0h1m0 0h1m-52 1h1m13 0h1m3 0h1m9 0h1m7 0h1m3 0h1m3 0h1m-51 1h1m12 0h1m5 0h1m10 0h1m4 0h1m5 0h1m6 0h1m6 0h1m1 0h1m3 0h1m4 0h1m-63 1h1m9 0h1m3 0h1m26 0h1m0 0h1m3 0h1m1 0h1m0 0h1m2 0h1m-57 1h1m5 0h1m10 0h1m8 0h1m6 0h1m4 0h1m13 0h1m0 0h1m2 0h1m1 0h1m1 0h1m0 0h1m4 0h1m-62 1h1m5 0h1m21 0h1m8 0h1m3 0h1m6 0h1m7 0h1m5 0h1m0 0h1m-68 1h1m12 0h1m7 0h1m1 0h1m33 0h1m0 0h1m1 0h1m5 0h1m-73 1h1m2 0h1m6 0h1m0 0h1m2 0h1m18 0h1m6 0h1m5 0h1m2 0h1m2 0h1m1 0h1m5 0h1m3 0h1m-58 1h1m4 0h1m1 0h1m6 0h1m3 0h1m7 0h1m21 0h1m11 0h1m2 0h1m-68 1h1m4 0h1m2 0h1m12 0h1m20 0h1m8 0h1m11 0h1m-59 1h1m32 0h1m20 0h1m2 0h1m2 0h1m1 0h1m3 0h1m-77 1h1m4 0h1m1 0h1m11 0h1m6 0h1m26 0h1m4 0h1m0 0h1m17 0h1m-67 1h1m64 0h1m-81 1h1m5 0h1m5 0h1m1 0h1m2 0h1m54 0h1m0 0h1m0 0h1m3 0h1m3 0h1m-77 1h1m1 0h1m2 0h1m14 0h1m6 0h1m28 0h1m3 0h1m2 0h1m-55 1h1m3 0h1m53 0h1m1 0h1m-71 1h1m19 0h1m50 0h1m1 0h1m1 0h1m-83 1h1m5 0h1m2 0h1m0 0h1m1 0h1m57 0h1m2 0h1m7 0h1m-75 1h1m2 0h1m3 0h1m62 0h1m4 0h1m-84 1h1m1 0h1m8 0h1m66 0h1m1 0h1m-77 1h1m4 0h1m20 0h1m40 0h1m3 0h1m1 0h1m8 0h1m-77 1h1m7 0h1m1 0h1m50 0h1m3 0h1m8 0h1m-86 1h1m9 0h1m62 0h1m8 0h1m-69 1h1m50 0h1m14 0h1m1 0h1m-86 1h1m3 0h1m6 0h1m4 0h1m1 0h1m0 0h1m67 0h1m-87 1h1m4 0h1m0 0h1m3 0h1m63 0h1m6 0h1m1 0h1m-82 1h1m8 0h1m70 0h1m3 0h1m-79 1h1m63 0h1m2 0h1m4 0h1m-85 1h1m5 0h1m16 0h1m1 0h1m47 0h1m10 0h1m0 0h1m3 0h1m-83 1h1m11 0h1m56 0h1m5 0h1m2 0h1m-82 1h1m3 0h1m1 0h1m3 0h1m2 0h1m8 0h1m50 0h1m7 0h1m6 0h1m-86 1h1m1 0h1m4 0h1m67 0h1m7 0h1m-80 1h1m7 0h1m50 0h1m2 0h1m7 0h1m2 0h1m0 0h1m-86 1h1m5 0h1m2 0h1m3 0h1m71 0h1m1 0h1m1 0h1m2 0h1m-91 1h1m2 0h1m2 0h1m76 0h1m7 0h1m-98 1h1m10 0h1m5 0h1m8 0h1m56 0h1m4 0h1m-6 1h1m2 0h1m7 0h1m-96 1h1m2 0h1m3 0h1m1 0h1m3 0h1m3 0h1m0 0h1m3 0h1m60 0h1m1 0h1m1 0h1m3 0h1m-85 1h1m6 0h1m0 0h1m0 0h1m61 0h1m3 0h1m2 0h1m1 0h1m0 0h1m2 0h1m-62 1h1m50 0h1m2 0h1m-81 1h1m20 0h1m3 0h1m48 0h1m4 0h1m5 0h1m0 0h1m4 0h1m-90 1h1m5 0h1m1 0h1m18 0h1m44 0h1m2 0h1m3 0h1m-84 1h1m3 0h1m1 0h1m4 0h1m5 0h1m56 0h1m2 0h1m9 0h1m0 0h1m-94 1h1m3 0h1m0 0h1m3 0h1m0 0h1m20 0h1m54 0h1m8 0h1m-92 1h1m3 0h1m5 0h1m1 0h1m0 0h1m4 0h1m42 0h1m7 0h1m-78 1h1m11 0h1m0 0h1m30 0h1m31 0h1m3 0h1m2 0h1m3 0h1m-87 1h1m13 0h1m0 0h1m16 0h1m32 0h1m9 0h1m1 0h1m8 0h1m3 0h1m-89 1h1m3 0h1m4 0h1m1 0h1m5 0h1m29 0h1m25 0h1m3 0h1m3 0h1m8 0h1m-91 1h1m1 0h1m2 0h1m2 0h1m1 0h1m5 0h1m15 0h1m50 0h1m0 0h1m-84 1h1m0 0h1m0 0h1m6 0h1m2 0h1m2 0h1m63 0h1m4 0h1m-82 1h1m6 0h1m2 0h1m13 0h1m42 0h1m1 0h1m0 0h1m4 0h1m7 0h1m4 0h1m-98 1h1m9 0h1m2 0h1m1 0h1m4 0h1m51 0h1m-76 1h1m8 0h1m0 0h1m4 0h1m8 0h1m7 0h1m59 0h1m1 0h1m0 0h1m-95 1h1m5 0h1m5 0h1m0 0h1m50 0h1m6 0h1m4 0h1m4 0h1m1 0h1m2 0h1m7 0h1m-94 1h1m9 0h1m2 0h1m0 0h1m0 0h1m1 0h1m1 0h1m40 0h1m21 0h1m-83 1h1m6 0h1m14 0h1m1 0h1m36 0h1m17 0h1m4 0h1m6 0h1m2 0h1m-89 1h1m4 0h1m5 0h1m5 0h1m9 0h1m11 0h1m12 0h1m10 0h1m10 0h1m6 0h1m3 0h1m-82 1h1m5 0h1m14 0h1m32 0h1m5 0h1m7 0h1m1 0h1m0 0h1m11 0h1m-94 1h1m8 0h1m1 0h1m0 0h1m3 0h1m48 0h1m9 0h1m1 0h1m0 0h1m3 0h1m3 0h1m5 0h1m-92 1h1m7 0h1m12 0h1m6 0h1m6 0h1m33 0h1m3 0h1m2 0h1m2 0h1m-68 1h1m8 0h1m4 0h1m39 0h1m0 0h1m0 0h1m3 0h1m2 0h1m5 0h1m-74 1h1m1 0h1m2 0h1m8 0h1m57 0h1m0 0h1m-75 1h1m10 0h1m5 0h1m36 0h1m5 0h1m4 0h1m11 0h1m-85 1h1m4 0h1m4 0h1m0 0h1m14 0h1m39 0h1m15 0h1m-80 1h1m7 0h1m0 0h1m1 0h1m0 0h1m43 0h1m0 0h1m2 0h1m6 0h1m1 0h1m6 0h1m3 0h1m1 0h1m-74 1h1m1 0h1m19 0h1m35 0h1m5 0h1m4 0h1m-32 1h1m20 0h1m0 0h1m1 0h1m2 0h1m10 0h1m1 0h1m-92 1h1m6 0h1m0 0h1m9 0h1m0 0h1m2 0h1m51 0h1m0 0h1m1 0h1m1 0h1m6 0h1m-83 1h1m0 0h1m1 0h1m5 0h1m14 0h1m46 0h1m0 0h1m1 0h1m12 0h1m-80 1h1m7 0h1m7 0h1m39 0h1m5 0h1m5 0h1m0 0h1m0 0h1m1 0h1m7 0h1m-87 1h1m3 0h1m0 0h1m4 0h1m4 0h1m11 0h1m23 0h1m10 0h1m4 0h1m-14 1h1m6 0h1m6 0h1m1 0h1m4 0h1m10 0h1m-91 1h1m72 0h1m15 0h1m-90 1h1m0 0h1m2 0h1m0 0h1m2 0h1m33 0h1m22 0h1m0 0h1m0 0h1m4 0h1m2 0h1m1 0h1m6 0h1m3 0h1m-89 1h1m14 0h1m49 0h1m0 0h1m3 0h1m-78 1h1m12 0h1m7 0h1m1 0h1m8 0h1m30 0h1m6 0h1m3 0h1m1 0h1m0 0h1m2 0h1m1 0h1m2 0h1m3 0h1m-83 1h1m19 0h1m31 0h1m6 0h1m-68 1h1m19 0h1m10 0h1m3 0h1m6 0h1m29 0h1m4 0h1m1 0h1m7 0h1m-79 1h1m0 0h1m11 0h1m10 0h1m30 0h1m8 0h1m4 0h1m7 0h1m7 0h1m-89 1h1m0 0h1m7 0h1m2 0h1m14 0h1m27 0h1m6 0h1m7 0h1m2 0h1m2 0h1m10 0h1m-86 1h1m0 0h1m0 0h1m8 0h1m54 0h1m8 0h1m4 0h1m0 0h1m-91 1h1m9 0h1m8 0h1m13 0h1m31 0h1m2 0h1m3 0h1m10 0h1m1 0h1m-82 1h1m1 0h1m0 0h1m1 0h1m6 0h1m15 0h1m28 0h1m10 0h1m2 0h1m5 0h1m5 0h1m1 0h1m3 0h1m0 0h1m-102 1h1m13 0h1m13 0h1m51 0h1m0 0h1m4 0h1m0 0h1m13 0h1m-108 1h1m6 0h1m1 0h1m2 0h1m0 0h1m16 0h1m20 0h1m24 0h1m0 0h1m2 0h1m0 0h1m6 0h1m0 0h1m8 0h1m-95 1h1m0 0h1m3 0h1m10 0h1m1 0h1m23 0h1m40 0h1m3 0h1m0 0h1m5 0h1m0 0h1m3 0h1m-104 1h1m1 0h1m0 0h1m3 0h1m1 0h1m70 0h1m0 0h1m2 0h1m-75 1h1m8 0h1m1 0h1m11 0h1m28 0h1m9 0h1m11 0h1m4 0h1m1 0h1m2 0h1m1 0h1m5 0h1m-96 1h1m3 0h1m6 0h1m0 0h1m45 0h1m17 0h1m7 0h1m4 0h1m1 0h1m-99 1h1m10 0h1m8 0h1m5 0h1m3 0h1m4 0h1m1 0h1m44 0h1m2 0h1m11 0h1m-86 1h1m1 0h1m3 0h1m11 0h1m29 0h1m8 0h1m3 0h1m8 0h1m8 0h1m8 0h1m-98 1h1m6 0h1m1 0h1m6 0h1m12 0h1m5 0h1m33 0h1m7 0h1m2 0h1m6 0h1m-79 1h1m0 0h1m0 0h1m0 0h1m2 0h1m6 0h1m5 0h1m16 0h1m30 0h1m14 0h1m-73 1h1m0 0h1m9 0h1m34 0h1m9 0h1m-71 1h1m9 0h1m46 0h1m0 0h1m9 0h1m2 0h1m10 0h1m3 0h1m1 0h1m-96 1h1m14 0h1m24 0h1m16 0h1m14 0h1m10 0h1m-82 1h1m5 0h1m2 0h1m10 0h1m23 0h1m11 0h1m11 0h1m5 0h1m0 0h1m14 0h1m2 0h1m2 0h1m-101 1h1m7 0h1m5 0h1m34 0h1m18 0h1m3 0h1m0 0h1m4 0h1m4 0h1m0 0h1m6 0h1m3 0h1m-87 1h1m3 0h1m1 0h1m5 0h1m0 0h1m36 0h1m8 0h1m0 0h1m1 0h1m9 0h1m1 0h1m10 0h1m-100 1h1m1 0h1m0 0h1m0 0h1m2 0h1m2 0h1m7 0h1m13 0h1m29 0h1m3 0h1m7 0h1m6 0h1m7 0h1m4 0h1m1 0h1m-97 1h1m6 0h1m4 0h1m3 0h1m13 0h1m32 0h1m4 0h1m10 0h1m4 0h1m3 0h1m4 0h1m1 0h1m6 0h1m-105 1h1m13 0h1m0 0h1m43 0h1m7 0h1m18 0h1m2 0h1m-88 1h1m8 0h1m0 0h1m31 0h1m31 0h1m12 0h1m6 0h1m4 0h1m-103 1h1m2 0h1m3 0h1m1 0h1m0 0h1m36 0h1m21 0h1m15 0h1m0 0h1m14 0h1m-105 1h1m5 0h1m1 0h1m0 0h1m8 0h1m4 0h1m2 0h1m27 0h1m8 0h1m6 0h1m2 0h1m2 0h1m10 0h1m2 0h1m0 0h1m1 0h1m0 0h1m4 0h1m6 0h1m-98 1h1m0 0h1m7 0h1m38 0h1m30 0h1m3 0h1m-79 1h1m2 0h1m0 0h1m0 0h1m5 0h1m3 0h1m61 0h1m14 0h1m-108 1h1m8 0h1m4 0h1m2 0h1m31 0h1m23 0h1m6 0h1m0 0h1m17 0h1m-101 1h1m5 0h1m1 0h1m1 0h1m6 0h1m34 0h1m21 0h1m2 0h1m0 0h1m6 0h1m18 0h1m-107 1h1m9 0h1m0 0h1m45 0h1m10 0h1m5 0h1m2 0h1m4 0h1m6 0h1m0 0h1m1 0h1m1 0h1m15 0h1m-104 1h1m78 0h1m8 0h1m5 0h1m-93 1h1m0 0h1m59 0h1m4 0h1m10 0h1m4 0h1m14 0h1m0 0h1m2 0h1m-118 1h1m12 0h1m52 0h1m11 0h1m1 0h1m12 0h1m3 0h1m10 0h1m5 0h1m-116 1h1m0 0h1m1 0h1m3 0h1m1 0h1m16 0h1m38 0h1m19 0h1m5 0h1m-88 1h1m4 0h1m6 0h1m74 0h1m2 0h1m2 0h1m0 0h1m12 0h1m-108 1h1m9 0h1m72 0h1m5 0h1m0 0h1m0 0h1m17 0h1m0 0h1m-110 1h1m2 0h1m2 0h1m4 0h1m57 0h1m22 0h1m-98 1h1m6 0h1m0 0h1m1 0h1m9 0h1m53 0h1m1 0h1m10 0h1m8 0h1m-93 1h1m1 0h1m6 0h1m73 0h1m0 0h1m0 0h1m3 0h1m4 0h1m-100 1h1m3 0h1m1 0h1m9 0h1m55 0h1m1 0h1m0 0h1m2 0h1m8 0h1m4 0h1m0 0h1m3 0h1m1 0h1m4 0h1m-100 1h1m0 0h1m4 0h1m76 0h1m11 0h1m-104 1h1m1 0h1m86 0h1m1 0h1m6 0h1m0 0h1m7 0h1m-100 1h1m80 0h1m1 0h1m0 0h1m12 0h1m-95 1h1m75 0h1m4 0h1m0 0h1m2 0h1m3 0h1m2 0h1m-101 1h1m0 0h1m1 0h1m1 0h1m5 0h1m55 0h1m10 0h1m5 0h1m6 0h1m5 0h1m3 0h1m-112 1h1m4 0h1m89 0h1m-93 1h1m80 0h1m5 0h1m2 0h1m4 0h1m1 0h1m6 0h1m2 0h1m-106 1h1m0 0h1m5 0h1m67 0h1m10 0h1m2 0h1m3 0h1m4 0h1m2 0h1m0 0h1m7 0h1m-112 1h1m8 0h1m78 0h1m0 0h1m6 0h1m0 0h1m5 0h1m0 0h1m3 0h1m-116 1h1m2 0h1m88 0h1m0 0h1m1 0h1m4 0h1m-89 1h1m1 0h1m67 0h1m4 0h1m13 0h1m8 0h1m-113 1h1m6 0h1m2 0h1m83 0h1m1 0h1m2 0h1m13 0h1m-115 1h1m13 0h1m12 0h1m63 0h1m16 0h1m7 0h1m-108 1h1m5 0h1m82 0h1m-87 1h1m0 0h1m71 0h1m4 0h1m0 0h1m4 0h1m0 0h1m0 0h1m5 0h1m-95 1h1m0 0h1m3 0h1m70 0h1m7 0h1m2 0h1m2 0h1m-92 1h1m2 0h1m87 0h1m1 0h1m-97 1h1m5 0h1m0 0h1m6 0h1m70 0h1m-87 1h1m1 0h1m1 0h1m80 0h1m9 0h1m-84 1h1m71 0h1m0 0h1m5 0h1m-89 1h1m0 0h1m2 0h1m10 0h1m61 0h1m3 0h1m-87 1h1m2 0h1m4 0h1m70 0h1m1 0h1m3 0h1m2 0h1m3 0h1m1 0h1m-93 1h1m4 0h1m7 0h1m2 0h1m65 0h1m9 0h1m0 0h1m0 0h1m-93 1h1m7 0h1m4 0h1m66 0h1m0 0h1m10 0h1m0 0h1m-95 1h1m7 0h1m2 0h1m64 0h1m3 0h1m7 0h1m-84 1h1m77 0h1m8 0h1m-97 1h1m85 0h1m11 0h1m0 0h1m-22 1h1m-71 1h1m3 0h1m2 0h1m64 0h1m3 0h1m3 0h1m-91 1h1m0 0h1m1 0h1m0 0h1m1 0h1m2 0h1m74 0h1m6 0h1m7 0h1m-93 1h1m1 0h1m0 0h1m65 0h1m3 0h1m3 0h1m2 0h1m1 0h1m0 0h1m-81 1h1m5 0h1m68 0h1m4 0h1m-82 1h1m75 0h1m0 0h1m5 0h1m-82 1h1m59 0h1m10 0h1m-76 1h1m1 0h1m0 0h1m66 0h1m8 0h1m5 0h1m-79 1h1m4 0h1m54 0h1m1 0h1m2 0h1m1 0h1m3 0h1m5 0h1m-80 1h1m1 0h1m62 0h1m3 0h1m2 0h1m1 0h1m2 0h1m-77 1h1m2 0h1m3 0h1m0 0h1m45 0h1m6 0h1m1 0h1" stroke="#2341a8" stroke-width="1" fill="none"/>
<path d="M612 2268.5h1m1 0h1m2 0h1m0 0h1m0 0h1m-9 1h1m9 0h1m0 0h1m-9 1h1m8 0h1m-19 1h1m3 0h1m6 0h1m1 0h1m-6 1h1m0 0h1m5 0h1m4 0h1m1 0h1m0 0h1m0 0h1m3 0h1m-32 1h1m2 0h1m4 0h1m2 0h1m7 0h1m4 0h1m8 0h1m1 0h1m-35 1h1m1 0h1m30 0h1m0 0h1m-39 1h1m5 0h1m0 0h1m0 0h1m0 0h1m1 0h1m5 0h1m0 0h1m5 0h1m14 0h1m-40 1h1m0 0h1m9 0h1m17 0h1m7 0h1m-39 1h1m1 0h1m10 0h1m5 0h1m9 0h1m12 0h1m-44 1h1m0 0h1m2 0h1m5 0h1m0 0h1m1 0h1m22 0h1m0 0h1m5 0h1m-45 1h1m1 0h1m17 0h1m1 0h1m8 0h1m-37 1h1m0 0h1m7 0h1m0 0h1m23 0h1m6 0h1m2 0h1m7 0h1m-55 1h1m3 0h1m0 0h1m11 0h1m10 0h1m8 0h1m12 0h1m0 0h1m0 0h1m-48 1h1m3 0h1m4 0h1m2 0h1m20 0h1m-41 1h1m0 0h1m6 0h1m3 0h1m1 0h1m2 0h1m14 0h1m14 0h1m2 0h1m1 0h1m2 0h1m-56 1h1m1 0h1m1 0h1m0 0h1m1 0h1m3 0h1m10 0h1m8 0h1m16 0h1m8 0h1m-59 1h1m4 0h1m6 0h1m44 0h1m-54 1h1m3 0h1m37 0h1m1 0h1m4 0h1m0 0h1m0 0h1m1 0h1m0 0h1m-62 1h1m4 0h1m4 0h1m5 0h1m34 0h1m4 0h1m0 0h1m1 0h1m4 0h1m-65 1h1m4 0h1m2 0h1m0 0h1m0 0h1m36 0h1m4 0h1m4 0h1m3 0h1m0 0h1m1 0h1m-64 1h1m0 0h1m0 0h1m1 0h1m36 0h1m7 0h1m4 0h1m1 0h1m4 0h1m-62 1h1m3 0h1m6 0h1m37 0h1m3 0h1m0 0h1m7 0h1m-64 1h1m52 0h1m0 0h1m4 0h1m2 0h1m1 0h1m-66 1h1m5 0h1m2 0h1m46 0h1m2 0h1m0 0h1m-61 1h1m2 0h1m11 0h1m38 0h1m0 0h1m6 0h1m0 0h1m0 0h1m-60 1h1m1 0h1m48 0h1m-9 1h1m7 0h1m6 0h1m-65 1h1m8 0h1m47 0h1m-53 1h1m2 0h1m0 0h1m1 0h1m37 0h1m2 0h1m9 0h1m-64 1h1m1 0h1m6 0h1m43 0h1m1 0h1m0 0h1m0 0h1m5 0h1m0 0h1m0 0h1m-65 1h1m13 0h1m34 0h1m0 0h1m0 0h1m3 0h1m0 0h1m2 0h1m1 0h1m1 0h1m-51 1h1m36 0h1m-54 1h1m5 0h1m0 0h1m0 0h1m0 0h1m1 0h1m1 0h1m36 0h1m14 0h1m-63 1h1m6 0h1m0 0h1m40 0h1m5 0h1m2 0h1m-58 1h1m11 0h1m36 0h1m5 0h1m-59 1h1m2 0h1m1 0h1m6 0h1m39 0h1m0 0h1m1 0h1m6 0h1m-62 1h1m3 0h1m0 0h1m18 0h1m15 0h1m9 0h1m6 0h1m3 0h1m-60 1h1m0 0h1m1 0h1m0 0h1m1 0h1m14 0h1m-27 1h1m14 0h1m37 0h1m0 0h1m1 0h1m4 0h1m-62 1h1m4 0h1m2 0h1m6 0h1m38 0h1m-53 1h1m3 0h1m1 0h1m33 0h1m6 0h1m7 0h1m0 0h1m-60 1h1m9 0h1m2 0h1m3 0h1m22 0h1m3 0h1m16 0h1m-61 1h1m1 0h1m0 0h1m1 0h1m6 0h1m0 0h1m15 0h1m24 0h1m-56 1h1m27 0h1m9 0h1m17 0h1m3 0h1m0 0h1m-62 1h1m2 0h1m0 0h1m2 0h1m1 0h1m5 0h1m28 0h1m0 0h1m11 0h1m-56 1h1m5 0h1m39 0h1m4 0h1m2 0h1m2 0h1m-56 1h1m10 0h1m14 0h1m8 0h1m0 0h1m0 0h1m2 0h1m2 0h1m2 0h1m0 0h1m6 0h1m-58 1h1m12 0h1m4 0h1m2 0h1m0 0h1m0 0h1m1 0h1m1 0h1m7 0h1m7 0h1m3 0h1m4 0h1m3 0h1m-59 1h1m9 0h1m24 0h1m1 0h1m2 0h1m-42 1h1m2 0h1m0 0h1m1 0h1m6 0h1m2 0h1m3 0h1m5 0h1m21 0h1m4 0h1m3 0h1m-54 1h1m1 0h1m10 0h1m6 0h1m7 0h1m8 0h1m8 0h1m2 0h1m2 0h1m-59 1h1m0 0h1m13 0h1m3 0h1m5 0h1m4 0h1m2 0h1m8 0h1m4 0h1m2 0h1m4 0h1m1 0h1m-58 1h1m3 0h1m0 0h1m1 0h1m2 0h1m1 0h1m12 0h1m7 0h1m10 0h1m1 0h1m6 0h1m2 0h1m-59 1h1m2 0h1m4 0h1m22 0h1m0 0h1m3 0h1m5 0h1m12 0h1m1 0h1m-59 1h1m0 0h1m4 0h1m6 0h1m1 0h1m2 0h1m3 0h1m4 0h1m6 0h1m2 0h1m0 0h1m5 0h1m2 0h1m9 0h1m-60 1h1m5 0h1m3 0h1m9 0h1m0 0h1m2 0h1m6 0h1m15 0h1m0 0h1m0 0h1m5 0h1m-56 1h1m5 0h1m3 0h1m1 0h1m1 0h1m5 0h1m14 0h1m2 0h1m1 0h1m0 0h1m13 0h1m-57 1h1m0 0h1m0 0h1m5 0h1m2 0h1m9 0h1m1 0h1m14 0h1m0 0h1m13 0h1m1 0h1m1 0h1m-58 1h1m0 0h1m7 0h1m7 0h1m8 0h1m9 0h1m1 0h1m8 0h1m8 0h1m-54 1h1m0 0h1m1 0h1m1 0h1m2 0h1m4 0h1m10 0h1m11 0h1m0 0h1m5 0h1m1 0h1m-49 1h1m0 0h1m8 0h1m2 0h1m22 0h1m4 0h1m7 0h1m-40 1h1m0 0h1m3 0h1m9 0h1m1 0h1m16 0h1m1 0h1m6 0h1m0 0h1m-54 1h1m2 0h1m1 0h1m10 0h1m1 0h1m0 0h1m20 0h1m4 0h1m0 0h1m0 0h1m-48 1h1m3 0h1m1 0h1m1 0h1m25 0h1m14 0h1m-51 1h1m7 0h1m11 0h1m0 0h1m13 0h1m12 0h1m0 0h1m-49 1h1m7 0h1m1 0h1m0 0h1m16 0h1m3 0h1m4 0h1m7 0h1m0 0h1m-49 1h1m0 0h1m8 0h1m1 0h1m4 0h1m5 0h1m11 0h1m5 0h1m3 0h1m-40 1h1m0 0h1m3 0h1m3 0h1m3 0h1m7 0h1m6 0h1m8 0h1m5 0h1m1 0h1m0 0h1m-51 1h1m8 0h1m3 0h1m4 0h1m16 0h1m6 0h1m0 0h1m-44 1h1m0 0h1m4 0h1m0 0h1m4 0h1m0 0h1m3 0h1m1 0h1m13 0h1m6 0h1m3 0h1m1 0h1m0 0h1m-49 1h1m2 0h1m2 0h1m7 0h1m23 0h1m1 0h1m1 0h1m-38 1h1m3 0h1m0 0h1m2 0h1m0 0h1m5 0h1m3 0h1m0 0h1m10 0h1m6 0h1m5 0h1m-56 1h1m6 0h1m2 0h1m2 0h1m3 0h1m2 0h1m1 0h1m6 0h1m4 0h1m14 0h1m2 0h1m-52 1h1m1 0h1m0 0h1m7 0h1m0 0h1m3 0h1m0 0h1m0 0h1m3 0h1m1 0h1m8 0h1m3 0h1m4 0h1m1 0h1m1 0h1m0 0h1m-50 1h1m0 0h1m24 0h1m11 0h1m4 0h1m1 0h1m1 0h1m5 0h1m0 0h1m-57 1h1m1 0h1m1 0h1m4 0h1m7 0h1m1 0h1m3 0h1m9 0h1m8 0h1m11 0h1m-55 1h1m0 0h1m7 0h1m13 0h1m0 0h1m8 0h1m0 0h1m4 0h1m8 0h1m4 0h1m0 0h1m0 0h1m-45 1h1m9 0h1m13 0h1m15 0h1m-40 1h1m7 0h1m1 0h1m8 0h1m2 0h1m1 0h1m6 0h1m-47 1h1m0 0h1m7 0h1m1 0h1m1 0h1m2 0h1m10 0h1m2 0h1m0 0h1m0 0h1m12 0h1m0 0h1m1 0h1m3 0h1m-54 1h1m1 0h1m4 0h1m5 0h1m5 0h1m0 0h1m5 0h1m3 0h1m8 0h1m1 0h1m10 0h1m0 0h1m1 0h1m2 0h1m-59 1h1m0 0h1m0 0h1m10 0h1m2 0h1m11 0h1m1 0h1m14 0h1m7 0h1m0 0h1m0 0h1m4 0h1m-61 1h1m1 0h1m0 0h1m8 0h1m2 0h1m2 0h1m0 0h1m14 0h1m0 0h1m3 0h1m0 0h1m3 0h1m2 0h1m2 0h1m7 0h1m0 0h1m-57 1h1m7 0h1m0 0h1m2 0h1m5 0h1m7 0h1m1 0h1m0 0h1m6 0h1m3 0h1m0 0h1m2 0h1m1 0h1m4 0h1m-53 1h1m0 0h1m1 0h1m1 0h1m0 0h1m3 0h1m0 0h1m1 0h1m4 0h1m10 0h1m17 0h1m6 0h1m0 0h1m2 0h1m-59 1h1m3 0h1m3 0h1m3 0h1m2 0h1m13 0h1m4 0h1m7 0h1m8 0h1m-55 1h1m10 0h1m7 0h1m4 0h1m4 0h1m1 0h1m18 0h1m1 0h1m0 0h1m1 0h1m2 0h1m-59 1h1m0 0h1m13 0h1m5 0h1m3 0h1m6 0h1m14 0h1m2 0h1m1 0h1m0 0h1m2 0h1m-49 1h1m8 0h1m7 0h1m11 0h1m1 0h1m6 0h1m4 0h1m3 0h1m0 0h1m-57 1h1m0 0h1m11 0h1m2 0h1m1 0h1m0 0h1m5 0h1m25 0h1m-48 1h1m0 0h1m5 0h1m0 0h1m13 0h1m0 0h1m5 0h1m7 0h1m6 0h1m1 0h1m1 0h1m-56 1h1m0 0h1m0 0h1m11 0h1m6 0h1m2 0h1m5 0h1m11 0h1m6 0h1m-50 1h1m0 0h1m19 0h1m3 0h1m11 0h1m12 0h1m-52 1h1m9 0h1m1 0h1m2 0h1m4 0h1m1 0h1m10 0h1m1 0h1m12 0h1m-49 1h1m4 0h1m0 0h1m1 0h1m2 0h1m6 0h1m7 0h1m7 0h1m1 0h1m5 0h1m3 0h1m6 0h1m3 0h1m-57 1h1m15 0h1m8 0h1m-27 1h1m0 0h1m0 0h1m2 0h1m6 0h1m1 0h1m1 0h1m0 0h1m7 0h1m15 0h1m3 0h1m4 0h1m6 0h1m-60 1h1m10 0h1m9 0h1m2 0h1m11 0h1m0 0h1m9 0h1m8 0h1m1 0h1m0 0h1m-61 1h1m2 0h1m2 0h1m0 0h1m9 0h1m1 0h1m2 0h1m3 0h1m0 0h1m4 0h1m1 0h1m1 0h1m1 0h1m7 0h1m13 0h1m-50 1h1m2 0h1m0 0h1m2 0h1m6 0h1m14 0h1m10 0h1m6 0h1m0 0h1m-62 1h1m1 0h1m9 0h1m4 0h1m4 0h1m3 0h1m2 0h1m13 0h1m9 0h1m5 0h1m1 0h1m-70 1h1m2 0h1m1 0h1m2 0h1m2 0h1m5 0h1m0 0h1m3 0h1m6 0h1m1 0h1m8 0h1m2 0h1m4 0h1m5 0h1m1 0h1m1 0h1m8 0h1m0 0h1m-70 1h1m1 0h1m11 0h1m7 0h1m4 0h1m3 0h1m0 0h1m1 0h1m0 0h1m2 0h1m0 0h1m3 0h1m1 0h1m3 0h1m0 0h1m2 0h1m5 0h1m6 0h1m1 0h1m-66 1h1m7 0h1m8 0h1m8 0h1m5 0h1m2 0h1m4 0h1m18 0h1m6 0h1m-70 1h1m5 0h1m0 0h1m2 0h1m3 0h1m11 0h1m6 0h1m7 0h1m4 0h1m0 0h1m11 0h1m3 0h1m1 0h1m1 0h1m-73 1h1m3 0h1m5 0h1m5 0h1m3 0h1m11 0h1m1 0h1m4 0h1m27 0h1m1 0h1m-73 1h1m0 0h1m8 0h1m1 0h1m0 0h1m3 0h1m4 0h1m18 0h1m26 0h1m5 0h1m-67 1h1m34 0h1m13 0h1m2 0h1m1 0h1m1 0h1m-53 1h1m3 0h1m2 0h1m1 0h1m11 0h1m5 0h1m1 0h1m3 0h1m2 0h1m0 0h1m1 0h1m10 0h1m7 0h1m0 0h1m-73 1h1m8 0h1m10 0h1m7 0h1m12 0h1m0 0h1m2 0h1m0 0h1m0 0h1m16 0h1m7 0h1m0 0h1m-73 1h1m2 0h1m4 0h1m2 0h1m2 0h1m1 0h1m8 0h1m17 0h1m7 0h1m2 0h1m0 0h1m2 0h1m1 0h1m3 0h1m6 0h1m-71 1h1m3 0h1m6 0h1m0 0h1m8 0h1m5 0h1m12 0h1m14 0h1m2 0h1m2 0h1m5 0h1m0 0h1m-74 1h1m2 0h1m35 0h1m7 0h1m4 0h1m12 0h1m4 0h1m-70 1h1m3 0h1m8 0h1m22 0h1m4 0h1m0 0h1m10 0h1m0 0h1m12 0h1m0 0h1m-65 1h1m45 0h1m1 0h1m12 0h1m-70 1h1m4 0h1m4 0h1m1 0h1m41 0h1m1 0h1m1 0h1m8 0h1m-60 1h1m1 0h1m42 0h1m1 0h1m8 0h1m3 0h1m0 0h1m-72 1h1m7 0h1m14 0h1m29 0h1m2 0h1m8 0h1m0 0h1m3 0h1m0 0h1m-75 1h1m11 0h1m12 0h1m32 0h1m2 0h1m4 0h1m5 0h1m-75 1h1m5 0h1m3 0h1m46 0h1m5 0h1m0 0h1m4 0h1m7 0h1m-79 1h1m4 0h1m53 0h1m6 0h1m8 0h1m0 0h1m-77 1h1m3 0h1m3 0h1m1 0h1m52 0h1m4 0h1m7 0h1m0 0h1m-78 1h1m6 0h1m0 0h1m55 0h1m5 0h1m1 0h1m1 0h1m0 0h1m-77 1h1m12 0h1m53 0h1m0 0h1m1 0h1m5 0h1m-76 1h1m65 0h1m-69 1h1m3 0h1m1 0h1m0 0h1m0 0h1m45 0h1m5 0h1m7 0h1m-69 1h1m11 0h1m51 0h1m3 0h1m3 0h1m-73 1h1m2 0h1m1 0h1m6 0h1m50 0h1m0 0h1m0 0h1m-66 1h1m0 0h1m5 0h1m3 0h1m49 0h1m5 0h1m-67 1h1m2 0h1m2 0h1m2 0h1m59 0h1m-9 1h1m8 0h1m0 0h1m-20 1h1m11 0h1m1 0h1m3 0h1m-76 1h1m3 0h1m3 0h1m54 0h1m6 0h1m0 0h1m3 0h1m-74 1h1m1 0h1m2 0h1m58 0h1m8 0h1m-75 1h1m1 0h1m0 0h1m63 0h1m3 0h1m2 0h1m-13 1h1m3 0h1m2 0h1m3 0h1m-78 1h1m6 0h1m57 0h1m6 0h1m-69 1h1m3 0h1m57 0h1m1 0h1m-61 1h1m-7 1h1m2 0h1m59 0h1m-63 1h1m2 0h1m1 0h1m60 0h1m-68 1h1m7 0h1m54 0h1m0 0h1m2 1h1m-71 1h1m5 0h1m-1 1h1m1 0h1m55 0h1m1 0h1m-68 1h1m11 0h1m58 0h1m-72 1h1m3 0h1m10 0h1m2 0h1m44 0h1m8 0h1m-60 1h1m53 0h1m-60 1h1m0 0h1m-7 1h1m0 0h1m44 0h1m16 0h1m-66 1h1m3 0h1m3 0h1m3 0h1m48 0h1m5 0h1m1 0h1m-59 1h1m1 0h1m40 0h1m-54 1h1m0 0h1m2 0h1m4 0h1m45 0h1m2 0h1m4 0h1m2 0h1m-58 1h1m48 0h1m1 0h1m3 0h1m0 0h1m0 0h1m-66 1h1m6 0h1m2 0h1m38 0h1m3 0h1m-52 1h1m1 0h1m0 0h1m3 0h1m2 0h1m0 0h1m0 0h1m4 0h1m5 0h1m16 0h1m1 0h1m0 0h1m1 0h1m2 0h1m1 0h1m5 0h1m0 0h1m-53 1h1m7 0h1m1 0h1m3 0h1m0 0h1m0 0h1m3 0h1m11 0h1m0 0h1m2 0h1m0 0h1m4 0h1m1 0h1" stroke="#2355ba" stroke-width="1" fill="none"/>
<path d="M620 2269.5h1m-5 1h1m2 1h1m-14 1h1m8 1h1m9 0h1m4 0h1m-18 1h1m0 0h1m0 0h1m1 0h1m1 0h1m-2 1h1m-11 1h1m3 0h1m11 0h1m6 0h1m-27 1h1m2 0h1m4 0h1m0 0h1m1 0h1m3 0h1m1 0h1m1 0h1m4 0h1m1 0h1m0 0h1m-28 1h1m5 0h1m2 0h1m0 0h1m2 0h1m1 0h1m4 0h1m3 0h1m1 0h1m-30 1h1m5 0h1m2 0h1m0 0h1m4 0h1m3 0h1m3 0h1m6 0h1m1 0h1m3 0h1m-35 1h1m0 0h1m1 0h1m4 0h1m0 0h1m0 0h1m7 0h1m5 0h1m8 0h1m-38 1h1m4 0h1m2 0h1m1 0h1m0 0h1m3 0h1m4 0h1m0 0h1m0 0h1m6 0h1m2 0h1m0 0h1m-23 1h1m1 0h1m0 0h1m1 0h1m3 0h1m0 0h1m3 0h1m0 0h1m1 0h1m0 0h1m0 0h1m2 0h1m4 0h1m-42 1h1m0 0h1m6 0h1m5 0h1m0 0h1m0 0h1m8 0h1m7 0h1m4 0h1m4 0h1m0 0h1m-46 1h1m4 0h1m0 0h1m2 0h1m2 0h1m10 0h1m0 0h1m2 0h1m0 0h1m12 0h1m2 0h1m-42 1h1m5 0h1m1 0h1m3 0h1m4 0h1m1 0h1m0 0h1m7 0h1m0 0h1m0 0h1m0 0h1m0 0h1m2 0h1m1 0h1m0 0h1m-46 1h1m2 0h1m1 0h1m1 0h1m0 0h1m3 0h1m0 0h1m16 0h1m5 0h1m16 0h1m-49 1h1m0 0h1m4 0h1m3 0h1m1 0h1m1 0h1m14 0h1m-19 1h1m6 0h1m9 0h1m1 0h1m3 0h1m0 0h1m0 0h1m-44 1h1m6 0h1m2 0h1m0 0h1m16 0h1m3 0h1m4 0h1m7 0h1m0 0h1m0 0h1m1 0h1m-51 1h1m9 0h1m28 0h1m7 0h1m-45 1h1m0 0h1m0 0h1m0 0h1m32 0h1m0 0h1m3 0h1m4 0h1m0 0h1m-47 1h1m2 0h1m4 0h1m16 0h1m1 0h1m6 0h1m7 0h1m1 0h1m-55 1h1m7 0h1m2 0h1m0 0h1m36 0h1m2 0h1m-52 1h1m3 0h1m4 0h1m3 0h1m28 0h1m4 0h1m-41 1h1m0 0h1m1 0h1m0 0h1m0 0h1m0 0h1m2 0h1m28 0h1m1 0h1m4 0h1m-49 1h1m7 0h1m35 0h1m2 0h1m-39 1h1m0 0h1m1 0h1m23 0h1m4 0h1m4 0h1m-52 1h1m1 0h1m1 0h1m5 0h1m26 0h1m17 0h1m-15 1h1m9 0h1m-49 1h1m0 0h1m3 0h1m0 0h1m32 0h1m1 0h1m-46 1h1m10 0h1m0 0h1m1 0h1m1 0h1m4 0h1m7 0h1m6 0h1m10 0h1m8 0h1m-55 1h1m1 0h1m0 0h1m8 0h1m1 0h1m3 0h1m4 0h1m0 0h1m7 0h1m3 0h1m4 0h1m3 0h1m4 0h1m-52 1h1m0 0h1m3 0h1m2 0h1m3 0h1m0 0h1m2 0h1m2 0h1m25 0h1m0 0h1m2 0h1m3 0h1m1 0h1m-56 1h1m8 0h1m0 0h1m0 0h1m2 0h1m18 0h1m10 0h1m8 0h1m-49 1h1m7 0h1m4 0h1m0 0h1m0 0h1m3 0h1m9 0h1m0 0h1m0 0h1m2 0h1m16 0h1m-49 1h1m4 0h1m5 0h1m6 0h1m1 0h1m3 0h1m14 0h1m1 0h1m-48 1h1m1 0h1m3 0h1m1 0h1m0 0h1m2 0h1m1 0h1m2 0h1m4 0h1m5 0h1m0 0h1m0 0h1m1 0h1m8 0h1m2 0h1m-52 1h1m12 0h1m1 0h1m2 0h1m1 0h1m3 0h1m16 0h1m4 0h1m3 0h1m1 0h1m-43 1h1m1 0h1m2 0h1m0 0h1m0 0h1m3 0h1m4 0h1m0 0h1m0 0h1m1 0h1m2 0h1m0 0h1m0 0h1m0 0h1m1 0h1m4 0h1m2 0h1m3 0h1m0 0h1m-38 1h1m3 0h1m12 0h1m0 0h1m4 0h1m2 0h1m4 0h1m0 0h1m0 0h1m3 0h1m0 0h1m1 0h1m1 0h1m-50 1h1m5 0h1m7 0h1m0 0h1m11 0h1m1 0h1m0 0h1m0 0h1m4 0h1m6 0h1m-52 1h1m2 0h1m1 0h1m0 0h1m6 0h1m2 0h1m1 0h1m0 0h1m2 0h1m1 0h1m4 0h1m2 0h1m0 0h1m0 0h1m1 0h1m2 0h1m7 0h1m-44 1h1m2 0h1m2 0h1m0 0h1m0 0h1m3 0h1m0 0h1m3 0h1m0 0h1m0 0h1m0 0h1m3 0h1m0 0h1m2 0h1m1 0h1m0 0h1m1 0h1m0 0h1m8 0h1m-48 1h1m3 0h1m6 0h1m0 0h1m0 0h1m4 0h1m5 0h1m1 0h1m3 0h1m7 0h1m3 0h1m0 0h1m1 0h1m-35 1h1m7 0h1m1 0h1m6 0h1m1 0h1m3 0h1m1 0h1m-23 1h1m0 0h1m1 0h1m15 0h1m14 0h1m-46 1h1m10 0h1m1 0h1m0 0h1m6 0h1m2 0h1m0 0h1m3 0h1m6 0h1m1 0h1m-35 1h1m7 0h1m2 0h1m1 0h1m0 0h1m0 0h1m5 0h1m2 0h1m1 0h1m1 0h1m2 0h1m1 0h1m3 0h1m-45 1h1m3 0h1m11 0h1m6 0h1m1 0h1m5 0h1m5 0h1m2 0h1m3 0h1m-46 1h1m6 0h1m1 0h1m0 0h1m1 0h1m0 0h1m3 0h1m1 0h1m3 0h1m6 0h1m3 0h1m10 0h1m-44 1h1m1 0h1m0 0h1m6 0h1m4 0h1m0 0h1m1 0h1m4 0h1m1 0h1m2 0h1m7 0h1m0 0h1m5 0h1m-43 1h1m2 0h1m1 0h1m0 0h1m11 0h1m2 0h1m4 0h1m13 0h1m4 0h1m-45 1h1m2 0h1m1 0h1m2 0h1m3 0h1m1 0h1m0 0h1m1 0h1m10 0h1m3 0h1m-35 1h1m5 0h1m5 0h1m1 0h1m3 0h1m0 0h1m4 0h1m1 0h1m1 0h1m1 0h1m8 0h1m-30 1h1m1 0h1m1 0h1m5 0h1m7 0h1m8 0h1m-46 1h1m4 0h1m4 0h1m0 0h1m14 0h1m0 0h1m5 0h1m3 0h1m-28 1h1m3 0h1m2 0h1m0 0h1m2 0h1m4 0h1m0 0h1m0 0h1m4 0h1m1 0h1m0 0h1m0 0h1m4 0h1m4 0h1m-40 1h1m2 0h1m3 0h1m5 0h1m2 0h1m3 0h1m0 0h1m2 0h1m6 0h1m-35 1h1m8 0h1m0 0h1m8 0h1m1 0h1m6 0h1m2 0h1m3 0h1m3 0h1m-30 1h1m1 0h1m0 0h1m0 0h1m8 0h1m0 0h1m0 0h1m1 0h1m0 0h1m4 0h1m-35 1h1m12 0h1m0 0h1m0 0h1m3 0h1m5 0h1m0 0h1m5 0h1m2 0h1m5 0h1m-42 1h1m5 0h1m0 0h1m1 0h1m3 0h1m3 0h1m0 0h1m3 0h1m0 0h1m4 0h1m2 0h1m-30 1h1m4 0h1m0 0h1m5 0h1m1 0h1m1 0h1m1 0h1m1 0h1m0 0h1m5 0h1m0 0h1m3 0h1m0 0h1m1 0h1m4 0h1m-43 1h1m4 0h1m1 0h1m10 0h1m0 0h1m2 0h1m0 0h1m0 0h1m6 0h1m1 0h1m0 0h1m0 0h1m0 0h1m-37 1h1m5 0h1m4 0h1m3 0h1m3 0h1m4 0h1m5 0h1m0 0h1m-27 1h1m1 0h1m1 0h1m3 0h1m1 0h1m4 0h1m5 0h1m2 0h1m1 0h1m-32 1h1m7 0h1m15 0h1m4 0h1m0 0h1m9 0h1m-39 1h1m6 0h1m3 0h1m0 0h1m4 0h1m2 0h1m6 0h1m-36 1h1m5 0h1m0 0h1m2 0h1m0 0h1m1 0h1m7 0h1m0 0h1m9 0h1m-28 1h1m0 0h1m8 0h1m5 0h1m2 0h1m2 0h1m0 0h1m8 0h1m-35 1h1m3 0h1m3 0h1m7 0h1m0 0h1m6 0h1m5 0h1m0 0h1m2 0h1m1 0h1m0 0h1m-29 1h1m11 0h1m0 0h1m1 0h1m1 0h1m2 0h1m3 0h1m-41 1h1m4 0h1m1 0h1m0 0h1m13 0h1m7 0h1m10 0h1m-33 1h1m1 0h1m5 0h1m4 0h1m1 0h1m3 0h1m2 0h1m2 0h1m1 0h1m1 0h1m3 0h1m1 0h1m-49 1h1m7 0h1m1 0h1m0 0h1m5 0h1m5 0h1m0 0h1m2 0h1m0 0h1m6 0h1m1 0h1m4 0h1m5 0h1m-45 1h1m5 0h1m16 0h1m0 0h1m1 0h1m3 0h1m0 0h1m4 0h1m-44 1h1m2 0h1m2 0h1m10 0h1m9 0h1m21 0h1m-34 1h1m15 0h1m2 0h1m2 0h1m1 0h1m10 0h1m2 0h1m-42 1h1m5 0h1m0 0h1m2 0h1m0 0h1m11 0h1m1 0h1m0 0h1m0 0h1m4 0h1m-46 1h1m6 0h1m2 0h1m3 0h1m0 0h1m0 0h1m1 0h1m3 0h1m6 0h1m8 0h1m9 0h1m-46 1h1m18 0h1m0 0h1m4 0h1m3 0h1m1 0h1m3 0h1m2 0h1m5 0h1m5 0h1m-41 1h1m6 0h1m1 0h1m13 0h1m-30 1h1m4 0h1m0 0h1m0 0h1m2 0h1m2 0h1m2 0h1m0 0h1m4 0h1m3 0h1m0 0h1m6 0h1m-37 1h1m5 0h1m2 0h1m0 0h1m1 0h1m1 0h1m10 0h1m3 0h1m0 0h1m2 0h1m0 0h1m3 0h1m-37 1h1m3 0h1m3 0h1m1 0h1m0 0h1m6 0h1m4 0h1m0 0h1m3 0h1m0 0h1m0 0h1m1 0h1m1 0h1m-39 1h1m2 0h1m1 0h1m2 0h1m2 0h1m0 0h1m7 0h1m5 0h1m2 0h1m6 0h1m0 0h1m0 0h1m-38 1h1m9 0h1m6 0h1m3 0h1m4 0h1m0 0h1m1 0h1m1 0h1m1 0h1m1 0h1m0 0h1m-34 1h1m13 0h1m2 0h1m2 0h1m0 0h1m0 0h1m1 0h1m12 0h1m-48 1h1m10 0h1m7 0h1m2 0h1m3 0h1m0 0h1m0 0h1m0 0h1m0 0h1m4 0h1m2 0h1m4 0h1m-43 1h1m2 0h1m2 0h1m9 0h1m8 0h1m1 0h1m6 0h1m0 0h1m-31 1h1m2 0h1m0 0h1m2 0h1m3 0h1m1 0h1m2 0h1m0 0h1m2 0h1m0 0h1m5 0h1m4 0h1m1 0h1m0 0h1m2 0h1m-45 1h1m0 0h1m1 0h1m1 0h1m5 0h1m1 0h1m4 0h1m2 0h1m1 0h1m2 0h1m1 0h1m5 0h1m1 0h1m1 0h1m-36 1h1m2 0h1m0 0h1m2 0h1m0 0h1m1 0h1m5 0h1m1 0h1m7 0h1m7 0h1m7 0h1m-44 1h1m5 0h1m6 0h1m1 0h1m7 0h1m10 0h1m0 0h1m0 0h1m3 0h1m-46 1h1m5 0h1m1 0h1m15 0h1m0 0h1m20 0h1m-42 1h1m3 0h1m3 0h1m3 0h1m17 0h1m3 0h1m-38 1h1m22 0h1m5 0h1m-25 1h1m3 0h1m4 0h1m5 0h1m0 0h1m1 0h1m0 0h1m0 0h1m-29 1h1m2 0h1m0 0h1m2 0h1m18 0h1m0 0h1m5 0h1m1 0h1m-39 1h1m2 0h1m4 0h1m5 0h1m1 0h1m3 0h1m2 0h1m6 0h1m3 0h1m0 0h1m-39 1h1m0 0h1m8 0h1m0 0h1m2 0h1m1 0h1m2 0h1m6 0h1m0 0h1m3 0h1m9 0h1m8 0h1m-49 1h1m1 0h1m1 0h1m0 0h1m0 0h1m4 0h1m10 0h1m5 0h1m0 0h1m0 0h1m1 0h1m2 0h1m9 0h1m-46 1h1m2 0h1m0 0h1m2 0h1m7 0h1m2 0h1m1 0h1m2 0h1m1 0h1m0 0h1m0 0h1m3 0h1m1 0h1m4 0h1m-48 1h1m2 0h1m11 0h1m1 0h1m0 0h1m8 0h1m0 0h1m0 0h1m3 0h1m1 0h1m1 0h1m10 0h1m4 0h1m2 0h1m-43 1h1m1 0h1m0 0h1m3 0h1m0 0h1m12 0h1m1 0h1m0 0h1m5 0h1m1 0h1m0 0h1m1 0h1m1 0h1m-61 1h1m11 0h1m0 0h1m0 0h1m3 0h1m2 0h1m3 0h1m7 0h1m4 0h1m1 0h1m5 0h1m0 0h1m2 0h1m6 0h1m-40 1h1m9 0h1m1 0h1m3 0h1m0 0h1m9 0h1m9 0h1m-53 1h1m10 0h1m0 0h1m3 0h1m0 0h1m0 0h1m0 0h1m5 0h1m4 0h1m11 0h1m5 0h1m-48 1h1m5 0h1m7 0h1m1 0h1m4 0h1m7 0h1m4 0h1m5 0h1m5 0h1m0 0h1m-51 1h1m2 0h1m3 0h1m0 0h1m5 0h1m8 0h1m3 0h1m3 0h1m4 0h1m0 0h1m2 0h1m0 0h1m-44 1h1m2 0h1m1 0h1m1 0h1m3 0h1m1 0h1m3 0h1m0 0h1m0 0h1m7 0h1m2 0h1m0 0h1m0 0h1m0 0h1m14 0h1m0 0h1m2 0h1m1 0h1m-49 1h1m5 0h1m0 0h1m3 0h1m28 0h1m1 0h1m-48 1h1m0 0h1m4 0h1m0 0h1m1 0h1m4 0h1m4 0h1m10 0h1m3 0h1m1 0h1m7 0h1m5 0h1m-56 1h1m3 0h1m0 0h1m1 0h1m2 0h1m2 0h1m1 0h1m8 0h1m2 0h1m15 0h1m1 0h1m9 0h1m-56 1h1m8 0h1m4 0h1m1 0h1m0 0h1m9 0h1m3 0h1m7 0h1m4 0h1m0 0h1m1 0h1m4 0h1m8 0h1m-59 1h1m4 0h1m0 0h1m5 0h1m0 0h1m14 0h1m5 0h1m3 0h1m7 0h1m1 0h1m-51 1h1m0 0h1m6 0h1m1 0h1m3 0h1m12 0h1m8 0h1m4 0h1m3 0h1m-54 1h1m7 0h1m4 0h1m1 0h1m0 0h1m8 0h1m26 0h1m4 0h1m0 0h1m3 0h1m-65 1h1m5 0h1m1 0h1m0 0h1m0 0h1m0 0h1m0 0h1m6 0h1m30 0h1m1 0h1m2 0h1m2 0h1m0 0h1m1 0h1m6 0h1m-11 1h1m-57 1h1m0 0h1m2 0h1m3 0h1m1 0h1m35 0h1m9 0h1m3 0h1m-59 1h1m0 0h1m0 0h1m44 0h1m4 0h1m1 0h1m-57 1h1m0 0h1m4 0h1m0 0h1m35 0h1m4 0h1m4 0h1m3 0h1m0 0h1m-61 1h1m3 0h1m4 0h1m38 0h1m1 0h1m5 0h1m2 0h1m-58 1h1m2 0h1m48 0h1m1 0h1m0 0h1m0 0h1m-63 1h1m0 0h1m1 0h1m53 0h1m7 0h1m-62 1h1m2 0h1m46 0h1m3 0h1m0 0h1m5 0h1m1 0h1m-67 1h1m6 0h1m57 0h1m-68 1h1m3 0h1m55 0h1m0 0h1m1 0h1m-66 1h1m0 0h1m4 0h1m-2 1h1m1 0h1m0 0h1m50 0h1m0 0h1m5 0h1m-68 1h1m7 0h1m55 0h1m4 0h1m-66 1h1m7 0h1m50 0h1m8 0h1m-73 1h1m4 0h1m0 0h1m56 0h1m7 0h1m-68 1h1m1 0h1m0 0h1m0 0h1m53 0h1m-58 1h1m1 0h1m52 0h1m-3 1h1m0 0h1m-54 1h1m0 0h1m5 0h1m45 0h1m0 0h1m-64 1h1m7 0h1m51 0h1m0 0h1m2 0h1m-63 1h1m7 0h1m0 0h1m3 0h1m43 0h1m7 0h1m-62 1h1m0 0h1m1 0h1m0 0h1m11 0h1m41 0h1m1 0h1m2 0h1m-65 1h1m2 0h1m5 0h1m47 0h1m0 0h1m1 0h1m-63 1h1m1 0h1m8 0h1m45 0h1m-57 1h1m3 0h1m2 0h1m43 0h1m1 0h1m4 0h1m3 0h1m-64 1h1m0 0h1m59 0h1m-59 1h1m0 0h1m1 0h1m3 0h1m1 0h1m35 0h1m6 0h1m0 0h1m-61 1h1m1 0h1m5 0h1m1 0h1m1 0h1m0 0h1m6 0h1m35 0h1m0 0h1m0 0h1m2 0h1m-59 1h1m3 0h1m6 0h1m38 0h1m2 0h1m-56 1h1m15 0h1m25 0h1m1 0h1m7 0h1m2 0h1m4 0h1m3 0h1m-53 1h1m1 0h1m36 0h1m3 0h1m0 0h1m0 0h1m1 0h1m-58 1h1m3 0h1m4 0h1m1 0h1m1 0h1m1 0h1m15 0h1m0 0h1m0 0h1m5 0h1m2 0h1m1 0h1m3 0h1m1 0h1m2 0h1m-49 1h1m1 0h1m0 0h1m1 0h1m0 0h1m2 0h1m3 0h1m24 0h1m0 0h1m0 0h1m3 0h1m3 0h1m0 0h1m-54 1h1m5 0h1m1 0h1m3 0h1m0 0h1m5 0h1m1 0h1m9 0h1m3 0h1m3 0h1m0 0h1m0 0h1m1 0h1m3 0h1m6 0h1m-51 1h1m9 0h1m0 0h1m3 0h1m0 0h1m0 0h1m5 0h1m2 0h1m3 0h1m3 0h1m-14 1h1m0 0h1m3 0h1m0 0h1m1 0h1m0 0h1m0 0h1m14 0h1" stroke="#236dc4" stroke-width="1" fill="none"/>
<path d="M614 2273.5h1m15 2h1m-11 1h1m-19 1h1m13 1h1m9 0h1m-8 1h1m4 0h1m-17 1h1m6 0h1m1 0h1m0 0h1m2 0h1m-9 1h1m2 0h1m1 0h1m8 0h1m2 0h1m0 0h1m-22 1h1m4 0h1m2 0h1m0 0h1m2 0h1m0 0h1m7 0h1m-25 1h1m7 0h1m7 0h1m1 0h1m3 0h1m-18 1h1m2 0h1m0 0h1m10 0h1m1 0h1m3 0h1m-34 1h1m0 0h1m4 0h1m1 0h1m1 0h1m1 0h1m0 0h1m1 0h1m10 0h1m6 0h1m-27 1h1m0 0h1m1 0h1m0 0h1m1 0h1m1 0h1m0 0h1m2 0h1m1 0h1m1 0h1m1 0h1m0 0h1m3 0h1m2 0h1m1 0h1m-45 1h1m2 0h1m6 0h1m0 0h1m1 0h1m0 0h1m0 0h1m1 0h1m8 0h1m5 0h1m0 0h1m6 0h1m1 0h1m2 0h1m-39 1h1m0 0h1m3 0h1m0 0h1m0 0h1m0 0h1m2 0h1m2 0h1m5 0h1m0 0h1m4 0h1m11 0h1m0 0h1m-42 1h1m2 0h1m2 0h1m16 0h1m0 0h1m0 0h1m1 0h1m10 0h1m-43 1h1m4 0h1m4 0h1m9 0h1m13 0h1m0 0h1m1 0h1m4 0h1m-45 1h1m5 0h1m1 0h1m1 0h1m3 0h1m0 0h1m8 0h1m9 0h1m0 0h1m5 0h1m-34 1h1m7 0h1m0 0h1m1 0h1m2 0h1m2 0h1m6 0h1m1 0h1m0 0h1m0 0h1m4 0h1m-29 1h1m1 0h1m4 0h1m9 0h1m0 0h1m0 0h1m1 0h1m1 0h1m1 0h1m2 0h1m-47 1h1m6 0h1m2 0h1m0 0h1m1 0h1m1 0h1m3 0h1m0 0h1m5 0h1m0 0h1m2 0h1m2 0h1m3 0h1m1 0h1m0 0h1m1 0h1m1 0h1m0 0h1m5 0h1m-38 1h1m2 0h1m18 0h1m4 0h1m0 0h1m4 0h1m0 0h1m0 0h1m0 0h1m-50 1h1m7 0h1m2 0h1m1 0h1m2 0h1m0 0h1m5 0h1m2 0h1m9 0h1m1 0h1m8 0h1m-38 1h1m2 0h1m13 0h1m6 0h1m5 0h1m0 0h1m4 0h1m-41 1h1m1 0h1m1 0h1m1 0h1m0 0h1m0 0h1m1 0h1m1 0h1m5 0h1m7 0h1m2 0h1m0 0h1m4 0h1m0 0h1m2 0h1m-44 1h1m2 0h1m2 0h1m1 0h1m1 0h1m0 0h1m0 0h1m2 0h1m6 0h1m1 0h1m0 0h1m0 0h1m0 0h1m6 0h1m2 0h1m3 0h1m-40 1h1m4 0h1m2 0h1m1 0h1m3 0h1m1 0h1m3 0h1m4 0h1m1 0h1m2 0h1m0 0h1m4 0h1m2 0h1m2 0h1m0 0h1m-46 1h1m6 0h1m3 0h1m2 0h1m1 0h1m0 0h1m1 0h1m0 0h1m7 0h1m2 0h1m0 0h1m2 0h1m0 0h1m6 0h1m-47 1h1m14 0h1m0 0h1m4 0h1m6 0h1m0 0h1m2 0h1m0 0h1m3 0h1m0 0h1m3 0h1m3 0h1m-39 1h1m11 0h1m2 0h1m6 0h1m7 0h1m1 0h1m0 0h1m0 0h1m2 0h1m2 0h1m-36 1h1m3 0h1m2 0h1m0 0h1m6 0h1m0 0h1m4 0h1m1 0h1m0 0h1m0 0h1m1 0h1m2 0h1m-40 1h1m5 0h1m1 0h1m0 0h1m1 0h1m7 0h1m2 0h1m3 0h1m5 0h1m1 0h1m0 0h1m1 0h1m5 0h1m-41 1h1m4 0h1m1 0h1m5 0h1m1 0h1m8 0h1m0 0h1m4 0h1m0 0h1m0 0h1m0 0h1m1 0h1m0 0h1m-39 1h1m5 0h1m3 0h1m0 0h1m1 0h1m0 0h1m3 0h1m0 0h1m9 0h1m0 0h1m0 0h1m0 0h1m4 0h1m4 0h1m-44 1h1m9 0h1m0 0h1m2 0h1m1 0h1m0 0h1m1 0h1m9 0h1m3 0h1m9 0h1m-33 1h1m8 0h1m5 0h1m2 0h1m6 0h1m-42 1h1m12 0h1m3 0h1m0 0h1m2 0h1m0 0h1m0 0h1m0 0h1m3 0h1m0 0h1m0 0h1m4 0h1m-22 1h1m3 0h1m5 0h1m4 0h1m6 0h1m-29 1h1m1 0h1m2 0h1m0 0h1m4 0h1m1 0h1m2 0h1m9 0h1m0 0h1m-18 1h1m4 0h1m2 0h1m8 0h1m-27 1h1m2 0h1m0 0h1m2 0h1m3 0h1m5 0h1m2 0h1m2 0h1m-13 1h1m3 0h1m0 0h1m0 0h1m-6 1h1m3 0h1m6 0h1m-20 1h1m10 0h1m5 0h1m-30 1h1m2 0h1m5 1h1m2 0h1m5 0h1m0 0h1m2 1h1m1 0h1m1 0h1m-25 1h1m16 0h1m-16 1h1m3 0h1m0 0h1m3 0h1m14 0h1m-21 1h1m4 0h1m-14 1h1m13 0h1m-1 1h1m3 0h1m-9 1h1m-3 1h1m1 0h1m15 0h1m-28 1h1m1 0h1m2 0h1m25 0h1m-29 1h1m2 0h1m2 0h1m3 0h1m14 0h1m-27 1h1m7 0h1m0 0h1m5 0h1m-6 1h1m1 0h1m9 0h1m-11 1h1m0 0h1m0 0h1m-24 1h1m2 0h1m4 0h1m9 0h1m-11 1h1m1 0h1m3 0h1m10 0h1m0 0h1m-12 1h1m2 0h1m0 0h1m0 0h1m3 0h1m-14 1h1m6 0h1m1 0h1m-11 1h1m1 0h1m2 0h1m0 0h1m0 0h1m1 0h1m0 0h1m3 0h1m-11 1h1m6 0h1m-17 1h1m3 0h1m4 0h1m0 0h1m0 0h1m0 0h1m2 0h1m1 0h1m-7 1h1m10 0h1m-20 1h1m4 0h1m5 0h1m2 0h1m-11 1h1m0 0h1m-9 1h1m13 0h1m1 0h1m1 0h1m-8 1h1m2 0h1m0 0h1m-6 1h1m-26 1h1m16 0h1m-12 1h1m1 0h1m6 0h1m6 0h1m4 0h1m-13 1h1m10 0h1m2 0h1m-19 1h1m3 0h1m5 0h1m-11 1h1m10 0h1m-23 1h1m2 0h1m5 0h1m-6 1h1m6 0h1m11 0h1m4 0h1m-24 1h1m21 0h1m0 0h1m-18 1h1m15 0h1m-22 1h1m4 1h1m-7 1h1m-11 1h1m13 0h1m2 0h1m3 0h1m-25 1h1m35 0h1m-34 1h1m5 0h1m6 0h1m9 0h1m10 0h1m-26 2h1m7 0h1m6 0h1m-11 1h1m8 0h1m3 0h1m-12 1h1m3 0h1m2 0h1m-28 1h1m19 0h1m-21 1h1m6 1h1m9 0h1m-8 1h1m10 0h1m-22 1h1m16 0h1m-30 2h1m27 0h1m-16 1h1m-9 1h1m0 0h1m2 0h1m2 0h1m4 0h1m25 0h1m1 0h1m-48 1h1m6 0h1m5 0h1m0 0h1m21 0h1m-35 1h1m3 0h1m1 0h1m2 0h1m0 0h1m0 0h1m5 0h1m15 0h1m-32 1h1m3 0h1m3 0h1m0 0h1m0 0h1m12 0h1m0 0h1m6 0h1m-51 1h1m14 0h1m12 0h1m2 0h1m15 0h1m-38 1h1m4 0h1m9 0h1m3 0h1m0 0h1m-10 1h1m5 0h1m1 0h1m4 0h1m-34 1h1m10 0h1m3 0h1m3 0h1m1 0h1m1 0h1m3 0h1m1 0h1m1 0h1m0 0h1m0 0h1m13 0h1m-45 1h1m2 0h1m14 0h1m3 0h1m6 0h1m5 0h1m4 0h1m-33 1h1m3 0h1m0 0h1m0 0h1m1 0h1m4 0h1m0 0h1m0 0h1m1 0h1m2 0h1m4 0h1m0 0h1m1 0h1m-47 1h1m7 0h1m0 0h1m5 0h1m0 0h1m8 0h1m0 0h1m3 0h1m2 0h1m0 0h1m3 0h1m14 0h1m-35 1h1m1 0h1m1 0h1m2 0h1m1 0h1m2 0h1m3 0h1m2 0h1m0 0h1m11 0h1m-47 1h1m1 0h1m5 0h1m4 0h1m0 0h1m3 0h1m0 0h1m0 0h1m0 0h1m5 0h1m0 0h1m2 0h1m13 0h1m-41 1h1m1 0h1m5 0h1m2 0h1m0 0h1m3 0h1m3 0h1m1 0h1m6 0h1m0 0h1m5 0h1m-39 1h1m1 0h1m1 0h1m4 0h1m1 0h1m2 0h1m2 0h1m0 0h1m2 0h1m0 0h1m0 0h1m1 0h1m5 0h1m0 0h1m0 0h1m5 0h1m3 0h1m-52 1h1m1 0h1m4 0h1m2 0h1m0 0h1m3 0h1m5 0h1m1 0h1m1 0h1m2 0h1m3 0h1m1 0h1m3 0h1m0 0h1m1 0h1m1 0h1m3 0h1m-44 1h1m0 0h1m1 0h1m0 0h1m4 0h1m0 0h1m7 0h1m7 0h1m4 0h1m1 0h1m0 0h1m1 0h1m1 0h1m2 0h1m-49 1h1m1 0h1m4 0h1m0 0h1m4 0h1m0 0h1m3 0h1m5 0h1m0 0h1m11 0h1m1 0h1m0 0h1m4 0h1m0 0h1m1 0h1m2 0h1m1 0h1m-53 1h1m3 0h1m1 0h1m0 0h1m0 0h1m1 0h1m0 0h1m3 0h1m16 0h1m0 0h1m3 0h1m1 0h1m2 0h1m1 0h1m0 0h1m0 0h1m1 0h1m0 0h1m-49 1h1m4 0h1m8 0h1m1 0h1m13 0h1m2 0h1m2 0h1m4 0h1m2 0h1m1 0h1m0 0h1m-49 1h1m3 0h1m2 0h1m0 0h1m24 0h1m8 0h1m1 0h1m0 0h1m0 0h1m-48 1h1m1 0h1m4 0h1m3 0h1m2 0h1m18 0h1m2 0h1m0 0h1m1 0h1m1 0h1m3 0h1m2 0h1m-55 1h1m2 0h1m0 0h1m1 0h1m2 0h1m2 0h1m1 0h1m34 0h1m0 0h1m0 0h1m-49 1h1m2 0h1m2 0h1m33 0h1m0 0h1m11 0h1m-50 1h1m1 0h1m0 0h1m7 0h1m1 0h1m32 0h1m-54 1h1m17 0h1m31 0h1m1 0h1m2 0h1m0 0h1m-54 1h1m1 0h1m1 0h1m0 0h1m38 0h1m4 0h1m7 0h1m-54 1h1m35 0h1m5 0h1m1 0h1m-45 1h1m2 0h1m38 0h1m0 0h1m0 0h1m4 0h1m-54 1h1m1 0h1m43 0h1m1 0h1m0 0h1m0 0h1m0 0h1m-56 1h1m1 0h1m1 0h1m2 0h1m4 0h1m36 0h1m2 0h1m2 0h1m3 0h1m-57 1h1m0 0h1m39 0h1m4 0h1m0 0h1m-49 1h1m0 0h1m1 0h1m39 0h1m-47 1h1m2 0h1m0 0h1m3 0h1m35 0h1m5 0h1m2 0h1m1 0h1m6 0h1m-66 1h1m3 0h1m0 0h1m2 0h1m0 0h1m2 0h1m40 0h1m3 0h1m-49 1h1m6 0h1m0 0h1m37 0h1m-52 1h1m0 0h1m0 0h1m0 0h1m0 0h1m0 0h1m3 0h1m35 0h1m2 0h1m0 0h1m2 0h1m-51 1h1m0 0h1m0 0h1m40 0h1m1 0h1m0 0h1m2 0h1m0 0h1m-52 1h1m42 0h1m0 0h1m0 0h1m-50 1h1m10 0h1m23 0h1m7 0h1m4 0h1m0 0h1m1 0h1m1 0h1m-54 1h1m1 0h1m0 0h1m0 0h1m0 0h1m2 0h1m2 0h1m0 0h1m11 0h1m17 0h1m1 0h1m9 0h1m-61 1h1m3 0h1m4 0h1m7 0h1m1 0h1m29 0h1m5 0h1m-50 1h1m8 0h1m4 0h1m0 0h1m12 0h1m9 0h1m1 0h1m6 0h1m1 0h1m0 0h1m-54 1h1m13 0h1m1 0h1m20 0h1m2 0h1m1 0h1m0 0h1m6 0h1m0 0h1m0 0h1m-43 1h1m1 0h1m3 0h1m3 0h1m18 0h1m6 0h1m3 0h1m9 0h1m-62 1h1m5 0h1m5 0h1m5 0h1m15 0h1m4 0h1m5 0h1m1 0h1m3 0h1m2 0h1m0 0h1m-48 1h1m1 0h1m0 0h1m3 0h1m0 0h1m0 0h1m6 0h1m1 0h1m2 0h1m8 0h1m5 0h1m0 0h1m0 0h1m1 0h1m2 0h1m7 0h1m-58 1h1m10 0h1m0 0h1m4 0h1m0 0h1m0 0h1m0 0h1m1 0h1m3 0h1m0 0h1m8 0h1m2 0h1m1 0h1m0 0h1m2 0h1m9 0h1m-49 1h1m1 0h1m1 0h1m1 0h1m0 0h1m1 0h1m2 0h1m11 0h1m6 0h1m4 0h1m-32 1h1m0 0h1m2 0h1m2 0h1m0 0h1m3 0h1m0 0h1m2 0h1m5 0h1m2 0h1m5 0h1m1 0h1m2 0h1m-40 1h1m8 0h1m2 0h1m0 0h1m0 0h1m0 0h1m0 0h1m4 0h1m11 0h1m3 0h1m-32 1h1m0 0h1m5 0h1m0 0h1m0 0h1m1 0h1m2 0h1m0 0h1m0 0h1m1 0h1m4 0h1m-13 1h1m15 0h1" stroke="#2591b6" stroke-width="1" fill="none"/>
<path d="M630 2279.5h1m-14 3h1m6 0h1m-9 1h1m3 0h1m0 0h1m-11 1h1m10 0h1m5 0h1m2 0h1m-18 1h1m2 0h1m6 0h1m-23 1h1m6 0h1m4 0h1m9 0h1m-12 1h1m0 0h1m3 0h1m1 0h1m1 0h1m-16 1h1m2 0h1m0 0h1m1 0h1m0 0h1m1 0h1m4 0h1m0 0h1m-17 1h1m0 0h1m0 0h1m0 0h1m0 0h1m0 0h1m0 0h1m0 0h1m16 0h1m-30 1h1m2 0h1m0 0h1m1 0h1m0 0h1m4 0h1m0 0h1m1 0h1m3 0h1m10 0h1m-31 1h1m1 0h1m3 0h1m1 0h1m1 0h1m0 0h1m0 0h1m1 0h1m0 0h1m0 0h1m1 0h1m1 0h1m1 0h1m2 0h1m5 0h1m-36 1h1m4 0h1m0 0h1m0 0h1m0 0h1m2 0h1m1 0h1m0 0h1m2 0h1m2 0h1m1 0h1m1 0h1m1 0h1m4 0h1m1 0h1m-32 1h1m0 0h1m1 0h1m8 0h1m1 0h1m0 0h1m1 0h1m1 0h1m10 0h1m0 0h1m-32 1h1m1 0h1m0 0h1m3 0h1m6 0h1m0 0h1m1 0h1m0 0h1m1 0h1m3 0h1m9 0h1m-25 1h1m0 0h1m1 0h1m0 0h1m4 0h1m0 0h1m2 0h1m0 0h1m0 0h1m-25 1h1m4 0h1m1 0h1m0 0h1m1 0h1m4 0h1m0 0h1m2 0h1m0 0h1m2 0h1m1 0h1m3 0h1m-28 1h1m1 0h1m0 0h1m1 0h1m2 0h1m1 0h1m3 0h1m1 0h1m2 0h1m0 0h1m0 0h1m-23 1h1m3 0h1m0 0h1m0 0h1m4 0h1m1 0h1m0 0h1m1 0h1m6 0h1m-23 1h1m3 0h1m1 0h1m7 0h1m1 0h1m1 0h1m0 0h1m5 0h1m0 0h1m-32 1h1m1 0h1m5 0h1m1 0h1m1 0h1m2 0h1m0 0h1m0 0h1m3 0h1m0 0h1m3 0h1m-27 1h1m8 0h1m2 0h1m0 0h1m3 0h1m6 0h1m3 0h1m-31 1h1m7 0h1m0 0h1m0 0h1m6 0h1m6 0h1m-23 1h1m9 0h1m1 0h1m0 0h1m3 0h1m3 0h1m2 0h1m-21 1h1m1 0h1m0 0h1m2 0h1m0 0h1m0 0h1m0 0h1m0 0h1m6 0h1m-14 1h1m4 0h1m2 0h1m-14 1h1m0 0h1m6 0h1m3 0h1m0 0h1m6 0h1m-26 2h1m5 0h1m5 0h1m1 0h1m0 0h1m0 0h1m1 0h1m-12 1h1m4 0h1m-10 1h1m1 0h1m3 0h1m-9 1h1m10 1h1m9 0h1m-4 4h1m-13 2h1m-21 1h1m21 3h1m8 2h1m-28 2h1m7 1h1m-5 1h1m8 1h1m-16 3h1m4 1h1m8 7h1m-7 7h1m-25 2h1m17 0h1m0 1h1m-14 1h1m-11 9h1m13 11h1m-26 1h1m1 0h1m-9 4h1m1 1h1m2 0h1m2 1h1m1 0h1m-11 1h1m2 1h1m-2 1h1m6 0h1m-4 1h1m1 1h1m3 0h1m-5 1h1m4 0h1m4 0h1m-35 1h1m2 0h1m10 0h1m5 0h1m5 0h1m2 0h1m0 0h1m2 0h1m0 0h1m-20 1h1m0 0h1m0 0h1m1 0h1m1 0h1m4 0h1m9 0h1m-32 1h1m6 0h1m0 0h1m1 0h1m0 0h1m7 0h1m-21 1h1m0 0h1m0 0h1m4 0h1m0 0h1m5 0h1m0 0h1m2 0h1m2 0h1m-18 1h1m1 0h1m2 0h1m3 0h1m0 0h1m0 0h1m0 0h1m0 0h1m1 0h1m-24 1h1m0 0h1m2 0h1m0 0h1m2 0h1m3 0h1m2 0h1m3 0h1m2 0h1m0 0h1m1 0h1m7 0h1m2 0h1m-35 1h1m3 0h1m3 0h1m0 0h1m0 0h1m0 0h1m2 0h1m0 0h1m0 0h1m0 0h1m0 0h1m5 0h1m1 0h1m1 0h1m-38 1h1m0 0h1m5 0h1m1 0h1m0 0h1m9 0h1m1 0h1m2 0h1m3 0h1m2 0h1m2 0h1m4 0h1m-41 1h1m1 0h1m0 0h1m2 0h1m3 0h1m4 0h1m4 0h1m0 0h1m2 0h1m0 0h1m0 0h1m2 0h1m1 0h1m1 0h1m3 0h1m-33 1h1m3 0h1m1 0h1m1 0h1m3 0h1m9 0h1m2 0h1m0 0h1m-32 1h1m0 0h1m3 0h1m0 0h1m1 0h1m0 0h1m0 0h1m4 0h1m3 0h1m4 0h1m1 0h1m4 0h1m0 0h1m0 0h1m1 0h1m0 0h1m1 0h1m-38 1h1m0 0h1m1 0h1m7 0h1m16 0h1m1 0h1m3 0h1m4 0h1m0 0h1m-47 1h1m5 0h1m0 0h1m1 0h1m2 0h1m1 0h1m1 0h1m17 0h1m0 0h1m0 0h1m4 0h1m0 0h1m-40 1h1m2 0h1m0 0h1m0 0h1m1 0h1m3 0h1m15 0h1m0 0h1m5 0h1m4 0h1m1 0h1m1 0h1m-43 1h1m0 0h1m0 0h1m0 0h1m2 0h1m20 0h1m3 0h1m1 0h1m0 0h1m1 0h1m0 0h1m1 0h1m2 0h1m-44 1h1m0 0h1m2 0h1m0 0h1m0 0h1m27 0h1m1 0h1m0 0h1m0 0h1m3 0h1m-43 1h1m2 0h1m0 0h1m24 0h1m4 0h1m0 0h1m-42 1h1m4 0h1m0 0h1m1 0h1m22 0h1m7 0h1m2 0h1m1 0h1m1 0h1m-44 1h1m1 0h1m0 0h1m0 0h1m2 0h1m0 0h1m17 0h1m13 0h1m1 0h1m2 0h1m1 0h1m-48 1h1m0 0h1m0 0h1m0 0h1m1 0h1m0 0h1m1 0h1m0 0h1m17 0h1m-30 1h1m3 0h1m1 0h1m0 0h1m26 0h1m4 0h1m2 0h1m2 0h1m0 0h1m0 0h1m0 0h1m-49 1h1m0 0h1m4 0h1m1 0h1m11 0h1m2 0h1m0 0h1m6 0h1m4 0h1m5 0h1m0 0h1m2 0h1m-48 1h1m2 0h1m0 0h1m2 0h1m2 0h1m2 0h1m23 0h1m1 0h1m3 0h1m3 0h1m-44 1h1m10 0h1m11 0h1m4 0h1m0 0h1m0 0h1m1 0h1m1 0h1m0 0h1m0 0h1m0 0h1m0 0h1m1 0h1m0 0h1m1 0h1m-44 1h1m0 0h1m1 0h1m0 0h1m23 0h1m0 0h1m3 0h1m5 0h1m0 0h1m-42 1h1m0 0h1m0 0h1m0 0h1m0 0h1m0 0h1m1 0h1m0 0h1m2 0h1m10 0h1m6 0h1m5 0h1m0 0h1m1 0h1m1 0h1m-43 1h1m0 0h1m3 0h1m0 0h1m0 0h1m4 0h1m17 0h1m1 0h1m2 0h1m0 0h1m0 0h1m6 0h1m0 0h1m-50 1h1m5 0h1m4 0h1m2 0h1m0 0h1m0 0h1m1 0h1m6 0h1m0 0h1m7 0h1m7 0h1m0 0h1m0 0h1m-42 1h1m10 0h1m0 0h1m10 0h1m5 0h1m0 0h1m3 0h1m2 0h1m2 0h1m0 0h1m1 0h1m1 0h1m-45 1h1m0 0h1m1 0h1m1 0h1m4 0h1m13 0h1m8 0h1m10 0h1m-49 1h1m6 0h1m2 0h1m5 0h1m3 0h1m8 0h1m2 0h1m6 0h1m0 0h1m0 0h1m0 0h1m0 0h1m-38 1h1m0 0h1m4 0h1m0 0h1m2 0h1m7 0h1m2 0h1m1 0h1m3 0h1m9 0h1m-44 1h1m7 0h1m6 0h1m9 0h1m2 0h1m1 0h1m3 0h1m0 0h1m1 0h1m5 0h1m-35 1h1m0 0h1m8 0h1m0 0h1m2 0h1m0 0h1m1 0h1m1 0h1m1 0h1m2 0h1m1 0h1m1 0h1m-31 1h1m3 0h1m0 0h1m1 0h1m9 0h1m2 0h1m2 0h1m4 0h1m10 0h1m-38 1h1m1 0h1m4 0h1m1 0h1m1 0h1m2 0h1m0 0h1m2 0h1m0 0h1m1 0h1m2 0h1m1 0h1m2 0h1m-29 1h1m2 0h1m2 0h1m0 0h1m1 0h1m0 0h1m0 0h1m6 0h1m0 0h1m2 0h1m-21 1h1m3 0h1m4 0h1m0 0h1m2 0h1m0 0h1m1 0h1m1 0h1m0 0h1m-21 1h1m10 0h1m0 0h1m2 0h1m-5 1h1" stroke="#29b4a6" stroke-width="1" fill="none"/>
<path d="M618 2286.5h1m-3 1h1m-2 2h1m0 0h1m-11 2h1m3 0h1m2 1h1m-10 1h1m2 0h1m9 0h1m-14 2h1m1 0h1m8 0h1m0 0h1m0 0h1m7 0h1m-13 1h1m4 0h1m-13 1h1m1 0h1m0 0h1m1 0h1m2 0h1m0 0h1m1 0h1m-9 1h1m6 0h1m2 0h1m-13 1h1m3 0h1m7 0h1m3 0h1m-21 1h1m4 0h1m3 1h1m4 0h1m-6 2h1m-14 2h1m6 0h1m-1 1h1m13 2h1m-63 77h1m-1 1h1m0 1h1m-13 1h1m4 0h1m-19 1h1m7 0h1m13 0h1m-20 1h1m4 0h1m4 0h1m1 0h1m11 0h1m-28 1h1m0 0h1m3 0h1m6 0h1m5 0h1m2 0h1m-28 1h1m1 0h1m1 0h1m2 0h1m1 0h1m1 0h1m0 0h1m1 0h1m0 0h1m3 0h1m0 0h1m2 0h1m2 0h1m-20 1h1m0 0h1m1 0h1m1 0h1m0 0h1m0 0h1m8 0h1m4 0h1m-29 1h1m10 0h1m0 0h1m4 0h1m4 0h1m1 0h1m5 0h1m-32 1h1m3 0h1m3 0h1m4 0h1m0 0h1m2 0h1m0 0h1m0 0h1m4 0h1m0 0h1m0 0h1m0 0h1m3 0h1m-35 1h1m2 0h1m3 0h1m1 0h1m4 0h1m2 0h1m0 0h1m0 0h1m3 0h1m0 0h1m3 0h1m7 0h1m0 0h1m0 0h1m0 0h1m-37 1h1m1 0h1m0 0h1m7 0h1m0 0h1m1 0h1m4 0h1m1 0h1m0 0h1m0 0h1m5 0h1m1 0h1m3 0h1m-39 1h1m3 0h1m1 0h1m3 0h1m3 0h1m1 0h1m4 0h1m0 0h1m1 0h1m3 0h1m0 0h1m3 0h1m2 0h1m1 0h1m-36 1h1m3 0h1m5 0h1m0 0h1m3 0h1m6 0h1m13 0h1m0 0h1m-41 1h1m4 0h1m0 0h1m2 0h1m1 0h1m1 0h1m4 0h1m0 0h1m3 0h1m1 0h1m1 0h1m2 0h1m0 0h1m-29 1h1m0 0h1m4 0h1m0 0h1m5 0h1m18 0h1m2 0h1m-40 1h1m5 0h1m2 0h1m0 0h1m0 0h1m0 0h1m0 0h1m0 0h1m1 0h1m4 0h1m6 0h1m0 0h1m0 0h1m0 0h1m1 0h1m4 0h1m-34 1h1m9 0h1m7 0h1m7 0h1m0 0h1m0 0h1m0 0h1m2 0h1m-38 1h1m2 0h1m3 0h1m4 0h1m0 0h1m2 0h1m3 0h1m3 0h1m1 0h1m1 0h1m0 0h1m0 0h1m0 0h1m4 0h1m0 0h1m0 0h1m-42 1h1m1 0h1m2 0h1m2 0h1m0 0h1m3 0h1m9 0h1m0 0h1m1 0h1m1 0h1m4 0h1m0 0h1m2 0h1m-39 1h1m1 0h1m0 0h1m1 0h1m1 0h1m2 0h1m0 0h1m4 0h1m6 0h1m4 0h1m7 0h1m1 0h1m0 0h1m2 0h1m-35 1h1m3 0h1m7 0h1m0 0h1m0 0h1m7 0h1m0 0h1m0 0h1m0 0h1m3 0h1m0 0h1m-37 1h1m1 0h1m6 0h1m4 0h1m2 0h1m8 0h1m5 0h1m-35 1h1m5 0h1m1 0h1m1 0h1m0 0h1m0 0h1m7 0h1m1 0h1m0 0h1m0 0h1m0 0h1m2 0h1m-14 1h1m0 0h1m4 0h1m1 0h1m2 0h1m0 0h1m4 0h1m0 0h1m0 0h1m2 0h1m-30 1h1m0 0h1m4 0h1m5 0h1m5 0h1m0 0h1m4 0h1m3 0h1m0 0h1m3 0h1m-43 1h1m4 0h1m1 0h1m0 0h1m7 0h1m2 0h1m4 0h1m0 0h1m0 0h1m3 0h1m0 0h1m0 0h1m0 0h1m0 0h1m1 0h1m-35 1h1m3 0h1m0 0h1m5 0h1m1 0h1m4 0h1m2 0h1m5 0h1m0 0h1m0 0h1m1 0h1m3 0h1m-31 1h1m3 0h1m0 0h1m1 0h1m0 0h1m3 0h1m0 0h1m3 0h1m2 0h1m0 0h1m4 0h1m2 0h1m-33 1h1m7 0h1m0 0h1m4 0h1m2 0h1m0 0h1m0 0h1m1 0h1m0 0h1m1 0h1m0 0h1m-26 1h1m1 0h1m2 0h1m0 0h1m1 0h1m0 0h1m1 0h1m1 0h1m0 0h1m1 0h1m0 0h1m1 0h1m-18 1h1m1 0h1m4 0h1m0 0h1m0 0h1m1 0h1m0 0h1m5 0h1m2 0h1m5 0h1m0 0h1m-34 1h1m1 0h1m5 0h1m0 0h1m6 0h1m8 0h1m-14 1h1m1 0h1m0 0h1m3 0h1m0 0h1m1 0h1m4 0h1m-15 1h1m2 1h1m4 0h1m-7 2h1" stroke="#47c064" stroke-width="1" fill="none"/>
<path d="M608 2293.5h1m-6 2h1m5 7h1m3 1h1m-60 80h1m-12 6h1m8 1h1m-8 1h1m-5 1h1m3 0h1m4 0h1m-15 2h1m10 0h1m0 0h1m-13 1h1m12 0h1m-21 1h1m4 0h1m2 0h1m8 0h1m2 0h1m0 0h1m5 0h1m-20 1h1m4 0h1m0 0h1m0 0h1m0 0h1m5 0h1m0 0h1m-22 1h1m4 0h1m0 0h1m3 0h1m0 0h1m0 0h1m3 0h1m3 0h1m-16 1h1m2 0h1m0 0h1m0 0h1m1 0h1m0 0h1m0 0h1m0 0h1m1 0h1m2 0h1m3 0h1m-25 1h1m0 0h1m1 0h1m1 0h1m1 0h1m0 0h1m4 0h1m0 0h1m2 0h1m1 0h1m1 0h1m-35 1h1m10 0h1m1 0h1m3 0h1m0 0h1m4 0h1m3 0h1m0 0h1m0 0h1m2 0h1m3 0h1m0 0h1m4 0h1m-36 1h1m0 0h1m14 0h1m0 0h1m2 0h1m0 0h1m1 0h1m0 0h1m9 0h1m-31 1h1m1 0h1m0 0h1m1 0h1m0 0h1m0 0h1m0 0h1m1 0h1m1 0h1m0 0h1m0 0h1m3 0h1m0 0h1m2 0h1m0 0h1m-20 1h1m3 0h1m4 0h1m5 0h1m1 0h1m7 0h1m-32 1h1m3 0h1m2 0h1m0 0h1m1 0h1m0 0h1m0 0h1m0 0h1m8 0h1m2 0h1m-22 1h1m1 0h1m0 0h1m1 0h1m1 0h1m0 0h1m3 0h1m0 0h1m0 0h1m0 0h1m2 0h1m1 0h1m2 0h1m-30 1h1m2 0h1m1 0h1m4 0h1m1 0h1m0 0h1m3 0h1m0 0h1m1 0h1m1 0h1m-24 1h1m4 0h1m3 0h1m5 0h1m0 0h1m1 0h1m1 0h1m1 0h1m4 0h1m-26 1h1m6 0h1m0 0h1m0 0h1m1 0h1m7 0h1m0 0h1m4 0h1m0 0h1m-25 1h1m0 0h1m1 0h1m0 0h1m4 0h1m1 0h1m7 0h1m2 0h1m-20 1h1m0 0h1m1 0h1m0 0h1m0 0h1m3 0h1m1 0h1m1 0h1m3 0h1m-19 1h1m1 0h1m0 0h1m1 0h1m0 0h1m4 0h1m4 0h1m-24 1h1m2 0h1m2 0h1m0 0h1m1 0h1m4 0h1m4 0h1m0 0h1m0 0h1m-19 1h1m1 0h1m2 0h1m3 0h1m3 0h1m0 0h1m2 0h1m0 0h1m2 0h1m0 0h1m-21 1h1m5 0h1m0 0h1m-2 1h1m8 0h1m1 0h1m-17 1h1m4 0h1m4 0h1m-15 1h1m16 0h1m-4 2h1" stroke="#79cc37" stroke-width="1" fill="none"/>
<path d="M547 2393.5h1m-5 1h1m2 0h1m-5 1h1m-4 1h1m0 0h1m-1 1h1m-6 1h1m3 0h1m1 2h1m-5 1h1m0 0h1m3 0h1m1 0h1m3 0h1m4 0h1m-11 1h1m6 0h1m-21 1h1m18 0h1m-19 1h1m2 0h1m3 0h1m2 0h1m2 0h1m0 0h1m9 0h1m-20 1h1m4 0h1m0 0h1m2 0h1m1 0h1m-16 2h1m0 0h1m0 0h1m9 0h1m1 0h1m-15 1h1m1 0h1m1 0h1m0 0h1m-10 1h1m7 0h1m1 0h1m-6 1h1m2 0h1m1 0h1" stroke="#c8d82b" stroke-width="1" fill="none"/>
<path d="M536 2407.5h1m-5 2h1m2 4h1m4 0h1" stroke="#e6b222" stroke-width="1" fill="none"/>
<rect x="453.4" y="2197" width="231.4" height="229.4" fill="none" stroke="#111" stroke-width="1.3"/>
<line x1="600.8" y1="2197" x2="600.8" y2="2426.4" stroke="#111" stroke-width="1.1"/>
<line x1="453.4" y1="2358.4" x2="684.8" y2="2358.4" stroke="#111" stroke-width="1.1"/>
<path d="M447.4 2426.4H453.4M453.4 2426.4V2432.4M450.4 2409.2H453.4M470.8 2426.4V2429.4M450.4 2399.1H453.4M480.9 2426.4V2429.4M450.4 2391.9H453.4M488.1 2426.4V2429.4M450.4 2386.3H453.4M493.7 2426.4V2429.4M450.4 2381.8H453.4M498.3 2426.4V2429.4M450.4 2378H453.4M502.2 2426.4V2429.4M450.4 2374.7H453.4M505.5 2426.4V2429.4M450.4 2371.7H453.4M508.5 2426.4V2429.4M447.4 2369.1H453.4M511.1 2426.4V2432.4M450.4 2351.9H453.4M528.5 2426.4V2429.4M450.4 2341.8H453.4M538.6 2426.4V2429.4M450.4 2334.6H453.4M545.8 2426.4V2429.4M450.4 2329H453.4M551.4 2426.4V2429.4M450.4 2324.5H453.4M556 2426.4V2429.4M450.4 2320.7H453.4M559.9 2426.4V2429.4M450.4 2317.4H453.4M563.2 2426.4V2429.4M450.4 2314.4H453.4M566.2 2426.4V2429.4M447.4 2311.8H453.4M568.8 2426.4V2432.4M450.4 2294.6H453.4M586.2 2426.4V2429.4M450.4 2284.5H453.4M596.3 2426.4V2429.4M450.4 2277.3H453.4M603.5 2426.4V2429.4M450.4 2271.7H453.4M609.1 2426.4V2429.4M450.4 2267.2H453.4M613.7 2426.4V2429.4M450.4 2263.4H453.4M617.6 2426.4V2429.4M450.4 2260.1H453.4M620.9 2426.4V2429.4M450.4 2257.1H453.4M623.9 2426.4V2429.4M447.4 2254.5H453.4M626.5 2426.4V2432.4M450.4 2237.3H453.4M643.9 2426.4V2429.4M450.4 2227.2H453.4M654 2426.4V2429.4M450.4 2220H453.4M661.2 2426.4V2429.4M450.4 2214.4H453.4M666.8 2426.4V2429.4M450.4 2209.9H453.4M671.4 2426.4V2429.4M450.4 2206.1H453.4M675.3 2426.4V2429.4M450.4 2202.8H453.4M678.6 2426.4V2429.4M450.4 2199.8H453.4M681.6 2426.4V2429.4M447.4 2197.2H453.4M684.2 2426.4V2432.4" stroke="#111" stroke-width="1"/>
<text x="424.9" y="2426.7" font-size="12" textLength="11" lengthAdjust="spacingAndGlyphs" fill="#222">10</text>
<text x="437.1" y="2418.2" font-size="9" fill="#222">0</text>
<text x="456.7" y="2450.2" font-size="12" textLength="12.5" lengthAdjust="spacingAndGlyphs" fill="#222">10</text>
<text x="470" y="2441.9" font-size="9" fill="#222">0</text>
<text x="424.9" y="2369.4" font-size="12" textLength="11" lengthAdjust="spacingAndGlyphs" fill="#222">10</text>
<text x="437.1" y="2360.9" font-size="9" fill="#222">1</text>
<text x="505.1" y="2450.2" font-size="12" textLength="12.5" lengthAdjust="spacingAndGlyphs" fill="#222">10</text>
<text x="518.4" y="2441.9" font-size="9" fill="#222">1</text>
<text x="424.9" y="2312.1" font-size="12" textLength="11" lengthAdjust="spacingAndGlyphs" fill="#222">10</text>
<text x="437.1" y="2303.6" font-size="9" fill="#222">2</text>
<text x="562.8" y="2450.2" font-size="12" textLength="12.5" lengthAdjust="spacingAndGlyphs" fill="#222">10</text>
<text x="576.1" y="2441.9" font-size="9" fill="#222">2</text>
<text x="424.9" y="2254.8" font-size="12" textLength="11" lengthAdjust="spacingAndGlyphs" fill="#222">10</text>
<text x="437.1" y="2246.3" font-size="9" fill="#222">3</text>
<text x="620.5" y="2450.2" font-size="12" textLength="12.5" lengthAdjust="spacingAndGlyphs" fill="#222">10</text>
<text x="633.8" y="2441.9" font-size="9" fill="#222">3</text>
<text x="424.9" y="2217.5" font-size="12" textLength="11" lengthAdjust="spacingAndGlyphs" fill="#222">10</text>
<text x="437.1" y="2209" font-size="9" fill="#222">4</text>
<text x="678.2" y="2450.2" font-size="12" textLength="12.5" lengthAdjust="spacingAndGlyphs" fill="#222">10</text>
<text x="691.5" y="2441.9" font-size="9" fill="#222">4</text>
<text x="458.2" y="2210.2" font-size="11" fill="#222">Q1</text>
<text x="458.2" y="2226.8" font-size="11" fill="#222">5.30%</text>
<text x="649.3" y="2210.2" font-size="11" fill="#222">Q2</text>
<text x="649.3" y="2226.8" font-size="11" fill="#222">13.3%</text>
<text x="458.2" y="2406.9" font-size="11" fill="#222">Q4</text>
<text x="458.2" y="2423.4" font-size="11" fill="#222">62.4%</text>
<text x="649.3" y="2406.9" font-size="11" fill="#222">Q3</text>
<text x="649.3" y="2423.4" font-size="11" fill="#222">19.0%</text>
<rect x="849.5" y="1962.3" width="37.2" height="18.2" fill="#231815" rx="3"/>
<text x="902.5" y="1979.6" font-size="23.4" font-weight="bold" textLength="32.5" lengthAdjust="spacingAndGlyphs">NC</text>
<rect x="849.5" y="2012" width="38.4" height="17.8" fill="#a0a0a0" rx="3"/>
<text x="903.2" y="2029.6" font-size="23.4" font-weight="bold" textLength="108.3" lengthAdjust="spacingAndGlyphs">si-ATAD2</text>
<rect x="877" y="2223.2" width="61.9" height="99.1" fill="#231815" rx="1.5"/>
<rect x="965.2" y="2139" width="62.3" height="183.3" fill="#a0a0a0" rx="1.5"/>
<rect x="1112.4" y="2226.4" width="62" height="95.9" fill="#231815" rx="1.5"/>
<rect x="1200.6" y="2062.2" width="62.4" height="260.1" fill="#a0a0a0" rx="1.5"/>
<line x1="907.9" y1="2218.4" x2="907.9" y2="2223.2" stroke="#231815" stroke-width="3.2"/>
<line x1="892.6" y1="2218.4" x2="923.2" y2="2218.4" stroke="#231815" stroke-width="4" stroke-linecap="round"/>
<line x1="996.4" y1="2133" x2="996.4" y2="2139" stroke="#a0a0a0" stroke-width="3.2"/>
<line x1="980.9" y1="2133" x2="1011.9" y2="2133" stroke="#a0a0a0" stroke-width="4" stroke-linecap="round"/>
<line x1="1143.4" y1="2222.4" x2="1143.4" y2="2226.4" stroke="#231815" stroke-width="3.2"/>
<line x1="1127.9" y1="2222.4" x2="1158.9" y2="2222.4" stroke="#231815" stroke-width="4" stroke-linecap="round"/>
<line x1="1231.8" y1="2055.3" x2="1231.8" y2="2062.2" stroke="#a0a0a0" stroke-width="3.2"/>
<line x1="1216.3" y1="2055.3" x2="1247.3" y2="2055.3" stroke="#a0a0a0" stroke-width="4" stroke-linecap="round"/>
<line x1="835.3" y1="1978.8" x2="835.3" y2="2323.8" stroke="#231815" stroke-width="3.2"/>
<line x1="825.2" y1="2322.3" x2="1306.6" y2="2322.3" stroke="#231815" stroke-width="3.2"/>
<line x1="825.2" y1="1979.2" x2="835.3" y2="1979.2" stroke="#231815" stroke-width="3"/>
<text x="797.7" y="1986.5" font-size="20.5" font-weight="bold" textLength="24.2" lengthAdjust="spacingAndGlyphs">40</text>
<line x1="825.2" y1="2065" x2="835.3" y2="2065" stroke="#231815" stroke-width="3"/>
<text x="797.5" y="2072.3" font-size="20.5" font-weight="bold" textLength="24.4" lengthAdjust="spacingAndGlyphs">30</text>
<line x1="825.2" y1="2150.8" x2="835.3" y2="2150.8" stroke="#231815" stroke-width="3"/>
<text x="797.2" y="2158.1" font-size="20.5" font-weight="bold" textLength="24.7" lengthAdjust="spacingAndGlyphs">20</text>
<line x1="825.2" y1="2236.5" x2="835.3" y2="2236.5" stroke="#231815" stroke-width="3"/>
<text x="796.6" y="2243.8" font-size="20.5" font-weight="bold" textLength="25.4" lengthAdjust="spacingAndGlyphs">10</text>
<line x1="825.2" y1="2322.3" x2="835.3" y2="2322.3" stroke="#231815" stroke-width="3"/>
<text x="808.5" y="2329.6" font-size="20.5" font-weight="bold" textLength="13.4" lengthAdjust="spacingAndGlyphs">0</text>
<line x1="952.6" y1="2322.3" x2="952.6" y2="2331" stroke="#231815" stroke-width="3"/>
<line x1="1188.5" y1="2322.3" x2="1188.5" y2="2331" stroke="#231815" stroke-width="3"/>
<text x="938.9" y="2353.2" font-size="20.9" textLength="28.8" lengthAdjust="spacingAndGlyphs" stroke="#111" stroke-width="0.65">K1</text>
<text x="1166.9" y="2353.2" font-size="20.9" textLength="50.6" lengthAdjust="spacingAndGlyphs" stroke="#111" stroke-width="0.65">TPC1</text>
<line x1="915" y1="2118" x2="987" y2="2118" stroke="#231815" stroke-width="1.8"/>
<text x="949.2" y="2120" font-size="19" text-anchor="middle">**</text>
<line x1="1163.8" y1="2043.2" x2="1227" y2="2043.2" stroke="#231815" stroke-width="1.8"/>
<text x="1193.7" y="2041" font-size="19" text-anchor="middle">**</text>
<text x="759.7" y="2251.3" font-size="20.1" textLength="199" lengthAdjust="spacingAndGlyphs" transform="rotate(-90 759.7 2251.3)" stroke="#111" stroke-width="0.6">Apoptotic cell(%)</text>
</svg>
</body></html>
